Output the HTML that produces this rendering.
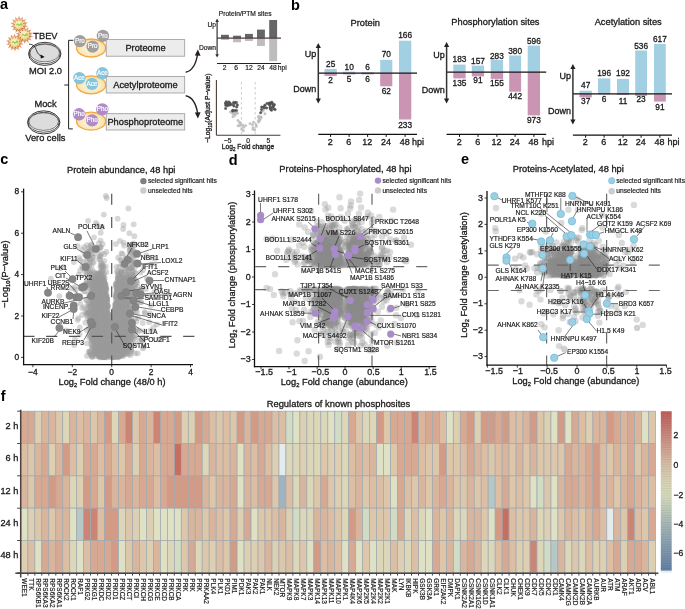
<!DOCTYPE html>
<html><head><meta charset="utf-8"><style>
html,body{margin:0;padding:0;background:#fff;width:685px;height:609px;overflow:hidden}
svg{display:block;font-family:"Liberation Sans",sans-serif;will-change:transform}
</style></head><body>
<svg width="685" height="609" viewBox="0 0 685 609">
<defs>
<radialGradient id="vir" cx="0.45" cy="0.4" r="0.62"><stop offset="0" stop-color="#fbf6dc"/><stop offset="0.55" stop-color="#f3e09a"/><stop offset="1" stop-color="#dcb060"/></radialGradient>
<radialGradient id="cell" cx="0.5" cy="0.55" r="0.6"><stop offset="0" stop-color="#fdf7e6"/><stop offset="0.6" stop-color="#fae9bc"/><stop offset="1" stop-color="#f6d990"/></radialGradient>
</defs>
<rect width="685" height="609" fill="#fff"/>
<text transform="translate(0.00,9.00) scale(1,1.04)" font-size="14.5" font-weight="bold" fill="#000">a</text>
<path d="M24.79,25.19 L27.43,26.47 L24.50,26.61Z M24.06,27.58 L25.89,29.88 L23.19,28.73Z M22.38,29.41 L23.03,32.28 L21.08,30.07Z M20.06,30.33 L19.40,33.20 L18.61,30.37Z M17.58,30.16 L15.74,32.45 L16.25,29.56Z M15.41,28.92 L12.76,30.20 L14.48,27.81Z M14.00,26.87 L11.06,26.87 L13.64,25.46Z M13.61,24.41 L10.97,23.13 L13.90,22.99Z M14.34,22.02 L12.51,19.72 L15.21,20.87Z M16.02,20.19 L15.37,17.32 L17.32,19.53Z M18.34,19.27 L19.00,16.40 L19.79,19.23Z M20.82,19.44 L22.66,17.15 L22.15,20.04Z M22.99,20.68 L25.64,19.40 L23.92,21.79Z M24.40,22.73 L27.34,22.73 L24.76,24.14Z" fill="#dc8a78" stroke="#d07060" stroke-width="0.3"/>
<circle cx="19.2" cy="24.8" r="6.2" fill="url(#vir)" stroke="#c8905a" stroke-width="0.5"/>
<path d="M16.599999999999998,25.2 q1,-2 2,-0.5 t2,-0.4 t1.4,1.2" fill="none" stroke="#9cc850" stroke-width="1.3"/>
<circle cx="23.9" cy="26.2" r="0.5" fill="#c8402e"/>
<circle cx="22.4" cy="28.5" r="0.5" fill="#c8402e"/>
<circle cx="19.8" cy="29.7" r="0.5" fill="#c8402e"/>
<circle cx="17.1" cy="29.2" r="0.5" fill="#c8402e"/>
<circle cx="15.0" cy="27.4" r="0.5" fill="#c8402e"/>
<circle cx="14.3" cy="24.7" r="0.5" fill="#c8402e"/>
<circle cx="15.1" cy="22.1" r="0.5" fill="#c8402e"/>
<circle cx="17.2" cy="20.3" r="0.5" fill="#c8402e"/>
<circle cx="20.0" cy="20.0" r="0.5" fill="#c8402e"/>
<circle cx="22.5" cy="21.1" r="0.5" fill="#c8402e"/>
<circle cx="23.9" cy="23.5" r="0.5" fill="#c8402e"/>
<path d="M30.19,35.49 L32.83,36.77 L29.90,36.91Z M29.46,37.88 L31.29,40.18 L28.59,39.03Z M27.78,39.71 L28.43,42.58 L26.48,40.37Z M25.46,40.63 L24.80,43.50 L24.01,40.67Z M22.98,40.46 L21.14,42.75 L21.65,39.86Z M20.81,39.22 L18.16,40.50 L19.88,38.11Z M19.40,37.17 L16.46,37.17 L19.04,35.76Z M19.01,34.71 L16.37,33.43 L19.30,33.29Z M19.74,32.32 L17.91,30.02 L20.61,31.17Z M21.42,30.49 L20.77,27.62 L22.72,29.83Z M23.74,29.57 L24.40,26.70 L25.19,29.53Z M26.22,29.74 L28.06,27.45 L27.55,30.34Z M28.39,30.98 L31.04,29.70 L29.32,32.09Z M29.80,33.03 L32.74,33.03 L30.16,34.44Z" fill="#dc8a78" stroke="#d07060" stroke-width="0.3"/>
<circle cx="24.6" cy="35.1" r="6.2" fill="url(#vir)" stroke="#c8905a" stroke-width="0.5"/>
<path d="M22.0,35.5 q1,-2 2,-0.5 t2,-0.4 t1.4,1.2" fill="none" stroke="#9cc850" stroke-width="1.3"/>
<circle cx="29.3" cy="36.5" r="0.5" fill="#c8402e"/>
<circle cx="27.8" cy="38.8" r="0.5" fill="#c8402e"/>
<circle cx="25.2" cy="40.0" r="0.5" fill="#c8402e"/>
<circle cx="22.5" cy="39.5" r="0.5" fill="#c8402e"/>
<circle cx="20.4" cy="37.7" r="0.5" fill="#c8402e"/>
<circle cx="19.7" cy="35.0" r="0.5" fill="#c8402e"/>
<circle cx="20.5" cy="32.4" r="0.5" fill="#c8402e"/>
<circle cx="22.6" cy="30.6" r="0.5" fill="#c8402e"/>
<circle cx="25.4" cy="30.3" r="0.5" fill="#c8402e"/>
<circle cx="27.9" cy="31.4" r="0.5" fill="#c8402e"/>
<circle cx="29.3" cy="33.8" r="0.5" fill="#c8402e"/>
<path d="M20.39,42.89 L23.03,44.17 L20.10,44.31Z M19.66,45.28 L21.49,47.58 L18.79,46.43Z M17.98,47.11 L18.63,49.98 L16.68,47.77Z M15.66,48.03 L15.00,50.90 L14.21,48.07Z M13.18,47.86 L11.34,50.15 L11.85,47.26Z M11.01,46.62 L8.36,47.90 L10.08,45.51Z M9.60,44.57 L6.66,44.57 L9.24,43.16Z M9.21,42.11 L6.57,40.83 L9.50,40.69Z M9.94,39.72 L8.11,37.42 L10.81,38.57Z M11.62,37.89 L10.97,35.02 L12.92,37.23Z M13.94,36.97 L14.60,34.10 L15.39,36.93Z M16.42,37.14 L18.26,34.85 L17.75,37.74Z M18.59,38.38 L21.24,37.10 L19.52,39.49Z M20.00,40.43 L22.94,40.43 L20.36,41.84Z" fill="#dc8a78" stroke="#d07060" stroke-width="0.3"/>
<circle cx="14.8" cy="42.5" r="6.2" fill="url(#vir)" stroke="#c8905a" stroke-width="0.5"/>
<path d="M12.200000000000001,42.9 q1,-2 2,-0.5 t2,-0.4 t1.4,1.2" fill="none" stroke="#9cc850" stroke-width="1.3"/>
<circle cx="19.5" cy="43.9" r="0.5" fill="#c8402e"/>
<circle cx="18.0" cy="46.2" r="0.5" fill="#c8402e"/>
<circle cx="15.4" cy="47.4" r="0.5" fill="#c8402e"/>
<circle cx="12.7" cy="46.9" r="0.5" fill="#c8402e"/>
<circle cx="10.6" cy="45.1" r="0.5" fill="#c8402e"/>
<circle cx="9.9" cy="42.4" r="0.5" fill="#c8402e"/>
<circle cx="10.7" cy="39.8" r="0.5" fill="#c8402e"/>
<circle cx="12.8" cy="38.0" r="0.5" fill="#c8402e"/>
<circle cx="15.6" cy="37.7" r="0.5" fill="#c8402e"/>
<circle cx="18.1" cy="38.8" r="0.5" fill="#c8402e"/>
<circle cx="19.5" cy="41.2" r="0.5" fill="#c8402e"/>
<text transform="translate(33.30,39.29) scale(1,1.04)" font-size="9.3" fill="#1a1a1a" stroke="#1a1a1a" stroke-width="0.30">TBEV</text>
<ellipse cx="44.75" cy="53.85" rx="16.2" ry="11.55" fill="#fff" stroke="#222" stroke-width="0.9"/>
<ellipse cx="44.75" cy="53.75" rx="15.5" ry="9.95" fill="none" stroke="#222" stroke-width="0.75"/>
<ellipse cx="44.75" cy="53.050000000000004" rx="14.8" ry="8.8" fill="#dcdcdc" stroke="#333" stroke-width="0.6"/>
<ellipse cx="43.7" cy="122.4" rx="16.2" ry="11.55" fill="#fff" stroke="#222" stroke-width="0.9"/>
<ellipse cx="43.7" cy="122.30000000000001" rx="15.5" ry="9.95" fill="none" stroke="#222" stroke-width="0.75"/>
<ellipse cx="43.7" cy="121.60000000000001" rx="14.8" ry="8.8" fill="#dcdcdc" stroke="#333" stroke-width="0.6"/>
<path d="M29,44.2 C33.5,44 35.5,47.5 36.5,50.5 C37.5,53.5 39.5,55.6 41.6,56.2" fill="none" stroke="#111" stroke-width="0.8"/>
<polygon points="44.7,56.9 40.6,54.5 40.8,58.6" fill="#111"/>
<text transform="translate(29.00,73.59) scale(1,1.04)" font-size="9.3" fill="#1a1a1a" stroke="#1a1a1a" stroke-width="0.30">MOI 2.0</text>
<text transform="translate(34.40,107.49) scale(1,1.04)" font-size="9.3" fill="#1a1a1a" stroke="#1a1a1a" stroke-width="0.30">Mock</text>
<text transform="translate(25.20,140.99) scale(1,1.04)" font-size="9.3" fill="#1a1a1a" stroke="#1a1a1a" stroke-width="0.30">Vero cells</text>
<path d="M73.2,40.3 H68.6 V128.9 H72.8" fill="none" stroke="#222" stroke-width="1"/>
<line x1="64.3" y1="85.0" x2="68.6" y2="85.0" stroke="#222" stroke-width="1"/>
<ellipse cx="91.1" cy="48.0" rx="14.6" ry="9.0" fill="url(#cell)" stroke="#f5a742" stroke-width="1.3"/>
<circle cx="79.9" cy="41.1" r="6.2" fill="#a09e9e"/>
<text transform="translate(79.90,42.99) scale(1,1.04)" font-size="6.3" text-anchor="middle" fill="#fff" stroke="#fff" stroke-width="0.18">Pro</text>
<circle cx="92.6" cy="46.6" r="6.2" fill="#a09e9e"/>
<text transform="translate(92.60,48.49) scale(1,1.04)" font-size="6.3" text-anchor="middle" fill="#fff" stroke="#fff" stroke-width="0.18">Pro</text>
<circle cx="102.9" cy="35.9" r="6.2" fill="#a09e9e"/>
<text transform="translate(102.90,37.79) scale(1,1.04)" font-size="6.3" text-anchor="middle" fill="#fff" stroke="#fff" stroke-width="0.18">Pro</text>
<rect x="106.20" y="39.60" width="78.50" height="16.60" fill="#ececec" stroke="#9a9a9a" stroke-width="0.8"/>
<text transform="translate(145.50,50.89) scale(1,1.04)" font-size="9.3" text-anchor="middle" fill="#1a1a1a" stroke="#1a1a1a" stroke-width="0.30">Proteome</text>
<ellipse cx="91.1" cy="84.8" rx="14.6" ry="9.0" fill="url(#cell)" stroke="#f5a742" stroke-width="1.3"/>
<circle cx="79.4" cy="78.1" r="6.2" fill="#84c4dc"/>
<text transform="translate(79.40,79.99) scale(1,1.04)" font-size="6.3" text-anchor="middle" fill="#fff" stroke="#fff" stroke-width="0.18">Ace</text>
<circle cx="92.0" cy="83.9" r="6.2" fill="#84c4dc"/>
<text transform="translate(92.00,85.79) scale(1,1.04)" font-size="6.3" text-anchor="middle" fill="#fff" stroke="#fff" stroke-width="0.18">Ace</text>
<circle cx="102.4" cy="73.3" r="6.2" fill="#84c4dc"/>
<text transform="translate(102.40,75.19) scale(1,1.04)" font-size="6.3" text-anchor="middle" fill="#fff" stroke="#fff" stroke-width="0.18">Ace</text>
<rect x="106.20" y="76.50" width="78.50" height="16.50" fill="#ececec" stroke="#9a9a9a" stroke-width="0.8"/>
<text transform="translate(145.50,87.74) scale(1,1.04)" font-size="9.3" text-anchor="middle" fill="#1a1a1a" stroke="#1a1a1a" stroke-width="0.30">Acetylproteome</text>
<ellipse cx="91.1" cy="121.2" rx="14.6" ry="9.0" fill="url(#cell)" stroke="#f5a742" stroke-width="1.3"/>
<circle cx="79.1" cy="114.3" r="6.2" fill="#ae8cc8"/>
<text transform="translate(79.10,116.19) scale(1,1.04)" font-size="6.3" text-anchor="middle" fill="#fff" stroke="#fff" stroke-width="0.18">Pho</text>
<circle cx="92.1" cy="120.4" r="6.2" fill="#ae8cc8"/>
<text transform="translate(92.10,122.29) scale(1,1.04)" font-size="6.3" text-anchor="middle" fill="#fff" stroke="#fff" stroke-width="0.18">Pho</text>
<circle cx="102.3" cy="109.4" r="6.2" fill="#ae8cc8"/>
<text transform="translate(102.30,111.29) scale(1,1.04)" font-size="6.3" text-anchor="middle" fill="#fff" stroke="#fff" stroke-width="0.18">Pho</text>
<rect x="106.20" y="113.70" width="78.50" height="16.30" fill="#ececec" stroke="#9a9a9a" stroke-width="0.8"/>
<text transform="translate(145.30,124.84) scale(1,1.04)" font-size="9.3" text-anchor="middle" fill="#1a1a1a" stroke="#1a1a1a" stroke-width="0.30">Phosphoproteome</text>
<path d="M185.7,72.2 C192,71 196,64 197.6,54" fill="none" stroke="#2a1e1e" stroke-width="1.4"/>
<polygon points="197.9,49.5 194.8,55.5 200.6,55.8" fill="#2a1e1e"/>
<path d="M185.7,95.8 C192,97 196,104 197.6,113" fill="none" stroke="#2a1e1e" stroke-width="1.4"/>
<polygon points="197.9,118.5 194.8,112.5 200.6,112.2" fill="#2a1e1e"/>
<text transform="translate(218.70,16.41) scale(1,1.04)" font-size="6.7" fill="#1a1a1a" stroke="#1a1a1a" stroke-width="0.18">Protein/PTM sites</text>
<rect x="221.00" y="34.80" width="7.90" height="3.30" fill="#666666"/>
<rect x="221.00" y="38.10" width="7.90" height="1.90" fill="#bdbdbd"/>
<rect x="233.10" y="35.70" width="7.90" height="2.40" fill="#666666"/>
<rect x="233.10" y="38.10" width="7.90" height="4.20" fill="#bdbdbd"/>
<rect x="245.00" y="33.90" width="7.90" height="4.20" fill="#666666"/>
<rect x="245.00" y="38.10" width="7.90" height="2.90" fill="#bdbdbd"/>
<rect x="257.00" y="29.60" width="7.90" height="8.50" fill="#666666"/>
<rect x="257.00" y="38.10" width="7.90" height="7.90" fill="#bdbdbd"/>
<rect x="269.20" y="20.00" width="7.90" height="18.10" fill="#666666"/>
<rect x="269.20" y="38.10" width="7.90" height="23.00" fill="#bdbdbd"/>
<line x1="217.0" y1="38.1" x2="281.0" y2="38.1" stroke="#4e3e3c" stroke-width="1.3"/>
<line x1="217.1" y1="20.5" x2="217.1" y2="56.0" stroke="#333" stroke-width="1.2"/>
<polygon points="217.1,18.6 215.3,22 218.9,22" fill="#333"/>
<polygon points="217.1,57.6 215.3,54.2 218.9,54.2" fill="#333"/>
<text transform="translate(216.00,27.21) scale(1,1.04)" font-size="6.7" text-anchor="end" fill="#1a1a1a" stroke="#1a1a1a" stroke-width="0.18">Up</text>
<text transform="translate(216.00,50.01) scale(1,1.04)" font-size="6.7" text-anchor="end" fill="#1a1a1a" stroke="#1a1a1a" stroke-width="0.18">Down</text>
<line x1="217.0" y1="63.5" x2="281.0" y2="63.5" stroke="#222" stroke-width="1"/>
<text transform="translate(224.60,70.41) scale(1,1.04)" font-size="6.7" text-anchor="middle" fill="#1a1a1a" stroke="#1a1a1a" stroke-width="0.18">2</text>
<text transform="translate(236.10,70.41) scale(1,1.04)" font-size="6.7" text-anchor="middle" fill="#1a1a1a" stroke="#1a1a1a" stroke-width="0.18">6</text>
<text transform="translate(248.90,70.41) scale(1,1.04)" font-size="6.7" text-anchor="middle" fill="#1a1a1a" stroke="#1a1a1a" stroke-width="0.18">12</text>
<text transform="translate(261.00,70.41) scale(1,1.04)" font-size="6.7" text-anchor="middle" fill="#1a1a1a" stroke="#1a1a1a" stroke-width="0.18">24</text>
<text transform="translate(272.90,70.41) scale(1,1.04)" font-size="6.7" text-anchor="middle" fill="#1a1a1a" stroke="#1a1a1a" stroke-width="0.18">48</text>
<text transform="translate(277.80,70.41) scale(1,1.04)" font-size="6.7" fill="#1a1a1a" stroke="#1a1a1a" stroke-width="0.18">hpi</text>
<line x1="216.4" y1="79.9" x2="216.4" y2="135.3" stroke="#4a3a38" stroke-width="1.1"/>
<line x1="216.4" y1="135.3" x2="280.4" y2="135.3" stroke="#4a3a38" stroke-width="1.1"/>
<line x1="241.4" y1="82.0" x2="241.4" y2="134.5" stroke="#aaa" stroke-width="0.6" stroke-dasharray="2.5,2.5"/>
<line x1="255.2" y1="82.0" x2="255.2" y2="134.5" stroke="#aaa" stroke-width="0.6" stroke-dasharray="2.5,2.5"/>
<circle cx="243.4" cy="130.8" r="1.2" fill="#c4c4c4" stroke="#b0b0b0" stroke-width="0.3"/>
<circle cx="259.8" cy="117.9" r="1.2" fill="#c4c4c4" stroke="#b0b0b0" stroke-width="0.3"/>
<circle cx="238.0" cy="120.5" r="1.2" fill="#c4c4c4" stroke="#b0b0b0" stroke-width="0.3"/>
<circle cx="258.6" cy="122.1" r="1.2" fill="#c4c4c4" stroke="#b0b0b0" stroke-width="0.3"/>
<circle cx="239.6" cy="122.4" r="1.2" fill="#c4c4c4" stroke="#b0b0b0" stroke-width="0.3"/>
<circle cx="261.8" cy="111.4" r="1.2" fill="#c4c4c4" stroke="#b0b0b0" stroke-width="0.3"/>
<circle cx="232.6" cy="113.1" r="1.2" fill="#c4c4c4" stroke="#b0b0b0" stroke-width="0.3"/>
<circle cx="263.3" cy="110.6" r="1.2" fill="#c4c4c4" stroke="#b0b0b0" stroke-width="0.3"/>
<circle cx="232.9" cy="112.1" r="1.2" fill="#c4c4c4" stroke="#b0b0b0" stroke-width="0.3"/>
<circle cx="259.4" cy="120.4" r="1.2" fill="#c4c4c4" stroke="#b0b0b0" stroke-width="0.3"/>
<circle cx="238.0" cy="125.7" r="1.2" fill="#c4c4c4" stroke="#b0b0b0" stroke-width="0.3"/>
<circle cx="258.3" cy="120.6" r="1.2" fill="#c4c4c4" stroke="#b0b0b0" stroke-width="0.3"/>
<circle cx="235.9" cy="113.2" r="1.2" fill="#c4c4c4" stroke="#b0b0b0" stroke-width="0.3"/>
<circle cx="250.0" cy="123.6" r="1.2" fill="#c4c4c4" stroke="#b0b0b0" stroke-width="0.3"/>
<circle cx="234.9" cy="114.4" r="1.2" fill="#c4c4c4" stroke="#b0b0b0" stroke-width="0.3"/>
<circle cx="261.2" cy="116.9" r="1.2" fill="#c4c4c4" stroke="#b0b0b0" stroke-width="0.3"/>
<circle cx="241.7" cy="129.3" r="1.2" fill="#c4c4c4" stroke="#b0b0b0" stroke-width="0.3"/>
<circle cx="256.4" cy="126.3" r="1.2" fill="#c4c4c4" stroke="#b0b0b0" stroke-width="0.3"/>
<circle cx="239.8" cy="125.8" r="1.2" fill="#c4c4c4" stroke="#b0b0b0" stroke-width="0.3"/>
<circle cx="259.6" cy="118.1" r="1.2" fill="#c4c4c4" stroke="#b0b0b0" stroke-width="0.3"/>
<circle cx="245.7" cy="125.6" r="1.2" fill="#c4c4c4" stroke="#b0b0b0" stroke-width="0.3"/>
<circle cx="253.0" cy="127.7" r="1.2" fill="#c4c4c4" stroke="#b0b0b0" stroke-width="0.3"/>
<circle cx="232.9" cy="113.8" r="1.2" fill="#c4c4c4" stroke="#b0b0b0" stroke-width="0.3"/>
<circle cx="256.1" cy="124.7" r="1.2" fill="#c4c4c4" stroke="#b0b0b0" stroke-width="0.3"/>
<circle cx="240.8" cy="125.1" r="1.2" fill="#c4c4c4" stroke="#b0b0b0" stroke-width="0.3"/>
<circle cx="253.5" cy="122.3" r="1.2" fill="#c4c4c4" stroke="#b0b0b0" stroke-width="0.3"/>
<circle cx="240.2" cy="123.0" r="1.2" fill="#c4c4c4" stroke="#b0b0b0" stroke-width="0.3"/>
<circle cx="259.8" cy="120.2" r="1.2" fill="#c4c4c4" stroke="#b0b0b0" stroke-width="0.3"/>
<circle cx="234.9" cy="115.5" r="1.2" fill="#c4c4c4" stroke="#b0b0b0" stroke-width="0.3"/>
<circle cx="262.3" cy="110.3" r="1.2" fill="#c4c4c4" stroke="#b0b0b0" stroke-width="0.3"/>
<circle cx="232.9" cy="116.8" r="1.2" fill="#c4c4c4" stroke="#b0b0b0" stroke-width="0.3"/>
<circle cx="258.5" cy="117.2" r="1.2" fill="#c4c4c4" stroke="#b0b0b0" stroke-width="0.3"/>
<circle cx="237.5" cy="113.2" r="1.2" fill="#c4c4c4" stroke="#b0b0b0" stroke-width="0.3"/>
<circle cx="260.8" cy="118.3" r="1.2" fill="#c4c4c4" stroke="#b0b0b0" stroke-width="0.3"/>
<circle cx="242.9" cy="125.1" r="1.2" fill="#c4c4c4" stroke="#b0b0b0" stroke-width="0.3"/>
<circle cx="254.8" cy="130.1" r="1.2" fill="#c4c4c4" stroke="#b0b0b0" stroke-width="0.3"/>
<circle cx="235.1" cy="113.3" r="1.2" fill="#c4c4c4" stroke="#b0b0b0" stroke-width="0.3"/>
<circle cx="252.5" cy="124.7" r="1.2" fill="#c4c4c4" stroke="#b0b0b0" stroke-width="0.3"/>
<circle cx="243.6" cy="127.3" r="1.2" fill="#c4c4c4" stroke="#b0b0b0" stroke-width="0.3"/>
<circle cx="253.0" cy="129.2" r="1.2" fill="#c4c4c4" stroke="#b0b0b0" stroke-width="0.3"/>
<circle cx="230.4" cy="112.0" r="1.2" fill="#c4c4c4" stroke="#b0b0b0" stroke-width="0.3"/>
<circle cx="264.9" cy="113.8" r="1.2" fill="#c4c4c4" stroke="#b0b0b0" stroke-width="0.3"/>
<circle cx="234.5" cy="113.4" r="1.2" fill="#c4c4c4" stroke="#b0b0b0" stroke-width="0.3"/>
<circle cx="258.7" cy="116.1" r="1.2" fill="#c4c4c4" stroke="#b0b0b0" stroke-width="0.3"/>
<circle cx="225.9" cy="103.0" r="1.25" fill="#5a5a5a" stroke="#444" stroke-width="0.3"/>
<circle cx="235.2" cy="102.5" r="1.25" fill="#5a5a5a" stroke="#444" stroke-width="0.3"/>
<circle cx="225.6" cy="103.7" r="1.25" fill="#5a5a5a" stroke="#444" stroke-width="0.3"/>
<circle cx="226.3" cy="101.7" r="1.25" fill="#5a5a5a" stroke="#444" stroke-width="0.3"/>
<circle cx="225.8" cy="105.4" r="1.25" fill="#5a5a5a" stroke="#444" stroke-width="0.3"/>
<circle cx="233.9" cy="106.0" r="1.25" fill="#5a5a5a" stroke="#444" stroke-width="0.3"/>
<circle cx="227.1" cy="103.7" r="1.25" fill="#5a5a5a" stroke="#444" stroke-width="0.3"/>
<circle cx="232.6" cy="110.9" r="1.25" fill="#5a5a5a" stroke="#444" stroke-width="0.3"/>
<circle cx="237.4" cy="104.9" r="1.25" fill="#5a5a5a" stroke="#444" stroke-width="0.3"/>
<circle cx="225.6" cy="108.4" r="1.25" fill="#5a5a5a" stroke="#444" stroke-width="0.3"/>
<circle cx="236.6" cy="106.9" r="1.25" fill="#5a5a5a" stroke="#444" stroke-width="0.3"/>
<circle cx="234.8" cy="110.6" r="1.25" fill="#5a5a5a" stroke="#444" stroke-width="0.3"/>
<circle cx="232.8" cy="110.3" r="1.25" fill="#5a5a5a" stroke="#444" stroke-width="0.3"/>
<circle cx="225.8" cy="102.9" r="1.25" fill="#5a5a5a" stroke="#444" stroke-width="0.3"/>
<circle cx="228.8" cy="102.0" r="1.25" fill="#5a5a5a" stroke="#444" stroke-width="0.3"/>
<circle cx="236.4" cy="102.6" r="1.25" fill="#5a5a5a" stroke="#444" stroke-width="0.3"/>
<circle cx="233.6" cy="102.4" r="1.25" fill="#5a5a5a" stroke="#444" stroke-width="0.3"/>
<circle cx="229.8" cy="105.1" r="1.25" fill="#5a5a5a" stroke="#444" stroke-width="0.3"/>
<circle cx="227.7" cy="105.7" r="1.25" fill="#5a5a5a" stroke="#444" stroke-width="0.3"/>
<circle cx="231.9" cy="104.6" r="1.25" fill="#5a5a5a" stroke="#444" stroke-width="0.3"/>
<circle cx="234.3" cy="103.5" r="1.25" fill="#5a5a5a" stroke="#444" stroke-width="0.3"/>
<circle cx="227.8" cy="104.1" r="1.25" fill="#5a5a5a" stroke="#444" stroke-width="0.3"/>
<circle cx="230.0" cy="103.1" r="1.25" fill="#5a5a5a" stroke="#444" stroke-width="0.3"/>
<circle cx="236.5" cy="110.6" r="1.25" fill="#5a5a5a" stroke="#444" stroke-width="0.3"/>
<circle cx="261.7" cy="107.0" r="1.25" fill="#5a5a5a" stroke="#444" stroke-width="0.3"/>
<circle cx="263.6" cy="107.3" r="1.25" fill="#5a5a5a" stroke="#444" stroke-width="0.3"/>
<circle cx="264.3" cy="107.7" r="1.25" fill="#5a5a5a" stroke="#444" stroke-width="0.3"/>
<circle cx="274.3" cy="104.6" r="1.25" fill="#5a5a5a" stroke="#444" stroke-width="0.3"/>
<circle cx="270.1" cy="107.3" r="1.25" fill="#5a5a5a" stroke="#444" stroke-width="0.3"/>
<circle cx="271.7" cy="102.2" r="1.25" fill="#5a5a5a" stroke="#444" stroke-width="0.3"/>
<circle cx="271.5" cy="110.2" r="1.25" fill="#5a5a5a" stroke="#444" stroke-width="0.3"/>
<circle cx="269.4" cy="104.7" r="1.25" fill="#5a5a5a" stroke="#444" stroke-width="0.3"/>
<circle cx="270.4" cy="108.3" r="1.25" fill="#5a5a5a" stroke="#444" stroke-width="0.3"/>
<circle cx="270.2" cy="103.3" r="1.25" fill="#5a5a5a" stroke="#444" stroke-width="0.3"/>
<circle cx="275.1" cy="109.6" r="1.25" fill="#5a5a5a" stroke="#444" stroke-width="0.3"/>
<circle cx="266.6" cy="108.0" r="1.25" fill="#5a5a5a" stroke="#444" stroke-width="0.3"/>
<circle cx="260.6" cy="112.8" r="1.25" fill="#5a5a5a" stroke="#444" stroke-width="0.3"/>
<circle cx="272.7" cy="107.2" r="1.25" fill="#5a5a5a" stroke="#444" stroke-width="0.3"/>
<circle cx="271.8" cy="103.3" r="1.25" fill="#5a5a5a" stroke="#444" stroke-width="0.3"/>
<circle cx="264.8" cy="105.3" r="1.25" fill="#5a5a5a" stroke="#444" stroke-width="0.3"/>
<circle cx="269.2" cy="103.0" r="1.25" fill="#5a5a5a" stroke="#444" stroke-width="0.3"/>
<circle cx="273.9" cy="105.4" r="1.25" fill="#5a5a5a" stroke="#444" stroke-width="0.3"/>
<circle cx="266.9" cy="103.6" r="1.25" fill="#5a5a5a" stroke="#444" stroke-width="0.3"/>
<circle cx="270.6" cy="109.2" r="1.25" fill="#5a5a5a" stroke="#444" stroke-width="0.3"/>
<circle cx="269.8" cy="104.2" r="1.25" fill="#5a5a5a" stroke="#444" stroke-width="0.3"/>
<circle cx="272.2" cy="102.9" r="1.25" fill="#5a5a5a" stroke="#444" stroke-width="0.3"/>
<circle cx="272.8" cy="106.7" r="1.25" fill="#5a5a5a" stroke="#444" stroke-width="0.3"/>
<circle cx="264.5" cy="107.7" r="1.25" fill="#5a5a5a" stroke="#444" stroke-width="0.3"/>
<circle cx="269.7" cy="104.4" r="1.25" fill="#5a5a5a" stroke="#444" stroke-width="0.3"/>
<circle cx="273.1" cy="105.2" r="1.25" fill="#5a5a5a" stroke="#444" stroke-width="0.3"/>
<circle cx="273.8" cy="108.8" r="1.25" fill="#5a5a5a" stroke="#444" stroke-width="0.3"/>
<circle cx="261.5" cy="109.5" r="1.25" fill="#5a5a5a" stroke="#444" stroke-width="0.3"/>
<text transform="translate(227.60,142.61) scale(1,1.04)" font-size="6.7" text-anchor="middle" fill="#1a1a1a" stroke="#1a1a1a" stroke-width="0.18">−5</text>
<text transform="translate(248.20,142.61) scale(1,1.04)" font-size="6.7" text-anchor="middle" fill="#1a1a1a" stroke="#1a1a1a" stroke-width="0.18">0</text>
<text transform="translate(268.30,142.61) scale(1,1.04)" font-size="6.7" text-anchor="middle" fill="#1a1a1a" stroke="#1a1a1a" stroke-width="0.18">5</text>
<text transform="translate(248,149.2) scale(1,1.04)" font-size="6.7" text-anchor="middle" fill="#1a1a1a" stroke="#1a1a1a" stroke-width="0.3">Log<tspan font-size="4.5" dy="1.5">2</tspan><tspan dy="-1.5"> Fold change</tspan></text>
<text transform="translate(210.3,108.2) rotate(-90) scale(1,1.04)" font-size="6.7" text-anchor="middle" fill="#1a1a1a" stroke="#1a1a1a" stroke-width="0.3">−Log<tspan font-size="4.5" dy="1.5">10</tspan><tspan dy="-1.5">(Adjust P−value)</tspan></text>
<text transform="translate(291.00,10.10) scale(1,1.04)" font-size="14.5" font-weight="bold" fill="#000">b</text>
<text transform="translate(365.20,26.39) scale(1,1.04)" font-size="9.3" text-anchor="middle" fill="#1a1a1a" stroke="#1a1a1a" stroke-width="0.30">Protein</text>
<rect x="324.50" y="69.00" width="12.30" height="4.20" fill="#a2d0e2"/>
<rect x="324.50" y="73.20" width="12.30" height="2.70" fill="#c995b3"/>
<text transform="translate(330.65,67.09) scale(1,1.04)" font-size="8.3" text-anchor="middle" fill="#1a1a1a" stroke="#1a1a1a" stroke-width="0.30">25</text>
<text transform="translate(330.65,83.29) scale(1,1.04)" font-size="8.3" text-anchor="middle" fill="#1a1a1a" stroke="#1a1a1a" stroke-width="0.30">2</text>
<rect x="343.00" y="71.70" width="12.30" height="1.50" fill="#a2d0e2"/>
<rect x="343.00" y="73.20" width="12.30" height="1.20" fill="#c995b3"/>
<text transform="translate(349.15,69.99) scale(1,1.04)" font-size="8.3" text-anchor="middle" fill="#1a1a1a" stroke="#1a1a1a" stroke-width="0.30">10</text>
<text transform="translate(349.15,82.39) scale(1,1.04)" font-size="8.3" text-anchor="middle" fill="#1a1a1a" stroke="#1a1a1a" stroke-width="0.30">5</text>
<rect x="361.50" y="72.20" width="12.30" height="1.00" fill="#a2d0e2"/>
<rect x="361.50" y="73.20" width="12.30" height="1.20" fill="#c995b3"/>
<text transform="translate(367.65,70.49) scale(1,1.04)" font-size="8.3" text-anchor="middle" fill="#1a1a1a" stroke="#1a1a1a" stroke-width="0.30">6</text>
<text transform="translate(367.65,81.89) scale(1,1.04)" font-size="8.3" text-anchor="middle" fill="#1a1a1a" stroke="#1a1a1a" stroke-width="0.30">6</text>
<rect x="380.20" y="59.90" width="12.10" height="13.30" fill="#a2d0e2"/>
<rect x="380.20" y="73.20" width="12.10" height="13.10" fill="#c995b3"/>
<text transform="translate(386.25,57.19) scale(1,1.04)" font-size="8.3" text-anchor="middle" fill="#1a1a1a" stroke="#1a1a1a" stroke-width="0.30">70</text>
<text transform="translate(386.25,94.19) scale(1,1.04)" font-size="8.3" text-anchor="middle" fill="#1a1a1a" stroke="#1a1a1a" stroke-width="0.30">62</text>
<rect x="399.00" y="40.70" width="12.30" height="32.50" fill="#a2d0e2"/>
<rect x="399.00" y="73.20" width="12.30" height="46.30" fill="#c995b3"/>
<text transform="translate(405.15,38.19) scale(1,1.04)" font-size="8.3" text-anchor="middle" fill="#1a1a1a" stroke="#1a1a1a" stroke-width="0.30">166</text>
<text transform="translate(405.15,127.69) scale(1,1.04)" font-size="8.3" text-anchor="middle" fill="#1a1a1a" stroke="#1a1a1a" stroke-width="0.30">233</text>
<line x1="318.3" y1="73.2" x2="417.0" y2="73.2" stroke="#1a1010" stroke-width="1.2"/>
<line x1="318.3" y1="46.1" x2="318.3" y2="100.5" stroke="#333" stroke-width="1.5"/>
<polygon points="318.3,43.1 315.7,48.1 320.90000000000003,48.1" fill="#222"/>
<polygon points="318.3,103.5 315.7,98.5 320.90000000000003,98.5" fill="#222"/>
<text transform="translate(316.20,56.60) scale(1,1.04)" font-size="9.0" text-anchor="end" fill="#1a1a1a" stroke="#1a1a1a" stroke-width="0.30">Up</text>
<text transform="translate(316.20,91.90) scale(1,1.04)" font-size="9.0" text-anchor="end" fill="#1a1a1a" stroke="#1a1a1a" stroke-width="0.30">Down</text>
<line x1="318.3" y1="134.3" x2="417.0" y2="134.3" stroke="#111" stroke-width="1.2"/>
<line x1="330.6" y1="134.3" x2="330.6" y2="136.9" stroke="#111" stroke-width="1.0"/>
<text transform="translate(330.35,145.20) scale(1,1.04)" font-size="9.0" text-anchor="middle" fill="#1a1a1a" stroke="#1a1a1a" stroke-width="0.30">2</text>
<line x1="349.1" y1="134.3" x2="349.1" y2="136.9" stroke="#111" stroke-width="1.0"/>
<text transform="translate(348.85,145.20) scale(1,1.04)" font-size="9.0" text-anchor="middle" fill="#1a1a1a" stroke="#1a1a1a" stroke-width="0.30">6</text>
<line x1="367.6" y1="134.3" x2="367.6" y2="136.9" stroke="#111" stroke-width="1.0"/>
<text transform="translate(367.35,145.20) scale(1,1.04)" font-size="9.0" text-anchor="middle" fill="#1a1a1a" stroke="#1a1a1a" stroke-width="0.30">12</text>
<line x1="386.2" y1="134.3" x2="386.2" y2="136.9" stroke="#111" stroke-width="1.0"/>
<text transform="translate(385.95,145.20) scale(1,1.04)" font-size="9.0" text-anchor="middle" fill="#1a1a1a" stroke="#1a1a1a" stroke-width="0.30">24</text>
<line x1="405.1" y1="134.3" x2="405.1" y2="136.9" stroke="#111" stroke-width="1.0"/>
<text transform="translate(404.85,145.20) scale(1,1.04)" font-size="9.0" text-anchor="middle" fill="#1a1a1a" stroke="#1a1a1a" stroke-width="0.30">48</text>
<text transform="translate(412.00,145.20) scale(1,1.04)" font-size="9.0" fill="#1a1a1a" stroke="#1a1a1a" stroke-width="0.30">hpi</text>
<text transform="translate(495.40,25.39) scale(1,1.04)" font-size="9.3" text-anchor="middle" fill="#1a1a1a" stroke="#1a1a1a" stroke-width="0.30">Phosphorylation sites</text>
<rect x="453.30" y="64.60" width="12.30" height="7.60" fill="#a2d0e2"/>
<rect x="453.30" y="72.20" width="12.30" height="6.20" fill="#c995b3"/>
<text transform="translate(459.45,62.39) scale(1,1.04)" font-size="8.3" text-anchor="middle" fill="#1a1a1a" stroke="#1a1a1a" stroke-width="0.30">183</text>
<text transform="translate(459.45,86.29) scale(1,1.04)" font-size="8.3" text-anchor="middle" fill="#1a1a1a" stroke="#1a1a1a" stroke-width="0.30">135</text>
<rect x="471.80" y="65.60" width="12.30" height="6.60" fill="#a2d0e2"/>
<rect x="471.80" y="72.20" width="12.30" height="4.20" fill="#c995b3"/>
<text transform="translate(477.95,64.09) scale(1,1.04)" font-size="8.3" text-anchor="middle" fill="#1a1a1a" stroke="#1a1a1a" stroke-width="0.30">157</text>
<text transform="translate(477.95,82.89) scale(1,1.04)" font-size="8.3" text-anchor="middle" fill="#1a1a1a" stroke="#1a1a1a" stroke-width="0.30">91</text>
<rect x="490.70" y="59.90" width="12.40" height="12.30" fill="#a2d0e2"/>
<rect x="490.70" y="72.20" width="12.40" height="6.70" fill="#c995b3"/>
<text transform="translate(496.90,58.69) scale(1,1.04)" font-size="8.3" text-anchor="middle" fill="#1a1a1a" stroke="#1a1a1a" stroke-width="0.30">283</text>
<text transform="translate(496.90,86.29) scale(1,1.04)" font-size="8.3" text-anchor="middle" fill="#1a1a1a" stroke="#1a1a1a" stroke-width="0.30">155</text>
<rect x="509.20" y="55.50" width="11.90" height="16.70" fill="#a2d0e2"/>
<rect x="509.20" y="72.20" width="11.90" height="19.50" fill="#c995b3"/>
<text transform="translate(515.15,53.79) scale(1,1.04)" font-size="8.3" text-anchor="middle" fill="#1a1a1a" stroke="#1a1a1a" stroke-width="0.30">380</text>
<text transform="translate(515.15,99.39) scale(1,1.04)" font-size="8.3" text-anchor="middle" fill="#1a1a1a" stroke="#1a1a1a" stroke-width="0.30">442</text>
<rect x="527.70" y="45.60" width="12.30" height="26.60" fill="#a2d0e2"/>
<rect x="527.70" y="72.20" width="12.30" height="43.20" fill="#c995b3"/>
<text transform="translate(533.85,43.69) scale(1,1.04)" font-size="8.3" text-anchor="middle" fill="#1a1a1a" stroke="#1a1a1a" stroke-width="0.30">596</text>
<text transform="translate(533.85,123.29) scale(1,1.04)" font-size="8.3" text-anchor="middle" fill="#1a1a1a" stroke="#1a1a1a" stroke-width="0.30">973</text>
<line x1="446.6" y1="72.2" x2="546.2" y2="72.2" stroke="#1a1010" stroke-width="1.2"/>
<line x1="446.6" y1="44.9" x2="446.6" y2="100.5" stroke="#333" stroke-width="1.5"/>
<polygon points="446.6,41.9 444.0,46.9 449.20000000000005,46.9" fill="#222"/>
<polygon points="446.6,103.5 444.0,98.5 449.20000000000005,98.5" fill="#222"/>
<text transform="translate(444.80,58.20) scale(1,1.04)" font-size="9.0" text-anchor="end" fill="#1a1a1a" stroke="#1a1a1a" stroke-width="0.30">Up</text>
<text transform="translate(444.80,92.70) scale(1,1.04)" font-size="9.0" text-anchor="end" fill="#1a1a1a" stroke="#1a1a1a" stroke-width="0.30">Down</text>
<line x1="446.6" y1="134.3" x2="546.2" y2="134.3" stroke="#111" stroke-width="1.2"/>
<line x1="459.5" y1="134.3" x2="459.5" y2="136.9" stroke="#111" stroke-width="1.0"/>
<text transform="translate(459.15,144.60) scale(1,1.04)" font-size="9.0" text-anchor="middle" fill="#1a1a1a" stroke="#1a1a1a" stroke-width="0.30">2</text>
<line x1="478.0" y1="134.3" x2="478.0" y2="136.9" stroke="#111" stroke-width="1.0"/>
<text transform="translate(477.65,144.60) scale(1,1.04)" font-size="9.0" text-anchor="middle" fill="#1a1a1a" stroke="#1a1a1a" stroke-width="0.30">6</text>
<line x1="496.9" y1="134.3" x2="496.9" y2="136.9" stroke="#111" stroke-width="1.0"/>
<text transform="translate(496.60,144.60) scale(1,1.04)" font-size="9.0" text-anchor="middle" fill="#1a1a1a" stroke="#1a1a1a" stroke-width="0.30">12</text>
<line x1="515.1" y1="134.3" x2="515.1" y2="136.9" stroke="#111" stroke-width="1.0"/>
<text transform="translate(514.85,144.60) scale(1,1.04)" font-size="9.0" text-anchor="middle" fill="#1a1a1a" stroke="#1a1a1a" stroke-width="0.30">24</text>
<line x1="533.9" y1="134.3" x2="533.9" y2="136.9" stroke="#111" stroke-width="1.0"/>
<text transform="translate(533.55,144.60) scale(1,1.04)" font-size="9.0" text-anchor="middle" fill="#1a1a1a" stroke="#1a1a1a" stroke-width="0.30">48</text>
<text transform="translate(542.00,144.60) scale(1,1.04)" font-size="9.0" fill="#1a1a1a" stroke="#1a1a1a" stroke-width="0.30">hpi</text>
<text transform="translate(628.20,25.39) scale(1,1.04)" font-size="9.3" text-anchor="middle" fill="#1a1a1a" stroke="#1a1a1a" stroke-width="0.30">Acetylation sites</text>
<rect x="579.50" y="90.70" width="12.30" height="3.20" fill="#a2d0e2"/>
<rect x="579.50" y="93.90" width="12.30" height="3.50" fill="#c995b3"/>
<text transform="translate(585.65,88.29) scale(1,1.04)" font-size="8.3" text-anchor="middle" fill="#1a1a1a" stroke="#1a1a1a" stroke-width="0.30">47</text>
<text transform="translate(585.65,104.09) scale(1,1.04)" font-size="8.3" text-anchor="middle" fill="#1a1a1a" stroke="#1a1a1a" stroke-width="0.30">37</text>
<rect x="598.00" y="78.40" width="12.30" height="15.50" fill="#a2d0e2"/>
<rect x="598.00" y="93.90" width="12.30" height="0.50" fill="#c995b3"/>
<text transform="translate(604.15,75.99) scale(1,1.04)" font-size="8.3" text-anchor="middle" fill="#1a1a1a" stroke="#1a1a1a" stroke-width="0.30">196</text>
<text transform="translate(604.15,102.29) scale(1,1.04)" font-size="8.3" text-anchor="middle" fill="#1a1a1a" stroke="#1a1a1a" stroke-width="0.30">6</text>
<rect x="617.00" y="78.90" width="12.00" height="15.00" fill="#a2d0e2"/>
<rect x="617.00" y="93.90" width="12.00" height="1.10" fill="#c995b3"/>
<text transform="translate(623.00,75.99) scale(1,1.04)" font-size="8.3" text-anchor="middle" fill="#1a1a1a" stroke="#1a1a1a" stroke-width="0.30">192</text>
<text transform="translate(623.00,104.09) scale(1,1.04)" font-size="8.3" text-anchor="middle" fill="#1a1a1a" stroke="#1a1a1a" stroke-width="0.30">11</text>
<rect x="635.20" y="50.50" width="11.80" height="43.40" fill="#a2d0e2"/>
<rect x="635.20" y="93.90" width="11.80" height="2.00" fill="#c995b3"/>
<text transform="translate(641.10,48.59) scale(1,1.04)" font-size="8.3" text-anchor="middle" fill="#1a1a1a" stroke="#1a1a1a" stroke-width="0.30">536</text>
<text transform="translate(641.10,102.49) scale(1,1.04)" font-size="8.3" text-anchor="middle" fill="#1a1a1a" stroke="#1a1a1a" stroke-width="0.30">23</text>
<rect x="654.00" y="43.90" width="11.80" height="50.00" fill="#a2d0e2"/>
<rect x="654.00" y="93.90" width="11.80" height="7.70" fill="#c995b3"/>
<text transform="translate(659.90,41.89) scale(1,1.04)" font-size="8.3" text-anchor="middle" fill="#1a1a1a" stroke="#1a1a1a" stroke-width="0.30">617</text>
<text transform="translate(659.90,110.19) scale(1,1.04)" font-size="8.3" text-anchor="middle" fill="#1a1a1a" stroke="#1a1a1a" stroke-width="0.30">91</text>
<line x1="572.9" y1="93.9" x2="672.0" y2="93.9" stroke="#1a1010" stroke-width="1.2"/>
<line x1="572.9" y1="67.1" x2="572.9" y2="121.5" stroke="#333" stroke-width="1.5"/>
<polygon points="572.9,64.1 570.3,69.1 575.5,69.1" fill="#222"/>
<polygon points="572.9,124.5 570.3,119.5 575.5,119.5" fill="#222"/>
<text transform="translate(571.00,78.60) scale(1,1.04)" font-size="9.0" text-anchor="end" fill="#1a1a1a" stroke="#1a1a1a" stroke-width="0.30">Up</text>
<text transform="translate(571.00,114.40) scale(1,1.04)" font-size="9.0" text-anchor="end" fill="#1a1a1a" stroke="#1a1a1a" stroke-width="0.30">Down</text>
<line x1="572.9" y1="135.1" x2="672.0" y2="135.1" stroke="#111" stroke-width="1.2"/>
<line x1="585.6" y1="135.1" x2="585.6" y2="137.7" stroke="#111" stroke-width="1.0"/>
<text transform="translate(585.35,145.00) scale(1,1.04)" font-size="9.0" text-anchor="middle" fill="#1a1a1a" stroke="#1a1a1a" stroke-width="0.30">2</text>
<line x1="604.1" y1="135.1" x2="604.1" y2="137.7" stroke="#111" stroke-width="1.0"/>
<text transform="translate(603.85,145.00) scale(1,1.04)" font-size="9.0" text-anchor="middle" fill="#1a1a1a" stroke="#1a1a1a" stroke-width="0.30">6</text>
<line x1="623.0" y1="135.1" x2="623.0" y2="137.7" stroke="#111" stroke-width="1.0"/>
<text transform="translate(622.70,145.00) scale(1,1.04)" font-size="9.0" text-anchor="middle" fill="#1a1a1a" stroke="#1a1a1a" stroke-width="0.30">12</text>
<line x1="641.1" y1="135.1" x2="641.1" y2="137.7" stroke="#111" stroke-width="1.0"/>
<text transform="translate(640.80,145.00) scale(1,1.04)" font-size="9.0" text-anchor="middle" fill="#1a1a1a" stroke="#1a1a1a" stroke-width="0.30">24</text>
<line x1="659.9" y1="135.1" x2="659.9" y2="137.7" stroke="#111" stroke-width="1.0"/>
<text transform="translate(659.60,145.00) scale(1,1.04)" font-size="9.0" text-anchor="middle" fill="#1a1a1a" stroke="#1a1a1a" stroke-width="0.30">48</text>
<text transform="translate(667.50,145.00) scale(1,1.04)" font-size="9.0" fill="#1a1a1a" stroke="#1a1a1a" stroke-width="0.30">hpi</text>
<text transform="translate(0.20,163.80) scale(1,1.04)" font-size="14.5" font-weight="bold" fill="#000">c</text>
<text transform="translate(121.20,173.09) scale(1,1.04)" font-size="9.3" text-anchor="middle" fill="#1a1a1a" stroke="#1a1a1a" stroke-width="0.30">Protein abundance, 48 hpi</text>
<circle cx="143.4" cy="181.1" r="3.2" fill="#7f7f7f"/>
<text transform="translate(148.00,183.11) scale(1,1.04)" font-size="6.7" fill="#1a1a1a" stroke="#1a1a1a" stroke-width="0.18">selected significant hits</text>
<circle cx="143.4" cy="190.5" r="3.2" fill="#cccccc"/>
<text transform="translate(148.00,192.51) scale(1,1.04)" font-size="6.7" fill="#1a1a1a" stroke="#1a1a1a" stroke-width="0.18">unselected hits</text>
<g fill="#9c9c9c" fill-opacity="0.4">
<circle cx="105.4" cy="300.2" r="2.9"/>
<circle cx="101.3" cy="347.3" r="2.9"/>
<circle cx="98.9" cy="321.8" r="2.9"/>
<circle cx="98.2" cy="312.3" r="2.9"/>
<circle cx="96.9" cy="321.8" r="2.9"/>
<circle cx="102.5" cy="294.4" r="2.9"/>
<circle cx="99.2" cy="328.2" r="2.9"/>
<circle cx="101.5" cy="319.5" r="2.9"/>
<circle cx="98.6" cy="310.1" r="2.9"/>
<circle cx="100.3" cy="320.7" r="2.9"/>
<circle cx="102.2" cy="318.4" r="2.9"/>
<circle cx="116.4" cy="330.0" r="2.9"/>
<circle cx="96.9" cy="321.5" r="2.9"/>
<circle cx="107.1" cy="299.0" r="2.9"/>
<circle cx="97.9" cy="352.0" r="2.9"/>
<circle cx="111.4" cy="347.0" r="2.9"/>
<circle cx="118.9" cy="289.7" r="2.9"/>
<circle cx="120.2" cy="289.4" r="2.9"/>
<circle cx="112.9" cy="327.9" r="2.9"/>
<circle cx="118.6" cy="341.9" r="2.9"/>
<circle cx="128.1" cy="317.9" r="2.9"/>
<circle cx="107.5" cy="318.2" r="2.9"/>
<circle cx="96.3" cy="324.0" r="2.9"/>
<circle cx="100.5" cy="318.7" r="2.9"/>
<circle cx="117.5" cy="336.4" r="2.9"/>
<circle cx="94.3" cy="329.9" r="2.9"/>
<circle cx="118.7" cy="344.6" r="2.9"/>
<circle cx="103.9" cy="298.7" r="2.9"/>
<circle cx="124.6" cy="323.5" r="2.9"/>
<circle cx="120.2" cy="286.3" r="2.9"/>
<circle cx="122.5" cy="338.0" r="2.9"/>
<circle cx="101.1" cy="350.0" r="2.9"/>
<circle cx="103.0" cy="288.9" r="2.9"/>
<circle cx="117.3" cy="349.7" r="2.9"/>
<circle cx="102.1" cy="294.8" r="2.9"/>
<circle cx="94.8" cy="289.5" r="2.9"/>
<circle cx="100.7" cy="297.4" r="2.9"/>
<circle cx="119.9" cy="352.4" r="2.9"/>
<circle cx="95.4" cy="313.9" r="2.9"/>
<circle cx="114.7" cy="322.2" r="2.9"/>
<circle cx="101.4" cy="307.4" r="2.9"/>
<circle cx="96.8" cy="292.9" r="2.9"/>
<circle cx="99.8" cy="357.3" r="2.9"/>
<circle cx="117.4" cy="344.3" r="2.9"/>
<circle cx="97.8" cy="325.8" r="2.9"/>
<circle cx="112.9" cy="327.4" r="2.9"/>
<circle cx="106.1" cy="336.1" r="2.9"/>
<circle cx="100.6" cy="278.9" r="2.9"/>
<circle cx="97.3" cy="323.7" r="2.9"/>
<circle cx="95.1" cy="300.4" r="2.9"/>
<circle cx="120.4" cy="343.5" r="2.9"/>
<circle cx="124.7" cy="320.2" r="2.9"/>
<circle cx="124.3" cy="316.4" r="2.9"/>
<circle cx="116.1" cy="352.8" r="2.9"/>
<circle cx="103.3" cy="298.0" r="2.9"/>
<circle cx="99.6" cy="295.9" r="2.9"/>
<circle cx="96.5" cy="347.2" r="2.9"/>
<circle cx="132.8" cy="293.6" r="2.9"/>
<circle cx="93.9" cy="301.6" r="2.9"/>
<circle cx="104.4" cy="357.2" r="2.9"/>
<circle cx="122.1" cy="325.5" r="2.9"/>
<circle cx="102.7" cy="307.0" r="2.9"/>
<circle cx="101.6" cy="282.3" r="2.9"/>
<circle cx="107.1" cy="312.7" r="2.9"/>
<circle cx="106.5" cy="356.9" r="2.9"/>
<circle cx="115.3" cy="323.2" r="2.9"/>
<circle cx="104.3" cy="330.9" r="2.9"/>
<circle cx="113.8" cy="343.7" r="2.9"/>
<circle cx="105.5" cy="301.1" r="2.9"/>
<circle cx="122.2" cy="345.1" r="2.9"/>
<circle cx="104.2" cy="285.8" r="2.9"/>
<circle cx="107.2" cy="299.6" r="2.9"/>
<circle cx="110.0" cy="334.5" r="2.9"/>
<circle cx="114.2" cy="317.5" r="2.9"/>
<circle cx="114.3" cy="328.1" r="2.9"/>
<circle cx="94.0" cy="320.6" r="2.9"/>
<circle cx="112.6" cy="328.8" r="2.9"/>
<circle cx="116.8" cy="345.9" r="2.9"/>
<circle cx="119.5" cy="326.7" r="2.9"/>
<circle cx="99.0" cy="288.0" r="2.9"/>
<circle cx="99.6" cy="292.5" r="2.9"/>
<circle cx="105.8" cy="287.5" r="2.9"/>
<circle cx="122.9" cy="340.2" r="2.9"/>
<circle cx="116.5" cy="329.3" r="2.9"/>
<circle cx="100.2" cy="316.2" r="2.9"/>
<circle cx="98.6" cy="343.2" r="2.9"/>
<circle cx="104.9" cy="356.2" r="2.9"/>
<circle cx="120.6" cy="351.0" r="2.9"/>
<circle cx="102.6" cy="313.1" r="2.9"/>
<circle cx="101.6" cy="352.0" r="2.9"/>
<circle cx="121.6" cy="333.9" r="2.9"/>
<circle cx="100.1" cy="293.3" r="2.9"/>
<circle cx="110.5" cy="355.7" r="2.9"/>
<circle cx="109.6" cy="335.2" r="2.9"/>
<circle cx="128.2" cy="345.8" r="2.9"/>
<circle cx="100.6" cy="321.5" r="2.9"/>
<circle cx="100.1" cy="306.3" r="2.9"/>
<circle cx="119.7" cy="337.6" r="2.9"/>
<circle cx="118.9" cy="351.1" r="2.9"/>
<circle cx="118.2" cy="286.6" r="2.9"/>
<circle cx="113.8" cy="357.3" r="2.9"/>
<circle cx="105.5" cy="342.9" r="2.9"/>
<circle cx="94.3" cy="316.7" r="2.9"/>
<circle cx="118.9" cy="340.7" r="2.9"/>
<circle cx="94.1" cy="316.7" r="2.9"/>
<circle cx="102.9" cy="338.2" r="2.9"/>
<circle cx="126.3" cy="329.4" r="2.9"/>
<circle cx="120.2" cy="342.4" r="2.9"/>
<circle cx="107.7" cy="334.0" r="2.9"/>
<circle cx="115.5" cy="320.5" r="2.9"/>
<circle cx="93.9" cy="328.7" r="2.9"/>
<circle cx="102.2" cy="347.3" r="2.9"/>
<circle cx="98.3" cy="303.4" r="2.9"/>
<circle cx="102.3" cy="296.9" r="2.9"/>
<circle cx="100.9" cy="330.8" r="2.9"/>
<circle cx="100.6" cy="265.6" r="2.9"/>
<circle cx="106.3" cy="324.5" r="2.9"/>
<circle cx="126.3" cy="305.6" r="2.9"/>
<circle cx="120.9" cy="351.1" r="2.9"/>
<circle cx="116.9" cy="350.9" r="2.9"/>
<circle cx="114.0" cy="321.0" r="2.9"/>
<circle cx="102.6" cy="334.2" r="2.9"/>
<circle cx="127.9" cy="299.5" r="2.9"/>
<circle cx="102.8" cy="326.3" r="2.9"/>
<circle cx="104.8" cy="312.1" r="2.9"/>
<circle cx="98.5" cy="325.7" r="2.9"/>
<circle cx="102.5" cy="304.6" r="2.9"/>
<circle cx="102.7" cy="285.6" r="2.9"/>
<circle cx="120.4" cy="351.1" r="2.9"/>
<circle cx="116.2" cy="294.1" r="2.9"/>
<circle cx="114.7" cy="344.0" r="2.9"/>
<circle cx="100.9" cy="299.6" r="2.9"/>
<circle cx="97.6" cy="324.0" r="2.9"/>
<circle cx="119.6" cy="337.2" r="2.9"/>
<circle cx="117.0" cy="353.8" r="2.9"/>
<circle cx="123.3" cy="307.2" r="2.9"/>
<circle cx="93.5" cy="282.6" r="2.9"/>
<circle cx="125.9" cy="304.1" r="2.9"/>
<circle cx="125.9" cy="344.1" r="2.9"/>
<circle cx="120.3" cy="355.7" r="2.9"/>
<circle cx="107.6" cy="344.8" r="2.9"/>
<circle cx="123.1" cy="333.3" r="2.9"/>
<circle cx="104.5" cy="279.0" r="2.9"/>
<circle cx="95.6" cy="333.5" r="2.9"/>
<circle cx="103.4" cy="316.8" r="2.9"/>
<circle cx="101.5" cy="310.3" r="2.9"/>
<circle cx="118.1" cy="335.9" r="2.9"/>
<circle cx="121.1" cy="288.2" r="2.9"/>
<circle cx="105.0" cy="312.1" r="2.9"/>
<circle cx="106.5" cy="295.5" r="2.9"/>
<circle cx="98.1" cy="321.8" r="2.9"/>
<circle cx="99.0" cy="341.4" r="2.9"/>
<circle cx="99.4" cy="340.4" r="2.9"/>
<circle cx="124.4" cy="321.6" r="2.9"/>
<circle cx="123.2" cy="284.7" r="2.9"/>
<circle cx="127.8" cy="294.5" r="2.9"/>
<circle cx="126.5" cy="337.4" r="2.9"/>
<circle cx="128.1" cy="311.0" r="2.9"/>
<circle cx="100.3" cy="331.0" r="2.9"/>
<circle cx="120.0" cy="331.8" r="2.9"/>
<circle cx="115.6" cy="353.1" r="2.9"/>
<circle cx="108.6" cy="332.3" r="2.9"/>
<circle cx="102.6" cy="340.0" r="2.9"/>
<circle cx="100.2" cy="278.7" r="2.9"/>
<circle cx="107.0" cy="336.3" r="2.9"/>
<circle cx="119.2" cy="288.9" r="2.9"/>
<circle cx="97.8" cy="302.0" r="2.9"/>
<circle cx="98.2" cy="298.1" r="2.9"/>
<circle cx="95.2" cy="326.0" r="2.9"/>
<circle cx="99.6" cy="318.8" r="2.9"/>
<circle cx="98.5" cy="278.8" r="2.9"/>
<circle cx="127.0" cy="302.6" r="2.9"/>
<circle cx="118.7" cy="284.4" r="2.9"/>
<circle cx="100.4" cy="354.6" r="2.9"/>
<circle cx="108.6" cy="330.3" r="2.9"/>
<circle cx="127.6" cy="326.7" r="2.9"/>
<circle cx="109.3" cy="323.2" r="2.9"/>
<circle cx="97.9" cy="329.7" r="2.9"/>
<circle cx="106.9" cy="351.3" r="2.9"/>
<circle cx="107.2" cy="318.0" r="2.9"/>
<circle cx="127.0" cy="327.6" r="2.9"/>
<circle cx="115.2" cy="304.3" r="2.9"/>
<circle cx="102.5" cy="295.9" r="2.9"/>
<circle cx="97.3" cy="341.0" r="2.9"/>
<circle cx="104.6" cy="304.5" r="2.9"/>
<circle cx="94.0" cy="300.3" r="2.9"/>
<circle cx="103.3" cy="314.3" r="2.9"/>
<circle cx="120.0" cy="295.4" r="2.9"/>
<circle cx="101.9" cy="334.6" r="2.9"/>
<circle cx="117.3" cy="307.5" r="2.9"/>
<circle cx="106.5" cy="297.7" r="2.9"/>
<circle cx="114.4" cy="351.2" r="2.9"/>
<circle cx="117.2" cy="283.6" r="2.9"/>
<circle cx="113.8" cy="342.7" r="2.9"/>
<circle cx="105.6" cy="288.7" r="2.9"/>
<circle cx="117.4" cy="299.5" r="2.9"/>
<circle cx="97.2" cy="274.0" r="2.9"/>
<circle cx="103.0" cy="306.5" r="2.9"/>
<circle cx="121.0" cy="327.7" r="2.9"/>
<circle cx="125.6" cy="330.3" r="2.9"/>
<circle cx="116.2" cy="310.0" r="2.9"/>
<circle cx="95.8" cy="282.6" r="2.9"/>
<circle cx="125.4" cy="331.5" r="2.9"/>
<circle cx="128.6" cy="348.9" r="2.9"/>
<circle cx="92.9" cy="301.9" r="2.9"/>
<circle cx="125.8" cy="318.4" r="2.9"/>
<circle cx="105.0" cy="294.1" r="2.9"/>
<circle cx="119.5" cy="328.2" r="2.9"/>
<circle cx="112.1" cy="336.0" r="2.9"/>
<circle cx="107.4" cy="341.5" r="2.9"/>
<circle cx="124.9" cy="337.1" r="2.9"/>
<circle cx="126.2" cy="293.5" r="2.9"/>
<circle cx="119.0" cy="323.4" r="2.9"/>
<circle cx="128.2" cy="348.1" r="2.9"/>
<circle cx="101.3" cy="294.4" r="2.9"/>
<circle cx="97.6" cy="280.0" r="2.9"/>
<circle cx="120.9" cy="354.8" r="2.9"/>
<circle cx="119.3" cy="334.8" r="2.9"/>
<circle cx="105.1" cy="355.4" r="2.9"/>
<circle cx="121.0" cy="354.6" r="2.9"/>
<circle cx="117.3" cy="289.8" r="2.9"/>
<circle cx="114.6" cy="328.3" r="2.9"/>
<circle cx="113.8" cy="355.3" r="2.9"/>
<circle cx="126.3" cy="325.4" r="2.9"/>
<circle cx="97.1" cy="351.8" r="2.9"/>
<circle cx="124.6" cy="284.3" r="2.9"/>
<circle cx="104.5" cy="295.1" r="2.9"/>
<circle cx="115.4" cy="334.1" r="2.9"/>
<circle cx="110.7" cy="342.3" r="2.9"/>
<circle cx="121.5" cy="326.4" r="2.9"/>
<circle cx="101.8" cy="279.7" r="2.9"/>
<circle cx="95.1" cy="278.1" r="2.9"/>
<circle cx="100.5" cy="342.1" r="2.9"/>
<circle cx="101.5" cy="303.2" r="2.9"/>
<circle cx="109.1" cy="345.9" r="2.9"/>
<circle cx="97.2" cy="326.5" r="2.9"/>
<circle cx="98.4" cy="312.8" r="2.9"/>
<circle cx="127.2" cy="332.4" r="2.9"/>
<circle cx="118.7" cy="342.0" r="2.9"/>
<circle cx="107.7" cy="305.8" r="2.9"/>
<circle cx="111.8" cy="352.2" r="2.9"/>
<circle cx="124.7" cy="286.4" r="2.9"/>
<circle cx="119.3" cy="330.6" r="2.9"/>
<circle cx="122.8" cy="345.5" r="2.9"/>
<circle cx="102.5" cy="346.6" r="2.9"/>
<circle cx="103.0" cy="333.1" r="2.9"/>
<circle cx="122.4" cy="346.0" r="2.9"/>
<circle cx="106.4" cy="346.9" r="2.9"/>
<circle cx="110.3" cy="326.5" r="2.9"/>
<circle cx="108.1" cy="333.0" r="2.9"/>
<circle cx="123.7" cy="321.6" r="2.9"/>
<circle cx="101.4" cy="286.2" r="2.9"/>
<circle cx="110.3" cy="328.5" r="2.9"/>
<circle cx="97.7" cy="327.0" r="2.9"/>
<circle cx="126.7" cy="340.0" r="2.9"/>
<circle cx="120.0" cy="351.5" r="2.9"/>
<circle cx="97.3" cy="319.3" r="2.9"/>
<circle cx="96.8" cy="316.7" r="2.9"/>
<circle cx="100.9" cy="342.6" r="2.9"/>
<circle cx="122.1" cy="322.7" r="2.9"/>
<circle cx="100.4" cy="277.1" r="2.9"/>
<circle cx="101.9" cy="328.4" r="2.9"/>
<circle cx="100.0" cy="277.5" r="2.9"/>
<circle cx="119.2" cy="356.1" r="2.9"/>
<circle cx="110.9" cy="343.3" r="2.9"/>
<circle cx="97.3" cy="314.1" r="2.9"/>
<circle cx="109.4" cy="337.4" r="2.9"/>
<circle cx="124.9" cy="315.3" r="2.9"/>
<circle cx="123.9" cy="325.9" r="2.9"/>
<circle cx="94.9" cy="283.6" r="2.9"/>
<circle cx="98.9" cy="343.1" r="2.9"/>
<circle cx="96.0" cy="327.2" r="2.9"/>
<circle cx="92.8" cy="323.6" r="2.9"/>
<circle cx="123.9" cy="320.8" r="2.9"/>
<circle cx="103.8" cy="282.6" r="2.9"/>
<circle cx="103.2" cy="309.3" r="2.9"/>
<circle cx="106.1" cy="321.8" r="2.9"/>
<circle cx="116.4" cy="304.9" r="2.9"/>
<circle cx="100.3" cy="354.8" r="2.9"/>
<circle cx="111.3" cy="348.5" r="2.9"/>
<circle cx="94.7" cy="315.0" r="2.9"/>
<circle cx="107.5" cy="322.1" r="2.9"/>
<circle cx="122.1" cy="303.5" r="2.9"/>
<circle cx="117.9" cy="356.9" r="2.9"/>
<circle cx="94.6" cy="288.5" r="2.9"/>
<circle cx="101.8" cy="304.8" r="2.9"/>
<circle cx="98.1" cy="324.8" r="2.9"/>
<circle cx="111.0" cy="334.9" r="2.9"/>
<circle cx="121.9" cy="277.9" r="2.9"/>
<circle cx="112.4" cy="349.3" r="2.9"/>
<circle cx="115.2" cy="351.5" r="2.9"/>
<circle cx="107.5" cy="330.6" r="2.9"/>
<circle cx="100.9" cy="339.4" r="2.9"/>
<circle cx="94.3" cy="339.8" r="2.9"/>
<circle cx="104.3" cy="307.9" r="2.9"/>
<circle cx="107.4" cy="351.0" r="2.9"/>
<circle cx="116.2" cy="341.1" r="2.9"/>
<circle cx="112.0" cy="332.7" r="2.9"/>
<circle cx="126.3" cy="342.0" r="2.9"/>
<circle cx="125.0" cy="330.7" r="2.9"/>
<circle cx="101.4" cy="293.3" r="2.9"/>
<circle cx="108.2" cy="318.8" r="2.9"/>
<circle cx="110.8" cy="336.6" r="2.9"/>
<circle cx="102.4" cy="286.4" r="2.9"/>
<circle cx="104.9" cy="312.9" r="2.9"/>
<circle cx="99.3" cy="354.0" r="2.9"/>
<circle cx="105.2" cy="285.4" r="2.9"/>
<circle cx="119.5" cy="294.9" r="2.9"/>
<circle cx="96.4" cy="299.5" r="2.9"/>
<circle cx="123.7" cy="335.7" r="2.9"/>
<circle cx="89.2" cy="312.7" r="2.9"/>
<circle cx="103.8" cy="344.8" r="2.9"/>
<circle cx="98.0" cy="308.8" r="2.9"/>
<circle cx="95.0" cy="332.4" r="2.9"/>
<circle cx="103.8" cy="345.7" r="2.9"/>
<circle cx="94.2" cy="314.4" r="2.9"/>
<circle cx="122.4" cy="349.5" r="2.9"/>
<circle cx="114.5" cy="337.0" r="2.9"/>
<circle cx="118.3" cy="307.6" r="2.9"/>
<circle cx="100.2" cy="311.5" r="2.9"/>
<circle cx="99.0" cy="302.4" r="2.9"/>
<circle cx="121.4" cy="353.8" r="2.9"/>
<circle cx="101.8" cy="314.9" r="2.9"/>
<circle cx="129.9" cy="296.7" r="2.9"/>
<circle cx="117.2" cy="302.9" r="2.9"/>
<circle cx="122.9" cy="345.0" r="2.9"/>
<circle cx="120.2" cy="335.5" r="2.9"/>
<circle cx="98.8" cy="328.8" r="2.9"/>
<circle cx="120.6" cy="290.7" r="2.9"/>
<circle cx="95.2" cy="318.3" r="2.9"/>
<circle cx="98.6" cy="328.8" r="2.9"/>
<circle cx="112.6" cy="326.8" r="2.9"/>
<circle cx="124.6" cy="287.1" r="2.9"/>
<circle cx="123.8" cy="294.1" r="2.9"/>
<circle cx="116.9" cy="309.4" r="2.9"/>
<circle cx="121.6" cy="332.6" r="2.9"/>
<circle cx="95.1" cy="303.5" r="2.9"/>
<circle cx="124.9" cy="278.0" r="2.9"/>
<circle cx="125.2" cy="327.6" r="2.9"/>
<circle cx="115.3" cy="351.9" r="2.9"/>
<circle cx="119.3" cy="352.5" r="2.9"/>
<circle cx="121.6" cy="287.6" r="2.9"/>
<circle cx="99.3" cy="336.2" r="2.9"/>
<circle cx="118.8" cy="308.8" r="2.9"/>
<circle cx="102.7" cy="339.8" r="2.9"/>
<circle cx="113.1" cy="322.0" r="2.9"/>
<circle cx="123.3" cy="334.0" r="2.9"/>
<circle cx="110.2" cy="334.0" r="2.9"/>
<circle cx="127.4" cy="301.5" r="2.9"/>
<circle cx="122.2" cy="300.2" r="2.9"/>
<circle cx="107.2" cy="325.9" r="2.9"/>
<circle cx="105.5" cy="341.6" r="2.9"/>
<circle cx="109.1" cy="340.5" r="2.9"/>
<circle cx="121.0" cy="343.1" r="2.9"/>
<circle cx="116.2" cy="304.4" r="2.9"/>
<circle cx="96.5" cy="318.4" r="2.9"/>
<circle cx="123.3" cy="316.2" r="2.9"/>
<circle cx="92.6" cy="340.8" r="2.9"/>
<circle cx="100.2" cy="344.9" r="2.9"/>
<circle cx="91.1" cy="335.3" r="2.9"/>
<circle cx="96.5" cy="332.0" r="2.9"/>
<circle cx="130.1" cy="340.3" r="2.9"/>
<circle cx="103.2" cy="346.4" r="2.9"/>
<circle cx="91.3" cy="314.3" r="2.9"/>
<circle cx="117.2" cy="311.9" r="2.9"/>
<circle cx="104.3" cy="286.9" r="2.9"/>
<circle cx="120.1" cy="326.1" r="2.9"/>
<circle cx="120.0" cy="298.0" r="2.9"/>
<circle cx="108.2" cy="330.6" r="2.9"/>
<circle cx="121.6" cy="280.0" r="2.9"/>
<circle cx="109.3" cy="325.3" r="2.9"/>
<circle cx="102.4" cy="355.7" r="2.9"/>
<circle cx="107.7" cy="313.9" r="2.9"/>
<circle cx="95.4" cy="333.6" r="2.9"/>
<circle cx="99.9" cy="310.6" r="2.9"/>
<circle cx="103.5" cy="345.9" r="2.9"/>
<circle cx="97.7" cy="342.4" r="2.9"/>
<circle cx="126.2" cy="310.8" r="2.9"/>
<circle cx="94.7" cy="337.6" r="2.9"/>
<circle cx="98.0" cy="350.7" r="2.9"/>
<circle cx="103.2" cy="310.3" r="2.9"/>
<circle cx="120.7" cy="338.1" r="2.9"/>
<circle cx="120.5" cy="299.0" r="2.9"/>
<circle cx="100.6" cy="348.6" r="2.9"/>
<circle cx="114.4" cy="331.1" r="2.9"/>
<circle cx="120.7" cy="345.0" r="2.9"/>
<circle cx="122.3" cy="314.8" r="2.9"/>
<circle cx="100.1" cy="353.6" r="2.9"/>
<circle cx="102.9" cy="324.7" r="2.9"/>
<circle cx="112.1" cy="346.8" r="2.9"/>
<circle cx="116.7" cy="295.2" r="2.9"/>
<circle cx="109.0" cy="327.7" r="2.9"/>
<circle cx="105.3" cy="297.9" r="2.9"/>
<circle cx="119.4" cy="305.3" r="2.9"/>
<circle cx="116.3" cy="309.9" r="2.9"/>
<circle cx="99.1" cy="339.3" r="2.9"/>
<circle cx="108.6" cy="320.0" r="2.9"/>
<circle cx="94.8" cy="353.5" r="2.9"/>
<circle cx="107.6" cy="337.9" r="2.9"/>
<circle cx="100.4" cy="313.4" r="2.9"/>
<circle cx="115.0" cy="337.7" r="2.9"/>
<circle cx="123.0" cy="294.1" r="2.9"/>
<circle cx="119.8" cy="356.0" r="2.9"/>
<circle cx="111.7" cy="354.3" r="2.9"/>
<circle cx="95.9" cy="290.5" r="2.9"/>
<circle cx="117.9" cy="351.6" r="2.9"/>
<circle cx="118.6" cy="354.7" r="2.9"/>
<circle cx="127.5" cy="297.7" r="2.9"/>
<circle cx="103.8" cy="337.2" r="2.9"/>
<circle cx="107.6" cy="314.2" r="2.9"/>
<circle cx="106.8" cy="308.3" r="2.9"/>
<circle cx="99.8" cy="288.2" r="2.9"/>
<circle cx="115.9" cy="342.0" r="2.9"/>
<circle cx="116.0" cy="296.2" r="2.9"/>
<circle cx="121.6" cy="334.4" r="2.9"/>
<circle cx="103.1" cy="308.5" r="2.9"/>
<circle cx="128.6" cy="274.4" r="2.9"/>
<circle cx="98.0" cy="326.5" r="2.9"/>
<circle cx="99.8" cy="273.5" r="2.9"/>
<circle cx="123.3" cy="313.6" r="2.9"/>
<circle cx="124.0" cy="331.3" r="2.9"/>
<circle cx="103.9" cy="314.5" r="2.9"/>
<circle cx="107.1" cy="300.0" r="2.9"/>
<circle cx="112.3" cy="344.3" r="2.9"/>
<circle cx="127.9" cy="339.9" r="2.9"/>
<circle cx="126.9" cy="344.7" r="2.9"/>
<circle cx="121.4" cy="286.3" r="2.9"/>
<circle cx="104.7" cy="353.2" r="2.9"/>
<circle cx="106.1" cy="320.0" r="2.9"/>
<circle cx="115.3" cy="323.3" r="2.9"/>
<circle cx="127.8" cy="343.9" r="2.9"/>
<circle cx="101.8" cy="317.3" r="2.9"/>
<circle cx="118.7" cy="287.2" r="2.9"/>
<circle cx="103.0" cy="356.4" r="2.9"/>
<circle cx="96.1" cy="306.3" r="2.9"/>
<circle cx="110.7" cy="334.5" r="2.9"/>
<circle cx="124.0" cy="293.7" r="2.9"/>
<circle cx="101.4" cy="351.7" r="2.9"/>
<circle cx="116.5" cy="314.4" r="2.9"/>
<circle cx="107.0" cy="342.9" r="2.9"/>
<circle cx="102.5" cy="347.0" r="2.9"/>
<circle cx="106.4" cy="296.1" r="2.9"/>
<circle cx="102.3" cy="350.6" r="2.9"/>
<circle cx="105.8" cy="340.1" r="2.9"/>
<circle cx="125.1" cy="292.9" r="2.9"/>
<circle cx="124.3" cy="332.7" r="2.9"/>
<circle cx="100.5" cy="326.0" r="2.9"/>
<circle cx="105.2" cy="314.3" r="2.9"/>
<circle cx="101.4" cy="278.4" r="2.9"/>
<circle cx="100.7" cy="294.3" r="2.9"/>
<circle cx="95.7" cy="331.1" r="2.9"/>
<circle cx="94.9" cy="281.6" r="2.9"/>
<circle cx="126.2" cy="324.0" r="2.9"/>
<circle cx="99.1" cy="310.5" r="2.9"/>
<circle cx="116.7" cy="303.8" r="2.9"/>
<circle cx="100.9" cy="356.3" r="2.9"/>
<circle cx="117.8" cy="335.1" r="2.9"/>
<circle cx="98.5" cy="298.9" r="2.9"/>
<circle cx="104.5" cy="330.1" r="2.9"/>
<circle cx="125.2" cy="331.2" r="2.9"/>
<circle cx="124.6" cy="322.8" r="2.9"/>
<circle cx="101.4" cy="336.4" r="2.9"/>
<circle cx="109.9" cy="350.9" r="2.9"/>
<circle cx="99.1" cy="340.0" r="2.9"/>
<circle cx="95.4" cy="352.7" r="2.9"/>
<circle cx="127.6" cy="321.4" r="2.9"/>
<circle cx="97.7" cy="295.6" r="2.9"/>
<circle cx="104.8" cy="353.0" r="2.9"/>
<circle cx="125.6" cy="323.0" r="2.9"/>
<circle cx="123.0" cy="291.9" r="2.9"/>
<circle cx="116.5" cy="313.0" r="2.9"/>
<circle cx="111.1" cy="340.9" r="2.9"/>
<circle cx="97.9" cy="297.2" r="2.9"/>
<circle cx="116.2" cy="316.2" r="2.9"/>
<circle cx="94.9" cy="318.6" r="2.9"/>
<circle cx="99.5" cy="345.0" r="2.9"/>
<circle cx="95.6" cy="335.4" r="2.9"/>
<circle cx="116.2" cy="307.3" r="2.9"/>
<circle cx="117.3" cy="310.6" r="2.9"/>
<circle cx="110.3" cy="331.2" r="2.9"/>
<circle cx="114.8" cy="310.5" r="2.9"/>
<circle cx="95.0" cy="338.6" r="2.9"/>
<circle cx="122.5" cy="345.4" r="2.9"/>
<circle cx="98.6" cy="303.9" r="2.9"/>
<circle cx="108.8" cy="354.4" r="2.9"/>
<circle cx="128.0" cy="291.2" r="2.9"/>
<circle cx="100.5" cy="281.0" r="2.9"/>
<circle cx="118.1" cy="292.5" r="2.9"/>
<circle cx="112.0" cy="346.4" r="2.9"/>
<circle cx="101.1" cy="312.8" r="2.9"/>
<circle cx="99.0" cy="286.1" r="2.9"/>
<circle cx="117.8" cy="315.1" r="2.9"/>
<circle cx="108.5" cy="344.3" r="2.9"/>
<circle cx="125.6" cy="333.5" r="2.9"/>
<circle cx="95.9" cy="295.8" r="2.9"/>
<circle cx="124.7" cy="291.4" r="2.9"/>
<circle cx="127.3" cy="338.8" r="2.9"/>
<circle cx="105.8" cy="350.0" r="2.9"/>
<circle cx="125.3" cy="292.1" r="2.9"/>
<circle cx="99.2" cy="314.8" r="2.9"/>
<circle cx="119.2" cy="285.4" r="2.9"/>
<circle cx="98.7" cy="321.2" r="2.9"/>
<circle cx="97.1" cy="337.4" r="2.9"/>
<circle cx="110.5" cy="351.0" r="2.9"/>
<circle cx="106.7" cy="322.2" r="2.9"/>
<circle cx="100.5" cy="299.9" r="2.9"/>
<circle cx="130.2" cy="323.2" r="2.9"/>
<circle cx="101.2" cy="298.1" r="2.9"/>
<circle cx="108.7" cy="329.4" r="2.9"/>
<circle cx="122.5" cy="334.9" r="2.9"/>
<circle cx="126.9" cy="287.1" r="2.9"/>
<circle cx="129.2" cy="279.6" r="2.9"/>
<circle cx="119.5" cy="290.5" r="2.9"/>
<circle cx="100.9" cy="349.4" r="2.9"/>
<circle cx="94.7" cy="295.3" r="2.9"/>
<circle cx="117.9" cy="342.9" r="2.9"/>
<circle cx="95.6" cy="348.5" r="2.9"/>
<circle cx="101.6" cy="343.7" r="2.9"/>
<circle cx="122.4" cy="296.3" r="2.9"/>
<circle cx="127.7" cy="298.4" r="2.9"/>
<circle cx="96.9" cy="278.4" r="2.9"/>
<circle cx="121.2" cy="300.3" r="2.9"/>
<circle cx="95.1" cy="302.1" r="2.9"/>
<circle cx="98.0" cy="296.7" r="2.9"/>
<circle cx="116.1" cy="349.3" r="2.9"/>
<circle cx="119.0" cy="351.8" r="2.9"/>
<circle cx="117.8" cy="349.8" r="2.9"/>
<circle cx="98.8" cy="340.4" r="2.9"/>
<circle cx="101.9" cy="290.0" r="2.9"/>
<circle cx="111.2" cy="338.1" r="2.9"/>
<circle cx="114.8" cy="350.3" r="2.9"/>
<circle cx="119.4" cy="354.0" r="2.9"/>
<circle cx="113.1" cy="333.8" r="2.9"/>
<circle cx="111.3" cy="353.6" r="2.9"/>
<circle cx="96.1" cy="314.6" r="2.9"/>
<circle cx="124.8" cy="280.3" r="2.9"/>
<circle cx="120.5" cy="308.7" r="2.9"/>
<circle cx="123.8" cy="348.1" r="2.9"/>
<circle cx="123.3" cy="300.3" r="2.9"/>
<circle cx="116.1" cy="330.4" r="2.9"/>
<circle cx="125.8" cy="287.0" r="2.9"/>
<circle cx="125.7" cy="314.4" r="2.9"/>
<circle cx="121.9" cy="281.8" r="2.9"/>
<circle cx="99.5" cy="303.4" r="2.9"/>
<circle cx="100.4" cy="303.5" r="2.9"/>
<circle cx="117.7" cy="335.1" r="2.9"/>
<circle cx="120.3" cy="304.7" r="2.9"/>
<circle cx="126.5" cy="333.8" r="2.9"/>
<circle cx="106.8" cy="345.0" r="2.9"/>
<circle cx="103.1" cy="330.4" r="2.9"/>
<circle cx="117.6" cy="322.6" r="2.9"/>
<circle cx="108.5" cy="315.8" r="2.9"/>
<circle cx="121.1" cy="290.8" r="2.9"/>
<circle cx="112.2" cy="356.7" r="2.9"/>
<circle cx="124.8" cy="301.8" r="2.9"/>
<circle cx="95.8" cy="284.5" r="2.9"/>
<circle cx="100.7" cy="339.9" r="2.9"/>
<circle cx="98.7" cy="327.1" r="2.9"/>
<circle cx="117.3" cy="285.7" r="2.9"/>
<circle cx="90.2" cy="304.4" r="2.9"/>
<circle cx="97.8" cy="339.0" r="2.9"/>
<circle cx="110.1" cy="332.5" r="2.9"/>
<circle cx="126.3" cy="268.1" r="2.9"/>
<circle cx="115.5" cy="329.7" r="2.9"/>
<circle cx="126.3" cy="326.4" r="2.9"/>
<circle cx="96.7" cy="293.5" r="2.9"/>
<circle cx="122.9" cy="277.1" r="2.9"/>
<circle cx="97.1" cy="348.1" r="2.9"/>
<circle cx="101.7" cy="297.3" r="2.9"/>
<circle cx="100.3" cy="344.5" r="2.9"/>
<circle cx="101.1" cy="340.2" r="2.9"/>
<circle cx="123.5" cy="313.1" r="2.9"/>
<circle cx="128.4" cy="303.8" r="2.9"/>
<circle cx="125.9" cy="300.5" r="2.9"/>
<circle cx="108.5" cy="335.0" r="2.9"/>
<circle cx="96.6" cy="282.3" r="2.9"/>
<circle cx="119.9" cy="309.2" r="2.9"/>
<circle cx="114.2" cy="339.1" r="2.9"/>
<circle cx="97.4" cy="326.5" r="2.9"/>
<circle cx="120.4" cy="352.7" r="2.9"/>
<circle cx="123.1" cy="297.0" r="2.9"/>
<circle cx="101.6" cy="333.1" r="2.9"/>
<circle cx="124.1" cy="332.1" r="2.9"/>
<circle cx="93.0" cy="292.7" r="2.9"/>
<circle cx="124.1" cy="349.8" r="2.9"/>
<circle cx="121.5" cy="270.7" r="2.9"/>
<circle cx="95.5" cy="280.6" r="2.9"/>
<circle cx="120.4" cy="336.9" r="2.9"/>
<circle cx="127.3" cy="285.9" r="2.9"/>
<circle cx="118.8" cy="297.7" r="2.9"/>
<circle cx="102.9" cy="332.3" r="2.9"/>
<circle cx="100.7" cy="354.7" r="2.9"/>
<circle cx="107.9" cy="321.9" r="2.9"/>
<circle cx="116.6" cy="312.1" r="2.9"/>
<circle cx="104.6" cy="322.6" r="2.9"/>
<circle cx="94.9" cy="322.3" r="2.9"/>
<circle cx="124.9" cy="351.9" r="2.9"/>
<circle cx="123.2" cy="296.2" r="2.9"/>
<circle cx="100.4" cy="336.6" r="2.9"/>
<circle cx="121.5" cy="321.2" r="2.9"/>
<circle cx="94.2" cy="334.4" r="2.9"/>
<circle cx="120.9" cy="341.9" r="2.9"/>
<circle cx="114.5" cy="316.8" r="2.9"/>
<circle cx="121.0" cy="347.1" r="2.9"/>
<circle cx="113.3" cy="339.0" r="2.9"/>
<circle cx="93.1" cy="332.7" r="2.9"/>
<circle cx="128.0" cy="334.3" r="2.9"/>
<circle cx="130.7" cy="302.1" r="2.9"/>
<circle cx="120.1" cy="316.3" r="2.9"/>
<circle cx="99.0" cy="340.1" r="2.9"/>
<circle cx="107.4" cy="306.6" r="2.9"/>
<circle cx="104.3" cy="354.4" r="2.9"/>
<circle cx="93.3" cy="330.8" r="2.9"/>
<circle cx="94.1" cy="297.4" r="2.9"/>
<circle cx="116.9" cy="354.4" r="2.9"/>
<circle cx="125.3" cy="315.6" r="2.9"/>
<circle cx="94.5" cy="289.5" r="2.9"/>
<circle cx="122.1" cy="306.3" r="2.9"/>
<circle cx="96.3" cy="313.2" r="2.9"/>
<circle cx="109.1" cy="347.8" r="2.9"/>
<circle cx="113.4" cy="357.1" r="2.9"/>
<circle cx="98.3" cy="308.1" r="2.9"/>
<circle cx="97.2" cy="336.6" r="2.9"/>
<circle cx="115.2" cy="354.3" r="2.9"/>
<circle cx="111.4" cy="335.0" r="2.9"/>
<circle cx="116.5" cy="341.4" r="2.9"/>
<circle cx="121.2" cy="281.3" r="2.9"/>
<circle cx="105.4" cy="356.6" r="2.9"/>
<circle cx="116.8" cy="338.1" r="2.9"/>
<circle cx="90.3" cy="331.7" r="2.9"/>
<circle cx="124.9" cy="296.2" r="2.9"/>
<circle cx="97.1" cy="309.1" r="2.9"/>
<circle cx="124.4" cy="299.7" r="2.9"/>
<circle cx="96.0" cy="338.0" r="2.9"/>
<circle cx="94.6" cy="306.1" r="2.9"/>
<circle cx="114.8" cy="320.1" r="2.9"/>
<circle cx="120.2" cy="318.1" r="2.9"/>
<circle cx="102.5" cy="338.9" r="2.9"/>
<circle cx="101.8" cy="307.7" r="2.9"/>
<circle cx="103.6" cy="335.8" r="2.9"/>
<circle cx="102.9" cy="333.8" r="2.9"/>
<circle cx="120.6" cy="345.8" r="2.9"/>
<circle cx="106.8" cy="354.3" r="2.9"/>
<circle cx="130.1" cy="299.5" r="2.9"/>
<circle cx="114.8" cy="356.1" r="2.9"/>
<circle cx="115.0" cy="353.6" r="2.9"/>
<circle cx="123.5" cy="323.2" r="2.9"/>
<circle cx="119.3" cy="290.5" r="2.9"/>
<circle cx="105.9" cy="340.5" r="2.9"/>
<circle cx="126.1" cy="295.8" r="2.9"/>
<circle cx="123.6" cy="322.2" r="2.9"/>
<circle cx="129.4" cy="282.0" r="2.9"/>
<circle cx="115.9" cy="305.8" r="2.9"/>
<circle cx="104.7" cy="327.5" r="2.9"/>
<circle cx="118.7" cy="319.4" r="2.9"/>
<circle cx="123.2" cy="293.1" r="2.9"/>
<circle cx="96.2" cy="336.8" r="2.9"/>
<circle cx="111.6" cy="333.8" r="2.9"/>
<circle cx="107.1" cy="345.3" r="2.9"/>
<circle cx="116.6" cy="338.1" r="2.9"/>
<circle cx="97.3" cy="304.0" r="2.9"/>
<circle cx="103.8" cy="345.9" r="2.9"/>
<circle cx="108.6" cy="342.4" r="2.9"/>
<circle cx="106.4" cy="297.9" r="2.9"/>
<circle cx="117.9" cy="350.1" r="2.9"/>
<circle cx="117.8" cy="337.7" r="2.9"/>
<circle cx="101.7" cy="342.4" r="2.9"/>
<circle cx="95.4" cy="308.6" r="2.9"/>
<circle cx="92.7" cy="322.0" r="2.9"/>
<circle cx="95.4" cy="318.3" r="2.9"/>
<circle cx="116.7" cy="329.4" r="2.9"/>
<circle cx="117.4" cy="345.4" r="2.9"/>
<circle cx="119.2" cy="310.1" r="2.9"/>
<circle cx="118.5" cy="356.0" r="2.9"/>
<circle cx="124.6" cy="339.1" r="2.9"/>
<circle cx="125.9" cy="328.4" r="2.9"/>
<circle cx="120.3" cy="334.7" r="2.9"/>
<circle cx="119.3" cy="333.4" r="2.9"/>
<circle cx="103.8" cy="299.2" r="2.9"/>
<circle cx="109.1" cy="316.2" r="2.9"/>
<circle cx="116.4" cy="332.7" r="2.9"/>
<circle cx="99.8" cy="323.0" r="2.9"/>
<circle cx="124.5" cy="293.0" r="2.9"/>
<circle cx="124.9" cy="346.3" r="2.9"/>
<circle cx="124.3" cy="334.7" r="2.9"/>
<circle cx="96.0" cy="287.5" r="2.9"/>
<circle cx="123.0" cy="292.6" r="2.9"/>
<circle cx="125.5" cy="343.8" r="2.9"/>
<circle cx="122.2" cy="328.0" r="2.9"/>
<circle cx="114.8" cy="354.0" r="2.9"/>
<circle cx="103.3" cy="309.0" r="2.9"/>
<circle cx="122.9" cy="298.0" r="2.9"/>
<circle cx="109.0" cy="350.5" r="2.9"/>
<circle cx="99.2" cy="332.6" r="2.9"/>
<circle cx="127.3" cy="329.5" r="2.9"/>
<circle cx="102.6" cy="291.9" r="2.9"/>
<circle cx="119.4" cy="348.9" r="2.9"/>
<circle cx="107.5" cy="334.5" r="2.9"/>
<circle cx="92.5" cy="339.4" r="2.9"/>
<circle cx="105.5" cy="329.4" r="2.9"/>
<circle cx="118.2" cy="295.0" r="2.9"/>
<circle cx="109.1" cy="334.6" r="2.9"/>
<circle cx="111.5" cy="354.5" r="2.9"/>
<circle cx="98.1" cy="296.3" r="2.9"/>
<circle cx="98.0" cy="343.1" r="2.9"/>
<circle cx="104.1" cy="357.2" r="2.9"/>
<circle cx="119.7" cy="339.8" r="2.9"/>
<circle cx="94.4" cy="298.6" r="2.9"/>
<circle cx="109.7" cy="351.3" r="2.9"/>
<circle cx="98.8" cy="351.0" r="2.9"/>
<circle cx="106.3" cy="321.7" r="2.9"/>
<circle cx="105.5" cy="348.3" r="2.9"/>
<circle cx="118.0" cy="283.0" r="2.9"/>
<circle cx="130.1" cy="337.5" r="2.9"/>
<circle cx="99.6" cy="347.1" r="2.9"/>
<circle cx="101.5" cy="282.4" r="2.9"/>
<circle cx="118.2" cy="332.3" r="2.9"/>
<circle cx="125.9" cy="327.7" r="2.9"/>
<circle cx="91.4" cy="329.5" r="2.9"/>
<circle cx="101.8" cy="278.3" r="2.9"/>
<circle cx="121.6" cy="303.7" r="2.9"/>
<circle cx="93.0" cy="277.6" r="2.9"/>
<circle cx="119.7" cy="292.1" r="2.9"/>
<circle cx="123.7" cy="289.8" r="2.9"/>
<circle cx="97.2" cy="283.1" r="2.9"/>
<circle cx="104.4" cy="351.6" r="2.9"/>
<circle cx="123.1" cy="305.1" r="2.9"/>
<circle cx="119.8" cy="347.3" r="2.9"/>
<circle cx="90.1" cy="319.6" r="2.9"/>
<circle cx="100.4" cy="329.4" r="2.9"/>
<circle cx="127.2" cy="333.0" r="2.9"/>
<circle cx="96.4" cy="305.7" r="2.9"/>
<circle cx="99.6" cy="273.8" r="2.9"/>
<circle cx="115.8" cy="332.5" r="2.9"/>
<circle cx="102.8" cy="290.5" r="2.9"/>
<circle cx="100.8" cy="320.0" r="2.9"/>
<circle cx="104.4" cy="318.6" r="2.9"/>
<circle cx="111.1" cy="354.5" r="2.9"/>
<circle cx="92.5" cy="324.8" r="2.9"/>
<circle cx="116.3" cy="328.5" r="2.9"/>
<circle cx="119.5" cy="334.6" r="2.9"/>
<circle cx="95.6" cy="280.2" r="2.9"/>
<circle cx="102.8" cy="311.7" r="2.9"/>
<circle cx="124.5" cy="299.5" r="2.9"/>
<circle cx="107.0" cy="329.4" r="2.9"/>
<circle cx="117.7" cy="300.5" r="2.9"/>
<circle cx="94.8" cy="308.0" r="2.9"/>
<circle cx="103.0" cy="339.5" r="2.9"/>
<circle cx="118.6" cy="284.4" r="2.9"/>
<circle cx="106.3" cy="334.6" r="2.9"/>
<circle cx="117.7" cy="355.8" r="2.9"/>
<circle cx="102.6" cy="343.4" r="2.9"/>
<circle cx="106.3" cy="314.0" r="2.9"/>
<circle cx="105.4" cy="301.6" r="2.9"/>
<circle cx="119.7" cy="296.2" r="2.9"/>
<circle cx="119.5" cy="288.7" r="2.9"/>
<circle cx="120.4" cy="354.4" r="2.9"/>
<circle cx="97.9" cy="318.1" r="2.9"/>
<circle cx="95.4" cy="294.8" r="2.9"/>
<circle cx="126.1" cy="309.5" r="2.9"/>
<circle cx="96.3" cy="289.7" r="2.9"/>
<circle cx="119.8" cy="355.4" r="2.9"/>
<circle cx="102.8" cy="357.0" r="2.9"/>
<circle cx="109.9" cy="330.1" r="2.9"/>
<circle cx="125.4" cy="298.0" r="2.9"/>
<circle cx="125.1" cy="343.4" r="2.9"/>
<circle cx="126.5" cy="324.1" r="2.9"/>
<circle cx="97.8" cy="288.2" r="2.9"/>
<circle cx="94.0" cy="329.3" r="2.9"/>
<circle cx="98.2" cy="338.4" r="2.9"/>
<circle cx="110.6" cy="350.7" r="2.9"/>
<circle cx="103.6" cy="340.6" r="2.9"/>
<circle cx="114.7" cy="344.5" r="2.9"/>
<circle cx="115.4" cy="311.3" r="2.9"/>
<circle cx="104.4" cy="308.7" r="2.9"/>
<circle cx="111.5" cy="339.6" r="2.9"/>
<circle cx="115.4" cy="344.9" r="2.9"/>
<circle cx="102.1" cy="335.7" r="2.9"/>
<circle cx="94.5" cy="295.9" r="2.9"/>
<circle cx="98.0" cy="332.8" r="2.9"/>
<circle cx="95.3" cy="325.7" r="2.9"/>
<circle cx="101.3" cy="346.6" r="2.9"/>
<circle cx="100.2" cy="304.5" r="2.9"/>
<circle cx="108.4" cy="328.3" r="2.9"/>
<circle cx="117.6" cy="355.8" r="2.9"/>
<circle cx="118.1" cy="299.6" r="2.9"/>
<circle cx="96.6" cy="346.5" r="2.9"/>
<circle cx="122.4" cy="335.1" r="2.9"/>
<circle cx="105.7" cy="343.9" r="2.9"/>
<circle cx="107.3" cy="305.5" r="2.9"/>
<circle cx="108.2" cy="337.7" r="2.9"/>
<circle cx="124.5" cy="292.3" r="2.9"/>
<circle cx="118.2" cy="351.6" r="2.9"/>
<circle cx="118.1" cy="342.4" r="2.9"/>
<circle cx="120.1" cy="310.2" r="2.9"/>
<circle cx="113.2" cy="349.5" r="2.9"/>
<circle cx="125.8" cy="329.5" r="2.9"/>
<circle cx="118.0" cy="327.0" r="2.9"/>
<circle cx="97.4" cy="301.0" r="2.9"/>
<circle cx="129.9" cy="330.6" r="2.9"/>
<circle cx="121.0" cy="333.7" r="2.9"/>
<circle cx="119.1" cy="352.5" r="2.9"/>
<circle cx="105.0" cy="313.2" r="2.9"/>
<circle cx="95.6" cy="344.5" r="2.9"/>
<circle cx="105.8" cy="316.7" r="2.9"/>
<circle cx="99.3" cy="297.6" r="2.9"/>
<circle cx="127.2" cy="328.8" r="2.9"/>
<circle cx="127.4" cy="310.5" r="2.9"/>
<circle cx="116.1" cy="314.8" r="2.9"/>
<circle cx="107.3" cy="311.7" r="2.9"/>
<circle cx="119.3" cy="336.9" r="2.9"/>
<circle cx="97.6" cy="294.7" r="2.9"/>
<circle cx="98.5" cy="275.5" r="2.9"/>
<circle cx="101.1" cy="316.4" r="2.9"/>
<circle cx="114.9" cy="324.3" r="2.9"/>
<circle cx="119.5" cy="290.1" r="2.9"/>
<circle cx="127.1" cy="290.6" r="2.9"/>
<circle cx="106.5" cy="322.7" r="2.9"/>
<circle cx="119.7" cy="286.8" r="2.9"/>
<circle cx="121.8" cy="346.0" r="2.9"/>
<circle cx="120.0" cy="333.3" r="2.9"/>
<circle cx="122.0" cy="260.3" r="2.9"/>
<circle cx="115.8" cy="344.2" r="2.9"/>
<circle cx="95.9" cy="340.7" r="2.9"/>
<circle cx="99.5" cy="343.4" r="2.9"/>
<circle cx="99.5" cy="324.0" r="2.9"/>
<circle cx="114.9" cy="308.4" r="2.9"/>
<circle cx="123.9" cy="288.9" r="2.9"/>
<circle cx="124.4" cy="311.4" r="2.9"/>
<circle cx="123.8" cy="337.4" r="2.9"/>
<circle cx="115.1" cy="342.4" r="2.9"/>
<circle cx="114.5" cy="353.3" r="2.9"/>
<circle cx="121.1" cy="319.8" r="2.9"/>
<circle cx="92.5" cy="303.4" r="2.9"/>
<circle cx="125.7" cy="295.2" r="2.9"/>
<circle cx="107.6" cy="322.9" r="2.9"/>
<circle cx="110.6" cy="346.9" r="2.9"/>
<circle cx="98.5" cy="349.4" r="2.9"/>
<circle cx="104.1" cy="293.0" r="2.9"/>
<circle cx="117.3" cy="287.9" r="2.9"/>
<circle cx="100.9" cy="247.1" r="2.9"/>
<circle cx="112.7" cy="323.6" r="2.9"/>
<circle cx="97.5" cy="314.1" r="2.9"/>
<circle cx="95.6" cy="295.3" r="2.9"/>
<circle cx="108.0" cy="324.7" r="2.9"/>
<circle cx="108.0" cy="335.4" r="2.9"/>
<circle cx="99.3" cy="338.8" r="2.9"/>
<circle cx="112.4" cy="344.5" r="2.9"/>
<circle cx="123.7" cy="316.1" r="2.9"/>
<circle cx="90.9" cy="311.3" r="2.9"/>
<circle cx="118.0" cy="341.0" r="2.9"/>
<circle cx="121.5" cy="340.7" r="2.9"/>
<circle cx="98.9" cy="297.8" r="2.9"/>
<circle cx="94.7" cy="331.3" r="2.9"/>
<circle cx="123.1" cy="278.8" r="2.9"/>
<circle cx="117.0" cy="296.1" r="2.9"/>
<circle cx="103.6" cy="300.0" r="2.9"/>
<circle cx="95.2" cy="280.3" r="2.9"/>
<circle cx="112.7" cy="332.1" r="2.9"/>
<circle cx="122.9" cy="309.2" r="2.9"/>
<circle cx="113.8" cy="345.2" r="2.9"/>
<circle cx="112.9" cy="337.6" r="2.9"/>
<circle cx="119.2" cy="330.4" r="2.9"/>
<circle cx="122.5" cy="300.3" r="2.9"/>
<circle cx="100.1" cy="317.2" r="2.9"/>
<circle cx="102.8" cy="354.3" r="2.9"/>
<circle cx="126.0" cy="287.0" r="2.9"/>
<circle cx="114.9" cy="317.5" r="2.9"/>
<circle cx="103.9" cy="352.3" r="2.9"/>
<circle cx="103.6" cy="322.7" r="2.9"/>
<circle cx="120.9" cy="322.9" r="2.9"/>
<circle cx="105.7" cy="345.6" r="2.9"/>
<circle cx="94.2" cy="296.5" r="2.9"/>
<circle cx="117.4" cy="354.8" r="2.9"/>
<circle cx="125.5" cy="338.2" r="2.9"/>
<circle cx="115.6" cy="332.3" r="2.9"/>
<circle cx="107.2" cy="345.2" r="2.9"/>
<circle cx="116.5" cy="332.6" r="2.9"/>
<circle cx="94.4" cy="326.8" r="2.9"/>
<circle cx="110.5" cy="334.9" r="2.9"/>
<circle cx="103.0" cy="309.1" r="2.9"/>
<circle cx="111.9" cy="341.0" r="2.9"/>
<circle cx="105.2" cy="316.2" r="2.9"/>
<circle cx="90.5" cy="325.0" r="2.9"/>
<circle cx="113.8" cy="344.5" r="2.9"/>
<circle cx="116.0" cy="328.2" r="2.9"/>
<circle cx="91.1" cy="322.9" r="2.9"/>
<circle cx="115.9" cy="328.9" r="2.9"/>
<circle cx="127.7" cy="315.8" r="2.9"/>
<circle cx="129.3" cy="319.5" r="2.9"/>
<circle cx="95.1" cy="335.1" r="2.9"/>
<circle cx="115.3" cy="356.2" r="2.9"/>
<circle cx="116.0" cy="304.7" r="2.9"/>
<circle cx="119.2" cy="317.2" r="2.9"/>
<circle cx="118.0" cy="336.8" r="2.9"/>
<circle cx="120.1" cy="341.0" r="2.9"/>
<circle cx="97.4" cy="340.0" r="2.9"/>
<circle cx="104.1" cy="351.2" r="2.9"/>
<circle cx="104.7" cy="319.3" r="2.9"/>
<circle cx="124.8" cy="326.1" r="2.9"/>
<circle cx="98.2" cy="301.9" r="2.9"/>
<circle cx="91.7" cy="341.9" r="2.9"/>
<circle cx="93.6" cy="328.1" r="2.9"/>
<circle cx="114.7" cy="322.7" r="2.9"/>
<circle cx="119.1" cy="285.8" r="2.9"/>
<circle cx="113.9" cy="356.6" r="2.9"/>
<circle cx="123.2" cy="295.0" r="2.9"/>
<circle cx="104.7" cy="296.9" r="2.9"/>
<circle cx="102.3" cy="310.2" r="2.9"/>
<circle cx="97.7" cy="320.8" r="2.9"/>
<circle cx="119.2" cy="334.9" r="2.9"/>
<circle cx="119.6" cy="343.2" r="2.9"/>
<circle cx="95.3" cy="288.8" r="2.9"/>
<circle cx="108.2" cy="355.0" r="2.9"/>
<circle cx="93.5" cy="308.8" r="2.9"/>
<circle cx="121.8" cy="303.9" r="2.9"/>
<circle cx="122.3" cy="307.5" r="2.9"/>
<circle cx="96.4" cy="318.3" r="2.9"/>
<circle cx="104.4" cy="282.5" r="2.9"/>
<circle cx="115.7" cy="307.1" r="2.9"/>
<circle cx="105.2" cy="311.7" r="2.9"/>
<circle cx="123.6" cy="298.1" r="2.9"/>
<circle cx="120.6" cy="290.3" r="2.9"/>
<circle cx="108.4" cy="336.4" r="2.9"/>
<circle cx="126.1" cy="300.1" r="2.9"/>
<circle cx="102.0" cy="320.4" r="2.9"/>
<circle cx="121.6" cy="347.6" r="2.9"/>
<circle cx="107.0" cy="308.1" r="2.9"/>
<circle cx="109.4" cy="338.4" r="2.9"/>
<circle cx="93.7" cy="327.1" r="2.9"/>
<circle cx="128.6" cy="336.4" r="2.9"/>
<circle cx="105.5" cy="310.0" r="2.9"/>
<circle cx="98.6" cy="354.1" r="2.9"/>
<circle cx="117.9" cy="332.5" r="2.9"/>
<circle cx="107.5" cy="355.4" r="2.9"/>
<circle cx="116.2" cy="349.6" r="2.9"/>
<circle cx="97.4" cy="312.6" r="2.9"/>
<circle cx="113.4" cy="355.0" r="2.9"/>
<circle cx="103.1" cy="356.0" r="2.9"/>
<circle cx="119.0" cy="316.6" r="2.9"/>
<circle cx="104.5" cy="344.5" r="2.9"/>
<circle cx="120.6" cy="288.6" r="2.9"/>
<circle cx="102.1" cy="297.0" r="2.9"/>
<circle cx="124.5" cy="301.6" r="2.9"/>
<circle cx="127.1" cy="340.2" r="2.9"/>
<circle cx="97.8" cy="346.9" r="2.9"/>
<circle cx="101.4" cy="275.6" r="2.9"/>
<circle cx="104.1" cy="356.9" r="2.9"/>
<circle cx="128.3" cy="310.7" r="2.9"/>
<circle cx="116.6" cy="327.8" r="2.9"/>
<circle cx="103.6" cy="302.3" r="2.9"/>
<circle cx="122.2" cy="331.4" r="2.9"/>
<circle cx="95.9" cy="341.4" r="2.9"/>
<circle cx="95.0" cy="298.7" r="2.9"/>
<circle cx="98.6" cy="309.6" r="2.9"/>
<circle cx="113.1" cy="343.4" r="2.9"/>
<circle cx="105.2" cy="333.3" r="2.9"/>
<circle cx="110.4" cy="342.9" r="2.9"/>
<circle cx="115.2" cy="351.6" r="2.9"/>
<circle cx="113.9" cy="321.9" r="2.9"/>
<circle cx="105.1" cy="313.0" r="2.9"/>
<circle cx="97.1" cy="294.1" r="2.9"/>
<circle cx="100.4" cy="283.4" r="2.9"/>
<circle cx="97.7" cy="353.8" r="2.9"/>
<circle cx="114.8" cy="349.8" r="2.9"/>
<circle cx="114.2" cy="357.2" r="2.9"/>
<circle cx="107.7" cy="305.2" r="2.9"/>
<circle cx="102.6" cy="321.2" r="2.9"/>
<circle cx="115.3" cy="324.1" r="2.9"/>
<circle cx="126.7" cy="307.3" r="2.9"/>
<circle cx="120.5" cy="335.1" r="2.9"/>
<circle cx="112.0" cy="331.4" r="2.9"/>
<circle cx="122.6" cy="354.2" r="2.9"/>
<circle cx="126.6" cy="304.3" r="2.9"/>
<circle cx="115.2" cy="345.5" r="2.9"/>
<circle cx="101.2" cy="305.9" r="2.9"/>
<circle cx="94.4" cy="320.9" r="2.9"/>
<circle cx="122.5" cy="334.1" r="2.9"/>
<circle cx="104.9" cy="299.1" r="2.9"/>
<circle cx="97.1" cy="348.7" r="2.9"/>
<circle cx="119.0" cy="317.3" r="2.9"/>
<circle cx="108.3" cy="314.7" r="2.9"/>
<circle cx="117.1" cy="287.9" r="2.9"/>
<circle cx="95.2" cy="291.5" r="2.9"/>
<circle cx="117.4" cy="341.6" r="2.9"/>
<circle cx="113.8" cy="329.9" r="2.9"/>
<circle cx="115.0" cy="328.1" r="2.9"/>
<circle cx="92.6" cy="331.8" r="2.9"/>
<circle cx="118.3" cy="287.5" r="2.9"/>
<circle cx="97.1" cy="324.5" r="2.9"/>
<circle cx="105.6" cy="338.2" r="2.9"/>
<circle cx="102.5" cy="303.6" r="2.9"/>
<circle cx="99.7" cy="347.6" r="2.9"/>
<circle cx="122.4" cy="318.1" r="2.9"/>
<circle cx="107.4" cy="353.8" r="2.9"/>
<circle cx="122.8" cy="311.8" r="2.9"/>
<circle cx="119.1" cy="293.0" r="2.9"/>
<circle cx="99.9" cy="293.5" r="2.9"/>
<circle cx="101.6" cy="337.0" r="2.9"/>
<circle cx="100.7" cy="304.3" r="2.9"/>
<circle cx="112.8" cy="343.1" r="2.9"/>
<circle cx="122.0" cy="302.3" r="2.9"/>
<circle cx="120.6" cy="327.6" r="2.9"/>
<circle cx="101.7" cy="320.6" r="2.9"/>
<circle cx="101.3" cy="271.4" r="2.9"/>
<circle cx="112.8" cy="355.4" r="2.9"/>
<circle cx="123.5" cy="285.8" r="2.9"/>
<circle cx="100.7" cy="348.9" r="2.9"/>
<circle cx="94.9" cy="313.2" r="2.9"/>
<circle cx="94.3" cy="325.9" r="2.9"/>
<circle cx="93.8" cy="335.4" r="2.9"/>
<circle cx="128.4" cy="303.7" r="2.9"/>
<circle cx="97.7" cy="284.8" r="2.9"/>
<circle cx="99.7" cy="333.7" r="2.9"/>
<circle cx="119.7" cy="297.7" r="2.9"/>
<circle cx="123.6" cy="337.2" r="2.9"/>
<circle cx="102.7" cy="282.0" r="2.9"/>
<circle cx="100.0" cy="318.5" r="2.9"/>
<circle cx="117.6" cy="354.9" r="2.9"/>
<circle cx="103.6" cy="351.5" r="2.9"/>
<circle cx="94.0" cy="289.8" r="2.9"/>
<circle cx="101.5" cy="299.8" r="2.9"/>
<circle cx="106.1" cy="296.5" r="2.9"/>
<circle cx="106.8" cy="337.0" r="2.9"/>
<circle cx="126.1" cy="308.0" r="2.9"/>
<circle cx="119.7" cy="331.5" r="2.9"/>
<circle cx="112.6" cy="337.4" r="2.9"/>
<circle cx="103.7" cy="299.8" r="2.9"/>
<circle cx="132.4" cy="336.4" r="2.9"/>
<circle cx="98.7" cy="355.4" r="2.9"/>
<circle cx="99.9" cy="309.7" r="2.9"/>
<circle cx="121.1" cy="291.9" r="2.9"/>
<circle cx="108.0" cy="355.8" r="2.9"/>
<circle cx="98.1" cy="321.1" r="2.9"/>
<circle cx="108.0" cy="323.5" r="2.9"/>
<circle cx="119.7" cy="321.1" r="2.9"/>
<circle cx="127.5" cy="290.3" r="2.9"/>
<circle cx="123.1" cy="289.8" r="2.9"/>
<circle cx="101.7" cy="294.9" r="2.9"/>
<circle cx="103.7" cy="333.1" r="2.9"/>
<circle cx="116.8" cy="348.5" r="2.9"/>
<circle cx="99.1" cy="337.7" r="2.9"/>
<circle cx="122.3" cy="352.5" r="2.9"/>
<circle cx="100.0" cy="341.1" r="2.9"/>
<circle cx="99.3" cy="322.9" r="2.9"/>
<circle cx="99.2" cy="343.8" r="2.9"/>
<circle cx="99.9" cy="345.1" r="2.9"/>
<circle cx="101.6" cy="353.3" r="2.9"/>
<circle cx="121.4" cy="290.0" r="2.9"/>
<circle cx="99.1" cy="326.6" r="2.9"/>
<circle cx="106.1" cy="320.0" r="2.9"/>
<circle cx="103.0" cy="349.7" r="2.9"/>
<circle cx="93.4" cy="291.1" r="2.9"/>
<circle cx="94.1" cy="295.9" r="2.9"/>
<circle cx="122.2" cy="293.8" r="2.9"/>
<circle cx="99.9" cy="348.5" r="2.9"/>
<circle cx="120.1" cy="323.3" r="2.9"/>
<circle cx="98.4" cy="334.8" r="2.9"/>
<circle cx="119.2" cy="335.7" r="2.9"/>
<circle cx="107.1" cy="298.8" r="2.9"/>
<circle cx="126.7" cy="311.4" r="2.9"/>
<circle cx="114.7" cy="325.8" r="2.9"/>
<circle cx="128.5" cy="280.7" r="2.9"/>
<circle cx="124.2" cy="291.1" r="2.9"/>
<circle cx="111.6" cy="333.0" r="2.9"/>
<circle cx="112.7" cy="348.8" r="2.9"/>
<circle cx="102.2" cy="294.3" r="2.9"/>
<circle cx="108.2" cy="314.1" r="2.9"/>
<circle cx="93.3" cy="305.7" r="2.9"/>
<circle cx="124.4" cy="329.2" r="2.9"/>
<circle cx="122.5" cy="330.7" r="2.9"/>
<circle cx="96.2" cy="332.0" r="2.9"/>
<circle cx="124.1" cy="299.5" r="2.9"/>
<circle cx="108.9" cy="334.4" r="2.9"/>
<circle cx="124.2" cy="347.4" r="2.9"/>
<circle cx="94.7" cy="303.4" r="2.9"/>
<circle cx="121.6" cy="307.2" r="2.9"/>
<circle cx="103.5" cy="286.2" r="2.9"/>
<circle cx="114.2" cy="338.2" r="2.9"/>
<circle cx="117.5" cy="327.4" r="2.9"/>
<circle cx="125.0" cy="316.6" r="2.9"/>
<circle cx="106.1" cy="320.5" r="2.9"/>
<circle cx="96.5" cy="307.7" r="2.9"/>
<circle cx="125.6" cy="332.2" r="2.9"/>
<circle cx="108.2" cy="336.9" r="2.9"/>
<circle cx="105.3" cy="284.7" r="2.9"/>
<circle cx="107.6" cy="330.3" r="2.9"/>
<circle cx="123.8" cy="348.8" r="2.9"/>
<circle cx="96.3" cy="348.5" r="2.9"/>
<circle cx="105.8" cy="346.4" r="2.9"/>
<circle cx="115.9" cy="304.0" r="2.9"/>
<circle cx="110.6" cy="352.6" r="2.9"/>
<circle cx="124.6" cy="334.7" r="2.9"/>
<circle cx="98.0" cy="319.9" r="2.9"/>
<circle cx="119.9" cy="349.5" r="2.9"/>
<circle cx="95.6" cy="296.4" r="2.9"/>
<circle cx="96.3" cy="312.2" r="2.9"/>
<circle cx="97.6" cy="308.9" r="2.9"/>
<circle cx="114.4" cy="324.1" r="2.9"/>
<circle cx="123.1" cy="295.9" r="2.9"/>
<circle cx="97.1" cy="286.5" r="2.9"/>
<circle cx="91.2" cy="297.6" r="2.9"/>
<circle cx="108.3" cy="323.9" r="2.9"/>
<circle cx="104.1" cy="322.8" r="2.9"/>
<circle cx="98.9" cy="296.3" r="2.9"/>
<circle cx="97.1" cy="336.4" r="2.9"/>
<circle cx="98.0" cy="299.1" r="2.9"/>
<circle cx="119.7" cy="277.5" r="2.9"/>
<circle cx="103.6" cy="280.7" r="2.9"/>
<circle cx="127.6" cy="285.0" r="2.9"/>
<circle cx="105.4" cy="312.5" r="2.9"/>
<circle cx="100.0" cy="328.2" r="2.9"/>
<circle cx="97.7" cy="303.8" r="2.9"/>
<circle cx="102.8" cy="336.6" r="2.9"/>
<circle cx="98.2" cy="309.6" r="2.9"/>
<circle cx="125.0" cy="348.5" r="2.9"/>
<circle cx="103.0" cy="347.1" r="2.9"/>
<circle cx="104.0" cy="285.2" r="2.9"/>
<circle cx="114.7" cy="342.3" r="2.9"/>
<circle cx="123.0" cy="308.3" r="2.9"/>
<circle cx="117.3" cy="319.0" r="2.9"/>
<circle cx="100.5" cy="325.1" r="2.9"/>
<circle cx="106.2" cy="338.8" r="2.9"/>
<circle cx="126.8" cy="322.7" r="2.9"/>
<circle cx="116.5" cy="306.5" r="2.9"/>
<circle cx="103.1" cy="310.6" r="2.9"/>
<circle cx="125.6" cy="335.3" r="2.9"/>
<circle cx="119.2" cy="351.6" r="2.9"/>
<circle cx="117.1" cy="353.0" r="2.9"/>
<circle cx="102.3" cy="290.7" r="2.9"/>
<circle cx="118.9" cy="322.6" r="2.9"/>
<circle cx="100.1" cy="325.4" r="2.9"/>
<circle cx="126.2" cy="342.5" r="2.9"/>
<circle cx="125.8" cy="312.3" r="2.9"/>
<circle cx="125.1" cy="337.3" r="2.9"/>
<circle cx="115.5" cy="336.0" r="2.9"/>
<circle cx="123.1" cy="345.7" r="2.9"/>
<circle cx="124.3" cy="317.1" r="2.9"/>
<circle cx="105.4" cy="316.1" r="2.9"/>
<circle cx="93.6" cy="321.3" r="2.9"/>
<circle cx="115.8" cy="302.0" r="2.9"/>
<circle cx="113.6" cy="315.8" r="2.9"/>
<circle cx="109.4" cy="332.7" r="2.9"/>
<circle cx="105.9" cy="288.4" r="2.9"/>
<circle cx="96.3" cy="324.7" r="2.9"/>
<circle cx="122.0" cy="300.0" r="2.9"/>
<circle cx="108.8" cy="342.3" r="2.9"/>
<circle cx="121.8" cy="342.3" r="2.9"/>
<circle cx="122.8" cy="346.6" r="2.9"/>
<circle cx="117.3" cy="321.9" r="2.9"/>
<circle cx="94.7" cy="292.5" r="2.9"/>
<circle cx="97.0" cy="330.8" r="2.9"/>
<circle cx="101.2" cy="280.5" r="2.9"/>
<circle cx="92.6" cy="327.6" r="2.9"/>
<circle cx="122.5" cy="291.0" r="2.9"/>
<circle cx="101.8" cy="352.1" r="2.9"/>
<circle cx="99.6" cy="349.2" r="2.9"/>
<circle cx="95.9" cy="343.1" r="2.9"/>
<circle cx="104.7" cy="332.1" r="2.9"/>
<circle cx="103.0" cy="298.8" r="2.9"/>
<circle cx="116.6" cy="334.1" r="2.9"/>
<circle cx="101.1" cy="327.0" r="2.9"/>
<circle cx="97.8" cy="304.3" r="2.9"/>
<circle cx="128.5" cy="304.9" r="2.9"/>
<circle cx="96.9" cy="300.2" r="2.9"/>
<circle cx="117.0" cy="338.8" r="2.9"/>
<circle cx="100.3" cy="317.3" r="2.9"/>
<circle cx="96.2" cy="303.6" r="2.9"/>
<circle cx="93.9" cy="340.6" r="2.9"/>
<circle cx="117.4" cy="307.9" r="2.9"/>
<circle cx="106.4" cy="300.3" r="2.9"/>
<circle cx="119.0" cy="344.6" r="2.9"/>
<circle cx="105.3" cy="287.1" r="2.9"/>
<circle cx="99.0" cy="278.7" r="2.9"/>
<circle cx="96.9" cy="339.7" r="2.9"/>
<circle cx="102.6" cy="338.5" r="2.9"/>
<circle cx="115.5" cy="352.0" r="2.9"/>
<circle cx="114.1" cy="350.9" r="2.9"/>
<circle cx="101.1" cy="296.2" r="2.9"/>
<circle cx="117.6" cy="296.1" r="2.9"/>
<circle cx="113.5" cy="344.1" r="2.9"/>
<circle cx="108.1" cy="320.0" r="2.9"/>
<circle cx="105.8" cy="306.7" r="2.9"/>
<circle cx="126.2" cy="301.1" r="2.9"/>
<circle cx="98.3" cy="335.1" r="2.9"/>
<circle cx="102.2" cy="349.5" r="2.9"/>
<circle cx="126.4" cy="307.3" r="2.9"/>
<circle cx="122.1" cy="331.1" r="2.9"/>
<circle cx="94.7" cy="338.3" r="2.9"/>
<circle cx="117.6" cy="324.6" r="2.9"/>
<circle cx="96.5" cy="279.7" r="2.9"/>
<circle cx="107.9" cy="342.9" r="2.9"/>
<circle cx="109.3" cy="323.1" r="2.9"/>
<circle cx="104.0" cy="329.8" r="2.9"/>
<circle cx="121.5" cy="314.3" r="2.9"/>
<circle cx="121.1" cy="341.9" r="2.9"/>
<circle cx="102.1" cy="291.4" r="2.9"/>
<circle cx="106.8" cy="313.0" r="2.9"/>
<circle cx="103.4" cy="328.2" r="2.9"/>
<circle cx="112.1" cy="331.1" r="2.9"/>
<circle cx="126.8" cy="298.0" r="2.9"/>
<circle cx="103.2" cy="333.5" r="2.9"/>
<circle cx="121.4" cy="296.6" r="2.9"/>
<circle cx="96.6" cy="294.1" r="2.9"/>
<circle cx="124.6" cy="292.3" r="2.9"/>
<circle cx="111.7" cy="350.8" r="2.9"/>
<circle cx="105.4" cy="348.2" r="2.9"/>
<circle cx="100.4" cy="347.4" r="2.9"/>
<circle cx="100.0" cy="309.8" r="2.9"/>
<circle cx="103.8" cy="333.7" r="2.9"/>
<circle cx="98.2" cy="313.3" r="2.9"/>
<circle cx="95.8" cy="331.7" r="2.9"/>
<circle cx="120.1" cy="308.9" r="2.9"/>
<circle cx="124.6" cy="334.2" r="2.9"/>
<circle cx="125.6" cy="303.5" r="2.9"/>
<circle cx="92.1" cy="316.6" r="2.9"/>
<circle cx="98.7" cy="345.3" r="2.9"/>
<circle cx="114.2" cy="343.8" r="2.9"/>
<circle cx="115.8" cy="354.8" r="2.9"/>
<circle cx="102.0" cy="315.3" r="2.9"/>
<circle cx="99.6" cy="298.8" r="2.9"/>
<circle cx="97.5" cy="337.7" r="2.9"/>
<circle cx="122.4" cy="306.4" r="2.9"/>
<circle cx="110.0" cy="330.2" r="2.9"/>
<circle cx="114.6" cy="308.8" r="2.9"/>
<circle cx="97.6" cy="332.3" r="2.9"/>
<circle cx="125.4" cy="309.0" r="2.9"/>
<circle cx="127.9" cy="322.6" r="2.9"/>
<circle cx="122.3" cy="324.5" r="2.9"/>
<circle cx="117.8" cy="347.1" r="2.9"/>
<circle cx="101.9" cy="318.9" r="2.9"/>
<circle cx="105.9" cy="347.9" r="2.9"/>
<circle cx="110.1" cy="347.5" r="2.9"/>
<circle cx="101.7" cy="310.6" r="2.9"/>
<circle cx="102.2" cy="327.1" r="2.9"/>
<circle cx="116.5" cy="336.1" r="2.9"/>
<circle cx="119.8" cy="281.9" r="2.9"/>
<circle cx="113.2" cy="347.7" r="2.9"/>
<circle cx="98.3" cy="295.8" r="2.9"/>
<circle cx="121.2" cy="297.8" r="2.9"/>
<circle cx="104.8" cy="291.5" r="2.9"/>
<circle cx="98.8" cy="324.1" r="2.9"/>
<circle cx="105.1" cy="345.3" r="2.9"/>
<circle cx="123.2" cy="326.6" r="2.9"/>
<circle cx="119.6" cy="340.6" r="2.9"/>
<circle cx="117.3" cy="303.6" r="2.9"/>
<circle cx="108.5" cy="346.4" r="2.9"/>
<circle cx="105.4" cy="304.2" r="2.9"/>
<circle cx="120.2" cy="337.4" r="2.9"/>
<circle cx="124.0" cy="316.0" r="2.9"/>
<circle cx="123.0" cy="306.8" r="2.9"/>
<circle cx="119.3" cy="292.9" r="2.9"/>
<circle cx="102.6" cy="319.1" r="2.9"/>
<circle cx="96.6" cy="314.1" r="2.9"/>
<circle cx="104.6" cy="335.4" r="2.9"/>
<circle cx="115.7" cy="349.8" r="2.9"/>
<circle cx="109.3" cy="321.8" r="2.9"/>
<circle cx="95.3" cy="341.7" r="2.9"/>
<circle cx="116.1" cy="347.6" r="2.9"/>
<circle cx="120.6" cy="336.3" r="2.9"/>
<circle cx="108.8" cy="325.2" r="2.9"/>
<circle cx="99.8" cy="340.6" r="2.9"/>
<circle cx="98.4" cy="326.4" r="2.9"/>
<circle cx="96.3" cy="280.7" r="2.9"/>
<circle cx="105.6" cy="288.4" r="2.9"/>
<circle cx="105.9" cy="354.1" r="2.9"/>
<circle cx="123.2" cy="301.2" r="2.9"/>
<circle cx="94.1" cy="290.0" r="2.9"/>
<circle cx="89.6" cy="307.3" r="2.9"/>
<circle cx="120.0" cy="332.3" r="2.9"/>
<circle cx="93.9" cy="286.8" r="2.9"/>
<circle cx="115.6" cy="319.6" r="2.9"/>
<circle cx="94.2" cy="296.7" r="2.9"/>
<circle cx="96.1" cy="293.1" r="2.9"/>
<circle cx="123.1" cy="331.8" r="2.9"/>
<circle cx="102.1" cy="288.2" r="2.9"/>
<circle cx="121.3" cy="318.6" r="2.9"/>
<circle cx="105.6" cy="305.3" r="2.9"/>
<circle cx="121.6" cy="323.3" r="2.9"/>
<circle cx="103.0" cy="288.6" r="2.9"/>
<circle cx="97.3" cy="319.3" r="2.9"/>
<circle cx="127.7" cy="276.9" r="2.9"/>
<circle cx="125.2" cy="351.2" r="2.9"/>
<circle cx="126.7" cy="354.0" r="2.9"/>
<circle cx="115.2" cy="344.8" r="2.9"/>
<circle cx="124.6" cy="324.5" r="2.9"/>
<circle cx="105.5" cy="353.7" r="2.9"/>
<circle cx="99.5" cy="327.7" r="2.9"/>
<circle cx="129.5" cy="337.5" r="2.9"/>
<circle cx="88.8" cy="327.7" r="2.9"/>
<circle cx="95.8" cy="304.1" r="2.9"/>
<circle cx="122.1" cy="294.3" r="2.9"/>
<circle cx="113.8" cy="336.7" r="2.9"/>
<circle cx="96.6" cy="309.7" r="2.9"/>
<circle cx="122.4" cy="308.6" r="2.9"/>
<circle cx="95.8" cy="310.6" r="2.9"/>
<circle cx="120.3" cy="350.0" r="2.9"/>
<circle cx="99.1" cy="331.4" r="2.9"/>
<circle cx="98.8" cy="292.5" r="2.9"/>
<circle cx="131.0" cy="340.5" r="2.9"/>
<circle cx="94.2" cy="303.2" r="2.9"/>
<circle cx="96.4" cy="351.6" r="2.9"/>
<circle cx="117.7" cy="319.5" r="2.9"/>
<circle cx="114.2" cy="334.0" r="2.9"/>
<circle cx="118.4" cy="344.0" r="2.9"/>
<circle cx="124.6" cy="326.4" r="2.9"/>
<circle cx="104.1" cy="349.8" r="2.9"/>
<circle cx="98.0" cy="294.8" r="2.9"/>
<circle cx="99.4" cy="290.6" r="2.9"/>
<circle cx="119.0" cy="311.2" r="2.9"/>
<circle cx="95.9" cy="335.4" r="2.9"/>
<circle cx="96.0" cy="331.3" r="2.9"/>
<circle cx="119.0" cy="308.7" r="2.9"/>
<circle cx="115.0" cy="343.0" r="2.9"/>
<circle cx="129.0" cy="318.9" r="2.9"/>
<circle cx="120.5" cy="341.3" r="2.9"/>
<circle cx="102.8" cy="344.2" r="2.9"/>
<circle cx="123.9" cy="344.3" r="2.9"/>
<circle cx="115.3" cy="337.8" r="2.9"/>
<circle cx="108.3" cy="346.0" r="2.9"/>
<circle cx="119.1" cy="340.5" r="2.9"/>
<circle cx="96.3" cy="284.9" r="2.9"/>
<circle cx="101.3" cy="328.4" r="2.9"/>
<circle cx="102.6" cy="341.4" r="2.9"/>
<circle cx="117.1" cy="343.4" r="2.9"/>
<circle cx="117.0" cy="353.0" r="2.9"/>
<circle cx="101.3" cy="312.2" r="2.9"/>
<circle cx="119.7" cy="305.1" r="2.9"/>
<circle cx="121.4" cy="296.9" r="2.9"/>
<circle cx="117.3" cy="331.0" r="2.9"/>
<circle cx="122.6" cy="287.2" r="2.9"/>
<circle cx="116.1" cy="353.5" r="2.9"/>
<circle cx="125.2" cy="343.1" r="2.9"/>
<circle cx="100.3" cy="283.1" r="2.9"/>
<circle cx="114.5" cy="350.6" r="2.9"/>
<circle cx="94.8" cy="351.3" r="2.9"/>
<circle cx="99.4" cy="305.5" r="2.9"/>
<circle cx="124.0" cy="296.4" r="2.9"/>
<circle cx="107.1" cy="301.6" r="2.9"/>
<circle cx="117.7" cy="318.0" r="2.9"/>
<circle cx="118.1" cy="300.0" r="2.9"/>
<circle cx="103.3" cy="289.5" r="2.9"/>
<circle cx="98.5" cy="287.9" r="2.9"/>
<circle cx="103.5" cy="334.8" r="2.9"/>
<circle cx="116.0" cy="316.9" r="2.9"/>
<circle cx="115.0" cy="320.6" r="2.9"/>
<circle cx="114.9" cy="340.8" r="2.9"/>
<circle cx="104.5" cy="320.7" r="2.9"/>
<circle cx="109.8" cy="322.5" r="2.9"/>
<circle cx="106.9" cy="316.4" r="2.9"/>
<circle cx="102.5" cy="356.8" r="2.9"/>
<circle cx="124.5" cy="292.0" r="2.9"/>
<circle cx="113.5" cy="321.2" r="2.9"/>
<circle cx="123.6" cy="310.2" r="2.9"/>
<circle cx="119.4" cy="281.4" r="2.9"/>
<circle cx="103.3" cy="356.6" r="2.9"/>
<circle cx="125.8" cy="300.1" r="2.9"/>
<circle cx="106.6" cy="298.4" r="2.9"/>
<circle cx="111.3" cy="332.7" r="2.9"/>
<circle cx="120.5" cy="287.2" r="2.9"/>
<circle cx="99.6" cy="291.5" r="2.9"/>
<circle cx="101.1" cy="317.1" r="2.9"/>
<circle cx="98.1" cy="326.8" r="2.9"/>
<circle cx="125.0" cy="305.4" r="2.9"/>
<circle cx="116.5" cy="296.1" r="2.9"/>
<circle cx="99.4" cy="320.2" r="2.9"/>
<circle cx="100.5" cy="316.4" r="2.9"/>
<circle cx="98.2" cy="285.4" r="2.9"/>
<circle cx="120.8" cy="351.7" r="2.9"/>
<circle cx="116.7" cy="290.1" r="2.9"/>
<circle cx="113.6" cy="327.8" r="2.9"/>
<circle cx="124.0" cy="337.3" r="2.9"/>
<circle cx="115.3" cy="323.6" r="2.9"/>
<circle cx="92.6" cy="304.1" r="2.9"/>
<circle cx="94.6" cy="333.8" r="2.9"/>
<circle cx="125.7" cy="313.0" r="2.9"/>
<circle cx="101.5" cy="317.3" r="2.9"/>
<circle cx="111.7" cy="356.3" r="2.9"/>
<circle cx="118.6" cy="331.6" r="2.9"/>
<circle cx="122.3" cy="320.9" r="2.9"/>
<circle cx="117.7" cy="280.4" r="2.9"/>
<circle cx="117.1" cy="329.8" r="2.9"/>
<circle cx="128.3" cy="343.1" r="2.9"/>
<circle cx="102.4" cy="354.7" r="2.9"/>
<circle cx="122.7" cy="310.7" r="2.9"/>
<circle cx="117.3" cy="294.5" r="2.9"/>
<circle cx="107.6" cy="335.3" r="2.9"/>
<circle cx="113.8" cy="356.6" r="2.9"/>
<circle cx="122.4" cy="288.1" r="2.9"/>
<circle cx="95.8" cy="351.3" r="2.9"/>
<circle cx="101.3" cy="349.9" r="2.9"/>
<circle cx="123.6" cy="355.6" r="2.9"/>
<circle cx="99.8" cy="324.7" r="2.9"/>
<circle cx="122.1" cy="328.1" r="2.9"/>
<circle cx="118.8" cy="327.6" r="2.9"/>
<circle cx="129.2" cy="284.8" r="2.9"/>
<circle cx="113.6" cy="326.0" r="2.9"/>
<circle cx="96.7" cy="306.3" r="2.9"/>
<circle cx="126.4" cy="312.9" r="2.9"/>
<circle cx="124.1" cy="322.7" r="2.9"/>
<circle cx="106.8" cy="299.1" r="2.9"/>
<circle cx="106.5" cy="326.4" r="2.9"/>
<circle cx="101.2" cy="309.2" r="2.9"/>
<circle cx="122.5" cy="278.1" r="2.9"/>
<circle cx="120.6" cy="308.0" r="2.9"/>
<circle cx="112.6" cy="335.4" r="2.9"/>
<circle cx="117.8" cy="318.6" r="2.9"/>
<circle cx="102.6" cy="340.8" r="2.9"/>
<circle cx="123.9" cy="292.9" r="2.9"/>
<circle cx="123.4" cy="302.7" r="2.9"/>
<circle cx="98.2" cy="332.1" r="2.9"/>
<circle cx="127.3" cy="343.2" r="2.9"/>
<circle cx="117.1" cy="345.1" r="2.9"/>
<circle cx="95.2" cy="329.3" r="2.9"/>
<circle cx="106.8" cy="325.7" r="2.9"/>
<circle cx="100.6" cy="278.7" r="2.9"/>
<circle cx="116.1" cy="352.1" r="2.9"/>
<circle cx="95.9" cy="308.6" r="2.9"/>
<circle cx="92.9" cy="336.6" r="2.9"/>
<circle cx="120.2" cy="329.9" r="2.9"/>
<circle cx="99.6" cy="295.4" r="2.9"/>
<circle cx="124.9" cy="306.2" r="2.9"/>
<circle cx="113.5" cy="327.5" r="2.9"/>
<circle cx="100.1" cy="356.2" r="2.9"/>
<circle cx="117.0" cy="355.8" r="2.9"/>
<circle cx="101.5" cy="351.1" r="2.9"/>
<circle cx="114.7" cy="317.4" r="2.9"/>
<circle cx="108.6" cy="328.5" r="2.9"/>
<circle cx="93.3" cy="288.7" r="2.9"/>
<circle cx="95.7" cy="345.4" r="2.9"/>
<circle cx="109.1" cy="349.5" r="2.9"/>
<circle cx="94.5" cy="349.8" r="2.9"/>
<circle cx="120.3" cy="350.7" r="2.9"/>
<circle cx="93.4" cy="305.3" r="2.9"/>
<circle cx="98.6" cy="280.1" r="2.9"/>
<circle cx="97.0" cy="311.3" r="2.9"/>
<circle cx="98.9" cy="328.1" r="2.9"/>
<circle cx="115.1" cy="327.7" r="2.9"/>
<circle cx="98.9" cy="298.1" r="2.9"/>
<circle cx="115.2" cy="315.9" r="2.9"/>
<circle cx="104.0" cy="338.0" r="2.9"/>
<circle cx="116.1" cy="324.5" r="2.9"/>
<circle cx="121.7" cy="313.0" r="2.9"/>
<circle cx="104.3" cy="352.4" r="2.9"/>
<circle cx="103.7" cy="297.3" r="2.9"/>
<circle cx="106.4" cy="295.5" r="2.9"/>
<circle cx="104.9" cy="352.8" r="2.9"/>
<circle cx="104.8" cy="336.0" r="2.9"/>
<circle cx="97.3" cy="316.5" r="2.9"/>
<circle cx="121.3" cy="353.1" r="2.9"/>
<circle cx="115.6" cy="318.5" r="2.9"/>
<circle cx="95.2" cy="313.6" r="2.9"/>
<circle cx="122.2" cy="299.6" r="2.9"/>
<circle cx="126.7" cy="309.5" r="2.9"/>
<circle cx="101.5" cy="330.2" r="2.9"/>
<circle cx="121.3" cy="307.5" r="2.9"/>
<circle cx="116.6" cy="306.9" r="2.9"/>
<circle cx="117.1" cy="340.0" r="2.9"/>
<circle cx="123.7" cy="314.2" r="2.9"/>
<circle cx="107.0" cy="338.6" r="2.9"/>
<circle cx="100.4" cy="285.3" r="2.9"/>
<circle cx="124.6" cy="292.8" r="2.9"/>
<circle cx="115.2" cy="344.0" r="2.9"/>
<circle cx="97.2" cy="302.6" r="2.9"/>
<circle cx="117.1" cy="351.7" r="2.9"/>
<circle cx="123.7" cy="313.7" r="2.9"/>
<circle cx="104.6" cy="286.2" r="2.9"/>
<circle cx="106.6" cy="302.4" r="2.9"/>
<circle cx="98.4" cy="301.9" r="2.9"/>
<circle cx="95.4" cy="343.6" r="2.9"/>
<circle cx="103.8" cy="352.7" r="2.9"/>
<circle cx="116.4" cy="302.8" r="2.9"/>
<circle cx="113.4" cy="355.4" r="2.9"/>
<circle cx="118.8" cy="306.2" r="2.9"/>
<circle cx="121.0" cy="317.8" r="2.9"/>
<circle cx="120.3" cy="279.8" r="2.9"/>
<circle cx="115.8" cy="329.6" r="2.9"/>
<circle cx="101.9" cy="333.8" r="2.9"/>
<circle cx="116.0" cy="341.1" r="2.9"/>
<circle cx="120.8" cy="323.2" r="2.9"/>
<circle cx="129.7" cy="313.3" r="2.9"/>
<circle cx="102.8" cy="279.6" r="2.9"/>
<circle cx="122.9" cy="315.6" r="2.9"/>
<circle cx="103.7" cy="294.4" r="2.9"/>
<circle cx="130.2" cy="298.4" r="2.9"/>
<circle cx="114.8" cy="317.8" r="2.9"/>
<circle cx="104.9" cy="310.4" r="2.9"/>
<circle cx="98.4" cy="288.7" r="2.9"/>
<circle cx="124.8" cy="303.7" r="2.9"/>
<circle cx="103.5" cy="293.0" r="2.9"/>
<circle cx="95.6" cy="351.2" r="2.9"/>
<circle cx="114.0" cy="355.8" r="2.9"/>
<circle cx="127.4" cy="341.9" r="2.9"/>
<circle cx="107.4" cy="339.7" r="2.9"/>
<circle cx="101.6" cy="309.9" r="2.9"/>
<circle cx="105.6" cy="354.4" r="2.9"/>
<circle cx="124.9" cy="307.3" r="2.9"/>
<circle cx="121.1" cy="288.0" r="2.9"/>
<circle cx="125.6" cy="312.9" r="2.9"/>
<circle cx="101.6" cy="308.6" r="2.9"/>
<circle cx="120.5" cy="293.9" r="2.9"/>
<circle cx="102.9" cy="305.5" r="2.9"/>
<circle cx="97.7" cy="304.6" r="2.9"/>
<circle cx="122.9" cy="288.6" r="2.9"/>
<circle cx="121.7" cy="308.0" r="2.9"/>
<circle cx="126.1" cy="324.6" r="2.9"/>
<circle cx="93.1" cy="306.8" r="2.9"/>
<circle cx="97.7" cy="338.0" r="2.9"/>
<circle cx="91.8" cy="284.9" r="2.9"/>
<circle cx="121.6" cy="291.0" r="2.9"/>
<circle cx="103.8" cy="325.1" r="2.9"/>
<circle cx="117.9" cy="341.0" r="2.9"/>
<circle cx="109.6" cy="342.3" r="2.9"/>
<circle cx="104.1" cy="324.7" r="2.9"/>
<circle cx="111.7" cy="355.4" r="2.9"/>
<circle cx="107.5" cy="313.4" r="2.9"/>
<circle cx="98.3" cy="295.8" r="2.9"/>
<circle cx="97.9" cy="325.8" r="2.9"/>
<circle cx="106.9" cy="353.0" r="2.9"/>
<circle cx="93.6" cy="339.9" r="2.9"/>
<circle cx="102.2" cy="330.1" r="2.9"/>
<circle cx="122.9" cy="323.5" r="2.9"/>
<circle cx="110.1" cy="348.3" r="2.9"/>
<circle cx="123.2" cy="351.5" r="2.9"/>
<circle cx="120.5" cy="345.5" r="2.9"/>
<circle cx="118.1" cy="324.3" r="2.9"/>
<circle cx="106.1" cy="305.6" r="2.9"/>
<circle cx="104.1" cy="351.8" r="2.9"/>
<circle cx="105.6" cy="290.1" r="2.9"/>
<circle cx="95.3" cy="289.4" r="2.9"/>
<circle cx="128.4" cy="288.6" r="2.9"/>
<circle cx="116.6" cy="356.4" r="2.9"/>
<circle cx="97.4" cy="347.8" r="2.9"/>
<circle cx="99.5" cy="341.2" r="2.9"/>
<circle cx="98.9" cy="315.0" r="2.9"/>
<circle cx="102.8" cy="333.9" r="2.9"/>
<circle cx="125.9" cy="318.1" r="2.9"/>
<circle cx="100.8" cy="333.1" r="2.9"/>
<circle cx="122.9" cy="325.3" r="2.9"/>
<circle cx="100.9" cy="294.8" r="2.9"/>
<circle cx="104.9" cy="352.4" r="2.9"/>
<circle cx="101.7" cy="342.6" r="2.9"/>
<circle cx="102.3" cy="303.0" r="2.9"/>
<circle cx="117.7" cy="321.4" r="2.9"/>
<circle cx="105.3" cy="332.9" r="2.9"/>
<circle cx="105.9" cy="288.3" r="2.9"/>
<circle cx="123.9" cy="344.0" r="2.9"/>
<circle cx="126.8" cy="343.2" r="2.9"/>
<circle cx="101.3" cy="288.9" r="2.9"/>
<circle cx="104.6" cy="351.3" r="2.9"/>
<circle cx="99.6" cy="333.3" r="2.9"/>
<circle cx="125.0" cy="295.2" r="2.9"/>
<circle cx="120.4" cy="306.6" r="2.9"/>
<circle cx="121.6" cy="307.8" r="2.9"/>
<circle cx="117.8" cy="354.6" r="2.9"/>
<circle cx="123.3" cy="294.7" r="2.9"/>
<circle cx="111.0" cy="349.9" r="2.9"/>
<circle cx="97.6" cy="290.8" r="2.9"/>
<circle cx="125.1" cy="310.3" r="2.9"/>
<circle cx="120.9" cy="322.3" r="2.9"/>
<circle cx="99.1" cy="310.0" r="2.9"/>
<circle cx="102.8" cy="353.2" r="2.9"/>
<circle cx="94.8" cy="335.1" r="2.9"/>
<circle cx="98.3" cy="315.5" r="2.9"/>
<circle cx="126.1" cy="303.5" r="2.9"/>
<circle cx="95.0" cy="304.3" r="2.9"/>
<circle cx="124.9" cy="352.3" r="2.9"/>
<circle cx="103.3" cy="307.2" r="2.9"/>
<circle cx="115.7" cy="343.2" r="2.9"/>
<circle cx="102.9" cy="285.6" r="2.9"/>
<circle cx="101.2" cy="290.8" r="2.9"/>
<circle cx="119.7" cy="302.2" r="2.9"/>
<circle cx="101.4" cy="281.1" r="2.9"/>
<circle cx="121.3" cy="322.9" r="2.9"/>
<circle cx="100.8" cy="336.6" r="2.9"/>
<circle cx="124.8" cy="320.8" r="2.9"/>
<circle cx="101.2" cy="352.7" r="2.9"/>
<circle cx="122.1" cy="340.5" r="2.9"/>
<circle cx="119.0" cy="308.9" r="2.9"/>
<circle cx="107.1" cy="325.4" r="2.9"/>
<circle cx="120.7" cy="292.1" r="2.9"/>
<circle cx="111.3" cy="335.7" r="2.9"/>
<circle cx="113.2" cy="321.8" r="2.9"/>
<circle cx="125.3" cy="285.2" r="2.9"/>
<circle cx="117.3" cy="336.6" r="2.9"/>
<circle cx="122.4" cy="309.6" r="2.9"/>
<circle cx="102.9" cy="317.8" r="2.9"/>
<circle cx="117.8" cy="354.2" r="2.9"/>
<circle cx="130.2" cy="331.9" r="2.9"/>
<circle cx="118.0" cy="354.6" r="2.9"/>
<circle cx="115.4" cy="344.2" r="2.9"/>
<circle cx="89.3" cy="337.7" r="2.9"/>
<circle cx="114.1" cy="339.2" r="2.9"/>
<circle cx="118.1" cy="328.3" r="2.9"/>
<circle cx="119.2" cy="343.1" r="2.9"/>
<circle cx="97.2" cy="354.1" r="2.9"/>
<circle cx="119.5" cy="321.1" r="2.9"/>
<circle cx="121.3" cy="290.2" r="2.9"/>
<circle cx="111.4" cy="351.2" r="2.9"/>
<circle cx="121.0" cy="276.1" r="2.9"/>
<circle cx="117.2" cy="288.5" r="2.9"/>
<circle cx="123.3" cy="322.7" r="2.9"/>
<circle cx="118.2" cy="330.0" r="2.9"/>
<circle cx="118.6" cy="289.9" r="2.9"/>
<circle cx="101.1" cy="330.7" r="2.9"/>
<circle cx="100.5" cy="343.1" r="2.9"/>
<circle cx="121.2" cy="354.7" r="2.9"/>
<circle cx="98.6" cy="287.0" r="2.9"/>
<circle cx="103.7" cy="354.9" r="2.9"/>
<circle cx="121.3" cy="295.1" r="2.9"/>
<circle cx="125.9" cy="289.3" r="2.9"/>
<circle cx="98.2" cy="305.1" r="2.9"/>
<circle cx="119.4" cy="354.6" r="2.9"/>
<circle cx="123.8" cy="340.6" r="2.9"/>
<circle cx="114.2" cy="350.3" r="2.9"/>
<circle cx="125.3" cy="313.6" r="2.9"/>
<circle cx="115.1" cy="332.4" r="2.9"/>
<circle cx="114.8" cy="327.4" r="2.9"/>
<circle cx="99.0" cy="352.9" r="2.9"/>
<circle cx="102.7" cy="351.2" r="2.9"/>
<circle cx="104.8" cy="303.4" r="2.9"/>
<circle cx="97.4" cy="335.3" r="2.9"/>
<circle cx="116.0" cy="310.7" r="2.9"/>
<circle cx="114.0" cy="336.8" r="2.9"/>
<circle cx="102.4" cy="288.0" r="2.9"/>
<circle cx="101.2" cy="290.9" r="2.9"/>
<circle cx="126.1" cy="294.5" r="2.9"/>
<circle cx="111.8" cy="337.4" r="2.9"/>
<circle cx="91.8" cy="326.8" r="2.9"/>
<circle cx="108.8" cy="344.4" r="2.9"/>
<circle cx="128.9" cy="321.9" r="2.9"/>
<circle cx="100.2" cy="304.0" r="2.9"/>
<circle cx="98.5" cy="329.7" r="2.9"/>
<circle cx="97.0" cy="280.8" r="2.9"/>
<circle cx="107.3" cy="323.4" r="2.9"/>
<circle cx="91.7" cy="346.2" r="2.9"/>
<circle cx="101.1" cy="316.5" r="2.9"/>
<circle cx="109.4" cy="349.8" r="2.9"/>
<circle cx="124.5" cy="321.4" r="2.9"/>
<circle cx="93.8" cy="288.2" r="2.9"/>
<circle cx="97.5" cy="302.6" r="2.9"/>
<circle cx="100.2" cy="299.9" r="2.9"/>
<circle cx="111.1" cy="338.4" r="2.9"/>
<circle cx="101.0" cy="350.4" r="2.9"/>
<circle cx="122.0" cy="314.0" r="2.9"/>
<circle cx="104.6" cy="310.9" r="2.9"/>
<circle cx="113.4" cy="318.3" r="2.9"/>
<circle cx="103.0" cy="340.7" r="2.9"/>
<circle cx="123.1" cy="349.5" r="2.9"/>
<circle cx="92.8" cy="315.2" r="2.9"/>
<circle cx="107.4" cy="353.0" r="2.9"/>
<circle cx="112.0" cy="330.9" r="2.9"/>
<circle cx="130.4" cy="311.4" r="2.9"/>
<circle cx="116.8" cy="338.0" r="2.9"/>
<circle cx="100.9" cy="352.3" r="2.9"/>
<circle cx="96.8" cy="300.7" r="2.9"/>
<circle cx="120.4" cy="347.9" r="2.9"/>
<circle cx="120.3" cy="298.3" r="2.9"/>
<circle cx="106.6" cy="349.8" r="2.9"/>
<circle cx="115.0" cy="318.1" r="2.9"/>
<circle cx="98.1" cy="282.0" r="2.9"/>
<circle cx="124.2" cy="337.6" r="2.9"/>
<circle cx="95.0" cy="325.4" r="2.9"/>
<circle cx="122.9" cy="304.4" r="2.9"/>
<circle cx="122.5" cy="321.3" r="2.9"/>
<circle cx="126.1" cy="312.3" r="2.9"/>
<circle cx="113.7" cy="342.6" r="2.9"/>
<circle cx="104.0" cy="302.6" r="2.9"/>
<circle cx="108.3" cy="326.8" r="2.9"/>
<circle cx="115.0" cy="331.5" r="2.9"/>
<circle cx="113.0" cy="330.9" r="2.9"/>
<circle cx="123.2" cy="289.8" r="2.9"/>
<circle cx="132.0" cy="345.8" r="2.9"/>
<circle cx="124.2" cy="245.7" r="2.9"/>
<circle cx="103.5" cy="313.6" r="2.9"/>
<circle cx="126.2" cy="326.6" r="2.9"/>
<circle cx="118.4" cy="353.3" r="2.9"/>
<circle cx="106.8" cy="337.9" r="2.9"/>
<circle cx="130.2" cy="308.6" r="2.9"/>
<circle cx="97.8" cy="313.7" r="2.9"/>
<circle cx="118.3" cy="282.3" r="2.9"/>
<circle cx="125.6" cy="343.5" r="2.9"/>
<circle cx="96.7" cy="273.2" r="2.9"/>
<circle cx="124.7" cy="295.2" r="2.9"/>
<circle cx="103.3" cy="276.7" r="2.9"/>
<circle cx="124.1" cy="320.8" r="2.9"/>
<circle cx="92.5" cy="347.8" r="2.9"/>
<circle cx="126.1" cy="286.9" r="2.9"/>
<circle cx="124.2" cy="293.7" r="2.9"/>
<circle cx="117.7" cy="307.9" r="2.9"/>
<circle cx="122.4" cy="328.7" r="2.9"/>
<circle cx="119.9" cy="319.9" r="2.9"/>
<circle cx="120.5" cy="291.0" r="2.9"/>
<circle cx="107.6" cy="331.3" r="2.9"/>
<circle cx="118.7" cy="294.0" r="2.9"/>
<circle cx="119.2" cy="314.0" r="2.9"/>
<circle cx="110.9" cy="350.4" r="2.9"/>
<circle cx="97.2" cy="353.3" r="2.9"/>
<circle cx="119.0" cy="292.3" r="2.9"/>
<circle cx="102.5" cy="271.0" r="2.9"/>
<circle cx="113.0" cy="341.3" r="2.9"/>
<circle cx="118.3" cy="303.5" r="2.9"/>
<circle cx="111.5" cy="349.6" r="2.9"/>
<circle cx="104.0" cy="305.8" r="2.9"/>
<circle cx="124.6" cy="300.0" r="2.9"/>
<circle cx="119.0" cy="309.1" r="2.9"/>
<circle cx="92.6" cy="314.1" r="2.9"/>
<circle cx="103.0" cy="286.7" r="2.9"/>
<circle cx="93.9" cy="336.2" r="2.9"/>
<circle cx="120.4" cy="319.9" r="2.9"/>
<circle cx="92.5" cy="300.1" r="2.9"/>
<circle cx="120.6" cy="351.0" r="2.9"/>
<circle cx="104.0" cy="307.9" r="2.9"/>
<circle cx="119.3" cy="286.9" r="2.9"/>
<circle cx="121.3" cy="312.7" r="2.9"/>
<circle cx="106.7" cy="331.7" r="2.9"/>
<circle cx="102.6" cy="356.6" r="2.9"/>
<circle cx="124.1" cy="280.8" r="2.9"/>
<circle cx="103.5" cy="331.6" r="2.9"/>
<circle cx="96.5" cy="287.9" r="2.9"/>
<circle cx="114.9" cy="312.7" r="2.9"/>
<circle cx="97.6" cy="310.7" r="2.9"/>
<circle cx="100.2" cy="276.2" r="2.9"/>
<circle cx="96.6" cy="288.9" r="2.9"/>
<circle cx="118.1" cy="331.9" r="2.9"/>
<circle cx="106.1" cy="298.3" r="2.9"/>
<circle cx="124.3" cy="314.5" r="2.9"/>
<circle cx="103.5" cy="349.7" r="2.9"/>
<circle cx="92.9" cy="314.2" r="2.9"/>
<circle cx="104.8" cy="329.1" r="2.9"/>
<circle cx="122.4" cy="302.2" r="2.9"/>
<circle cx="95.7" cy="318.9" r="2.9"/>
<circle cx="96.5" cy="303.6" r="2.9"/>
<circle cx="114.6" cy="344.5" r="2.9"/>
<circle cx="105.1" cy="293.9" r="2.9"/>
<circle cx="92.7" cy="328.5" r="2.9"/>
<circle cx="100.6" cy="273.0" r="2.9"/>
<circle cx="105.6" cy="285.8" r="2.9"/>
<circle cx="99.5" cy="350.0" r="2.9"/>
<circle cx="126.6" cy="340.7" r="2.9"/>
<circle cx="123.9" cy="279.6" r="2.9"/>
<circle cx="104.3" cy="352.5" r="2.9"/>
<circle cx="118.7" cy="339.5" r="2.9"/>
<circle cx="113.2" cy="323.9" r="2.9"/>
<circle cx="118.4" cy="357.3" r="2.9"/>
<circle cx="104.7" cy="291.4" r="2.9"/>
<circle cx="112.2" cy="330.8" r="2.9"/>
<circle cx="105.2" cy="336.5" r="2.9"/>
<circle cx="97.5" cy="347.6" r="2.9"/>
<circle cx="103.6" cy="301.9" r="2.9"/>
<circle cx="97.8" cy="313.2" r="2.9"/>
<circle cx="103.0" cy="349.3" r="2.9"/>
<circle cx="119.3" cy="308.6" r="2.9"/>
<circle cx="126.7" cy="341.6" r="2.9"/>
<circle cx="102.1" cy="282.5" r="2.9"/>
<circle cx="99.8" cy="313.3" r="2.9"/>
<circle cx="102.3" cy="322.5" r="2.9"/>
<circle cx="104.7" cy="351.2" r="2.9"/>
<circle cx="123.0" cy="328.4" r="2.9"/>
<circle cx="121.2" cy="351.0" r="2.9"/>
<circle cx="113.0" cy="352.5" r="2.9"/>
<circle cx="119.2" cy="274.5" r="2.9"/>
<circle cx="110.5" cy="353.3" r="2.9"/>
<circle cx="119.7" cy="336.0" r="2.9"/>
<circle cx="111.9" cy="349.7" r="2.9"/>
<circle cx="104.5" cy="352.8" r="2.9"/>
<circle cx="112.4" cy="355.3" r="2.9"/>
<circle cx="112.3" cy="342.8" r="2.9"/>
<circle cx="97.8" cy="343.8" r="2.9"/>
<circle cx="124.2" cy="285.0" r="2.9"/>
<circle cx="118.0" cy="299.6" r="2.9"/>
<circle cx="103.6" cy="340.8" r="2.9"/>
<circle cx="113.8" cy="317.8" r="2.9"/>
<circle cx="103.9" cy="347.9" r="2.9"/>
<circle cx="114.5" cy="312.5" r="2.9"/>
<circle cx="121.0" cy="307.4" r="2.9"/>
<circle cx="109.4" cy="323.6" r="2.9"/>
<circle cx="123.5" cy="327.9" r="2.9"/>
<circle cx="99.0" cy="329.5" r="2.9"/>
<circle cx="106.6" cy="337.4" r="2.9"/>
<circle cx="123.1" cy="353.0" r="2.9"/>
<circle cx="127.0" cy="345.1" r="2.9"/>
<circle cx="101.9" cy="289.9" r="2.9"/>
<circle cx="93.1" cy="311.6" r="2.9"/>
<circle cx="125.7" cy="295.4" r="2.9"/>
<circle cx="115.9" cy="310.5" r="2.9"/>
<circle cx="100.3" cy="303.1" r="2.9"/>
<circle cx="105.3" cy="347.1" r="2.9"/>
<circle cx="130.8" cy="293.7" r="2.9"/>
<circle cx="122.6" cy="281.1" r="2.9"/>
<circle cx="109.5" cy="322.5" r="2.9"/>
<circle cx="88.4" cy="313.0" r="2.9"/>
<circle cx="111.0" cy="333.8" r="2.9"/>
<circle cx="117.5" cy="346.9" r="2.9"/>
<circle cx="125.1" cy="300.6" r="2.9"/>
<circle cx="116.3" cy="356.3" r="2.9"/>
<circle cx="124.1" cy="299.4" r="2.9"/>
<circle cx="114.7" cy="338.8" r="2.9"/>
<circle cx="120.0" cy="289.6" r="2.9"/>
<circle cx="103.1" cy="346.9" r="2.9"/>
<circle cx="98.7" cy="288.8" r="2.9"/>
<circle cx="115.5" cy="334.8" r="2.9"/>
<circle cx="119.5" cy="305.9" r="2.9"/>
<circle cx="103.1" cy="298.2" r="2.9"/>
<circle cx="108.7" cy="338.0" r="2.9"/>
<circle cx="112.6" cy="331.4" r="2.9"/>
<circle cx="104.3" cy="320.7" r="2.9"/>
<circle cx="105.2" cy="322.5" r="2.9"/>
<circle cx="121.7" cy="290.4" r="2.9"/>
<circle cx="114.7" cy="319.5" r="2.9"/>
<circle cx="93.6" cy="321.1" r="2.9"/>
<circle cx="117.5" cy="326.7" r="2.9"/>
<circle cx="109.1" cy="344.9" r="2.9"/>
<circle cx="101.5" cy="349.6" r="2.9"/>
<circle cx="98.4" cy="341.3" r="2.9"/>
<circle cx="111.2" cy="344.3" r="2.9"/>
<circle cx="102.9" cy="305.0" r="2.9"/>
<circle cx="123.3" cy="310.6" r="2.9"/>
<circle cx="109.9" cy="336.7" r="2.9"/>
<circle cx="119.8" cy="321.5" r="2.9"/>
<circle cx="102.1" cy="307.8" r="2.9"/>
<circle cx="106.3" cy="335.4" r="2.9"/>
<circle cx="122.2" cy="291.7" r="2.9"/>
<circle cx="122.3" cy="291.3" r="2.9"/>
<circle cx="114.3" cy="321.0" r="2.9"/>
<circle cx="122.3" cy="337.7" r="2.9"/>
<circle cx="124.9" cy="309.3" r="2.9"/>
<circle cx="99.1" cy="324.8" r="2.9"/>
<circle cx="122.3" cy="348.9" r="2.9"/>
<circle cx="119.1" cy="283.4" r="2.9"/>
<circle cx="115.9" cy="342.0" r="2.9"/>
<circle cx="115.9" cy="353.6" r="2.9"/>
<circle cx="121.1" cy="337.0" r="2.9"/>
<circle cx="117.9" cy="311.9" r="2.9"/>
<circle cx="113.0" cy="349.4" r="2.9"/>
<circle cx="120.7" cy="354.9" r="2.9"/>
<circle cx="97.6" cy="303.7" r="2.9"/>
<circle cx="116.6" cy="347.3" r="2.9"/>
<circle cx="105.1" cy="318.9" r="2.9"/>
<circle cx="118.2" cy="335.8" r="2.9"/>
<circle cx="111.6" cy="354.9" r="2.9"/>
<circle cx="102.0" cy="339.4" r="2.9"/>
<circle cx="106.6" cy="337.0" r="2.9"/>
<circle cx="103.8" cy="350.9" r="2.9"/>
<circle cx="118.3" cy="345.1" r="2.9"/>
<circle cx="95.8" cy="322.9" r="2.9"/>
<circle cx="115.7" cy="308.7" r="2.9"/>
<circle cx="106.0" cy="312.6" r="2.9"/>
<circle cx="105.1" cy="322.4" r="2.9"/>
<circle cx="96.7" cy="330.7" r="2.9"/>
<circle cx="99.6" cy="317.1" r="2.9"/>
<circle cx="109.9" cy="349.2" r="2.9"/>
<circle cx="121.5" cy="352.1" r="2.9"/>
<circle cx="103.4" cy="297.8" r="2.9"/>
<circle cx="99.3" cy="337.7" r="2.9"/>
<circle cx="115.4" cy="325.3" r="2.9"/>
<circle cx="120.1" cy="293.3" r="2.9"/>
<circle cx="106.0" cy="338.9" r="2.9"/>
<circle cx="119.3" cy="330.8" r="2.9"/>
<circle cx="101.6" cy="295.5" r="2.9"/>
<circle cx="119.5" cy="349.0" r="2.9"/>
<circle cx="117.2" cy="313.4" r="2.9"/>
<circle cx="119.3" cy="328.7" r="2.9"/>
<circle cx="104.1" cy="324.5" r="2.9"/>
<circle cx="106.5" cy="353.5" r="2.9"/>
<circle cx="107.4" cy="305.9" r="2.9"/>
<circle cx="116.7" cy="291.8" r="2.9"/>
<circle cx="98.7" cy="338.8" r="2.9"/>
<circle cx="121.3" cy="271.6" r="2.9"/>
<circle cx="100.1" cy="287.9" r="2.9"/>
<circle cx="120.8" cy="292.3" r="2.9"/>
<circle cx="121.7" cy="328.9" r="2.9"/>
<circle cx="113.1" cy="355.1" r="2.9"/>
<circle cx="108.7" cy="320.7" r="2.9"/>
<circle cx="112.7" cy="344.7" r="2.9"/>
<circle cx="100.1" cy="347.3" r="2.9"/>
<circle cx="92.0" cy="300.1" r="2.9"/>
<circle cx="125.9" cy="292.4" r="2.9"/>
<circle cx="125.0" cy="340.3" r="2.9"/>
<circle cx="124.5" cy="293.2" r="2.9"/>
<circle cx="120.0" cy="329.4" r="2.9"/>
<circle cx="103.8" cy="291.7" r="2.9"/>
<circle cx="127.9" cy="347.4" r="2.9"/>
<circle cx="112.1" cy="347.2" r="2.9"/>
<circle cx="101.5" cy="282.9" r="2.9"/>
<circle cx="107.1" cy="355.1" r="2.9"/>
<circle cx="123.3" cy="323.7" r="2.9"/>
<circle cx="109.1" cy="317.1" r="2.9"/>
<circle cx="104.4" cy="325.4" r="2.9"/>
<circle cx="96.6" cy="305.6" r="2.9"/>
<circle cx="126.4" cy="334.5" r="2.9"/>
<circle cx="125.2" cy="321.0" r="2.9"/>
<circle cx="104.3" cy="303.0" r="2.9"/>
<circle cx="126.4" cy="334.6" r="2.9"/>
<circle cx="116.3" cy="315.0" r="2.9"/>
<circle cx="123.1" cy="297.8" r="2.9"/>
<circle cx="98.7" cy="342.3" r="2.9"/>
<circle cx="124.3" cy="321.9" r="2.9"/>
<circle cx="117.2" cy="310.5" r="2.9"/>
<circle cx="98.5" cy="353.3" r="2.9"/>
<circle cx="121.6" cy="350.5" r="2.9"/>
<circle cx="128.3" cy="337.8" r="2.9"/>
<circle cx="117.5" cy="331.3" r="2.9"/>
<circle cx="110.1" cy="331.0" r="2.9"/>
<circle cx="109.4" cy="336.9" r="2.9"/>
<circle cx="93.7" cy="287.1" r="2.9"/>
<circle cx="93.1" cy="337.6" r="2.9"/>
<circle cx="105.7" cy="322.8" r="2.9"/>
<circle cx="116.4" cy="338.6" r="2.9"/>
<circle cx="106.8" cy="343.2" r="2.9"/>
<circle cx="125.7" cy="347.9" r="2.9"/>
<circle cx="118.5" cy="334.1" r="2.9"/>
<circle cx="101.7" cy="353.6" r="2.9"/>
<circle cx="94.0" cy="320.8" r="2.9"/>
<circle cx="99.7" cy="279.1" r="2.9"/>
<circle cx="92.9" cy="304.6" r="2.9"/>
<circle cx="120.6" cy="323.4" r="2.9"/>
<circle cx="120.6" cy="282.6" r="2.9"/>
<circle cx="108.1" cy="323.7" r="2.9"/>
<circle cx="130.4" cy="337.2" r="2.9"/>
<circle cx="122.7" cy="313.7" r="2.9"/>
<circle cx="98.7" cy="303.3" r="2.9"/>
<circle cx="102.8" cy="335.6" r="2.9"/>
<circle cx="96.5" cy="307.8" r="2.9"/>
<circle cx="99.6" cy="278.4" r="2.9"/>
<circle cx="106.0" cy="292.6" r="2.9"/>
<circle cx="122.2" cy="280.8" r="2.9"/>
<circle cx="98.1" cy="305.6" r="2.9"/>
<circle cx="124.6" cy="323.2" r="2.9"/>
<circle cx="96.0" cy="304.7" r="2.9"/>
<circle cx="112.6" cy="345.3" r="2.9"/>
<circle cx="104.1" cy="348.5" r="2.9"/>
<circle cx="125.5" cy="314.0" r="2.9"/>
<circle cx="97.2" cy="338.6" r="2.9"/>
<circle cx="115.8" cy="331.4" r="2.9"/>
<circle cx="125.3" cy="301.8" r="2.9"/>
<circle cx="92.2" cy="286.2" r="2.9"/>
<circle cx="114.9" cy="348.8" r="2.9"/>
<circle cx="129.2" cy="287.7" r="2.9"/>
<circle cx="92.4" cy="304.0" r="2.9"/>
<circle cx="122.5" cy="356.0" r="2.9"/>
<circle cx="115.8" cy="296.1" r="2.9"/>
<circle cx="114.8" cy="354.5" r="2.9"/>
<circle cx="123.9" cy="293.7" r="2.9"/>
<circle cx="121.7" cy="347.5" r="2.9"/>
<circle cx="101.1" cy="292.7" r="2.9"/>
<circle cx="125.3" cy="296.8" r="2.9"/>
<circle cx="122.8" cy="303.2" r="2.9"/>
<circle cx="121.2" cy="336.9" r="2.9"/>
<circle cx="94.1" cy="291.4" r="2.9"/>
<circle cx="115.2" cy="319.9" r="2.9"/>
<circle cx="123.2" cy="354.6" r="2.9"/>
<circle cx="96.8" cy="343.5" r="2.9"/>
<circle cx="104.0" cy="310.6" r="2.9"/>
<circle cx="109.8" cy="331.0" r="2.9"/>
<circle cx="115.7" cy="299.1" r="2.9"/>
<circle cx="97.0" cy="352.4" r="2.9"/>
<circle cx="102.6" cy="336.4" r="2.9"/>
<circle cx="122.0" cy="298.8" r="2.9"/>
<circle cx="104.6" cy="328.5" r="2.9"/>
<circle cx="103.6" cy="333.6" r="2.9"/>
<circle cx="101.0" cy="311.2" r="2.9"/>
<circle cx="121.4" cy="301.2" r="2.9"/>
<circle cx="95.7" cy="297.8" r="2.9"/>
<circle cx="101.6" cy="282.3" r="2.9"/>
<circle cx="101.3" cy="350.6" r="2.9"/>
<circle cx="118.8" cy="305.0" r="2.9"/>
<circle cx="99.8" cy="316.3" r="2.9"/>
<circle cx="92.8" cy="322.2" r="2.9"/>
<circle cx="122.7" cy="328.2" r="2.9"/>
<circle cx="101.4" cy="323.3" r="2.9"/>
<circle cx="121.5" cy="282.8" r="2.9"/>
<circle cx="95.2" cy="320.3" r="2.9"/>
<circle cx="112.8" cy="329.7" r="2.9"/>
<circle cx="109.3" cy="337.7" r="2.9"/>
<circle cx="116.0" cy="356.9" r="2.9"/>
<circle cx="94.8" cy="281.3" r="2.9"/>
<circle cx="110.7" cy="333.8" r="2.9"/>
<circle cx="115.5" cy="312.2" r="2.9"/>
<circle cx="113.5" cy="350.7" r="2.9"/>
<circle cx="98.4" cy="294.4" r="2.9"/>
<circle cx="110.5" cy="354.7" r="2.9"/>
<circle cx="122.2" cy="322.9" r="2.9"/>
<circle cx="98.6" cy="318.8" r="2.9"/>
<circle cx="93.2" cy="323.2" r="2.9"/>
<circle cx="99.6" cy="296.3" r="2.9"/>
<circle cx="106.2" cy="297.2" r="2.9"/>
<circle cx="99.0" cy="350.0" r="2.9"/>
<circle cx="107.7" cy="306.7" r="2.9"/>
<circle cx="103.7" cy="298.0" r="2.9"/>
<circle cx="125.6" cy="306.6" r="2.9"/>
<circle cx="121.9" cy="327.4" r="2.9"/>
<circle cx="125.3" cy="327.5" r="2.9"/>
<circle cx="130.1" cy="301.4" r="2.9"/>
<circle cx="98.7" cy="280.8" r="2.9"/>
<circle cx="104.7" cy="304.3" r="2.9"/>
<circle cx="120.4" cy="321.5" r="2.9"/>
<circle cx="108.3" cy="339.5" r="2.9"/>
<circle cx="95.6" cy="301.5" r="2.9"/>
<circle cx="104.4" cy="314.3" r="2.9"/>
<circle cx="94.3" cy="335.0" r="2.9"/>
<circle cx="118.9" cy="340.0" r="2.9"/>
<circle cx="126.5" cy="274.9" r="2.9"/>
<circle cx="95.4" cy="300.3" r="2.9"/>
<circle cx="124.1" cy="325.9" r="2.9"/>
<circle cx="99.1" cy="283.9" r="2.9"/>
<circle cx="101.8" cy="286.5" r="2.9"/>
<circle cx="107.6" cy="309.8" r="2.9"/>
<circle cx="96.4" cy="345.3" r="2.9"/>
<circle cx="93.0" cy="336.1" r="2.9"/>
<circle cx="98.5" cy="289.0" r="2.9"/>
<circle cx="113.9" cy="337.3" r="2.9"/>
<circle cx="98.2" cy="295.4" r="2.9"/>
<circle cx="95.1" cy="285.0" r="2.9"/>
<circle cx="113.7" cy="351.9" r="2.9"/>
<circle cx="114.9" cy="322.6" r="2.9"/>
<circle cx="117.6" cy="305.7" r="2.9"/>
<circle cx="119.5" cy="325.3" r="2.9"/>
<circle cx="113.3" cy="337.7" r="2.9"/>
<circle cx="118.2" cy="347.3" r="2.9"/>
<circle cx="118.2" cy="291.4" r="2.9"/>
<circle cx="98.3" cy="342.9" r="2.9"/>
<circle cx="120.3" cy="343.8" r="2.9"/>
<circle cx="99.0" cy="356.5" r="2.9"/>
<circle cx="104.9" cy="286.6" r="2.9"/>
<circle cx="118.6" cy="356.5" r="2.9"/>
<circle cx="102.9" cy="334.4" r="2.9"/>
<circle cx="119.4" cy="338.9" r="2.9"/>
<circle cx="123.5" cy="288.9" r="2.9"/>
<circle cx="101.4" cy="356.0" r="2.9"/>
<circle cx="101.0" cy="295.8" r="2.9"/>
<circle cx="109.3" cy="345.5" r="2.9"/>
<circle cx="127.1" cy="302.9" r="2.9"/>
<circle cx="104.2" cy="345.4" r="2.9"/>
<circle cx="96.8" cy="292.4" r="2.9"/>
<circle cx="97.6" cy="340.5" r="2.9"/>
<circle cx="120.4" cy="348.4" r="2.9"/>
<circle cx="107.5" cy="329.4" r="2.9"/>
<circle cx="107.5" cy="338.7" r="2.9"/>
<circle cx="98.0" cy="284.8" r="2.9"/>
<circle cx="119.8" cy="275.6" r="2.9"/>
<circle cx="120.6" cy="310.0" r="2.9"/>
<circle cx="118.3" cy="287.6" r="2.9"/>
<circle cx="119.1" cy="349.4" r="2.9"/>
<circle cx="97.3" cy="307.3" r="2.9"/>
<circle cx="105.6" cy="349.1" r="2.9"/>
<circle cx="103.9" cy="284.1" r="2.9"/>
<circle cx="123.4" cy="339.8" r="2.9"/>
<circle cx="107.0" cy="354.6" r="2.9"/>
<circle cx="117.2" cy="297.2" r="2.9"/>
<circle cx="104.4" cy="333.6" r="2.9"/>
<circle cx="126.8" cy="321.8" r="2.9"/>
<circle cx="119.6" cy="316.4" r="2.9"/>
<circle cx="98.1" cy="325.4" r="2.9"/>
<circle cx="126.9" cy="302.3" r="2.9"/>
<circle cx="101.5" cy="332.7" r="2.9"/>
<circle cx="105.7" cy="347.3" r="2.9"/>
<circle cx="100.8" cy="331.9" r="2.9"/>
<circle cx="93.4" cy="341.6" r="2.9"/>
<circle cx="93.1" cy="309.1" r="2.9"/>
<circle cx="99.4" cy="348.9" r="2.9"/>
<circle cx="111.6" cy="352.7" r="2.9"/>
<circle cx="105.4" cy="296.3" r="2.9"/>
<circle cx="119.3" cy="352.6" r="2.9"/>
<circle cx="109.8" cy="351.1" r="2.9"/>
<circle cx="104.0" cy="299.4" r="2.9"/>
<circle cx="120.1" cy="288.1" r="2.9"/>
<circle cx="107.5" cy="340.8" r="2.9"/>
<circle cx="128.0" cy="322.0" r="2.9"/>
<circle cx="99.4" cy="335.4" r="2.9"/>
<circle cx="99.2" cy="332.6" r="2.9"/>
<circle cx="116.5" cy="308.3" r="2.9"/>
<circle cx="123.6" cy="347.5" r="2.9"/>
<circle cx="126.5" cy="320.5" r="2.9"/>
<circle cx="100.0" cy="336.1" r="2.9"/>
<circle cx="95.3" cy="319.5" r="2.9"/>
<circle cx="124.4" cy="290.0" r="2.9"/>
<circle cx="118.5" cy="330.4" r="2.9"/>
<circle cx="122.8" cy="295.0" r="2.9"/>
<circle cx="105.8" cy="353.2" r="2.9"/>
<circle cx="100.1" cy="338.8" r="2.9"/>
<circle cx="119.8" cy="348.2" r="2.9"/>
<circle cx="122.7" cy="307.4" r="2.9"/>
<circle cx="100.3" cy="322.7" r="2.9"/>
<circle cx="127.8" cy="299.7" r="2.9"/>
<circle cx="122.7" cy="336.8" r="2.9"/>
<circle cx="121.5" cy="345.2" r="2.9"/>
<circle cx="124.5" cy="339.9" r="2.9"/>
<circle cx="97.3" cy="310.1" r="2.9"/>
<circle cx="113.2" cy="352.8" r="2.9"/>
<circle cx="125.0" cy="294.4" r="2.9"/>
<circle cx="128.4" cy="278.0" r="2.9"/>
<circle cx="99.5" cy="282.4" r="2.9"/>
<circle cx="90.5" cy="315.4" r="2.9"/>
<circle cx="105.7" cy="319.5" r="2.9"/>
<circle cx="103.8" cy="337.1" r="2.9"/>
<circle cx="125.0" cy="279.8" r="2.9"/>
<circle cx="107.0" cy="302.6" r="2.9"/>
<circle cx="119.7" cy="287.9" r="2.9"/>
<circle cx="100.5" cy="320.6" r="2.9"/>
<circle cx="117.8" cy="335.5" r="2.9"/>
<circle cx="123.4" cy="307.8" r="2.9"/>
<circle cx="121.2" cy="308.9" r="2.9"/>
<circle cx="104.0" cy="356.1" r="2.9"/>
<circle cx="99.8" cy="348.6" r="2.9"/>
<circle cx="119.5" cy="345.2" r="2.9"/>
<circle cx="127.2" cy="287.0" r="2.9"/>
<circle cx="111.5" cy="354.7" r="2.9"/>
<circle cx="106.9" cy="355.2" r="2.9"/>
<circle cx="93.9" cy="337.2" r="2.9"/>
<circle cx="112.5" cy="334.7" r="2.9"/>
<circle cx="101.1" cy="354.3" r="2.9"/>
<circle cx="92.0" cy="293.0" r="2.9"/>
<circle cx="100.3" cy="331.5" r="2.9"/>
<circle cx="115.9" cy="356.1" r="2.9"/>
<circle cx="114.9" cy="350.8" r="2.9"/>
<circle cx="97.1" cy="318.2" r="2.9"/>
<circle cx="98.2" cy="339.7" r="2.9"/>
<circle cx="98.7" cy="342.7" r="2.9"/>
<circle cx="122.4" cy="328.8" r="2.9"/>
<circle cx="120.5" cy="292.7" r="2.9"/>
<circle cx="95.7" cy="325.0" r="2.9"/>
<circle cx="107.7" cy="315.0" r="2.9"/>
<circle cx="102.8" cy="292.9" r="2.9"/>
<circle cx="125.5" cy="321.8" r="2.9"/>
<circle cx="121.9" cy="292.6" r="2.9"/>
<circle cx="105.3" cy="299.5" r="2.9"/>
<circle cx="101.2" cy="311.5" r="2.9"/>
<circle cx="100.7" cy="346.1" r="2.9"/>
<circle cx="100.0" cy="355.4" r="2.9"/>
<circle cx="103.3" cy="319.4" r="2.9"/>
<circle cx="122.3" cy="351.2" r="2.9"/>
<circle cx="102.4" cy="356.7" r="2.9"/>
<circle cx="124.7" cy="293.7" r="2.9"/>
<circle cx="123.7" cy="333.6" r="2.9"/>
<circle cx="113.6" cy="345.7" r="2.9"/>
<circle cx="122.7" cy="320.6" r="2.9"/>
<circle cx="114.7" cy="347.6" r="2.9"/>
<circle cx="93.1" cy="347.5" r="2.9"/>
<circle cx="107.4" cy="323.5" r="2.9"/>
<circle cx="116.5" cy="352.1" r="2.9"/>
<circle cx="122.8" cy="353.0" r="2.9"/>
<circle cx="106.9" cy="327.7" r="2.9"/>
<circle cx="100.6" cy="326.8" r="2.9"/>
<circle cx="94.9" cy="341.4" r="2.9"/>
<circle cx="120.5" cy="300.1" r="2.9"/>
<circle cx="115.4" cy="348.8" r="2.9"/>
<circle cx="94.5" cy="327.3" r="2.9"/>
<circle cx="105.2" cy="301.0" r="2.9"/>
<circle cx="104.8" cy="311.6" r="2.9"/>
<circle cx="117.4" cy="341.0" r="2.9"/>
<circle cx="100.4" cy="334.9" r="2.9"/>
<circle cx="99.9" cy="350.1" r="2.9"/>
<circle cx="127.2" cy="325.9" r="2.9"/>
<circle cx="105.6" cy="334.9" r="2.9"/>
<circle cx="97.8" cy="289.8" r="2.9"/>
<circle cx="117.9" cy="345.4" r="2.9"/>
<circle cx="113.6" cy="356.6" r="2.9"/>
<circle cx="125.7" cy="313.4" r="2.9"/>
<circle cx="104.4" cy="313.4" r="2.9"/>
<circle cx="105.5" cy="329.4" r="2.9"/>
<circle cx="98.4" cy="302.0" r="2.9"/>
<circle cx="119.6" cy="285.6" r="2.9"/>
<circle cx="91.8" cy="292.3" r="2.9"/>
<circle cx="105.0" cy="310.0" r="2.9"/>
<circle cx="100.7" cy="339.4" r="2.9"/>
<circle cx="122.4" cy="349.0" r="2.9"/>
<circle cx="95.5" cy="278.3" r="2.9"/>
<circle cx="104.3" cy="316.0" r="2.9"/>
<circle cx="119.0" cy="352.1" r="2.9"/>
<circle cx="109.6" cy="344.6" r="2.9"/>
<circle cx="117.5" cy="322.0" r="2.9"/>
<circle cx="89.5" cy="316.2" r="2.9"/>
<circle cx="96.5" cy="329.9" r="2.9"/>
<circle cx="96.1" cy="285.1" r="2.9"/>
<circle cx="95.3" cy="289.7" r="2.9"/>
<circle cx="103.1" cy="341.9" r="2.9"/>
<circle cx="101.3" cy="314.4" r="2.9"/>
<circle cx="120.5" cy="333.3" r="2.9"/>
<circle cx="109.3" cy="337.2" r="2.9"/>
<circle cx="117.8" cy="326.0" r="2.9"/>
<circle cx="121.7" cy="348.5" r="2.9"/>
<circle cx="115.7" cy="346.0" r="2.9"/>
<circle cx="124.4" cy="298.0" r="2.9"/>
<circle cx="108.1" cy="352.9" r="2.9"/>
<circle cx="124.0" cy="293.4" r="2.9"/>
<circle cx="113.1" cy="332.8" r="2.9"/>
<circle cx="96.7" cy="300.1" r="2.9"/>
<circle cx="98.9" cy="287.2" r="2.9"/>
<circle cx="125.4" cy="301.9" r="2.9"/>
<circle cx="103.6" cy="302.5" r="2.9"/>
<circle cx="115.9" cy="352.3" r="2.9"/>
<circle cx="106.0" cy="290.0" r="2.9"/>
<circle cx="102.4" cy="289.2" r="2.9"/>
<circle cx="103.8" cy="280.9" r="2.9"/>
<circle cx="104.1" cy="311.7" r="2.9"/>
<circle cx="96.3" cy="345.7" r="2.9"/>
<circle cx="118.9" cy="352.0" r="2.9"/>
<circle cx="109.2" cy="327.8" r="2.9"/>
<circle cx="124.4" cy="331.1" r="2.9"/>
<circle cx="104.7" cy="341.2" r="2.9"/>
<circle cx="94.6" cy="317.7" r="2.9"/>
<circle cx="100.3" cy="328.6" r="2.9"/>
<circle cx="98.7" cy="307.1" r="2.9"/>
<circle cx="94.5" cy="285.0" r="2.9"/>
<circle cx="100.9" cy="338.6" r="2.9"/>
<circle cx="101.9" cy="353.4" r="2.9"/>
<circle cx="126.9" cy="290.3" r="2.9"/>
<circle cx="101.7" cy="342.0" r="2.9"/>
<circle cx="117.3" cy="352.3" r="2.9"/>
<circle cx="90.1" cy="298.4" r="2.9"/>
<circle cx="125.0" cy="286.0" r="2.9"/>
<circle cx="101.3" cy="292.9" r="2.9"/>
<circle cx="107.8" cy="355.3" r="2.9"/>
<circle cx="95.9" cy="336.9" r="2.9"/>
<circle cx="99.2" cy="304.6" r="2.9"/>
<circle cx="100.1" cy="306.7" r="2.9"/>
<circle cx="92.5" cy="303.4" r="2.9"/>
<circle cx="104.7" cy="315.1" r="2.9"/>
<circle cx="97.5" cy="342.0" r="2.9"/>
<circle cx="105.4" cy="317.0" r="2.9"/>
<circle cx="114.8" cy="330.4" r="2.9"/>
<circle cx="105.3" cy="335.1" r="2.9"/>
<circle cx="102.3" cy="338.4" r="2.9"/>
<circle cx="106.7" cy="354.0" r="2.9"/>
<circle cx="117.5" cy="281.6" r="2.9"/>
<circle cx="105.2" cy="307.1" r="2.9"/>
<circle cx="106.0" cy="328.7" r="2.9"/>
<circle cx="97.3" cy="287.4" r="2.9"/>
<circle cx="119.8" cy="344.0" r="2.9"/>
<circle cx="116.7" cy="292.7" r="2.9"/>
<circle cx="106.8" cy="319.8" r="2.9"/>
<circle cx="101.7" cy="285.6" r="2.9"/>
<circle cx="119.5" cy="291.5" r="2.9"/>
<circle cx="123.0" cy="346.2" r="2.9"/>
<circle cx="98.1" cy="343.7" r="2.9"/>
<circle cx="98.1" cy="332.1" r="2.9"/>
<circle cx="119.3" cy="342.0" r="2.9"/>
<circle cx="116.8" cy="352.1" r="2.9"/>
<circle cx="120.2" cy="320.3" r="2.9"/>
<circle cx="114.0" cy="324.9" r="2.9"/>
<circle cx="96.9" cy="309.5" r="2.9"/>
<circle cx="93.3" cy="310.9" r="2.9"/>
<circle cx="99.6" cy="349.7" r="2.9"/>
<circle cx="96.2" cy="304.3" r="2.9"/>
<circle cx="132.1" cy="336.8" r="2.9"/>
<circle cx="117.8" cy="340.6" r="2.9"/>
<circle cx="103.8" cy="355.2" r="2.9"/>
<circle cx="93.0" cy="289.0" r="2.9"/>
<circle cx="102.5" cy="318.5" r="2.9"/>
<circle cx="106.6" cy="344.4" r="2.9"/>
<circle cx="116.2" cy="335.9" r="2.9"/>
<circle cx="101.1" cy="347.3" r="2.9"/>
<circle cx="120.6" cy="272.4" r="2.9"/>
<circle cx="98.3" cy="303.2" r="2.9"/>
<circle cx="104.9" cy="322.8" r="2.9"/>
<circle cx="106.9" cy="306.6" r="2.9"/>
<circle cx="129.1" cy="336.6" r="2.9"/>
<circle cx="110.1" cy="333.6" r="2.9"/>
<circle cx="95.7" cy="297.3" r="2.9"/>
<circle cx="99.7" cy="336.8" r="2.9"/>
<circle cx="102.8" cy="336.9" r="2.9"/>
<circle cx="118.3" cy="319.0" r="2.9"/>
<circle cx="99.4" cy="319.2" r="2.9"/>
<circle cx="108.9" cy="335.3" r="2.9"/>
<circle cx="124.0" cy="353.3" r="2.9"/>
<circle cx="101.7" cy="298.0" r="2.9"/>
<circle cx="115.0" cy="317.2" r="2.9"/>
<circle cx="111.8" cy="349.9" r="2.9"/>
<circle cx="120.5" cy="292.1" r="2.9"/>
<circle cx="118.0" cy="294.9" r="2.9"/>
<circle cx="99.6" cy="313.0" r="2.9"/>
<circle cx="115.5" cy="307.4" r="2.9"/>
<circle cx="92.1" cy="311.8" r="2.9"/>
<circle cx="127.2" cy="294.1" r="2.9"/>
<circle cx="115.8" cy="330.9" r="2.9"/>
<circle cx="115.5" cy="335.5" r="2.9"/>
<circle cx="98.6" cy="336.5" r="2.9"/>
<circle cx="102.9" cy="282.8" r="2.9"/>
<circle cx="112.6" cy="346.9" r="2.9"/>
<circle cx="106.4" cy="344.4" r="2.9"/>
<circle cx="104.9" cy="346.5" r="2.9"/>
<circle cx="96.5" cy="291.5" r="2.9"/>
<circle cx="125.2" cy="331.7" r="2.9"/>
<circle cx="119.7" cy="301.2" r="2.9"/>
<circle cx="104.2" cy="288.1" r="2.9"/>
<circle cx="113.9" cy="312.8" r="2.9"/>
<circle cx="99.3" cy="291.5" r="2.9"/>
<circle cx="99.5" cy="355.8" r="2.9"/>
<circle cx="123.1" cy="278.9" r="2.9"/>
<circle cx="126.9" cy="313.2" r="2.9"/>
<circle cx="90.8" cy="307.2" r="2.9"/>
<circle cx="96.0" cy="297.6" r="2.9"/>
<circle cx="105.2" cy="334.6" r="2.9"/>
<circle cx="96.6" cy="310.6" r="2.9"/>
<circle cx="112.6" cy="349.2" r="2.9"/>
<circle cx="124.1" cy="321.8" r="2.9"/>
<circle cx="101.3" cy="289.9" r="2.9"/>
<circle cx="123.5" cy="306.8" r="2.9"/>
<circle cx="100.3" cy="316.6" r="2.9"/>
<circle cx="95.3" cy="307.2" r="2.9"/>
<circle cx="119.3" cy="311.6" r="2.9"/>
<circle cx="103.7" cy="301.6" r="2.9"/>
<circle cx="115.2" cy="344.7" r="2.9"/>
<circle cx="107.6" cy="333.8" r="2.9"/>
<circle cx="115.3" cy="309.5" r="2.9"/>
<circle cx="107.4" cy="323.9" r="2.9"/>
<circle cx="96.8" cy="308.7" r="2.9"/>
<circle cx="106.6" cy="357.4" r="2.9"/>
<circle cx="120.6" cy="340.0" r="2.9"/>
<circle cx="125.9" cy="323.0" r="2.9"/>
<circle cx="98.6" cy="319.2" r="2.9"/>
<circle cx="117.9" cy="286.4" r="2.9"/>
<circle cx="116.4" cy="311.1" r="2.9"/>
<circle cx="126.8" cy="306.9" r="2.9"/>
<circle cx="120.3" cy="296.8" r="2.9"/>
<circle cx="117.9" cy="309.9" r="2.9"/>
<circle cx="98.4" cy="347.1" r="2.9"/>
<circle cx="112.8" cy="345.0" r="2.9"/>
<circle cx="115.2" cy="339.0" r="2.9"/>
<circle cx="108.2" cy="351.7" r="2.9"/>
<circle cx="100.0" cy="342.6" r="2.9"/>
<circle cx="124.7" cy="327.7" r="2.9"/>
<circle cx="120.2" cy="349.7" r="2.9"/>
<circle cx="120.8" cy="291.2" r="2.9"/>
<circle cx="132.5" cy="327.0" r="2.9"/>
<circle cx="110.6" cy="338.3" r="2.9"/>
<circle cx="105.4" cy="341.9" r="2.9"/>
<circle cx="109.3" cy="349.7" r="2.9"/>
<circle cx="110.4" cy="342.6" r="2.9"/>
<circle cx="104.0" cy="285.0" r="2.9"/>
<circle cx="103.4" cy="335.3" r="2.9"/>
<circle cx="100.5" cy="267.9" r="2.9"/>
<circle cx="108.3" cy="334.6" r="2.9"/>
<circle cx="114.6" cy="311.8" r="2.9"/>
<circle cx="116.8" cy="336.8" r="2.9"/>
<circle cx="101.1" cy="287.5" r="2.9"/>
<circle cx="121.3" cy="350.6" r="2.9"/>
<circle cx="113.0" cy="354.2" r="2.9"/>
<circle cx="119.4" cy="348.3" r="2.9"/>
<circle cx="95.6" cy="306.1" r="2.9"/>
<circle cx="109.9" cy="336.8" r="2.9"/>
<circle cx="115.7" cy="308.0" r="2.9"/>
<circle cx="124.0" cy="338.7" r="2.9"/>
<circle cx="124.6" cy="302.1" r="2.9"/>
<circle cx="106.7" cy="338.4" r="2.9"/>
<circle cx="94.7" cy="285.9" r="2.9"/>
<circle cx="127.0" cy="291.6" r="2.9"/>
<circle cx="127.5" cy="301.7" r="2.9"/>
<circle cx="99.8" cy="344.8" r="2.9"/>
<circle cx="126.7" cy="340.2" r="2.9"/>
<circle cx="107.2" cy="312.5" r="2.9"/>
<circle cx="125.6" cy="314.0" r="2.9"/>
<circle cx="103.4" cy="329.2" r="2.9"/>
<circle cx="96.7" cy="316.5" r="2.9"/>
<circle cx="96.5" cy="309.8" r="2.9"/>
<circle cx="120.5" cy="317.0" r="2.9"/>
<circle cx="95.7" cy="303.1" r="2.9"/>
<circle cx="107.3" cy="315.8" r="2.9"/>
<circle cx="117.0" cy="332.7" r="2.9"/>
<circle cx="98.5" cy="344.9" r="2.9"/>
<circle cx="106.5" cy="334.9" r="2.9"/>
<circle cx="123.7" cy="337.3" r="2.9"/>
<circle cx="124.8" cy="334.8" r="2.9"/>
<circle cx="124.9" cy="319.0" r="2.9"/>
<circle cx="98.8" cy="293.2" r="2.9"/>
<circle cx="118.1" cy="277.5" r="2.9"/>
<circle cx="112.1" cy="348.6" r="2.9"/>
<circle cx="96.9" cy="339.6" r="2.9"/>
<circle cx="120.0" cy="277.8" r="2.9"/>
<circle cx="103.2" cy="303.7" r="2.9"/>
<circle cx="103.2" cy="291.3" r="2.9"/>
<circle cx="93.0" cy="294.6" r="2.9"/>
<circle cx="101.6" cy="352.4" r="2.9"/>
<circle cx="94.8" cy="277.4" r="2.9"/>
<circle cx="129.4" cy="328.3" r="2.9"/>
<circle cx="121.3" cy="277.3" r="2.9"/>
<circle cx="107.5" cy="334.7" r="2.9"/>
<circle cx="100.3" cy="279.4" r="2.9"/>
<circle cx="118.6" cy="355.9" r="2.9"/>
<circle cx="92.5" cy="304.1" r="2.9"/>
<circle cx="106.4" cy="325.2" r="2.9"/>
<circle cx="124.3" cy="309.2" r="2.9"/>
<circle cx="91.1" cy="290.3" r="2.9"/>
<circle cx="123.6" cy="329.9" r="2.9"/>
<circle cx="113.2" cy="327.6" r="2.9"/>
<circle cx="117.9" cy="278.8" r="2.9"/>
<circle cx="124.3" cy="344.1" r="2.9"/>
<circle cx="101.5" cy="327.4" r="2.9"/>
<circle cx="100.4" cy="286.8" r="2.9"/>
<circle cx="99.0" cy="276.9" r="2.9"/>
<circle cx="96.9" cy="317.0" r="2.9"/>
<circle cx="99.8" cy="356.2" r="2.9"/>
<circle cx="126.1" cy="333.0" r="2.9"/>
<circle cx="97.5" cy="293.3" r="2.9"/>
<circle cx="120.8" cy="303.2" r="2.9"/>
<circle cx="117.9" cy="325.8" r="2.9"/>
<circle cx="106.1" cy="325.7" r="2.9"/>
<circle cx="102.0" cy="319.4" r="2.9"/>
<circle cx="129.6" cy="285.6" r="2.9"/>
<circle cx="129.1" cy="269.5" r="2.9"/>
<circle cx="95.9" cy="288.0" r="2.9"/>
<circle cx="123.2" cy="304.7" r="2.9"/>
<circle cx="105.1" cy="347.2" r="2.9"/>
<circle cx="119.3" cy="266.8" r="2.9"/>
<circle cx="99.0" cy="341.9" r="2.9"/>
<circle cx="106.0" cy="301.5" r="2.9"/>
<circle cx="107.8" cy="332.2" r="2.9"/>
<circle cx="98.3" cy="316.4" r="2.9"/>
<circle cx="102.6" cy="306.8" r="2.9"/>
<circle cx="102.7" cy="289.4" r="2.9"/>
<circle cx="122.3" cy="324.6" r="2.9"/>
<circle cx="117.2" cy="335.2" r="2.9"/>
<circle cx="94.9" cy="288.4" r="2.9"/>
<circle cx="120.4" cy="298.1" r="2.9"/>
<circle cx="115.2" cy="344.6" r="2.9"/>
<circle cx="92.7" cy="311.5" r="2.9"/>
<circle cx="97.7" cy="289.8" r="2.9"/>
<circle cx="125.2" cy="288.3" r="2.9"/>
<circle cx="114.9" cy="324.7" r="2.9"/>
<circle cx="90.3" cy="313.5" r="2.9"/>
<circle cx="96.5" cy="354.9" r="2.9"/>
<circle cx="121.6" cy="290.4" r="2.9"/>
<circle cx="103.0" cy="340.8" r="2.9"/>
<circle cx="105.0" cy="340.0" r="2.9"/>
<circle cx="113.2" cy="350.6" r="2.9"/>
<circle cx="99.3" cy="314.1" r="2.9"/>
<circle cx="115.0" cy="309.4" r="2.9"/>
<circle cx="120.9" cy="282.0" r="2.9"/>
<circle cx="98.8" cy="286.8" r="2.9"/>
<circle cx="99.2" cy="309.6" r="2.9"/>
<circle cx="104.5" cy="357.3" r="2.9"/>
<circle cx="96.7" cy="285.7" r="2.9"/>
<circle cx="107.8" cy="323.3" r="2.9"/>
<circle cx="115.9" cy="349.8" r="2.9"/>
<circle cx="94.8" cy="287.3" r="2.9"/>
<circle cx="97.4" cy="289.9" r="2.9"/>
<circle cx="100.0" cy="298.1" r="2.9"/>
<circle cx="98.8" cy="317.3" r="2.9"/>
<circle cx="115.1" cy="304.8" r="2.9"/>
<circle cx="124.3" cy="313.8" r="2.9"/>
<circle cx="98.9" cy="337.0" r="2.9"/>
<circle cx="103.1" cy="294.8" r="2.9"/>
<circle cx="93.0" cy="292.0" r="2.9"/>
<circle cx="127.4" cy="311.0" r="2.9"/>
<circle cx="119.4" cy="336.9" r="2.9"/>
<circle cx="117.2" cy="351.7" r="2.9"/>
<circle cx="103.1" cy="320.8" r="2.9"/>
<circle cx="101.4" cy="357.4" r="2.9"/>
<circle cx="104.8" cy="355.6" r="2.9"/>
<circle cx="121.3" cy="301.9" r="2.9"/>
<circle cx="107.1" cy="349.5" r="2.9"/>
<circle cx="126.7" cy="336.7" r="2.9"/>
<circle cx="116.1" cy="292.9" r="2.9"/>
<circle cx="97.4" cy="331.9" r="2.9"/>
<circle cx="102.4" cy="337.3" r="2.9"/>
<circle cx="97.4" cy="280.6" r="2.9"/>
<circle cx="117.2" cy="353.7" r="2.9"/>
<circle cx="114.7" cy="330.7" r="2.9"/>
<circle cx="115.9" cy="353.4" r="2.9"/>
<circle cx="97.6" cy="343.1" r="2.9"/>
<circle cx="121.3" cy="272.1" r="2.9"/>
<circle cx="116.5" cy="348.3" r="2.9"/>
<circle cx="97.2" cy="306.4" r="2.9"/>
<circle cx="102.5" cy="295.1" r="2.9"/>
<circle cx="112.0" cy="330.8" r="2.9"/>
<circle cx="117.9" cy="323.5" r="2.9"/>
<circle cx="94.5" cy="336.7" r="2.9"/>
<circle cx="125.5" cy="351.2" r="2.9"/>
<circle cx="101.1" cy="342.7" r="2.9"/>
<circle cx="95.8" cy="336.1" r="2.9"/>
<circle cx="119.4" cy="333.6" r="2.9"/>
<circle cx="99.7" cy="297.9" r="2.9"/>
<circle cx="119.9" cy="295.4" r="2.9"/>
<circle cx="119.4" cy="315.7" r="2.9"/>
<circle cx="127.2" cy="276.2" r="2.9"/>
<circle cx="104.5" cy="277.7" r="2.9"/>
<circle cx="105.5" cy="351.4" r="2.9"/>
<circle cx="106.1" cy="308.2" r="2.9"/>
<circle cx="122.3" cy="345.6" r="2.9"/>
<circle cx="106.7" cy="338.9" r="2.9"/>
<circle cx="103.6" cy="300.3" r="2.9"/>
<circle cx="104.9" cy="332.6" r="2.9"/>
<circle cx="94.2" cy="301.7" r="2.9"/>
<circle cx="126.6" cy="351.4" r="2.9"/>
<circle cx="127.7" cy="346.6" r="2.9"/>
<circle cx="114.2" cy="317.7" r="2.9"/>
<circle cx="115.7" cy="297.3" r="2.9"/>
<circle cx="111.1" cy="336.6" r="2.9"/>
<circle cx="109.1" cy="340.3" r="2.9"/>
<circle cx="103.7" cy="353.3" r="2.9"/>
<circle cx="114.8" cy="353.1" r="2.9"/>
<circle cx="122.9" cy="331.9" r="2.9"/>
<circle cx="121.8" cy="302.5" r="2.9"/>
<circle cx="120.1" cy="313.5" r="2.9"/>
<circle cx="117.3" cy="294.3" r="2.9"/>
<circle cx="103.1" cy="279.2" r="2.9"/>
<circle cx="105.9" cy="305.3" r="2.9"/>
<circle cx="102.8" cy="294.2" r="2.9"/>
<circle cx="104.4" cy="356.0" r="2.9"/>
<circle cx="108.1" cy="332.8" r="2.9"/>
<circle cx="104.5" cy="351.7" r="2.9"/>
<circle cx="126.6" cy="286.3" r="2.9"/>
<circle cx="96.7" cy="301.9" r="2.9"/>
<circle cx="110.6" cy="357.0" r="2.9"/>
<circle cx="95.5" cy="290.0" r="2.9"/>
<circle cx="108.7" cy="324.3" r="2.9"/>
<circle cx="121.6" cy="304.1" r="2.9"/>
<circle cx="96.9" cy="304.1" r="2.9"/>
<circle cx="94.0" cy="301.5" r="2.9"/>
<circle cx="118.1" cy="287.3" r="2.9"/>
<circle cx="104.2" cy="356.3" r="2.9"/>
<circle cx="110.5" cy="350.7" r="2.9"/>
<circle cx="125.4" cy="316.7" r="2.9"/>
<circle cx="125.6" cy="291.8" r="2.9"/>
<circle cx="125.8" cy="303.2" r="2.9"/>
<circle cx="126.9" cy="307.5" r="2.9"/>
<circle cx="89.0" cy="294.7" r="2.9"/>
<circle cx="125.6" cy="303.6" r="2.9"/>
<circle cx="104.5" cy="327.7" r="2.9"/>
<circle cx="121.0" cy="338.5" r="2.9"/>
<circle cx="98.9" cy="287.3" r="2.9"/>
<circle cx="93.8" cy="335.0" r="2.9"/>
<circle cx="123.2" cy="306.9" r="2.9"/>
<circle cx="93.4" cy="300.3" r="2.9"/>
<circle cx="122.8" cy="285.3" r="2.9"/>
<circle cx="96.3" cy="326.2" r="2.9"/>
<circle cx="113.3" cy="335.7" r="2.9"/>
<circle cx="124.7" cy="301.4" r="2.9"/>
<circle cx="116.6" cy="295.9" r="2.9"/>
<circle cx="120.9" cy="325.0" r="2.9"/>
<circle cx="96.0" cy="324.2" r="2.9"/>
<circle cx="95.7" cy="356.1" r="2.9"/>
<circle cx="128.9" cy="301.0" r="2.9"/>
<circle cx="100.4" cy="310.9" r="2.9"/>
<circle cx="103.8" cy="304.7" r="2.9"/>
<circle cx="88.9" cy="335.8" r="2.9"/>
<circle cx="119.6" cy="279.6" r="2.9"/>
<circle cx="106.7" cy="327.7" r="2.9"/>
<circle cx="93.4" cy="311.3" r="2.9"/>
<circle cx="119.4" cy="300.8" r="2.9"/>
<circle cx="107.0" cy="329.2" r="2.9"/>
<circle cx="101.2" cy="330.3" r="2.9"/>
<circle cx="108.5" cy="349.2" r="2.9"/>
<circle cx="119.5" cy="355.2" r="2.9"/>
<circle cx="104.7" cy="310.0" r="2.9"/>
<circle cx="95.0" cy="302.4" r="2.9"/>
<circle cx="100.6" cy="354.3" r="2.9"/>
<circle cx="115.2" cy="324.7" r="2.9"/>
<circle cx="102.1" cy="308.9" r="2.9"/>
<circle cx="119.8" cy="319.7" r="2.9"/>
<circle cx="109.5" cy="339.9" r="2.9"/>
<circle cx="97.0" cy="340.8" r="2.9"/>
<circle cx="123.9" cy="288.4" r="2.9"/>
<circle cx="103.9" cy="322.1" r="2.9"/>
<circle cx="122.6" cy="303.4" r="2.9"/>
<circle cx="128.8" cy="286.0" r="2.9"/>
<circle cx="124.6" cy="316.5" r="2.9"/>
<circle cx="118.1" cy="285.6" r="2.9"/>
<circle cx="95.1" cy="282.7" r="2.9"/>
<circle cx="121.1" cy="302.2" r="2.9"/>
<circle cx="94.9" cy="311.6" r="2.9"/>
<circle cx="115.9" cy="326.6" r="2.9"/>
<circle cx="118.9" cy="302.6" r="2.9"/>
<circle cx="98.2" cy="331.4" r="2.9"/>
<circle cx="94.4" cy="290.1" r="2.9"/>
<circle cx="108.0" cy="314.1" r="2.9"/>
<circle cx="91.5" cy="336.2" r="2.9"/>
<circle cx="107.3" cy="315.9" r="2.9"/>
<circle cx="114.4" cy="315.3" r="2.9"/>
<circle cx="121.5" cy="350.0" r="2.9"/>
<circle cx="99.9" cy="351.2" r="2.9"/>
<circle cx="99.4" cy="355.8" r="2.9"/>
<circle cx="106.0" cy="289.8" r="2.9"/>
<circle cx="119.9" cy="302.2" r="2.9"/>
<circle cx="99.8" cy="302.4" r="2.9"/>
<circle cx="92.3" cy="333.7" r="2.9"/>
<circle cx="106.8" cy="339.3" r="2.9"/>
<circle cx="102.3" cy="306.6" r="2.9"/>
<circle cx="97.8" cy="278.8" r="2.9"/>
<circle cx="94.1" cy="281.2" r="2.9"/>
<circle cx="117.9" cy="296.0" r="2.9"/>
<circle cx="120.2" cy="302.3" r="2.9"/>
<circle cx="99.4" cy="287.3" r="2.9"/>
<circle cx="123.0" cy="338.9" r="2.9"/>
<circle cx="127.1" cy="341.2" r="2.9"/>
<circle cx="128.4" cy="326.6" r="2.9"/>
<circle cx="119.6" cy="346.5" r="2.9"/>
<circle cx="94.9" cy="303.5" r="2.9"/>
<circle cx="125.3" cy="346.2" r="2.9"/>
<circle cx="126.3" cy="310.1" r="2.9"/>
<circle cx="102.2" cy="296.7" r="2.9"/>
<circle cx="101.9" cy="343.0" r="2.9"/>
<circle cx="127.7" cy="307.5" r="2.9"/>
<circle cx="111.4" cy="357.3" r="2.9"/>
<circle cx="102.1" cy="340.9" r="2.9"/>
<circle cx="96.3" cy="295.7" r="2.9"/>
<circle cx="124.7" cy="334.6" r="2.9"/>
<circle cx="104.7" cy="313.3" r="2.9"/>
<circle cx="101.4" cy="333.5" r="2.9"/>
<circle cx="131.8" cy="350.9" r="2.9"/>
<circle cx="94.1" cy="348.4" r="2.9"/>
<circle cx="90.5" cy="250.9" r="2.9"/>
<circle cx="132.7" cy="308.3" r="2.9"/>
<circle cx="146.4" cy="255.5" r="2.9"/>
<circle cx="93.8" cy="289.6" r="2.9"/>
<circle cx="130.7" cy="295.6" r="2.9"/>
<circle cx="137.9" cy="296.6" r="2.9"/>
<circle cx="75.7" cy="289.9" r="2.9"/>
<circle cx="135.0" cy="272.6" r="2.9"/>
<circle cx="90.4" cy="285.9" r="2.9"/>
<circle cx="130.2" cy="247.3" r="2.9"/>
<circle cx="137.6" cy="286.8" r="2.9"/>
<circle cx="131.1" cy="327.7" r="2.9"/>
<circle cx="93.3" cy="248.9" r="2.9"/>
<circle cx="130.7" cy="308.3" r="2.9"/>
<circle cx="89.3" cy="251.2" r="2.9"/>
<circle cx="135.0" cy="335.5" r="2.9"/>
<circle cx="87.8" cy="258.0" r="2.9"/>
<circle cx="131.1" cy="349.6" r="2.9"/>
<circle cx="132.2" cy="287.9" r="2.9"/>
<circle cx="92.1" cy="299.2" r="2.9"/>
<circle cx="75.0" cy="287.1" r="2.9"/>
<circle cx="146.0" cy="244.3" r="2.9"/>
<circle cx="90.3" cy="354.0" r="2.9"/>
<circle cx="59.3" cy="296.1" r="2.9"/>
<circle cx="93.1" cy="283.5" r="2.9"/>
<circle cx="129.4" cy="339.6" r="2.9"/>
<circle cx="143.7" cy="346.9" r="2.9"/>
<circle cx="87.3" cy="313.2" r="2.9"/>
<circle cx="86.9" cy="251.1" r="2.9"/>
<circle cx="129.9" cy="287.9" r="2.9"/>
<circle cx="89.9" cy="334.5" r="2.9"/>
<circle cx="92.6" cy="257.6" r="2.9"/>
<circle cx="130.9" cy="260.8" r="2.9"/>
<circle cx="92.1" cy="270.2" r="2.9"/>
<circle cx="135.6" cy="311.3" r="2.9"/>
<circle cx="82.1" cy="308.1" r="2.9"/>
<circle cx="127.9" cy="345.0" r="2.9"/>
<circle cx="59.8" cy="268.3" r="2.9"/>
<circle cx="91.8" cy="247.5" r="2.9"/>
<circle cx="135.5" cy="273.4" r="2.9"/>
<circle cx="134.5" cy="288.1" r="2.9"/>
<circle cx="93.6" cy="262.6" r="2.9"/>
<circle cx="132.5" cy="333.1" r="2.9"/>
<circle cx="92.0" cy="356.6" r="2.9"/>
<circle cx="129.6" cy="346.9" r="2.9"/>
<circle cx="140.8" cy="302.0" r="2.9"/>
<circle cx="127.3" cy="352.8" r="2.9"/>
<circle cx="150.7" cy="330.3" r="2.9"/>
<circle cx="131.3" cy="274.4" r="2.9"/>
<circle cx="132.1" cy="254.3" r="2.9"/>
<circle cx="90.9" cy="275.4" r="2.9"/>
<circle cx="130.3" cy="355.2" r="2.9"/>
<circle cx="131.4" cy="294.1" r="2.9"/>
<circle cx="90.5" cy="315.4" r="2.9"/>
<circle cx="150.0" cy="313.3" r="2.9"/>
<circle cx="131.2" cy="326.5" r="2.9"/>
<circle cx="92.6" cy="332.3" r="2.9"/>
<circle cx="133.1" cy="297.3" r="2.9"/>
<circle cx="90.7" cy="289.9" r="2.9"/>
<circle cx="130.2" cy="339.5" r="2.9"/>
<circle cx="80.4" cy="260.2" r="2.9"/>
<circle cx="86.9" cy="343.3" r="2.9"/>
<circle cx="86.8" cy="330.0" r="2.9"/>
<circle cx="130.2" cy="284.1" r="2.9"/>
<circle cx="91.2" cy="344.4" r="2.9"/>
<circle cx="136.5" cy="304.2" r="2.9"/>
<circle cx="131.7" cy="279.1" r="2.9"/>
<circle cx="136.1" cy="280.6" r="2.9"/>
<circle cx="133.4" cy="251.1" r="2.9"/>
<circle cx="132.6" cy="327.4" r="2.9"/>
<circle cx="90.9" cy="332.6" r="2.9"/>
<circle cx="128.6" cy="354.1" r="2.9"/>
<circle cx="135.1" cy="318.5" r="2.9"/>
<circle cx="89.7" cy="272.1" r="2.9"/>
<circle cx="144.9" cy="313.2" r="2.9"/>
<circle cx="87.8" cy="306.6" r="2.9"/>
<circle cx="85.2" cy="311.9" r="2.9"/>
<circle cx="63.4" cy="266.9" r="2.9"/>
<circle cx="92.3" cy="356.9" r="2.9"/>
<circle cx="129.7" cy="331.3" r="2.9"/>
<circle cx="134.0" cy="302.2" r="2.9"/>
<circle cx="84.0" cy="307.1" r="2.9"/>
<circle cx="136.4" cy="282.9" r="2.9"/>
<circle cx="96.2" cy="349.6" r="2.9"/>
<circle cx="92.7" cy="354.5" r="2.9"/>
<circle cx="92.3" cy="291.7" r="2.9"/>
<circle cx="131.6" cy="318.8" r="2.9"/>
<circle cx="131.1" cy="346.8" r="2.9"/>
<circle cx="89.5" cy="297.0" r="2.9"/>
<circle cx="73.8" cy="262.0" r="2.9"/>
<circle cx="90.6" cy="309.7" r="2.9"/>
<circle cx="87.1" cy="309.1" r="2.9"/>
<circle cx="135.0" cy="343.5" r="2.9"/>
<circle cx="137.7" cy="353.3" r="2.9"/>
<circle cx="133.6" cy="280.7" r="2.9"/>
<circle cx="93.1" cy="295.7" r="2.9"/>
<circle cx="133.4" cy="291.5" r="2.9"/>
<circle cx="130.1" cy="335.2" r="2.9"/>
<circle cx="129.5" cy="335.1" r="2.9"/>
<circle cx="135.2" cy="331.1" r="2.9"/>
<circle cx="86.2" cy="299.9" r="2.9"/>
<circle cx="91.2" cy="304.9" r="2.9"/>
<circle cx="82.1" cy="315.0" r="2.9"/>
<circle cx="86.8" cy="300.5" r="2.9"/>
<circle cx="142.7" cy="323.0" r="2.9"/>
<circle cx="141.0" cy="302.2" r="2.9"/>
<circle cx="137.3" cy="282.3" r="2.9"/>
<circle cx="128.2" cy="344.6" r="2.9"/>
<circle cx="132.7" cy="256.9" r="2.9"/>
<circle cx="89.1" cy="264.5" r="2.9"/>
<circle cx="133.5" cy="259.2" r="2.9"/>
<circle cx="92.8" cy="332.1" r="2.9"/>
<circle cx="130.4" cy="295.0" r="2.9"/>
<circle cx="131.4" cy="294.6" r="2.9"/>
<circle cx="125.9" cy="352.7" r="2.9"/>
<circle cx="87.7" cy="318.3" r="2.9"/>
<circle cx="77.7" cy="246.1" r="2.9"/>
<circle cx="134.8" cy="337.0" r="2.9"/>
<circle cx="129.6" cy="320.4" r="2.9"/>
<circle cx="138.2" cy="264.5" r="2.9"/>
<circle cx="89.9" cy="352.3" r="2.9"/>
<circle cx="159.8" cy="339.4" r="2.9"/>
<circle cx="131.0" cy="305.3" r="2.9"/>
<circle cx="146.9" cy="278.4" r="2.9"/>
<circle cx="90.3" cy="352.1" r="2.9"/>
<circle cx="153.5" cy="327.4" r="2.9"/>
<circle cx="141.1" cy="291.5" r="2.9"/>
<circle cx="136.7" cy="301.7" r="2.9"/>
<circle cx="88.3" cy="303.2" r="2.9"/>
<circle cx="84.6" cy="254.3" r="2.9"/>
<circle cx="130.7" cy="353.0" r="2.9"/>
<circle cx="94.1" cy="352.2" r="2.9"/>
<circle cx="134.1" cy="262.9" r="2.9"/>
<circle cx="136.1" cy="329.8" r="2.9"/>
<circle cx="144.0" cy="331.3" r="2.9"/>
<circle cx="79.8" cy="327.3" r="2.9"/>
<circle cx="138.2" cy="298.2" r="2.9"/>
<circle cx="92.3" cy="337.7" r="2.9"/>
<circle cx="133.3" cy="292.8" r="2.9"/>
<circle cx="139.8" cy="340.5" r="2.9"/>
<circle cx="151.3" cy="264.4" r="2.9"/>
<circle cx="89.4" cy="278.1" r="2.9"/>
<circle cx="132.8" cy="276.7" r="2.9"/>
<circle cx="126.2" cy="351.2" r="2.9"/>
<circle cx="133.0" cy="326.8" r="2.9"/>
<circle cx="87.0" cy="355.8" r="2.9"/>
<circle cx="75.1" cy="338.8" r="2.9"/>
<circle cx="133.4" cy="246.3" r="2.9"/>
<circle cx="91.3" cy="338.0" r="2.9"/>
<circle cx="130.0" cy="338.8" r="2.9"/>
<circle cx="96.6" cy="348.7" r="2.9"/>
<circle cx="134.4" cy="307.6" r="2.9"/>
<circle cx="95.0" cy="346.7" r="2.9"/>
<circle cx="89.9" cy="259.4" r="2.9"/>
<circle cx="88.7" cy="248.2" r="2.9"/>
<circle cx="134.1" cy="245.0" r="2.9"/>
<circle cx="137.0" cy="311.9" r="2.9"/>
<circle cx="131.9" cy="340.6" r="2.9"/>
<circle cx="88.6" cy="313.0" r="2.9"/>
<circle cx="134.6" cy="338.3" r="2.9"/>
<circle cx="88.2" cy="283.5" r="2.9"/>
<circle cx="90.1" cy="306.7" r="2.9"/>
<circle cx="132.1" cy="267.8" r="2.9"/>
<circle cx="130.3" cy="335.1" r="2.9"/>
<circle cx="84.1" cy="247.1" r="2.9"/>
<circle cx="87.8" cy="252.3" r="2.9"/>
<circle cx="142.2" cy="339.7" r="2.9"/>
<circle cx="92.5" cy="274.6" r="2.9"/>
<circle cx="134.0" cy="300.8" r="2.9"/>
<circle cx="93.0" cy="336.4" r="2.9"/>
<circle cx="131.7" cy="289.0" r="2.9"/>
<circle cx="77.6" cy="320.1" r="2.9"/>
<circle cx="133.8" cy="302.7" r="2.9"/>
<circle cx="126.7" cy="346.9" r="2.9"/>
<circle cx="130.8" cy="324.1" r="2.9"/>
<circle cx="86.5" cy="313.7" r="2.9"/>
<circle cx="142.8" cy="348.4" r="2.9"/>
<circle cx="130.3" cy="332.6" r="2.9"/>
<circle cx="141.9" cy="339.7" r="2.9"/>
<circle cx="132.9" cy="311.6" r="2.9"/>
<circle cx="132.6" cy="283.0" r="2.9"/>
<circle cx="127.2" cy="344.8" r="2.9"/>
<circle cx="83.2" cy="261.9" r="2.9"/>
<circle cx="93.1" cy="281.2" r="2.9"/>
<circle cx="133.1" cy="331.4" r="2.9"/>
<circle cx="137.9" cy="331.4" r="2.9"/>
<circle cx="93.0" cy="345.4" r="2.9"/>
<circle cx="85.4" cy="291.0" r="2.9"/>
<circle cx="86.0" cy="287.7" r="2.9"/>
<circle cx="132.6" cy="266.2" r="2.9"/>
<circle cx="95.0" cy="346.5" r="2.9"/>
<circle cx="92.3" cy="292.3" r="2.9"/>
<circle cx="130.4" cy="284.1" r="2.9"/>
<circle cx="154.7" cy="291.7" r="2.9"/>
<circle cx="130.6" cy="349.9" r="2.9"/>
<circle cx="138.2" cy="318.2" r="2.9"/>
<circle cx="78.8" cy="274.6" r="2.9"/>
<circle cx="82.2" cy="266.7" r="2.9"/>
<circle cx="79.6" cy="334.3" r="2.9"/>
<circle cx="129.9" cy="300.9" r="2.9"/>
<circle cx="84.7" cy="268.6" r="2.9"/>
<circle cx="130.1" cy="268.2" r="2.9"/>
<circle cx="145.9" cy="289.0" r="2.9"/>
<circle cx="140.6" cy="289.4" r="2.9"/>
<circle cx="130.8" cy="268.2" r="2.9"/>
<circle cx="132.4" cy="289.0" r="2.9"/>
<circle cx="86.7" cy="315.5" r="2.9"/>
<circle cx="144.7" cy="312.1" r="2.9"/>
<circle cx="91.0" cy="315.1" r="2.9"/>
<circle cx="131.8" cy="293.9" r="2.9"/>
<circle cx="96.2" cy="349.0" r="2.9"/>
<circle cx="89.1" cy="321.0" r="2.9"/>
<circle cx="136.3" cy="321.7" r="2.9"/>
<circle cx="91.5" cy="266.0" r="2.9"/>
<circle cx="143.1" cy="269.9" r="2.9"/>
<circle cx="85.1" cy="272.2" r="2.9"/>
<circle cx="140.6" cy="272.3" r="2.9"/>
<circle cx="127.4" cy="345.7" r="2.9"/>
<circle cx="129.5" cy="316.2" r="2.9"/>
<circle cx="85.4" cy="322.7" r="2.9"/>
<circle cx="91.4" cy="244.3" r="2.9"/>
<circle cx="130.1" cy="245.1" r="2.9"/>
<circle cx="154.5" cy="258.8" r="2.9"/>
<circle cx="88.6" cy="351.7" r="2.9"/>
<circle cx="90.8" cy="259.2" r="2.9"/>
<circle cx="96.3" cy="341.4" r="2.9"/>
<circle cx="89.8" cy="297.1" r="2.9"/>
<circle cx="83.0" cy="268.0" r="2.9"/>
<circle cx="90.7" cy="245.3" r="2.9"/>
<circle cx="89.5" cy="273.3" r="2.9"/>
<circle cx="91.3" cy="249.4" r="2.9"/>
<circle cx="84.7" cy="265.4" r="2.9"/>
<circle cx="50.9" cy="278.6" r="2.9"/>
<circle cx="91.5" cy="340.2" r="2.9"/>
<circle cx="91.7" cy="296.6" r="2.9"/>
<circle cx="91.2" cy="354.7" r="2.9"/>
<circle cx="71.9" cy="288.3" r="2.9"/>
<circle cx="91.8" cy="356.3" r="2.9"/>
<circle cx="91.8" cy="287.3" r="2.9"/>
<circle cx="134.5" cy="267.4" r="2.9"/>
<circle cx="133.1" cy="278.7" r="2.9"/>
<circle cx="84.1" cy="291.4" r="2.9"/>
<circle cx="92.1" cy="281.2" r="2.9"/>
<circle cx="131.2" cy="263.2" r="2.9"/>
<circle cx="90.8" cy="328.5" r="2.9"/>
<circle cx="93.8" cy="324.1" r="2.9"/>
<circle cx="141.4" cy="338.7" r="2.9"/>
<circle cx="79.2" cy="258.0" r="2.9"/>
<circle cx="129.6" cy="253.6" r="2.9"/>
<circle cx="89.4" cy="280.7" r="2.9"/>
<circle cx="131.6" cy="248.3" r="2.9"/>
<circle cx="89.1" cy="303.6" r="2.9"/>
<circle cx="141.8" cy="288.3" r="2.9"/>
<circle cx="134.7" cy="255.1" r="2.9"/>
<circle cx="130.3" cy="298.0" r="2.9"/>
<circle cx="130.4" cy="321.3" r="2.9"/>
<circle cx="87.8" cy="311.8" r="2.9"/>
<circle cx="139.3" cy="330.3" r="2.9"/>
<circle cx="102.3" cy="270.6" r="2.9"/>
<circle cx="119.1" cy="285.3" r="2.9"/>
<circle cx="102.7" cy="265.4" r="2.9"/>
<circle cx="95.0" cy="279.7" r="2.9"/>
<circle cx="133.4" cy="279.0" r="2.9"/>
<circle cx="86.9" cy="274.5" r="2.9"/>
<circle cx="130.9" cy="251.8" r="2.9"/>
<circle cx="101.0" cy="263.2" r="2.9"/>
<circle cx="122.8" cy="265.6" r="2.9"/>
<circle cx="105.6" cy="283.8" r="2.9"/>
<circle cx="103.6" cy="267.6" r="2.9"/>
<circle cx="103.6" cy="281.8" r="2.9"/>
<circle cx="127.7" cy="285.7" r="2.9"/>
<circle cx="132.3" cy="271.3" r="2.9"/>
<circle cx="125.8" cy="266.1" r="2.9"/>
<circle cx="126.4" cy="272.0" r="2.9"/>
<circle cx="100.7" cy="232.7" r="2.9"/>
<circle cx="132.6" cy="271.6" r="2.9"/>
<circle cx="104.3" cy="273.6" r="2.9"/>
<circle cx="132.0" cy="276.7" r="2.9"/>
<circle cx="117.1" cy="271.8" r="2.9"/>
<circle cx="125.1" cy="269.6" r="2.9"/>
<circle cx="98.0" cy="280.8" r="2.9"/>
<circle cx="134.3" cy="278.2" r="2.9"/>
<circle cx="131.3" cy="278.2" r="2.9"/>
<circle cx="91.8" cy="278.4" r="2.9"/>
<circle cx="130.0" cy="277.8" r="2.9"/>
<circle cx="102.2" cy="263.4" r="2.9"/>
<circle cx="117.4" cy="271.1" r="2.9"/>
<circle cx="115.8" cy="286.9" r="2.9"/>
<circle cx="129.9" cy="249.6" r="2.9"/>
<circle cx="132.6" cy="282.3" r="2.9"/>
<circle cx="124.4" cy="281.3" r="2.9"/>
<circle cx="96.0" cy="274.4" r="2.9"/>
<circle cx="97.8" cy="282.7" r="2.9"/>
<circle cx="119.9" cy="240.9" r="2.9"/>
<circle cx="127.6" cy="259.8" r="2.9"/>
<circle cx="106.4" cy="251.8" r="2.9"/>
<circle cx="103.0" cy="283.5" r="2.9"/>
<circle cx="122.4" cy="272.9" r="2.9"/>
<circle cx="98.1" cy="274.3" r="2.9"/>
<circle cx="89.1" cy="265.8" r="2.9"/>
<circle cx="116.5" cy="266.8" r="2.9"/>
<circle cx="94.9" cy="273.6" r="2.9"/>
<circle cx="103.2" cy="266.7" r="2.9"/>
<circle cx="106.3" cy="272.0" r="2.9"/>
<circle cx="99.2" cy="254.9" r="2.9"/>
<circle cx="134.8" cy="252.4" r="2.9"/>
<circle cx="122.2" cy="273.4" r="2.9"/>
<circle cx="131.7" cy="274.4" r="2.9"/>
<circle cx="134.6" cy="284.3" r="2.9"/>
<circle cx="92.6" cy="261.8" r="2.9"/>
<circle cx="134.4" cy="236.2" r="2.9"/>
<circle cx="133.5" cy="278.1" r="2.9"/>
<circle cx="100.0" cy="257.0" r="2.9"/>
<circle cx="105.8" cy="266.6" r="2.9"/>
<circle cx="89.3" cy="261.8" r="2.9"/>
<circle cx="132.7" cy="275.3" r="2.9"/>
<circle cx="123.1" cy="229.0" r="2.9"/>
<circle cx="126.8" cy="274.5" r="2.9"/>
<circle cx="124.2" cy="284.3" r="2.9"/>
<circle cx="99.1" cy="284.8" r="2.9"/>
<circle cx="92.5" cy="283.2" r="2.9"/>
<circle cx="86.9" cy="280.6" r="2.9"/>
<circle cx="89.7" cy="283.0" r="2.9"/>
<circle cx="117.5" cy="278.1" r="2.9"/>
<circle cx="97.2" cy="225.0" r="2.9"/>
<circle cx="117.9" cy="273.8" r="2.9"/>
<circle cx="101.8" cy="267.3" r="2.9"/>
<circle cx="86.9" cy="245.2" r="2.9"/>
<circle cx="87.2" cy="272.0" r="2.9"/>
<circle cx="133.7" cy="224.3" r="2.9"/>
<circle cx="99.0" cy="259.6" r="2.9"/>
<circle cx="94.5" cy="283.3" r="2.9"/>
<circle cx="131.1" cy="267.7" r="2.9"/>
<circle cx="102.7" cy="244.1" r="2.9"/>
<circle cx="121.4" cy="253.5" r="2.9"/>
<circle cx="103.1" cy="276.1" r="2.9"/>
<circle cx="126.1" cy="261.1" r="2.9"/>
<circle cx="101.6" cy="265.6" r="2.9"/>
<circle cx="100.4" cy="256.1" r="2.9"/>
<circle cx="100.6" cy="240.6" r="2.9"/>
<circle cx="91.5" cy="276.3" r="2.9"/>
<circle cx="87.7" cy="269.6" r="2.9"/>
<circle cx="94.0" cy="271.9" r="2.9"/>
<circle cx="134.2" cy="286.2" r="2.9"/>
<circle cx="131.5" cy="263.0" r="2.9"/>
<circle cx="126.1" cy="257.5" r="2.9"/>
<circle cx="98.0" cy="286.6" r="2.9"/>
<circle cx="90.2" cy="271.8" r="2.9"/>
<circle cx="118.0" cy="275.9" r="2.9"/>
<circle cx="118.4" cy="284.7" r="2.9"/>
<circle cx="101.8" cy="278.2" r="2.9"/>
<circle cx="118.2" cy="257.7" r="2.9"/>
<circle cx="127.9" cy="270.5" r="2.9"/>
<circle cx="135.0" cy="252.5" r="2.9"/>
<circle cx="94.0" cy="253.4" r="2.9"/>
<circle cx="121.4" cy="264.1" r="2.9"/>
<circle cx="133.1" cy="276.2" r="2.9"/>
<circle cx="87.0" cy="260.8" r="2.9"/>
<circle cx="100.0" cy="247.6" r="2.9"/>
<circle cx="97.7" cy="279.5" r="2.9"/>
<circle cx="104.3" cy="261.0" r="2.9"/>
<circle cx="97.7" cy="281.8" r="2.9"/>
<circle cx="129.6" cy="250.2" r="2.9"/>
<circle cx="129.6" cy="277.5" r="2.9"/>
<circle cx="99.6" cy="275.3" r="2.9"/>
<circle cx="91.7" cy="284.9" r="2.9"/>
<circle cx="104.5" cy="283.1" r="2.9"/>
<circle cx="115.8" cy="284.0" r="2.9"/>
<circle cx="86.1" cy="285.0" r="2.9"/>
<circle cx="99.8" cy="273.4" r="2.9"/>
<circle cx="101.6" cy="253.3" r="2.9"/>
<circle cx="101.5" cy="281.5" r="2.9"/>
<circle cx="116.7" cy="283.9" r="2.9"/>
<circle cx="98.3" cy="282.2" r="2.9"/>
<circle cx="89.4" cy="285.4" r="2.9"/>
<circle cx="120.4" cy="259.9" r="2.9"/>
<circle cx="130.6" cy="260.2" r="2.9"/>
<circle cx="115.8" cy="244.1" r="2.9"/>
<circle cx="125.7" cy="280.8" r="2.9"/>
<circle cx="102.6" cy="272.9" r="2.9"/>
<circle cx="135.2" cy="286.0" r="2.9"/>
<circle cx="128.5" cy="277.8" r="2.9"/>
<circle cx="115.8" cy="284.5" r="2.9"/>
<circle cx="90.6" cy="284.6" r="2.9"/>
<circle cx="92.1" cy="283.2" r="2.9"/>
<circle cx="86.3" cy="282.7" r="2.9"/>
<circle cx="104.6" cy="254.2" r="2.9"/>
<circle cx="120.2" cy="279.3" r="2.9"/>
<circle cx="100.1" cy="259.2" r="2.9"/>
<circle cx="100.0" cy="247.7" r="2.9"/>
<circle cx="123.6" cy="242.6" r="2.9"/>
<circle cx="116.3" cy="284.8" r="2.9"/>
<circle cx="105.2" cy="286.8" r="2.9"/>
<circle cx="117.3" cy="287.0" r="2.9"/>
<circle cx="119.2" cy="277.5" r="2.9"/>
<circle cx="119.9" cy="285.4" r="2.9"/>
<circle cx="120.5" cy="281.8" r="2.9"/>
<circle cx="100.3" cy="274.7" r="2.9"/>
<circle cx="127.9" cy="286.4" r="2.9"/>
<circle cx="93.8" cy="257.2" r="2.9"/>
<circle cx="91.6" cy="254.4" r="2.9"/>
<circle cx="95.9" cy="276.2" r="2.9"/>
<circle cx="105.8" cy="195.9" r="2.9"/>
<circle cx="106.8" cy="198.0" r="2.9"/>
<circle cx="128.4" cy="208.4" r="2.9"/>
<circle cx="88.1" cy="220.8" r="2.9"/>
<circle cx="123.5" cy="224.9" r="2.9"/>
<circle cx="129.4" cy="233.2" r="2.9"/>
<circle cx="94.0" cy="237.3" r="2.9"/>
<circle cx="133.4" cy="243.5" r="2.9"/>
<circle cx="82.2" cy="249.8" r="2.9"/>
<circle cx="122.5" cy="253.9" r="2.9"/>
<circle cx="98.9" cy="243.5" r="2.9"/>
<circle cx="139.3" cy="264.2" r="2.9"/>
<circle cx="80.2" cy="270.5" r="2.9"/>
<circle cx="151.1" cy="305.6" r="2.9"/>
<circle cx="149.1" cy="322.2" r="2.9"/>
<circle cx="157.0" cy="324.3" r="2.9"/>
<circle cx="66.4" cy="330.5" r="2.9"/>
<circle cx="78.2" cy="318.1" r="2.9"/>
<circle cx="80.2" cy="303.6" r="2.9"/>
<circle cx="143.2" cy="340.8" r="2.9"/>
<circle cx="74.3" cy="345.0" r="2.9"/>
<circle cx="135.3" cy="353.3" r="2.9"/>
<circle cx="90.0" cy="351.2" r="2.9"/>
<circle cx="95.9" cy="222.8" r="2.9"/>
<circle cx="101.9" cy="227.0" r="2.9"/>
<circle cx="103.8" cy="214.6" r="2.9"/>
<circle cx="117.6" cy="218.7" r="2.9"/>
</g>
<line x1="111.7" y1="193.8" x2="111.7" y2="364.0" stroke="#555" stroke-width="1.2" stroke-dasharray="11,12.1" stroke-dashoffset="0"/>
<line x1="23.2" y1="336.4" x2="195.0" y2="336.4" stroke="#555" stroke-width="1.1" stroke-dasharray="11.3,11.55" stroke-dashoffset="0"/>
<line x1="70.4" y1="233.0" x2="75.0" y2="235.0" stroke="#222" stroke-width="0.6"/>
<line x1="87.0" y1="231.0" x2="94.0" y2="245.0" stroke="#222" stroke-width="0.6"/>
<line x1="77.0" y1="249.0" x2="84.0" y2="253.0" stroke="#222" stroke-width="0.6"/>
<line x1="77.5" y1="261.0" x2="83.0" y2="265.0" stroke="#222" stroke-width="0.6"/>
<line x1="65.0" y1="271.0" x2="71.0" y2="277.0" stroke="#222" stroke-width="0.6"/>
<line x1="66.0" y1="278.0" x2="81.0" y2="287.0" stroke="#222" stroke-width="0.6"/>
<line x1="69.0" y1="284.0" x2="80.0" y2="296.0" stroke="#222" stroke-width="0.6"/>
<line x1="47.0" y1="287.0" x2="47.5" y2="289.0" stroke="#222" stroke-width="0.6"/>
<line x1="68.0" y1="291.0" x2="76.0" y2="296.0" stroke="#222" stroke-width="0.6"/>
<line x1="64.5" y1="303.0" x2="88.0" y2="297.0" stroke="#222" stroke-width="0.6"/>
<line x1="68.0" y1="309.0" x2="72.0" y2="308.0" stroke="#222" stroke-width="0.6"/>
<line x1="59.0" y1="317.0" x2="72.0" y2="310.0" stroke="#222" stroke-width="0.6"/>
<line x1="73.0" y1="319.0" x2="73.7" y2="312.0" stroke="#222" stroke-width="0.6"/>
<line x1="54.0" y1="337.0" x2="59.0" y2="331.0" stroke="#222" stroke-width="0.6"/>
<line x1="80.0" y1="332.0" x2="90.0" y2="326.0" stroke="#222" stroke-width="0.6"/>
<line x1="84.0" y1="340.0" x2="91.0" y2="327.0" stroke="#222" stroke-width="0.6"/>
<line x1="132.0" y1="248.0" x2="125.0" y2="260.0" stroke="#222" stroke-width="0.6"/>
<line x1="152.0" y1="249.0" x2="140.0" y2="253.0" stroke="#222" stroke-width="0.6"/>
<line x1="140.5" y1="259.5" x2="139.0" y2="262.0" stroke="#222" stroke-width="0.6"/>
<line x1="161.0" y1="262.5" x2="140.0" y2="264.0" stroke="#222" stroke-width="0.6"/>
<line x1="143.0" y1="269.0" x2="133.0" y2="279.0" stroke="#222" stroke-width="0.6"/>
<line x1="147.0" y1="275.0" x2="134.0" y2="281.0" stroke="#222" stroke-width="0.6"/>
<line x1="164.0" y1="280.5" x2="153.0" y2="280.6" stroke="#222" stroke-width="0.6"/>
<line x1="141.0" y1="289.0" x2="128.0" y2="291.0" stroke="#222" stroke-width="0.6"/>
<line x1="154.0" y1="293.0" x2="142.0" y2="294.0" stroke="#222" stroke-width="0.6"/>
<line x1="172.0" y1="295.0" x2="143.0" y2="295.0" stroke="#222" stroke-width="0.6"/>
<line x1="144.0" y1="298.5" x2="124.0" y2="298.0" stroke="#222" stroke-width="0.6"/>
<line x1="149.0" y1="305.0" x2="137.0" y2="301.0" stroke="#222" stroke-width="0.6"/>
<line x1="161.0" y1="311.0" x2="138.0" y2="307.0" stroke="#222" stroke-width="0.6"/>
<line x1="147.0" y1="316.5" x2="133.0" y2="314.0" stroke="#222" stroke-width="0.6"/>
<line x1="162.0" y1="325.0" x2="133.0" y2="316.0" stroke="#222" stroke-width="0.6"/>
<line x1="144.0" y1="332.0" x2="134.0" y2="325.0" stroke="#222" stroke-width="0.6"/>
<line x1="144.0" y1="341.0" x2="134.0" y2="331.0" stroke="#222" stroke-width="0.6"/>
<line x1="125.0" y1="346.0" x2="116.0" y2="330.0" stroke="#222" stroke-width="0.6"/>
<circle cx="78.1" cy="237.2" r="3.7" fill="#858585" stroke="#7a7a7a" stroke-width="0.5"/>
<circle cx="95.9" cy="248.9" r="3.7" fill="#858585" stroke="#7a7a7a" stroke-width="0.5"/>
<circle cx="87.2" cy="255.0" r="3.7" fill="#858585" stroke="#7a7a7a" stroke-width="0.5"/>
<circle cx="85.7" cy="267.0" r="3.7" fill="#858585" stroke="#7a7a7a" stroke-width="0.5"/>
<circle cx="72.6" cy="279.1" r="3.7" fill="#858585" stroke="#7a7a7a" stroke-width="0.5"/>
<circle cx="84.2" cy="286.4" r="3.7" fill="#858585" stroke="#7a7a7a" stroke-width="0.5"/>
<circle cx="82.0" cy="287.5" r="3.7" fill="#858585" stroke="#7a7a7a" stroke-width="0.5"/>
<circle cx="48.0" cy="292.7" r="3.7" fill="#858585" stroke="#7a7a7a" stroke-width="0.5"/>
<circle cx="69.6" cy="295.8" r="3.7" fill="#858585" stroke="#7a7a7a" stroke-width="0.5"/>
<circle cx="76.2" cy="297.2" r="3.7" fill="#858585" stroke="#7a7a7a" stroke-width="0.5"/>
<circle cx="79.1" cy="297.2" r="3.7" fill="#858585" stroke="#7a7a7a" stroke-width="0.5"/>
<circle cx="91.2" cy="295.8" r="3.7" fill="#858585" stroke="#7a7a7a" stroke-width="0.5"/>
<circle cx="73.7" cy="305.5" r="3.7" fill="#858585" stroke="#7a7a7a" stroke-width="0.5"/>
<circle cx="73.7" cy="309.0" r="3.7" fill="#858585" stroke="#7a7a7a" stroke-width="0.5"/>
<circle cx="59.4" cy="327.9" r="3.7" fill="#858585" stroke="#7a7a7a" stroke-width="0.5"/>
<circle cx="92.3" cy="324.5" r="3.7" fill="#858585" stroke="#7a7a7a" stroke-width="0.5"/>
<circle cx="91.0" cy="322.0" r="3.7" fill="#858585" stroke="#7a7a7a" stroke-width="0.5"/>
<circle cx="137.1" cy="253.9" r="3.7" fill="#858585" stroke="#7a7a7a" stroke-width="0.5"/>
<circle cx="127.6" cy="259.7" r="3.7" fill="#858585" stroke="#7a7a7a" stroke-width="0.5"/>
<circle cx="124.7" cy="263.8" r="3.7" fill="#858585" stroke="#7a7a7a" stroke-width="0.5"/>
<circle cx="137.4" cy="263.5" r="3.7" fill="#858585" stroke="#7a7a7a" stroke-width="0.5"/>
<circle cx="131.0" cy="281.0" r="3.7" fill="#858585" stroke="#7a7a7a" stroke-width="0.5"/>
<circle cx="149.5" cy="280.6" r="3.7" fill="#858585" stroke="#7a7a7a" stroke-width="0.5"/>
<circle cx="126.2" cy="292.3" r="3.7" fill="#858585" stroke="#7a7a7a" stroke-width="0.5"/>
<circle cx="136.4" cy="293.3" r="3.7" fill="#858585" stroke="#7a7a7a" stroke-width="0.5"/>
<circle cx="140.8" cy="294.5" r="3.7" fill="#858585" stroke="#7a7a7a" stroke-width="0.5"/>
<circle cx="121.4" cy="295.9" r="3.7" fill="#858585" stroke="#7a7a7a" stroke-width="0.5"/>
<circle cx="133.5" cy="300.4" r="3.7" fill="#858585" stroke="#7a7a7a" stroke-width="0.5"/>
<circle cx="135.4" cy="307.0" r="3.7" fill="#858585" stroke="#7a7a7a" stroke-width="0.5"/>
<circle cx="130.1" cy="313.6" r="3.7" fill="#858585" stroke="#7a7a7a" stroke-width="0.5"/>
<circle cx="132.0" cy="323.0" r="3.7" fill="#858585" stroke="#7a7a7a" stroke-width="0.5"/>
<circle cx="132.0" cy="329.6" r="3.7" fill="#858585" stroke="#7a7a7a" stroke-width="0.5"/>
<circle cx="114.9" cy="327.0" r="3.7" fill="#858585" stroke="#7a7a7a" stroke-width="0.5"/>
<text transform="translate(70.40,233.41) scale(1,1.04)" font-size="6.7" text-anchor="end" fill="#1a1a1a" stroke="#1a1a1a" stroke-width="0.18">ANLN</text>
<text transform="translate(78.10,228.61) scale(1,1.04)" font-size="6.7" fill="#1a1a1a" stroke="#1a1a1a" stroke-width="0.18">POLR1A</text>
<text transform="translate(76.90,249.01) scale(1,1.04)" font-size="6.7" text-anchor="end" fill="#1a1a1a" stroke="#1a1a1a" stroke-width="0.18">GLS</text>
<text transform="translate(77.70,261.41) scale(1,1.04)" font-size="6.7" text-anchor="end" fill="#1a1a1a" stroke="#1a1a1a" stroke-width="0.18">KIF11</text>
<text transform="translate(67.00,270.21) scale(1,1.04)" font-size="6.7" text-anchor="end" fill="#1a1a1a" stroke="#1a1a1a" stroke-width="0.18">PLK1</text>
<text transform="translate(75.50,279.71) scale(1,1.04)" font-size="6.7" fill="#1a1a1a" stroke="#1a1a1a" stroke-width="0.18">TPX2</text>
<text transform="translate(66.00,277.81) scale(1,1.04)" font-size="6.7" text-anchor="end" fill="#1a1a1a" stroke="#1a1a1a" stroke-width="0.18">CIT</text>
<text transform="translate(69.60,284.51) scale(1,1.04)" font-size="6.7" text-anchor="end" fill="#1a1a1a" stroke="#1a1a1a" stroke-width="0.18">UBE2S</text>
<text transform="translate(46.30,286.21) scale(1,1.04)" font-size="6.7" text-anchor="end" fill="#1a1a1a" stroke="#1a1a1a" stroke-width="0.18">UHRF1</text>
<text transform="translate(69.60,290.41) scale(1,1.04)" font-size="6.7" text-anchor="end" fill="#1a1a1a" stroke="#1a1a1a" stroke-width="0.18">RRM2</text>
<text transform="translate(64.50,303.91) scale(1,1.04)" font-size="6.7" text-anchor="end" fill="#1a1a1a" stroke="#1a1a1a" stroke-width="0.18">AURKB</text>
<text transform="translate(68.20,309.41) scale(1,1.04)" font-size="6.7" text-anchor="end" fill="#1a1a1a" stroke="#1a1a1a" stroke-width="0.18">INCENP</text>
<text transform="translate(59.40,317.51) scale(1,1.04)" font-size="6.7" text-anchor="end" fill="#1a1a1a" stroke="#1a1a1a" stroke-width="0.18">KIF22</text>
<text transform="translate(73.30,323.91) scale(1,1.04)" font-size="6.7" text-anchor="end" fill="#1a1a1a" stroke="#1a1a1a" stroke-width="0.18">CCNB1</text>
<text transform="translate(53.90,342.61) scale(1,1.04)" font-size="6.7" text-anchor="end" fill="#1a1a1a" stroke="#1a1a1a" stroke-width="0.18">KIF20B</text>
<text transform="translate(80.60,333.81) scale(1,1.04)" font-size="6.7" text-anchor="end" fill="#1a1a1a" stroke="#1a1a1a" stroke-width="0.18">NEK9</text>
<text transform="translate(84.00,344.81) scale(1,1.04)" font-size="6.7" text-anchor="end" fill="#1a1a1a" stroke="#1a1a1a" stroke-width="0.18">REEP3</text>
<text transform="translate(126.90,246.51) scale(1,1.04)" font-size="6.7" fill="#1a1a1a" stroke="#1a1a1a" stroke-width="0.18">NFKB2</text>
<text transform="translate(152.00,249.41) scale(1,1.04)" font-size="6.7" fill="#1a1a1a" stroke="#1a1a1a" stroke-width="0.18">LRP1</text>
<text transform="translate(140.80,260.21) scale(1,1.04)" font-size="6.7" fill="#1a1a1a" stroke="#1a1a1a" stroke-width="0.18">NBR1</text>
<text transform="translate(161.60,262.91) scale(1,1.04)" font-size="6.7" fill="#1a1a1a" stroke="#1a1a1a" stroke-width="0.18">LOXL2</text>
<text transform="translate(142.20,269.41) scale(1,1.04)" font-size="6.7" fill="#1a1a1a" stroke="#1a1a1a" stroke-width="0.18">IFIT1</text>
<text transform="translate(147.00,275.31) scale(1,1.04)" font-size="6.7" fill="#1a1a1a" stroke="#1a1a1a" stroke-width="0.18">ACSF2</text>
<text transform="translate(164.60,281.91) scale(1,1.04)" font-size="6.7" fill="#1a1a1a" stroke="#1a1a1a" stroke-width="0.18">CNTNAP1</text>
<text transform="translate(140.80,289.41) scale(1,1.04)" font-size="6.7" fill="#1a1a1a" stroke="#1a1a1a" stroke-width="0.18">SYVN1</text>
<text transform="translate(153.90,294.01) scale(1,1.04)" font-size="6.7" fill="#1a1a1a" stroke="#1a1a1a" stroke-width="0.18">OASL</text>
<text transform="translate(172.90,296.71) scale(1,1.04)" font-size="6.7" fill="#1a1a1a" stroke="#1a1a1a" stroke-width="0.18">AGRN</text>
<text transform="translate(144.40,300.21) scale(1,1.04)" font-size="6.7" fill="#1a1a1a" stroke="#1a1a1a" stroke-width="0.18">SAMHD1</text>
<text transform="translate(148.80,306.01) scale(1,1.04)" font-size="6.7" fill="#1a1a1a" stroke="#1a1a1a" stroke-width="0.18">LLGL1</text>
<text transform="translate(160.80,311.91) scale(1,1.04)" font-size="6.7" fill="#1a1a1a" stroke="#1a1a1a" stroke-width="0.18">CEBPB</text>
<text transform="translate(147.00,317.81) scale(1,1.04)" font-size="6.7" fill="#1a1a1a" stroke="#1a1a1a" stroke-width="0.18">SNCA</text>
<text transform="translate(162.20,326.11) scale(1,1.04)" font-size="6.7" fill="#1a1a1a" stroke="#1a1a1a" stroke-width="0.18">IFIT2</text>
<text transform="translate(143.70,333.81) scale(1,1.04)" font-size="6.7" fill="#1a1a1a" stroke="#1a1a1a" stroke-width="0.18">IL1A</text>
<text transform="translate(143.70,342.31) scale(1,1.04)" font-size="6.7" fill="#1a1a1a" stroke="#1a1a1a" stroke-width="0.18">POU2F1</text>
<text transform="translate(122.80,348.41) scale(1,1.04)" font-size="6.7" fill="#1a1a1a" stroke="#1a1a1a" stroke-width="0.18">SQSTM1</text>
<line x1="23.6" y1="188.6" x2="23.6" y2="365.2" stroke="#111" stroke-width="1.3"/>
<line x1="23.0" y1="364.6" x2="193.0" y2="364.6" stroke="#111" stroke-width="1.3"/>
<line x1="21.0" y1="191.8" x2="23.6" y2="191.8" stroke="#111" stroke-width="0.8"/>
<text transform="translate(19.20,194.32) scale(1,1.04)" font-size="8.4" text-anchor="end" fill="#1a1a1a" stroke="#1a1a1a" stroke-width="0.30">8</text>
<line x1="21.0" y1="233.2" x2="23.6" y2="233.2" stroke="#111" stroke-width="0.8"/>
<text transform="translate(19.20,235.72) scale(1,1.04)" font-size="8.4" text-anchor="end" fill="#1a1a1a" stroke="#1a1a1a" stroke-width="0.30">6</text>
<line x1="21.0" y1="274.6" x2="23.6" y2="274.6" stroke="#111" stroke-width="0.8"/>
<text transform="translate(19.20,277.12) scale(1,1.04)" font-size="8.4" text-anchor="end" fill="#1a1a1a" stroke="#1a1a1a" stroke-width="0.30">4</text>
<line x1="21.0" y1="316.0" x2="23.6" y2="316.0" stroke="#111" stroke-width="0.8"/>
<text transform="translate(19.20,318.52) scale(1,1.04)" font-size="8.4" text-anchor="end" fill="#1a1a1a" stroke="#1a1a1a" stroke-width="0.30">2</text>
<line x1="21.0" y1="357.4" x2="23.6" y2="357.4" stroke="#111" stroke-width="0.8"/>
<text transform="translate(19.20,359.92) scale(1,1.04)" font-size="8.4" text-anchor="end" fill="#1a1a1a" stroke="#1a1a1a" stroke-width="0.30">0</text>
<line x1="32.9" y1="364.6" x2="32.9" y2="367.2" stroke="#111" stroke-width="0.8"/>
<text transform="translate(32.90,374.72) scale(1,1.04)" font-size="8.4" text-anchor="middle" fill="#1a1a1a" stroke="#1a1a1a" stroke-width="0.30">−4</text>
<line x1="72.3" y1="364.6" x2="72.3" y2="367.2" stroke="#111" stroke-width="0.8"/>
<text transform="translate(72.30,374.72) scale(1,1.04)" font-size="8.4" text-anchor="middle" fill="#1a1a1a" stroke="#1a1a1a" stroke-width="0.30">−2</text>
<line x1="111.7" y1="364.6" x2="111.7" y2="367.2" stroke="#111" stroke-width="0.8"/>
<text transform="translate(111.70,374.72) scale(1,1.04)" font-size="8.4" text-anchor="middle" fill="#1a1a1a" stroke="#1a1a1a" stroke-width="0.30">0</text>
<line x1="151.1" y1="364.6" x2="151.1" y2="367.2" stroke="#111" stroke-width="0.8"/>
<text transform="translate(151.10,374.72) scale(1,1.04)" font-size="8.4" text-anchor="middle" fill="#1a1a1a" stroke="#1a1a1a" stroke-width="0.30">2</text>
<line x1="190.5" y1="364.6" x2="190.5" y2="367.2" stroke="#111" stroke-width="0.8"/>
<text transform="translate(190.50,374.72) scale(1,1.04)" font-size="8.4" text-anchor="middle" fill="#1a1a1a" stroke="#1a1a1a" stroke-width="0.30">4</text>
<text transform="translate(112.0,385.0) scale(1,1.04)" font-size="9.3" text-anchor="middle" fill="#1a1a1a" stroke="#1a1a1a" stroke-width="0.3">Log<tspan font-size="5.8" dy="2.0">2</tspan><tspan dy="-2.0"> Fold change (48/0 h)</tspan></text>
<text transform="translate(8.2,274.2) rotate(-90) scale(1,1.04)" font-size="9.3" text-anchor="middle" fill="#1a1a1a" stroke="#1a1a1a" stroke-width="0.3">−Log<tspan font-size="5.8" dy="2.0">10</tspan><tspan dy="-2.0">(P−value)</tspan></text>
<text transform="translate(228.80,164.90) scale(1,1.04)" font-size="14.5" font-weight="bold" fill="#000">d</text>
<text transform="translate(345.40,172.29) scale(1,1.04)" font-size="9.3" text-anchor="middle" fill="#1a1a1a" stroke="#1a1a1a" stroke-width="0.30">Proteins-Phosphorylated, 48 hpi</text>
<circle cx="378.0" cy="180.6" r="3.2" fill="#a98bca"/>
<text transform="translate(382.40,182.61) scale(1,1.04)" font-size="6.7" fill="#1a1a1a" stroke="#1a1a1a" stroke-width="0.18">selected significant hits</text>
<circle cx="378.0" cy="190.4" r="3.2" fill="#cccccc"/>
<text transform="translate(382.40,192.61) scale(1,1.04)" font-size="6.7" fill="#1a1a1a" stroke="#1a1a1a" stroke-width="0.18">unselected hits</text>
<g fill="#8c8c8c" fill-opacity="0.32">
<circle cx="328.7" cy="238.7" r="3.2"/>
<circle cx="335.8" cy="253.9" r="3.2"/>
<circle cx="354.3" cy="264.8" r="3.2"/>
<circle cx="332.4" cy="248.0" r="3.2"/>
<circle cx="330.7" cy="263.2" r="3.2"/>
<circle cx="334.8" cy="229.8" r="3.2"/>
<circle cx="330.8" cy="242.3" r="3.2"/>
<circle cx="325.4" cy="263.9" r="3.2"/>
<circle cx="360.5" cy="263.5" r="3.2"/>
<circle cx="335.9" cy="256.6" r="3.2"/>
<circle cx="361.6" cy="259.1" r="3.2"/>
<circle cx="323.2" cy="251.8" r="3.2"/>
<circle cx="320.2" cy="257.9" r="3.2"/>
<circle cx="365.8" cy="254.2" r="3.2"/>
<circle cx="333.3" cy="235.0" r="3.2"/>
<circle cx="328.5" cy="263.3" r="3.2"/>
<circle cx="339.0" cy="261.0" r="3.2"/>
<circle cx="363.3" cy="264.3" r="3.2"/>
<circle cx="336.9" cy="235.9" r="3.2"/>
<circle cx="365.5" cy="256.9" r="3.2"/>
<circle cx="329.3" cy="262.4" r="3.2"/>
<circle cx="335.7" cy="244.0" r="3.2"/>
<circle cx="335.8" cy="246.9" r="3.2"/>
<circle cx="343.8" cy="264.4" r="3.2"/>
<circle cx="355.0" cy="250.0" r="3.2"/>
<circle cx="328.3" cy="257.0" r="3.2"/>
<circle cx="331.4" cy="254.7" r="3.2"/>
<circle cx="336.8" cy="263.8" r="3.2"/>
<circle cx="336.1" cy="253.7" r="3.2"/>
<circle cx="321.0" cy="259.5" r="3.2"/>
<circle cx="337.3" cy="254.0" r="3.2"/>
<circle cx="330.7" cy="252.3" r="3.2"/>
<circle cx="325.7" cy="232.9" r="3.2"/>
<circle cx="353.2" cy="258.6" r="3.2"/>
<circle cx="359.8" cy="256.4" r="3.2"/>
<circle cx="337.0" cy="261.3" r="3.2"/>
<circle cx="350.7" cy="253.1" r="3.2"/>
<circle cx="318.4" cy="247.5" r="3.2"/>
<circle cx="339.9" cy="257.3" r="3.2"/>
<circle cx="353.1" cy="253.1" r="3.2"/>
<circle cx="368.6" cy="260.9" r="3.2"/>
<circle cx="359.5" cy="238.7" r="3.2"/>
<circle cx="355.0" cy="258.5" r="3.2"/>
<circle cx="358.5" cy="250.4" r="3.2"/>
<circle cx="336.6" cy="246.4" r="3.2"/>
<circle cx="349.1" cy="250.5" r="3.2"/>
<circle cx="355.4" cy="261.6" r="3.2"/>
<circle cx="317.4" cy="260.3" r="3.2"/>
<circle cx="341.4" cy="263.4" r="3.2"/>
<circle cx="322.5" cy="259.1" r="3.2"/>
<circle cx="337.8" cy="236.0" r="3.2"/>
<circle cx="323.8" cy="237.9" r="3.2"/>
<circle cx="325.7" cy="258.1" r="3.2"/>
<circle cx="317.3" cy="246.9" r="3.2"/>
<circle cx="337.8" cy="255.6" r="3.2"/>
<circle cx="328.9" cy="252.7" r="3.2"/>
<circle cx="329.2" cy="259.9" r="3.2"/>
<circle cx="336.7" cy="245.1" r="3.2"/>
<circle cx="361.6" cy="251.5" r="3.2"/>
<circle cx="319.8" cy="247.1" r="3.2"/>
<circle cx="328.3" cy="255.4" r="3.2"/>
<circle cx="357.4" cy="250.4" r="3.2"/>
<circle cx="350.1" cy="208.4" r="3.2"/>
<circle cx="350.3" cy="255.5" r="3.2"/>
<circle cx="331.7" cy="260.9" r="3.2"/>
<circle cx="325.6" cy="230.2" r="3.2"/>
<circle cx="327.3" cy="256.3" r="3.2"/>
<circle cx="338.4" cy="263.4" r="3.2"/>
<circle cx="323.8" cy="242.1" r="3.2"/>
<circle cx="335.0" cy="253.7" r="3.2"/>
<circle cx="316.9" cy="261.1" r="3.2"/>
<circle cx="331.8" cy="264.1" r="3.2"/>
<circle cx="360.1" cy="261.6" r="3.2"/>
<circle cx="326.4" cy="245.9" r="3.2"/>
<circle cx="354.9" cy="263.1" r="3.2"/>
<circle cx="323.0" cy="264.5" r="3.2"/>
<circle cx="362.5" cy="263.4" r="3.2"/>
<circle cx="311.9" cy="249.2" r="3.2"/>
<circle cx="324.9" cy="260.3" r="3.2"/>
<circle cx="360.2" cy="254.0" r="3.2"/>
<circle cx="353.3" cy="256.4" r="3.2"/>
<circle cx="331.3" cy="249.3" r="3.2"/>
<circle cx="323.7" cy="262.5" r="3.2"/>
<circle cx="345.8" cy="246.9" r="3.2"/>
<circle cx="350.9" cy="260.9" r="3.2"/>
<circle cx="366.2" cy="256.1" r="3.2"/>
<circle cx="356.5" cy="255.2" r="3.2"/>
<circle cx="357.3" cy="257.4" r="3.2"/>
<circle cx="353.1" cy="240.9" r="3.2"/>
<circle cx="333.0" cy="254.7" r="3.2"/>
<circle cx="325.7" cy="240.7" r="3.2"/>
<circle cx="353.1" cy="239.3" r="3.2"/>
<circle cx="337.0" cy="254.2" r="3.2"/>
<circle cx="362.4" cy="257.8" r="3.2"/>
<circle cx="360.6" cy="264.7" r="3.2"/>
<circle cx="335.2" cy="258.0" r="3.2"/>
<circle cx="325.3" cy="260.1" r="3.2"/>
<circle cx="319.6" cy="249.3" r="3.2"/>
<circle cx="332.7" cy="247.7" r="3.2"/>
<circle cx="319.4" cy="259.4" r="3.2"/>
<circle cx="359.6" cy="248.9" r="3.2"/>
<circle cx="354.2" cy="259.8" r="3.2"/>
<circle cx="363.7" cy="261.9" r="3.2"/>
<circle cx="362.5" cy="252.7" r="3.2"/>
<circle cx="325.1" cy="265.2" r="3.2"/>
<circle cx="324.6" cy="261.7" r="3.2"/>
<circle cx="348.8" cy="242.4" r="3.2"/>
<circle cx="331.0" cy="232.3" r="3.2"/>
<circle cx="331.2" cy="256.8" r="3.2"/>
<circle cx="320.8" cy="247.2" r="3.2"/>
<circle cx="327.9" cy="252.2" r="3.2"/>
<circle cx="320.8" cy="256.8" r="3.2"/>
<circle cx="326.0" cy="254.4" r="3.2"/>
<circle cx="352.8" cy="240.8" r="3.2"/>
<circle cx="339.5" cy="251.0" r="3.2"/>
<circle cx="338.5" cy="261.4" r="3.2"/>
<circle cx="338.6" cy="260.6" r="3.2"/>
<circle cx="338.7" cy="248.2" r="3.2"/>
<circle cx="325.6" cy="239.2" r="3.2"/>
<circle cx="329.5" cy="254.9" r="3.2"/>
<circle cx="330.4" cy="264.5" r="3.2"/>
<circle cx="329.5" cy="261.7" r="3.2"/>
<circle cx="324.1" cy="244.8" r="3.2"/>
<circle cx="337.0" cy="248.7" r="3.2"/>
<circle cx="357.6" cy="261.6" r="3.2"/>
<circle cx="322.3" cy="247.9" r="3.2"/>
<circle cx="319.4" cy="236.9" r="3.2"/>
<circle cx="339.2" cy="262.0" r="3.2"/>
<circle cx="331.5" cy="254.6" r="3.2"/>
<circle cx="363.4" cy="258.9" r="3.2"/>
<circle cx="355.9" cy="259.2" r="3.2"/>
<circle cx="351.7" cy="260.8" r="3.2"/>
<circle cx="332.4" cy="225.4" r="3.2"/>
<circle cx="330.0" cy="264.0" r="3.2"/>
<circle cx="321.0" cy="238.1" r="3.2"/>
<circle cx="356.9" cy="243.1" r="3.2"/>
<circle cx="330.9" cy="246.5" r="3.2"/>
<circle cx="339.7" cy="265.4" r="3.2"/>
<circle cx="314.1" cy="265.4" r="3.2"/>
<circle cx="320.3" cy="227.0" r="3.2"/>
<circle cx="318.9" cy="249.8" r="3.2"/>
<circle cx="314.4" cy="262.4" r="3.2"/>
<circle cx="334.6" cy="251.8" r="3.2"/>
<circle cx="336.3" cy="239.1" r="3.2"/>
<circle cx="323.4" cy="255.4" r="3.2"/>
<circle cx="358.0" cy="260.2" r="3.2"/>
<circle cx="367.8" cy="259.0" r="3.2"/>
<circle cx="337.9" cy="247.8" r="3.2"/>
<circle cx="360.9" cy="260.0" r="3.2"/>
<circle cx="329.2" cy="246.5" r="3.2"/>
<circle cx="325.9" cy="253.0" r="3.2"/>
<circle cx="361.0" cy="256.4" r="3.2"/>
<circle cx="357.3" cy="253.3" r="3.2"/>
<circle cx="353.2" cy="247.8" r="3.2"/>
<circle cx="334.8" cy="234.6" r="3.2"/>
<circle cx="321.3" cy="251.8" r="3.2"/>
<circle cx="331.8" cy="261.3" r="3.2"/>
<circle cx="352.9" cy="244.1" r="3.2"/>
<circle cx="340.1" cy="250.8" r="3.2"/>
<circle cx="349.7" cy="245.5" r="3.2"/>
<circle cx="326.4" cy="239.6" r="3.2"/>
<circle cx="354.3" cy="250.8" r="3.2"/>
<circle cx="350.9" cy="257.4" r="3.2"/>
<circle cx="315.8" cy="244.4" r="3.2"/>
<circle cx="366.6" cy="254.0" r="3.2"/>
<circle cx="334.8" cy="262.6" r="3.2"/>
<circle cx="342.0" cy="250.2" r="3.2"/>
<circle cx="338.4" cy="254.6" r="3.2"/>
<circle cx="320.7" cy="243.9" r="3.2"/>
<circle cx="323.6" cy="247.4" r="3.2"/>
<circle cx="365.0" cy="250.5" r="3.2"/>
<circle cx="307.8" cy="257.6" r="3.2"/>
<circle cx="358.8" cy="263.9" r="3.2"/>
<circle cx="333.4" cy="263.8" r="3.2"/>
<circle cx="328.2" cy="247.8" r="3.2"/>
<circle cx="354.2" cy="251.0" r="3.2"/>
<circle cx="351.8" cy="257.1" r="3.2"/>
<circle cx="337.7" cy="244.5" r="3.2"/>
<circle cx="343.0" cy="265.0" r="3.2"/>
<circle cx="332.5" cy="238.5" r="3.2"/>
<circle cx="358.3" cy="256.0" r="3.2"/>
<circle cx="325.6" cy="241.4" r="3.2"/>
<circle cx="327.1" cy="260.4" r="3.2"/>
<circle cx="319.2" cy="260.4" r="3.2"/>
<circle cx="351.2" cy="257.3" r="3.2"/>
<circle cx="332.0" cy="262.2" r="3.2"/>
<circle cx="349.4" cy="259.7" r="3.2"/>
<circle cx="354.1" cy="262.1" r="3.2"/>
<circle cx="357.2" cy="249.3" r="3.2"/>
<circle cx="361.8" cy="229.2" r="3.2"/>
<circle cx="335.2" cy="259.9" r="3.2"/>
<circle cx="357.8" cy="233.5" r="3.2"/>
<circle cx="360.9" cy="255.7" r="3.2"/>
<circle cx="327.9" cy="261.3" r="3.2"/>
<circle cx="312.2" cy="254.0" r="3.2"/>
<circle cx="336.9" cy="264.9" r="3.2"/>
<circle cx="360.4" cy="250.0" r="3.2"/>
<circle cx="366.2" cy="259.1" r="3.2"/>
<circle cx="351.6" cy="235.3" r="3.2"/>
<circle cx="328.7" cy="259.2" r="3.2"/>
<circle cx="357.0" cy="261.8" r="3.2"/>
<circle cx="359.2" cy="248.6" r="3.2"/>
<circle cx="333.7" cy="258.6" r="3.2"/>
<circle cx="352.3" cy="262.3" r="3.2"/>
<circle cx="323.9" cy="257.5" r="3.2"/>
<circle cx="339.1" cy="241.6" r="3.2"/>
<circle cx="312.3" cy="255.9" r="3.2"/>
<circle cx="365.7" cy="261.2" r="3.2"/>
<circle cx="333.7" cy="224.9" r="3.2"/>
<circle cx="369.7" cy="251.0" r="3.2"/>
<circle cx="350.1" cy="262.9" r="3.2"/>
<circle cx="317.6" cy="252.9" r="3.2"/>
<circle cx="359.4" cy="238.4" r="3.2"/>
<circle cx="325.2" cy="248.3" r="3.2"/>
<circle cx="361.8" cy="241.4" r="3.2"/>
<circle cx="328.0" cy="244.7" r="3.2"/>
<circle cx="337.5" cy="261.1" r="3.2"/>
<circle cx="337.7" cy="244.5" r="3.2"/>
<circle cx="336.8" cy="248.8" r="3.2"/>
<circle cx="323.5" cy="261.9" r="3.2"/>
<circle cx="328.2" cy="236.9" r="3.2"/>
<circle cx="354.5" cy="235.1" r="3.2"/>
<circle cx="318.7" cy="260.8" r="3.2"/>
<circle cx="352.2" cy="257.8" r="3.2"/>
<circle cx="336.4" cy="249.9" r="3.2"/>
<circle cx="329.7" cy="236.6" r="3.2"/>
<circle cx="361.6" cy="262.3" r="3.2"/>
<circle cx="325.2" cy="258.8" r="3.2"/>
<circle cx="331.8" cy="262.1" r="3.2"/>
<circle cx="357.1" cy="256.0" r="3.2"/>
<circle cx="362.2" cy="256.7" r="3.2"/>
<circle cx="353.0" cy="260.5" r="3.2"/>
<circle cx="350.1" cy="245.9" r="3.2"/>
<circle cx="329.2" cy="259.1" r="3.2"/>
<circle cx="358.3" cy="253.2" r="3.2"/>
<circle cx="360.0" cy="250.1" r="3.2"/>
<circle cx="328.7" cy="242.0" r="3.2"/>
<circle cx="334.9" cy="248.4" r="3.2"/>
<circle cx="318.4" cy="234.2" r="3.2"/>
<circle cx="335.6" cy="244.3" r="3.2"/>
<circle cx="331.6" cy="257.6" r="3.2"/>
<circle cx="336.1" cy="232.9" r="3.2"/>
<circle cx="357.9" cy="259.6" r="3.2"/>
<circle cx="350.4" cy="244.9" r="3.2"/>
<circle cx="340.2" cy="251.7" r="3.2"/>
<circle cx="331.2" cy="262.8" r="3.2"/>
<circle cx="324.0" cy="251.7" r="3.2"/>
<circle cx="332.4" cy="242.0" r="3.2"/>
<circle cx="361.4" cy="261.7" r="3.2"/>
<circle cx="330.7" cy="263.7" r="3.2"/>
<circle cx="333.4" cy="258.2" r="3.2"/>
<circle cx="314.8" cy="255.2" r="3.2"/>
<circle cx="354.4" cy="260.4" r="3.2"/>
<circle cx="331.3" cy="238.8" r="3.2"/>
<circle cx="324.1" cy="255.3" r="3.2"/>
<circle cx="321.4" cy="264.3" r="3.2"/>
<circle cx="363.8" cy="254.6" r="3.2"/>
<circle cx="316.2" cy="244.3" r="3.2"/>
<circle cx="325.3" cy="250.4" r="3.2"/>
<circle cx="357.8" cy="259.3" r="3.2"/>
<circle cx="317.0" cy="243.1" r="3.2"/>
<circle cx="358.8" cy="252.1" r="3.2"/>
<circle cx="335.8" cy="252.2" r="3.2"/>
<circle cx="372.1" cy="229.9" r="3.2"/>
<circle cx="338.7" cy="261.2" r="3.2"/>
<circle cx="355.1" cy="241.8" r="3.2"/>
<circle cx="308.1" cy="232.0" r="3.2"/>
<circle cx="320.7" cy="236.0" r="3.2"/>
<circle cx="326.0" cy="256.0" r="3.2"/>
<circle cx="328.2" cy="262.8" r="3.2"/>
<circle cx="321.5" cy="264.6" r="3.2"/>
<circle cx="356.5" cy="261.9" r="3.2"/>
<circle cx="324.8" cy="252.7" r="3.2"/>
<circle cx="358.1" cy="242.2" r="3.2"/>
<circle cx="356.7" cy="260.2" r="3.2"/>
<circle cx="336.0" cy="265.0" r="3.2"/>
<circle cx="319.8" cy="238.9" r="3.2"/>
<circle cx="359.8" cy="261.7" r="3.2"/>
<circle cx="337.5" cy="252.6" r="3.2"/>
<circle cx="325.2" cy="241.0" r="3.2"/>
<circle cx="331.7" cy="264.5" r="3.2"/>
<circle cx="320.4" cy="244.1" r="3.2"/>
<circle cx="371.9" cy="222.7" r="3.2"/>
<circle cx="324.7" cy="257.2" r="3.2"/>
<circle cx="324.5" cy="232.4" r="3.2"/>
<circle cx="339.2" cy="241.8" r="3.2"/>
<circle cx="369.5" cy="247.4" r="3.2"/>
<circle cx="332.1" cy="261.7" r="3.2"/>
<circle cx="322.6" cy="246.6" r="3.2"/>
<circle cx="302.3" cy="256.4" r="3.2"/>
<circle cx="368.7" cy="249.7" r="3.2"/>
<circle cx="315.5" cy="255.3" r="3.2"/>
<circle cx="354.3" cy="239.6" r="3.2"/>
<circle cx="360.0" cy="254.7" r="3.2"/>
<circle cx="313.0" cy="249.6" r="3.2"/>
<circle cx="324.6" cy="241.8" r="3.2"/>
<circle cx="334.0" cy="249.2" r="3.2"/>
<circle cx="354.3" cy="250.7" r="3.2"/>
<circle cx="321.0" cy="248.1" r="3.2"/>
<circle cx="323.8" cy="244.3" r="3.2"/>
<circle cx="335.7" cy="237.8" r="3.2"/>
<circle cx="363.3" cy="247.1" r="3.2"/>
<circle cx="316.6" cy="261.1" r="3.2"/>
<circle cx="356.6" cy="238.8" r="3.2"/>
<circle cx="326.2" cy="248.1" r="3.2"/>
<circle cx="336.1" cy="245.8" r="3.2"/>
<circle cx="330.3" cy="249.4" r="3.2"/>
<circle cx="325.3" cy="243.6" r="3.2"/>
<circle cx="329.9" cy="265.2" r="3.2"/>
<circle cx="336.1" cy="244.6" r="3.2"/>
<circle cx="348.3" cy="261.6" r="3.2"/>
<circle cx="328.6" cy="262.9" r="3.2"/>
<circle cx="339.3" cy="227.7" r="3.2"/>
<circle cx="330.2" cy="261.1" r="3.2"/>
<circle cx="351.5" cy="248.9" r="3.2"/>
<circle cx="336.0" cy="258.7" r="3.2"/>
<circle cx="335.5" cy="260.6" r="3.2"/>
<circle cx="356.0" cy="255.6" r="3.2"/>
<circle cx="362.0" cy="236.5" r="3.2"/>
<circle cx="351.4" cy="254.3" r="3.2"/>
<circle cx="323.4" cy="264.2" r="3.2"/>
<circle cx="366.9" cy="260.9" r="3.2"/>
<circle cx="334.0" cy="263.2" r="3.2"/>
<circle cx="322.0" cy="254.7" r="3.2"/>
<circle cx="362.0" cy="256.7" r="3.2"/>
<circle cx="334.8" cy="251.1" r="3.2"/>
<circle cx="322.3" cy="245.7" r="3.2"/>
<circle cx="315.5" cy="248.3" r="3.2"/>
<circle cx="316.8" cy="256.0" r="3.2"/>
<circle cx="357.2" cy="260.0" r="3.2"/>
<circle cx="366.1" cy="263.5" r="3.2"/>
<circle cx="348.7" cy="260.1" r="3.2"/>
<circle cx="311.3" cy="250.1" r="3.2"/>
<circle cx="331.4" cy="241.3" r="3.2"/>
<circle cx="311.0" cy="247.3" r="3.2"/>
<circle cx="319.5" cy="233.2" r="3.2"/>
<circle cx="319.9" cy="260.8" r="3.2"/>
<circle cx="368.5" cy="253.7" r="3.2"/>
<circle cx="358.6" cy="238.9" r="3.2"/>
<circle cx="360.1" cy="248.3" r="3.2"/>
<circle cx="340.6" cy="251.8" r="3.2"/>
<circle cx="327.1" cy="252.5" r="3.2"/>
<circle cx="365.8" cy="258.8" r="3.2"/>
<circle cx="331.1" cy="261.6" r="3.2"/>
<circle cx="369.3" cy="249.1" r="3.2"/>
<circle cx="363.1" cy="257.9" r="3.2"/>
<circle cx="367.6" cy="257.0" r="3.2"/>
<circle cx="339.1" cy="265.3" r="3.2"/>
<circle cx="314.1" cy="235.6" r="3.2"/>
<circle cx="358.1" cy="231.9" r="3.2"/>
<circle cx="335.5" cy="253.7" r="3.2"/>
<circle cx="326.8" cy="250.5" r="3.2"/>
<circle cx="335.6" cy="251.8" r="3.2"/>
<circle cx="335.8" cy="261.4" r="3.2"/>
<circle cx="360.0" cy="258.2" r="3.2"/>
<circle cx="319.4" cy="262.8" r="3.2"/>
<circle cx="360.4" cy="242.8" r="3.2"/>
<circle cx="359.4" cy="256.0" r="3.2"/>
<circle cx="328.6" cy="254.9" r="3.2"/>
<circle cx="367.3" cy="254.9" r="3.2"/>
<circle cx="322.7" cy="255.4" r="3.2"/>
<circle cx="304.0" cy="262.6" r="3.2"/>
<circle cx="363.5" cy="240.6" r="3.2"/>
<circle cx="336.2" cy="250.6" r="3.2"/>
<circle cx="350.6" cy="257.8" r="3.2"/>
<circle cx="328.6" cy="248.7" r="3.2"/>
<circle cx="352.9" cy="259.0" r="3.2"/>
<circle cx="362.4" cy="259.2" r="3.2"/>
<circle cx="362.7" cy="246.2" r="3.2"/>
<circle cx="365.4" cy="263.7" r="3.2"/>
<circle cx="322.3" cy="252.3" r="3.2"/>
<circle cx="366.2" cy="242.8" r="3.2"/>
<circle cx="330.3" cy="258.7" r="3.2"/>
<circle cx="327.1" cy="250.8" r="3.2"/>
<circle cx="350.9" cy="260.5" r="3.2"/>
<circle cx="325.0" cy="258.5" r="3.2"/>
<circle cx="352.0" cy="254.8" r="3.2"/>
<circle cx="326.8" cy="251.0" r="3.2"/>
<circle cx="336.9" cy="246.5" r="3.2"/>
<circle cx="335.3" cy="263.2" r="3.2"/>
<circle cx="313.7" cy="246.5" r="3.2"/>
<circle cx="327.0" cy="234.6" r="3.2"/>
<circle cx="351.2" cy="256.9" r="3.2"/>
<circle cx="330.7" cy="256.0" r="3.2"/>
<circle cx="333.8" cy="231.8" r="3.2"/>
<circle cx="351.9" cy="251.9" r="3.2"/>
<circle cx="367.5" cy="254.1" r="3.2"/>
<circle cx="317.8" cy="259.6" r="3.2"/>
<circle cx="322.2" cy="248.7" r="3.2"/>
<circle cx="367.4" cy="234.7" r="3.2"/>
<circle cx="360.9" cy="238.7" r="3.2"/>
<circle cx="330.0" cy="260.3" r="3.2"/>
<circle cx="317.4" cy="249.9" r="3.2"/>
<circle cx="313.2" cy="235.0" r="3.2"/>
<circle cx="349.6" cy="258.0" r="3.2"/>
<circle cx="359.7" cy="239.5" r="3.2"/>
<circle cx="358.7" cy="260.3" r="3.2"/>
<circle cx="353.8" cy="243.7" r="3.2"/>
<circle cx="332.4" cy="226.3" r="3.2"/>
<circle cx="354.9" cy="252.3" r="3.2"/>
<circle cx="333.3" cy="249.8" r="3.2"/>
<circle cx="334.9" cy="261.2" r="3.2"/>
<circle cx="330.1" cy="258.6" r="3.2"/>
<circle cx="332.8" cy="264.0" r="3.2"/>
<circle cx="330.1" cy="252.1" r="3.2"/>
<circle cx="356.7" cy="258.2" r="3.2"/>
<circle cx="352.8" cy="255.1" r="3.2"/>
<circle cx="327.4" cy="263.3" r="3.2"/>
<circle cx="314.2" cy="261.3" r="3.2"/>
<circle cx="325.4" cy="265.4" r="3.2"/>
<circle cx="329.7" cy="226.0" r="3.2"/>
<circle cx="330.3" cy="252.0" r="3.2"/>
<circle cx="319.0" cy="253.2" r="3.2"/>
<circle cx="322.2" cy="246.9" r="3.2"/>
<circle cx="333.6" cy="250.1" r="3.2"/>
<circle cx="336.9" cy="250.1" r="3.2"/>
<circle cx="349.8" cy="257.1" r="3.2"/>
<circle cx="334.5" cy="262.2" r="3.2"/>
<circle cx="324.1" cy="255.7" r="3.2"/>
<circle cx="332.7" cy="245.1" r="3.2"/>
<circle cx="356.8" cy="263.9" r="3.2"/>
<circle cx="321.7" cy="222.1" r="3.2"/>
<circle cx="321.3" cy="248.9" r="3.2"/>
<circle cx="337.4" cy="265.0" r="3.2"/>
<circle cx="332.6" cy="242.0" r="3.2"/>
<circle cx="329.1" cy="262.9" r="3.2"/>
<circle cx="337.1" cy="256.2" r="3.2"/>
<circle cx="362.6" cy="258.8" r="3.2"/>
<circle cx="325.5" cy="253.4" r="3.2"/>
<circle cx="352.7" cy="250.6" r="3.2"/>
<circle cx="325.7" cy="260.1" r="3.2"/>
<circle cx="333.1" cy="261.8" r="3.2"/>
<circle cx="349.3" cy="260.3" r="3.2"/>
<circle cx="350.9" cy="259.6" r="3.2"/>
<circle cx="353.7" cy="250.1" r="3.2"/>
<circle cx="323.0" cy="262.6" r="3.2"/>
<circle cx="360.0" cy="235.9" r="3.2"/>
<circle cx="350.7" cy="259.4" r="3.2"/>
<circle cx="317.6" cy="243.3" r="3.2"/>
<circle cx="358.2" cy="258.4" r="3.2"/>
<circle cx="338.9" cy="243.0" r="3.2"/>
<circle cx="320.6" cy="232.6" r="3.2"/>
<circle cx="352.3" cy="243.6" r="3.2"/>
<circle cx="343.8" cy="258.7" r="3.2"/>
<circle cx="332.8" cy="234.0" r="3.2"/>
<circle cx="326.6" cy="257.5" r="3.2"/>
<circle cx="321.6" cy="254.0" r="3.2"/>
<circle cx="358.6" cy="250.5" r="3.2"/>
<circle cx="349.0" cy="258.8" r="3.2"/>
<circle cx="323.9" cy="262.8" r="3.2"/>
<circle cx="352.7" cy="241.6" r="3.2"/>
<circle cx="360.6" cy="265.1" r="3.2"/>
<circle cx="350.6" cy="253.2" r="3.2"/>
<circle cx="336.1" cy="261.0" r="3.2"/>
<circle cx="330.5" cy="247.8" r="3.2"/>
<circle cx="356.5" cy="261.2" r="3.2"/>
<circle cx="340.0" cy="260.0" r="3.2"/>
<circle cx="324.1" cy="242.6" r="3.2"/>
<circle cx="338.2" cy="258.5" r="3.2"/>
<circle cx="353.0" cy="261.4" r="3.2"/>
<circle cx="360.0" cy="255.0" r="3.2"/>
<circle cx="357.5" cy="250.6" r="3.2"/>
<circle cx="330.3" cy="256.7" r="3.2"/>
<circle cx="351.8" cy="221.2" r="3.2"/>
<circle cx="329.7" cy="255.1" r="3.2"/>
<circle cx="348.7" cy="255.4" r="3.2"/>
<circle cx="331.3" cy="257.6" r="3.2"/>
<circle cx="362.6" cy="259.8" r="3.2"/>
<circle cx="319.4" cy="264.9" r="3.2"/>
<circle cx="334.7" cy="254.2" r="3.2"/>
<circle cx="360.9" cy="260.7" r="3.2"/>
<circle cx="330.9" cy="264.0" r="3.2"/>
<circle cx="364.2" cy="263.6" r="3.2"/>
<circle cx="331.3" cy="234.1" r="3.2"/>
<circle cx="357.4" cy="261.2" r="3.2"/>
<circle cx="358.7" cy="264.1" r="3.2"/>
<circle cx="325.0" cy="237.1" r="3.2"/>
<circle cx="352.7" cy="254.9" r="3.2"/>
<circle cx="333.5" cy="256.1" r="3.2"/>
<circle cx="331.6" cy="250.0" r="3.2"/>
<circle cx="321.3" cy="247.1" r="3.2"/>
<circle cx="355.1" cy="250.5" r="3.2"/>
<circle cx="359.3" cy="258.5" r="3.2"/>
<circle cx="361.0" cy="242.8" r="3.2"/>
<circle cx="353.1" cy="248.1" r="3.2"/>
<circle cx="323.9" cy="239.2" r="3.2"/>
<circle cx="328.3" cy="245.0" r="3.2"/>
<circle cx="353.8" cy="245.1" r="3.2"/>
<circle cx="332.9" cy="260.5" r="3.2"/>
<circle cx="334.2" cy="252.9" r="3.2"/>
<circle cx="336.3" cy="264.2" r="3.2"/>
<circle cx="357.7" cy="249.2" r="3.2"/>
<circle cx="366.1" cy="238.2" r="3.2"/>
<circle cx="355.3" cy="256.1" r="3.2"/>
<circle cx="349.4" cy="235.0" r="3.2"/>
<circle cx="354.1" cy="235.5" r="3.2"/>
<circle cx="362.4" cy="256.9" r="3.2"/>
<circle cx="357.5" cy="261.3" r="3.2"/>
<circle cx="352.6" cy="258.0" r="3.2"/>
<circle cx="332.0" cy="263.2" r="3.2"/>
<circle cx="304.6" cy="257.0" r="3.2"/>
<circle cx="333.9" cy="260.3" r="3.2"/>
<circle cx="350.0" cy="260.6" r="3.2"/>
<circle cx="318.7" cy="253.7" r="3.2"/>
<circle cx="328.7" cy="245.0" r="3.2"/>
<circle cx="325.0" cy="247.3" r="3.2"/>
<circle cx="333.4" cy="255.0" r="3.2"/>
<circle cx="341.7" cy="263.1" r="3.2"/>
<circle cx="354.0" cy="249.2" r="3.2"/>
<circle cx="337.7" cy="254.2" r="3.2"/>
<circle cx="333.0" cy="264.5" r="3.2"/>
<circle cx="355.0" cy="249.8" r="3.2"/>
<circle cx="333.2" cy="234.4" r="3.2"/>
<circle cx="336.3" cy="260.1" r="3.2"/>
<circle cx="354.4" cy="254.0" r="3.2"/>
<circle cx="356.0" cy="240.1" r="3.2"/>
<circle cx="359.2" cy="251.4" r="3.2"/>
<circle cx="324.3" cy="231.8" r="3.2"/>
<circle cx="331.8" cy="243.3" r="3.2"/>
<circle cx="328.0" cy="255.0" r="3.2"/>
<circle cx="336.6" cy="242.4" r="3.2"/>
<circle cx="330.6" cy="256.2" r="3.2"/>
<circle cx="351.2" cy="265.2" r="3.2"/>
<circle cx="333.7" cy="259.7" r="3.2"/>
<circle cx="354.6" cy="240.4" r="3.2"/>
<circle cx="332.3" cy="262.8" r="3.2"/>
<circle cx="324.4" cy="264.9" r="3.2"/>
<circle cx="336.6" cy="261.5" r="3.2"/>
<circle cx="353.7" cy="260.2" r="3.2"/>
<circle cx="355.3" cy="227.1" r="3.2"/>
<circle cx="349.4" cy="241.6" r="3.2"/>
<circle cx="313.3" cy="234.7" r="3.2"/>
<circle cx="321.9" cy="250.1" r="3.2"/>
<circle cx="357.4" cy="244.4" r="3.2"/>
<circle cx="323.5" cy="253.5" r="3.2"/>
<circle cx="361.4" cy="261.4" r="3.2"/>
<circle cx="335.8" cy="247.9" r="3.2"/>
<circle cx="330.2" cy="254.0" r="3.2"/>
<circle cx="326.6" cy="251.7" r="3.2"/>
<circle cx="331.1" cy="236.8" r="3.2"/>
<circle cx="330.3" cy="253.1" r="3.2"/>
<circle cx="340.5" cy="252.9" r="3.2"/>
<circle cx="315.1" cy="243.3" r="3.2"/>
<circle cx="334.6" cy="254.7" r="3.2"/>
<circle cx="364.7" cy="264.3" r="3.2"/>
<circle cx="322.8" cy="246.2" r="3.2"/>
<circle cx="321.8" cy="263.8" r="3.2"/>
<circle cx="321.6" cy="264.6" r="3.2"/>
<circle cx="326.2" cy="256.6" r="3.2"/>
<circle cx="327.9" cy="239.4" r="3.2"/>
<circle cx="357.2" cy="245.4" r="3.2"/>
<circle cx="339.2" cy="232.3" r="3.2"/>
<circle cx="360.1" cy="261.5" r="3.2"/>
<circle cx="339.8" cy="249.3" r="3.2"/>
<circle cx="362.3" cy="261.8" r="3.2"/>
<circle cx="327.1" cy="262.3" r="3.2"/>
<circle cx="335.1" cy="253.1" r="3.2"/>
<circle cx="364.7" cy="244.7" r="3.2"/>
<circle cx="327.4" cy="250.0" r="3.2"/>
<circle cx="329.8" cy="260.2" r="3.2"/>
<circle cx="357.2" cy="255.3" r="3.2"/>
<circle cx="337.3" cy="242.3" r="3.2"/>
<circle cx="337.5" cy="256.0" r="3.2"/>
<circle cx="366.3" cy="259.2" r="3.2"/>
<circle cx="354.5" cy="258.4" r="3.2"/>
<circle cx="351.5" cy="260.0" r="3.2"/>
<circle cx="358.2" cy="251.4" r="3.2"/>
<circle cx="331.4" cy="259.6" r="3.2"/>
<circle cx="331.8" cy="264.8" r="3.2"/>
<circle cx="339.8" cy="236.5" r="3.2"/>
<circle cx="324.6" cy="255.7" r="3.2"/>
<circle cx="350.0" cy="253.6" r="3.2"/>
<circle cx="322.3" cy="260.0" r="3.2"/>
<circle cx="331.3" cy="262.0" r="3.2"/>
<circle cx="349.4" cy="263.0" r="3.2"/>
<circle cx="318.7" cy="263.9" r="3.2"/>
<circle cx="308.0" cy="260.6" r="3.2"/>
<circle cx="359.4" cy="262.0" r="3.2"/>
<circle cx="316.1" cy="262.2" r="3.2"/>
<circle cx="325.6" cy="256.0" r="3.2"/>
<circle cx="326.5" cy="255.8" r="3.2"/>
<circle cx="318.3" cy="257.5" r="3.2"/>
<circle cx="319.0" cy="256.6" r="3.2"/>
<circle cx="325.0" cy="247.1" r="3.2"/>
<circle cx="327.9" cy="253.0" r="3.2"/>
<circle cx="328.5" cy="253.0" r="3.2"/>
<circle cx="357.7" cy="264.8" r="3.2"/>
<circle cx="320.6" cy="264.6" r="3.2"/>
<circle cx="358.1" cy="219.7" r="3.2"/>
<circle cx="374.7" cy="256.0" r="3.2"/>
<circle cx="327.1" cy="247.5" r="3.2"/>
<circle cx="309.1" cy="260.1" r="3.2"/>
<circle cx="336.1" cy="252.5" r="3.2"/>
<circle cx="364.0" cy="241.2" r="3.2"/>
<circle cx="328.7" cy="261.1" r="3.2"/>
<circle cx="350.9" cy="255.3" r="3.2"/>
<circle cx="328.9" cy="263.9" r="3.2"/>
<circle cx="320.3" cy="258.4" r="3.2"/>
<circle cx="323.2" cy="239.1" r="3.2"/>
<circle cx="350.1" cy="246.6" r="3.2"/>
<circle cx="355.3" cy="259.2" r="3.2"/>
<circle cx="360.7" cy="262.5" r="3.2"/>
<circle cx="359.5" cy="258.4" r="3.2"/>
<circle cx="335.7" cy="262.5" r="3.2"/>
<circle cx="336.3" cy="259.3" r="3.2"/>
<circle cx="317.2" cy="264.1" r="3.2"/>
<circle cx="321.4" cy="262.2" r="3.2"/>
<circle cx="322.2" cy="250.6" r="3.2"/>
<circle cx="327.9" cy="215.7" r="3.2"/>
<circle cx="322.2" cy="263.1" r="3.2"/>
<circle cx="354.6" cy="257.9" r="3.2"/>
<circle cx="323.9" cy="246.7" r="3.2"/>
<circle cx="354.3" cy="250.7" r="3.2"/>
<circle cx="335.3" cy="235.8" r="3.2"/>
<circle cx="332.6" cy="251.8" r="3.2"/>
<circle cx="324.8" cy="253.6" r="3.2"/>
<circle cx="330.1" cy="261.7" r="3.2"/>
<circle cx="320.2" cy="228.0" r="3.2"/>
<circle cx="332.5" cy="247.9" r="3.2"/>
<circle cx="323.1" cy="265.4" r="3.2"/>
<circle cx="335.9" cy="248.6" r="3.2"/>
<circle cx="353.2" cy="239.9" r="3.2"/>
<circle cx="321.7" cy="243.3" r="3.2"/>
<circle cx="363.2" cy="264.3" r="3.2"/>
<circle cx="315.6" cy="254.3" r="3.2"/>
<circle cx="330.2" cy="263.8" r="3.2"/>
<circle cx="343.1" cy="258.1" r="3.2"/>
<circle cx="334.2" cy="260.2" r="3.2"/>
<circle cx="349.1" cy="238.4" r="3.2"/>
<circle cx="325.6" cy="260.7" r="3.2"/>
<circle cx="357.6" cy="252.9" r="3.2"/>
<circle cx="337.7" cy="238.0" r="3.2"/>
<circle cx="335.8" cy="250.9" r="3.2"/>
<circle cx="334.2" cy="265.2" r="3.2"/>
<circle cx="308.3" cy="261.0" r="3.2"/>
<circle cx="333.4" cy="264.8" r="3.2"/>
<circle cx="329.0" cy="252.7" r="3.2"/>
<circle cx="314.5" cy="260.1" r="3.2"/>
<circle cx="353.0" cy="224.6" r="3.2"/>
<circle cx="339.3" cy="240.2" r="3.2"/>
<circle cx="327.3" cy="259.9" r="3.2"/>
<circle cx="353.3" cy="259.6" r="3.2"/>
<circle cx="321.5" cy="254.8" r="3.2"/>
<circle cx="329.0" cy="254.3" r="3.2"/>
<circle cx="326.2" cy="263.1" r="3.2"/>
<circle cx="358.4" cy="264.1" r="3.2"/>
<circle cx="360.7" cy="264.1" r="3.2"/>
<circle cx="358.5" cy="265.1" r="3.2"/>
<circle cx="365.1" cy="244.6" r="3.2"/>
<circle cx="321.6" cy="247.6" r="3.2"/>
<circle cx="320.4" cy="264.2" r="3.2"/>
<circle cx="321.5" cy="248.3" r="3.2"/>
<circle cx="329.4" cy="247.2" r="3.2"/>
<circle cx="360.9" cy="243.1" r="3.2"/>
<circle cx="357.3" cy="235.6" r="3.2"/>
<circle cx="315.7" cy="251.5" r="3.2"/>
<circle cx="335.5" cy="255.8" r="3.2"/>
<circle cx="355.2" cy="261.0" r="3.2"/>
<circle cx="338.9" cy="261.1" r="3.2"/>
<circle cx="367.5" cy="216.8" r="3.2"/>
<circle cx="358.3" cy="250.0" r="3.2"/>
<circle cx="333.3" cy="258.8" r="3.2"/>
<circle cx="325.2" cy="242.6" r="3.2"/>
<circle cx="372.4" cy="263.7" r="3.2"/>
<circle cx="333.6" cy="233.8" r="3.2"/>
<circle cx="330.5" cy="251.9" r="3.2"/>
<circle cx="318.3" cy="250.6" r="3.2"/>
<circle cx="356.8" cy="256.0" r="3.2"/>
<circle cx="357.8" cy="252.3" r="3.2"/>
<circle cx="332.3" cy="238.9" r="3.2"/>
<circle cx="351.2" cy="253.9" r="3.2"/>
<circle cx="356.2" cy="257.8" r="3.2"/>
<circle cx="348.3" cy="228.5" r="3.2"/>
<circle cx="324.0" cy="228.0" r="3.2"/>
<circle cx="318.9" cy="257.4" r="3.2"/>
<circle cx="328.1" cy="245.7" r="3.2"/>
<circle cx="355.5" cy="219.7" r="3.2"/>
<circle cx="339.5" cy="260.6" r="3.2"/>
<circle cx="320.0" cy="252.9" r="3.2"/>
<circle cx="368.0" cy="262.3" r="3.2"/>
<circle cx="352.3" cy="251.3" r="3.2"/>
<circle cx="353.1" cy="250.9" r="3.2"/>
<circle cx="322.1" cy="241.3" r="3.2"/>
<circle cx="329.4" cy="264.4" r="3.2"/>
<circle cx="323.6" cy="248.9" r="3.2"/>
<circle cx="328.1" cy="234.5" r="3.2"/>
<circle cx="337.3" cy="258.7" r="3.2"/>
<circle cx="348.4" cy="244.0" r="3.2"/>
<circle cx="327.2" cy="254.7" r="3.2"/>
<circle cx="327.6" cy="257.2" r="3.2"/>
<circle cx="351.5" cy="252.2" r="3.2"/>
<circle cx="329.2" cy="248.4" r="3.2"/>
<circle cx="350.1" cy="244.1" r="3.2"/>
<circle cx="328.8" cy="257.2" r="3.2"/>
<circle cx="368.0" cy="238.9" r="3.2"/>
<circle cx="353.1" cy="226.6" r="3.2"/>
<circle cx="349.7" cy="251.7" r="3.2"/>
<circle cx="334.5" cy="258.8" r="3.2"/>
<circle cx="348.5" cy="252.1" r="3.2"/>
<circle cx="353.5" cy="261.6" r="3.2"/>
<circle cx="328.3" cy="254.4" r="3.2"/>
<circle cx="331.8" cy="252.4" r="3.2"/>
<circle cx="357.6" cy="258.8" r="3.2"/>
<circle cx="327.2" cy="262.5" r="3.2"/>
<circle cx="322.5" cy="252.4" r="3.2"/>
<circle cx="336.7" cy="234.9" r="3.2"/>
<circle cx="355.1" cy="261.2" r="3.2"/>
<circle cx="314.6" cy="264.7" r="3.2"/>
<circle cx="332.7" cy="255.2" r="3.2"/>
<circle cx="362.3" cy="263.4" r="3.2"/>
<circle cx="320.0" cy="250.1" r="3.2"/>
<circle cx="333.8" cy="258.5" r="3.2"/>
<circle cx="331.5" cy="246.0" r="3.2"/>
<circle cx="350.4" cy="261.1" r="3.2"/>
<circle cx="319.0" cy="251.8" r="3.2"/>
<circle cx="356.4" cy="245.3" r="3.2"/>
<circle cx="352.2" cy="262.8" r="3.2"/>
<circle cx="334.2" cy="250.4" r="3.2"/>
<circle cx="353.7" cy="245.6" r="3.2"/>
<circle cx="358.7" cy="247.4" r="3.2"/>
<circle cx="331.9" cy="261.2" r="3.2"/>
<circle cx="362.5" cy="242.2" r="3.2"/>
<circle cx="350.3" cy="260.5" r="3.2"/>
<circle cx="324.6" cy="265.3" r="3.2"/>
<circle cx="339.6" cy="261.1" r="3.2"/>
<circle cx="357.7" cy="242.5" r="3.2"/>
<circle cx="363.4" cy="232.5" r="3.2"/>
<circle cx="362.1" cy="262.3" r="3.2"/>
<circle cx="354.7" cy="255.1" r="3.2"/>
<circle cx="322.3" cy="264.1" r="3.2"/>
<circle cx="361.7" cy="259.4" r="3.2"/>
<circle cx="355.8" cy="241.1" r="3.2"/>
<circle cx="340.5" cy="254.2" r="3.2"/>
<circle cx="331.7" cy="255.2" r="3.2"/>
<circle cx="335.0" cy="258.6" r="3.2"/>
<circle cx="349.4" cy="251.5" r="3.2"/>
<circle cx="326.3" cy="245.2" r="3.2"/>
<circle cx="351.1" cy="253.6" r="3.2"/>
<circle cx="349.7" cy="255.9" r="3.2"/>
<circle cx="333.0" cy="255.3" r="3.2"/>
<circle cx="348.8" cy="264.7" r="3.2"/>
<circle cx="291.3" cy="239.7" r="3.2"/>
<circle cx="340.4" cy="265.2" r="3.2"/>
<circle cx="355.0" cy="256.9" r="3.2"/>
<circle cx="349.9" cy="247.3" r="3.2"/>
<circle cx="361.9" cy="241.2" r="3.2"/>
<circle cx="332.6" cy="258.4" r="3.2"/>
<circle cx="370.7" cy="251.7" r="3.2"/>
<circle cx="328.3" cy="251.4" r="3.2"/>
<circle cx="338.2" cy="264.7" r="3.2"/>
<circle cx="365.0" cy="258.3" r="3.2"/>
<circle cx="340.5" cy="257.3" r="3.2"/>
<circle cx="362.8" cy="238.4" r="3.2"/>
<circle cx="350.6" cy="259.5" r="3.2"/>
<circle cx="368.9" cy="260.3" r="3.2"/>
<circle cx="333.7" cy="265.4" r="3.2"/>
<circle cx="354.5" cy="263.4" r="3.2"/>
<circle cx="355.3" cy="254.0" r="3.2"/>
<circle cx="324.1" cy="259.8" r="3.2"/>
<circle cx="330.0" cy="264.5" r="3.2"/>
<circle cx="337.8" cy="264.3" r="3.2"/>
<circle cx="322.3" cy="240.3" r="3.2"/>
<circle cx="309.5" cy="259.9" r="3.2"/>
<circle cx="348.6" cy="246.4" r="3.2"/>
<circle cx="354.9" cy="239.0" r="3.2"/>
<circle cx="318.0" cy="241.2" r="3.2"/>
<circle cx="339.3" cy="256.7" r="3.2"/>
<circle cx="324.8" cy="252.0" r="3.2"/>
<circle cx="334.1" cy="237.2" r="3.2"/>
<circle cx="319.8" cy="244.2" r="3.2"/>
<circle cx="340.5" cy="261.4" r="3.2"/>
<circle cx="358.5" cy="256.4" r="3.2"/>
<circle cx="358.3" cy="256.5" r="3.2"/>
<circle cx="355.3" cy="263.8" r="3.2"/>
<circle cx="337.5" cy="258.7" r="3.2"/>
<circle cx="354.5" cy="265.2" r="3.2"/>
<circle cx="355.9" cy="252.1" r="3.2"/>
<circle cx="330.8" cy="259.2" r="3.2"/>
<circle cx="319.3" cy="254.7" r="3.2"/>
<circle cx="348.1" cy="256.9" r="3.2"/>
<circle cx="322.9" cy="263.0" r="3.2"/>
<circle cx="331.6" cy="260.0" r="3.2"/>
<circle cx="353.9" cy="265.1" r="3.2"/>
<circle cx="336.7" cy="254.0" r="3.2"/>
<circle cx="353.8" cy="236.1" r="3.2"/>
<circle cx="325.5" cy="260.2" r="3.2"/>
<circle cx="323.2" cy="257.1" r="3.2"/>
<circle cx="356.0" cy="253.6" r="3.2"/>
<circle cx="337.8" cy="257.4" r="3.2"/>
<circle cx="336.5" cy="249.6" r="3.2"/>
<circle cx="312.3" cy="263.8" r="3.2"/>
<circle cx="337.9" cy="262.4" r="3.2"/>
<circle cx="351.2" cy="258.5" r="3.2"/>
<circle cx="329.3" cy="257.7" r="3.2"/>
<circle cx="350.1" cy="256.8" r="3.2"/>
<circle cx="338.0" cy="242.1" r="3.2"/>
<circle cx="349.9" cy="245.3" r="3.2"/>
<circle cx="335.1" cy="261.4" r="3.2"/>
<circle cx="299.1" cy="245.6" r="3.2"/>
<circle cx="354.1" cy="257.9" r="3.2"/>
<circle cx="353.0" cy="290.5" r="3.2"/>
<circle cx="335.0" cy="316.7" r="3.2"/>
<circle cx="335.3" cy="291.5" r="3.2"/>
<circle cx="359.7" cy="313.7" r="3.2"/>
<circle cx="358.0" cy="298.5" r="3.2"/>
<circle cx="349.6" cy="297.5" r="3.2"/>
<circle cx="353.3" cy="292.7" r="3.2"/>
<circle cx="338.6" cy="294.4" r="3.2"/>
<circle cx="361.3" cy="307.2" r="3.2"/>
<circle cx="339.7" cy="309.3" r="3.2"/>
<circle cx="337.0" cy="290.3" r="3.2"/>
<circle cx="363.5" cy="314.2" r="3.2"/>
<circle cx="329.4" cy="296.7" r="3.2"/>
<circle cx="355.5" cy="293.7" r="3.2"/>
<circle cx="363.3" cy="312.0" r="3.2"/>
<circle cx="348.0" cy="309.7" r="3.2"/>
<circle cx="359.7" cy="293.2" r="3.2"/>
<circle cx="338.0" cy="310.6" r="3.2"/>
<circle cx="356.9" cy="296.8" r="3.2"/>
<circle cx="359.5" cy="333.6" r="3.2"/>
<circle cx="353.7" cy="296.7" r="3.2"/>
<circle cx="352.5" cy="316.5" r="3.2"/>
<circle cx="358.6" cy="299.4" r="3.2"/>
<circle cx="351.8" cy="291.9" r="3.2"/>
<circle cx="348.4" cy="290.3" r="3.2"/>
<circle cx="336.0" cy="307.1" r="3.2"/>
<circle cx="353.2" cy="327.8" r="3.2"/>
<circle cx="364.8" cy="313.8" r="3.2"/>
<circle cx="360.9" cy="292.0" r="3.2"/>
<circle cx="333.2" cy="305.7" r="3.2"/>
<circle cx="322.6" cy="330.0" r="3.2"/>
<circle cx="320.2" cy="304.3" r="3.2"/>
<circle cx="315.3" cy="298.6" r="3.2"/>
<circle cx="354.3" cy="310.4" r="3.2"/>
<circle cx="356.0" cy="309.0" r="3.2"/>
<circle cx="353.9" cy="288.8" r="3.2"/>
<circle cx="354.2" cy="291.2" r="3.2"/>
<circle cx="336.2" cy="305.0" r="3.2"/>
<circle cx="363.2" cy="305.8" r="3.2"/>
<circle cx="353.8" cy="318.6" r="3.2"/>
<circle cx="377.7" cy="311.8" r="3.2"/>
<circle cx="331.4" cy="292.2" r="3.2"/>
<circle cx="328.3" cy="304.6" r="3.2"/>
<circle cx="361.5" cy="288.9" r="3.2"/>
<circle cx="350.2" cy="291.6" r="3.2"/>
<circle cx="335.9" cy="300.9" r="3.2"/>
<circle cx="331.5" cy="311.1" r="3.2"/>
<circle cx="333.2" cy="310.8" r="3.2"/>
<circle cx="329.5" cy="292.3" r="3.2"/>
<circle cx="357.9" cy="310.8" r="3.2"/>
<circle cx="328.3" cy="298.9" r="3.2"/>
<circle cx="351.7" cy="301.6" r="3.2"/>
<circle cx="319.0" cy="323.4" r="3.2"/>
<circle cx="328.1" cy="316.8" r="3.2"/>
<circle cx="357.3" cy="304.1" r="3.2"/>
<circle cx="319.4" cy="333.9" r="3.2"/>
<circle cx="352.3" cy="299.1" r="3.2"/>
<circle cx="329.2" cy="295.8" r="3.2"/>
<circle cx="368.5" cy="309.6" r="3.2"/>
<circle cx="352.7" cy="289.3" r="3.2"/>
<circle cx="361.4" cy="315.9" r="3.2"/>
<circle cx="351.8" cy="293.9" r="3.2"/>
<circle cx="340.1" cy="290.2" r="3.2"/>
<circle cx="337.5" cy="314.5" r="3.2"/>
<circle cx="327.9" cy="315.8" r="3.2"/>
<circle cx="335.6" cy="301.7" r="3.2"/>
<circle cx="326.6" cy="308.2" r="3.2"/>
<circle cx="333.7" cy="303.6" r="3.2"/>
<circle cx="364.0" cy="306.5" r="3.2"/>
<circle cx="353.4" cy="321.0" r="3.2"/>
<circle cx="335.3" cy="323.0" r="3.2"/>
<circle cx="333.7" cy="302.5" r="3.2"/>
<circle cx="342.5" cy="316.3" r="3.2"/>
<circle cx="352.2" cy="297.3" r="3.2"/>
<circle cx="366.6" cy="314.2" r="3.2"/>
<circle cx="333.3" cy="302.9" r="3.2"/>
<circle cx="331.4" cy="309.9" r="3.2"/>
<circle cx="357.1" cy="292.9" r="3.2"/>
<circle cx="358.3" cy="307.3" r="3.2"/>
<circle cx="359.5" cy="293.7" r="3.2"/>
<circle cx="348.6" cy="293.5" r="3.2"/>
<circle cx="355.2" cy="294.1" r="3.2"/>
<circle cx="337.3" cy="290.9" r="3.2"/>
<circle cx="354.4" cy="295.3" r="3.2"/>
<circle cx="328.5" cy="291.9" r="3.2"/>
<circle cx="319.1" cy="298.5" r="3.2"/>
<circle cx="354.5" cy="300.2" r="3.2"/>
<circle cx="359.6" cy="312.2" r="3.2"/>
<circle cx="349.0" cy="304.7" r="3.2"/>
<circle cx="350.5" cy="309.9" r="3.2"/>
<circle cx="328.6" cy="295.0" r="3.2"/>
<circle cx="320.3" cy="295.4" r="3.2"/>
<circle cx="369.9" cy="293.3" r="3.2"/>
<circle cx="324.8" cy="323.7" r="3.2"/>
<circle cx="340.4" cy="297.2" r="3.2"/>
<circle cx="365.8" cy="297.5" r="3.2"/>
<circle cx="355.9" cy="300.1" r="3.2"/>
<circle cx="318.8" cy="314.7" r="3.2"/>
<circle cx="340.5" cy="295.1" r="3.2"/>
<circle cx="343.6" cy="314.4" r="3.2"/>
<circle cx="349.2" cy="290.2" r="3.2"/>
<circle cx="337.0" cy="299.3" r="3.2"/>
<circle cx="354.4" cy="307.7" r="3.2"/>
<circle cx="334.1" cy="295.3" r="3.2"/>
<circle cx="356.7" cy="289.4" r="3.2"/>
<circle cx="311.8" cy="300.6" r="3.2"/>
<circle cx="357.6" cy="291.3" r="3.2"/>
<circle cx="359.8" cy="297.8" r="3.2"/>
<circle cx="328.2" cy="298.7" r="3.2"/>
<circle cx="352.0" cy="304.1" r="3.2"/>
<circle cx="319.7" cy="305.5" r="3.2"/>
<circle cx="355.5" cy="293.3" r="3.2"/>
<circle cx="328.8" cy="295.2" r="3.2"/>
<circle cx="366.3" cy="298.1" r="3.2"/>
<circle cx="331.8" cy="329.9" r="3.2"/>
<circle cx="364.7" cy="330.9" r="3.2"/>
<circle cx="322.2" cy="298.4" r="3.2"/>
<circle cx="338.8" cy="298.5" r="3.2"/>
<circle cx="365.5" cy="289.5" r="3.2"/>
<circle cx="364.0" cy="308.7" r="3.2"/>
<circle cx="328.8" cy="304.0" r="3.2"/>
<circle cx="353.7" cy="300.0" r="3.2"/>
<circle cx="331.3" cy="294.3" r="3.2"/>
<circle cx="362.6" cy="316.1" r="3.2"/>
<circle cx="358.7" cy="291.2" r="3.2"/>
<circle cx="372.0" cy="291.9" r="3.2"/>
<circle cx="352.3" cy="303.7" r="3.2"/>
<circle cx="362.5" cy="307.0" r="3.2"/>
<circle cx="357.3" cy="293.6" r="3.2"/>
<circle cx="357.5" cy="311.9" r="3.2"/>
<circle cx="327.9" cy="296.7" r="3.2"/>
<circle cx="353.5" cy="306.0" r="3.2"/>
<circle cx="334.8" cy="312.4" r="3.2"/>
<circle cx="339.1" cy="298.7" r="3.2"/>
<circle cx="334.2" cy="321.5" r="3.2"/>
<circle cx="351.6" cy="299.4" r="3.2"/>
<circle cx="323.2" cy="308.4" r="3.2"/>
<circle cx="324.4" cy="310.8" r="3.2"/>
<circle cx="338.1" cy="325.2" r="3.2"/>
<circle cx="335.3" cy="303.3" r="3.2"/>
<circle cx="333.8" cy="292.4" r="3.2"/>
<circle cx="322.3" cy="301.2" r="3.2"/>
<circle cx="329.4" cy="325.2" r="3.2"/>
<circle cx="352.6" cy="288.9" r="3.2"/>
<circle cx="319.7" cy="298.6" r="3.2"/>
<circle cx="354.1" cy="295.5" r="3.2"/>
<circle cx="337.3" cy="314.0" r="3.2"/>
<circle cx="328.7" cy="300.2" r="3.2"/>
<circle cx="328.3" cy="292.5" r="3.2"/>
<circle cx="335.3" cy="291.6" r="3.2"/>
<circle cx="350.9" cy="296.8" r="3.2"/>
<circle cx="350.5" cy="295.0" r="3.2"/>
<circle cx="353.1" cy="295.4" r="3.2"/>
<circle cx="314.6" cy="329.6" r="3.2"/>
<circle cx="335.9" cy="295.2" r="3.2"/>
<circle cx="353.3" cy="300.3" r="3.2"/>
<circle cx="359.0" cy="289.9" r="3.2"/>
<circle cx="328.1" cy="293.9" r="3.2"/>
<circle cx="350.7" cy="321.4" r="3.2"/>
<circle cx="339.2" cy="289.5" r="3.2"/>
<circle cx="356.6" cy="303.8" r="3.2"/>
<circle cx="357.6" cy="303.1" r="3.2"/>
<circle cx="318.7" cy="311.1" r="3.2"/>
<circle cx="358.9" cy="301.9" r="3.2"/>
<circle cx="336.2" cy="301.8" r="3.2"/>
<circle cx="330.3" cy="289.7" r="3.2"/>
<circle cx="339.2" cy="305.5" r="3.2"/>
<circle cx="373.2" cy="294.5" r="3.2"/>
<circle cx="338.1" cy="341.4" r="3.2"/>
<circle cx="350.5" cy="304.9" r="3.2"/>
<circle cx="327.8" cy="302.3" r="3.2"/>
<circle cx="351.0" cy="305.6" r="3.2"/>
<circle cx="330.9" cy="303.7" r="3.2"/>
<circle cx="354.9" cy="304.3" r="3.2"/>
<circle cx="332.6" cy="302.3" r="3.2"/>
<circle cx="353.5" cy="295.8" r="3.2"/>
<circle cx="354.6" cy="299.3" r="3.2"/>
<circle cx="371.5" cy="320.4" r="3.2"/>
<circle cx="374.4" cy="299.4" r="3.2"/>
<circle cx="327.7" cy="302.4" r="3.2"/>
<circle cx="383.8" cy="301.2" r="3.2"/>
<circle cx="358.5" cy="292.6" r="3.2"/>
<circle cx="336.5" cy="293.6" r="3.2"/>
<circle cx="344.9" cy="307.5" r="3.2"/>
<circle cx="362.3" cy="333.1" r="3.2"/>
<circle cx="332.8" cy="295.2" r="3.2"/>
<circle cx="356.4" cy="300.8" r="3.2"/>
<circle cx="357.4" cy="299.1" r="3.2"/>
<circle cx="352.1" cy="296.1" r="3.2"/>
<circle cx="352.6" cy="319.2" r="3.2"/>
<circle cx="346.4" cy="294.0" r="3.2"/>
<circle cx="331.0" cy="301.2" r="3.2"/>
<circle cx="356.8" cy="297.6" r="3.2"/>
<circle cx="359.3" cy="313.6" r="3.2"/>
<circle cx="349.0" cy="307.1" r="3.2"/>
<circle cx="349.6" cy="307.1" r="3.2"/>
<circle cx="329.3" cy="324.9" r="3.2"/>
<circle cx="356.1" cy="318.0" r="3.2"/>
<circle cx="359.0" cy="307.2" r="3.2"/>
<circle cx="340.3" cy="311.4" r="3.2"/>
<circle cx="361.7" cy="290.0" r="3.2"/>
<circle cx="350.4" cy="292.6" r="3.2"/>
<circle cx="355.3" cy="310.8" r="3.2"/>
<circle cx="331.4" cy="302.6" r="3.2"/>
<circle cx="352.1" cy="315.1" r="3.2"/>
<circle cx="338.4" cy="306.0" r="3.2"/>
<circle cx="333.2" cy="300.1" r="3.2"/>
<circle cx="355.2" cy="306.6" r="3.2"/>
<circle cx="328.4" cy="315.0" r="3.2"/>
<circle cx="351.3" cy="316.2" r="3.2"/>
<circle cx="364.9" cy="315.3" r="3.2"/>
<circle cx="319.0" cy="310.0" r="3.2"/>
<circle cx="355.1" cy="329.8" r="3.2"/>
<circle cx="334.1" cy="319.5" r="3.2"/>
<circle cx="329.8" cy="317.0" r="3.2"/>
<circle cx="359.3" cy="307.6" r="3.2"/>
<circle cx="351.0" cy="318.0" r="3.2"/>
<circle cx="364.6" cy="307.4" r="3.2"/>
<circle cx="325.5" cy="309.8" r="3.2"/>
<circle cx="352.6" cy="289.5" r="3.2"/>
<circle cx="349.6" cy="290.7" r="3.2"/>
<circle cx="325.0" cy="289.7" r="3.2"/>
<circle cx="368.0" cy="301.2" r="3.2"/>
<circle cx="327.9" cy="296.4" r="3.2"/>
<circle cx="314.9" cy="305.8" r="3.2"/>
<circle cx="331.0" cy="296.0" r="3.2"/>
<circle cx="337.9" cy="310.0" r="3.2"/>
<circle cx="346.1" cy="331.6" r="3.2"/>
<circle cx="352.6" cy="305.6" r="3.2"/>
<circle cx="333.7" cy="295.2" r="3.2"/>
<circle cx="332.2" cy="310.4" r="3.2"/>
<circle cx="352.3" cy="322.4" r="3.2"/>
<circle cx="333.3" cy="292.7" r="3.2"/>
<circle cx="360.1" cy="313.1" r="3.2"/>
<circle cx="333.6" cy="290.7" r="3.2"/>
<circle cx="337.8" cy="318.2" r="3.2"/>
<circle cx="352.1" cy="335.1" r="3.2"/>
<circle cx="346.6" cy="304.2" r="3.2"/>
<circle cx="376.2" cy="294.1" r="3.2"/>
<circle cx="364.7" cy="291.3" r="3.2"/>
<circle cx="328.2" cy="297.5" r="3.2"/>
<circle cx="354.1" cy="298.1" r="3.2"/>
<circle cx="352.7" cy="289.6" r="3.2"/>
<circle cx="328.4" cy="293.2" r="3.2"/>
<circle cx="358.0" cy="320.9" r="3.2"/>
<circle cx="325.5" cy="294.3" r="3.2"/>
<circle cx="363.8" cy="307.5" r="3.2"/>
<circle cx="321.4" cy="296.4" r="3.2"/>
<circle cx="359.2" cy="293.4" r="3.2"/>
<circle cx="327.0" cy="314.2" r="3.2"/>
<circle cx="324.8" cy="296.9" r="3.2"/>
<circle cx="350.5" cy="304.7" r="3.2"/>
<circle cx="351.2" cy="314.4" r="3.2"/>
<circle cx="339.9" cy="330.7" r="3.2"/>
<circle cx="325.7" cy="322.3" r="3.2"/>
<circle cx="325.7" cy="302.0" r="3.2"/>
<circle cx="327.3" cy="297.2" r="3.2"/>
<circle cx="351.4" cy="299.9" r="3.2"/>
<circle cx="354.2" cy="293.9" r="3.2"/>
<circle cx="363.6" cy="289.8" r="3.2"/>
<circle cx="354.1" cy="304.2" r="3.2"/>
<circle cx="328.6" cy="293.3" r="3.2"/>
<circle cx="363.2" cy="316.7" r="3.2"/>
<circle cx="354.5" cy="296.9" r="3.2"/>
<circle cx="360.7" cy="298.2" r="3.2"/>
<circle cx="358.1" cy="291.9" r="3.2"/>
<circle cx="332.4" cy="304.4" r="3.2"/>
<circle cx="358.6" cy="303.9" r="3.2"/>
<circle cx="327.6" cy="296.7" r="3.2"/>
<circle cx="352.7" cy="294.6" r="3.2"/>
<circle cx="361.7" cy="316.4" r="3.2"/>
<circle cx="327.5" cy="295.3" r="3.2"/>
<circle cx="359.4" cy="310.2" r="3.2"/>
<circle cx="353.4" cy="303.7" r="3.2"/>
<circle cx="364.5" cy="298.3" r="3.2"/>
<circle cx="329.1" cy="310.1" r="3.2"/>
<circle cx="319.7" cy="291.9" r="3.2"/>
<circle cx="356.4" cy="310.3" r="3.2"/>
<circle cx="331.7" cy="299.4" r="3.2"/>
<circle cx="364.6" cy="300.5" r="3.2"/>
<circle cx="364.8" cy="306.2" r="3.2"/>
<circle cx="324.8" cy="309.7" r="3.2"/>
<circle cx="349.8" cy="302.2" r="3.2"/>
<circle cx="340.9" cy="313.2" r="3.2"/>
<circle cx="326.4" cy="316.6" r="3.2"/>
<circle cx="358.8" cy="326.8" r="3.2"/>
<circle cx="356.6" cy="313.6" r="3.2"/>
<circle cx="356.1" cy="292.8" r="3.2"/>
<circle cx="365.2" cy="294.8" r="3.2"/>
<circle cx="361.5" cy="298.3" r="3.2"/>
<circle cx="339.6" cy="310.1" r="3.2"/>
<circle cx="352.9" cy="311.3" r="3.2"/>
<circle cx="318.8" cy="300.8" r="3.2"/>
<circle cx="321.4" cy="290.7" r="3.2"/>
<circle cx="358.8" cy="288.9" r="3.2"/>
<circle cx="351.2" cy="302.5" r="3.2"/>
<circle cx="339.7" cy="306.2" r="3.2"/>
<circle cx="336.2" cy="300.6" r="3.2"/>
<circle cx="348.6" cy="315.3" r="3.2"/>
<circle cx="361.8" cy="307.2" r="3.2"/>
<circle cx="356.7" cy="294.6" r="3.2"/>
<circle cx="350.3" cy="300.8" r="3.2"/>
<circle cx="375.8" cy="324.6" r="3.2"/>
<circle cx="319.4" cy="294.2" r="3.2"/>
<circle cx="357.9" cy="291.5" r="3.2"/>
<circle cx="357.8" cy="316.5" r="3.2"/>
<circle cx="364.6" cy="298.1" r="3.2"/>
<circle cx="352.7" cy="293.0" r="3.2"/>
<circle cx="361.8" cy="291.5" r="3.2"/>
<circle cx="357.0" cy="307.9" r="3.2"/>
<circle cx="326.0" cy="315.9" r="3.2"/>
<circle cx="366.2" cy="294.8" r="3.2"/>
<circle cx="362.7" cy="295.4" r="3.2"/>
<circle cx="356.1" cy="304.7" r="3.2"/>
<circle cx="326.5" cy="297.0" r="3.2"/>
<circle cx="352.9" cy="302.4" r="3.2"/>
<circle cx="338.9" cy="310.1" r="3.2"/>
<circle cx="332.7" cy="291.8" r="3.2"/>
<circle cx="358.9" cy="292.7" r="3.2"/>
<circle cx="355.3" cy="290.8" r="3.2"/>
<circle cx="334.6" cy="301.3" r="3.2"/>
<circle cx="333.8" cy="311.1" r="3.2"/>
<circle cx="321.3" cy="307.1" r="3.2"/>
<circle cx="343.1" cy="298.3" r="3.2"/>
<circle cx="358.3" cy="291.1" r="3.2"/>
<circle cx="358.9" cy="303.9" r="3.2"/>
<circle cx="358.8" cy="312.2" r="3.2"/>
<circle cx="362.6" cy="325.5" r="3.2"/>
<circle cx="355.4" cy="308.4" r="3.2"/>
<circle cx="327.2" cy="314.5" r="3.2"/>
<circle cx="340.1" cy="290.7" r="3.2"/>
<circle cx="363.3" cy="308.1" r="3.2"/>
<circle cx="354.0" cy="311.2" r="3.2"/>
<circle cx="330.9" cy="290.3" r="3.2"/>
<circle cx="351.6" cy="289.1" r="3.2"/>
<circle cx="358.2" cy="300.8" r="3.2"/>
<circle cx="350.0" cy="301.6" r="3.2"/>
<circle cx="350.5" cy="304.0" r="3.2"/>
<circle cx="332.6" cy="319.5" r="3.2"/>
<circle cx="354.9" cy="291.7" r="3.2"/>
<circle cx="366.1" cy="302.2" r="3.2"/>
<circle cx="353.7" cy="320.9" r="3.2"/>
<circle cx="357.2" cy="301.4" r="3.2"/>
<circle cx="366.9" cy="320.9" r="3.2"/>
<circle cx="313.9" cy="308.2" r="3.2"/>
<circle cx="310.3" cy="316.9" r="3.2"/>
<circle cx="331.6" cy="293.2" r="3.2"/>
<circle cx="355.2" cy="304.6" r="3.2"/>
<circle cx="355.0" cy="306.9" r="3.2"/>
<circle cx="332.9" cy="300.0" r="3.2"/>
<circle cx="349.2" cy="305.0" r="3.2"/>
<circle cx="322.7" cy="309.2" r="3.2"/>
<circle cx="330.3" cy="297.6" r="3.2"/>
<circle cx="374.6" cy="296.3" r="3.2"/>
<circle cx="332.4" cy="294.0" r="3.2"/>
<circle cx="327.4" cy="302.3" r="3.2"/>
<circle cx="325.6" cy="288.9" r="3.2"/>
<circle cx="354.0" cy="294.6" r="3.2"/>
<circle cx="336.3" cy="302.6" r="3.2"/>
<circle cx="357.3" cy="304.4" r="3.2"/>
<circle cx="350.6" cy="294.6" r="3.2"/>
<circle cx="354.4" cy="292.6" r="3.2"/>
<circle cx="328.4" cy="300.7" r="3.2"/>
<circle cx="355.2" cy="293.7" r="3.2"/>
<circle cx="368.3" cy="290.1" r="3.2"/>
<circle cx="360.6" cy="309.5" r="3.2"/>
<circle cx="381.0" cy="298.1" r="3.2"/>
<circle cx="327.0" cy="308.1" r="3.2"/>
<circle cx="363.8" cy="291.7" r="3.2"/>
<circle cx="350.9" cy="305.4" r="3.2"/>
<circle cx="328.9" cy="303.7" r="3.2"/>
<circle cx="368.6" cy="294.6" r="3.2"/>
<circle cx="351.0" cy="301.1" r="3.2"/>
<circle cx="365.0" cy="298.1" r="3.2"/>
<circle cx="354.9" cy="329.1" r="3.2"/>
<circle cx="331.4" cy="294.3" r="3.2"/>
<circle cx="324.0" cy="320.2" r="3.2"/>
<circle cx="359.7" cy="322.6" r="3.2"/>
<circle cx="363.7" cy="305.0" r="3.2"/>
<circle cx="366.0" cy="327.5" r="3.2"/>
<circle cx="336.1" cy="300.0" r="3.2"/>
<circle cx="325.0" cy="301.8" r="3.2"/>
<circle cx="352.9" cy="297.2" r="3.2"/>
<circle cx="341.0" cy="292.5" r="3.2"/>
<circle cx="333.2" cy="320.5" r="3.2"/>
<circle cx="360.1" cy="309.6" r="3.2"/>
<circle cx="350.6" cy="293.0" r="3.2"/>
<circle cx="327.7" cy="311.9" r="3.2"/>
<circle cx="317.7" cy="294.2" r="3.2"/>
<circle cx="323.3" cy="322.3" r="3.2"/>
<circle cx="336.0" cy="299.7" r="3.2"/>
<circle cx="339.5" cy="291.8" r="3.2"/>
<circle cx="327.5" cy="321.1" r="3.2"/>
<circle cx="337.0" cy="293.1" r="3.2"/>
<circle cx="352.6" cy="298.8" r="3.2"/>
<circle cx="355.5" cy="292.1" r="3.2"/>
<circle cx="368.9" cy="316.5" r="3.2"/>
<circle cx="356.1" cy="302.0" r="3.2"/>
<circle cx="325.8" cy="323.0" r="3.2"/>
<circle cx="357.2" cy="297.7" r="3.2"/>
<circle cx="326.9" cy="289.7" r="3.2"/>
<circle cx="362.6" cy="301.5" r="3.2"/>
<circle cx="364.3" cy="297.0" r="3.2"/>
<circle cx="352.7" cy="316.8" r="3.2"/>
<circle cx="336.2" cy="308.2" r="3.2"/>
<circle cx="340.0" cy="293.2" r="3.2"/>
<circle cx="330.1" cy="293.0" r="3.2"/>
<circle cx="353.5" cy="334.7" r="3.2"/>
<circle cx="363.0" cy="317.2" r="3.2"/>
<circle cx="364.4" cy="300.2" r="3.2"/>
<circle cx="354.9" cy="295.5" r="3.2"/>
<circle cx="350.5" cy="304.4" r="3.2"/>
<circle cx="334.3" cy="295.8" r="3.2"/>
<circle cx="358.5" cy="315.5" r="3.2"/>
<circle cx="330.2" cy="298.8" r="3.2"/>
<circle cx="355.4" cy="320.6" r="3.2"/>
<circle cx="357.7" cy="314.7" r="3.2"/>
<circle cx="353.2" cy="316.7" r="3.2"/>
<circle cx="360.9" cy="291.4" r="3.2"/>
<circle cx="354.9" cy="291.9" r="3.2"/>
<circle cx="349.5" cy="335.0" r="3.2"/>
<circle cx="353.6" cy="294.4" r="3.2"/>
<circle cx="372.6" cy="293.6" r="3.2"/>
<circle cx="362.1" cy="318.3" r="3.2"/>
<circle cx="326.1" cy="316.8" r="3.2"/>
<circle cx="354.6" cy="310.8" r="3.2"/>
<circle cx="348.2" cy="314.0" r="3.2"/>
<circle cx="357.6" cy="304.5" r="3.2"/>
<circle cx="335.5" cy="313.0" r="3.2"/>
<circle cx="339.2" cy="305.6" r="3.2"/>
<circle cx="339.6" cy="300.2" r="3.2"/>
<circle cx="332.8" cy="293.4" r="3.2"/>
<circle cx="361.5" cy="314.0" r="3.2"/>
<circle cx="334.1" cy="306.0" r="3.2"/>
<circle cx="357.4" cy="315.1" r="3.2"/>
<circle cx="353.2" cy="296.0" r="3.2"/>
<circle cx="332.1" cy="305.4" r="3.2"/>
<circle cx="339.2" cy="302.6" r="3.2"/>
<circle cx="333.2" cy="302.0" r="3.2"/>
<circle cx="368.3" cy="303.3" r="3.2"/>
<circle cx="336.4" cy="291.5" r="3.2"/>
<circle cx="353.4" cy="299.8" r="3.2"/>
<circle cx="357.5" cy="290.4" r="3.2"/>
<circle cx="362.8" cy="303.0" r="3.2"/>
<circle cx="356.7" cy="295.0" r="3.2"/>
<circle cx="362.0" cy="338.1" r="3.2"/>
<circle cx="354.4" cy="313.8" r="3.2"/>
<circle cx="356.0" cy="303.5" r="3.2"/>
<circle cx="360.8" cy="297.2" r="3.2"/>
<circle cx="324.6" cy="289.1" r="3.2"/>
<circle cx="352.8" cy="292.9" r="3.2"/>
<circle cx="330.8" cy="288.9" r="3.2"/>
<circle cx="360.6" cy="307.9" r="3.2"/>
<circle cx="365.6" cy="323.4" r="3.2"/>
<circle cx="348.0" cy="293.0" r="3.2"/>
<circle cx="351.6" cy="306.1" r="3.2"/>
<circle cx="361.4" cy="317.2" r="3.2"/>
<circle cx="327.9" cy="309.5" r="3.2"/>
<circle cx="322.6" cy="294.8" r="3.2"/>
<circle cx="345.1" cy="325.3" r="3.2"/>
<circle cx="369.1" cy="291.4" r="3.2"/>
<circle cx="348.5" cy="313.8" r="3.2"/>
<circle cx="330.7" cy="299.6" r="3.2"/>
<circle cx="351.8" cy="292.9" r="3.2"/>
<circle cx="357.2" cy="296.9" r="3.2"/>
<circle cx="363.6" cy="317.5" r="3.2"/>
<circle cx="362.0" cy="300.2" r="3.2"/>
<circle cx="358.6" cy="319.8" r="3.2"/>
<circle cx="323.4" cy="293.5" r="3.2"/>
<circle cx="364.0" cy="290.6" r="3.2"/>
<circle cx="353.4" cy="311.1" r="3.2"/>
<circle cx="362.8" cy="296.8" r="3.2"/>
<circle cx="344.8" cy="310.9" r="3.2"/>
<circle cx="330.3" cy="292.9" r="3.2"/>
<circle cx="358.2" cy="308.9" r="3.2"/>
<circle cx="353.7" cy="291.3" r="3.2"/>
<circle cx="326.5" cy="314.3" r="3.2"/>
<circle cx="370.4" cy="306.1" r="3.2"/>
<circle cx="330.7" cy="292.8" r="3.2"/>
<circle cx="322.7" cy="295.0" r="3.2"/>
<circle cx="353.1" cy="337.3" r="3.2"/>
<circle cx="349.5" cy="306.7" r="3.2"/>
<circle cx="360.1" cy="301.7" r="3.2"/>
<circle cx="351.2" cy="306.3" r="3.2"/>
<circle cx="355.7" cy="290.1" r="3.2"/>
<circle cx="360.9" cy="293.7" r="3.2"/>
<circle cx="338.3" cy="309.9" r="3.2"/>
<circle cx="330.6" cy="299.6" r="3.2"/>
<circle cx="324.4" cy="321.5" r="3.2"/>
<circle cx="366.1" cy="315.9" r="3.2"/>
<circle cx="364.0" cy="298.7" r="3.2"/>
<circle cx="355.1" cy="305.3" r="3.2"/>
<circle cx="330.5" cy="295.0" r="3.2"/>
<circle cx="338.7" cy="298.0" r="3.2"/>
<circle cx="361.1" cy="293.6" r="3.2"/>
<circle cx="361.4" cy="307.8" r="3.2"/>
<circle cx="353.2" cy="293.8" r="3.2"/>
<circle cx="358.2" cy="296.0" r="3.2"/>
<circle cx="353.5" cy="299.3" r="3.2"/>
<circle cx="356.1" cy="315.5" r="3.2"/>
<circle cx="357.9" cy="305.0" r="3.2"/>
<circle cx="331.7" cy="298.4" r="3.2"/>
<circle cx="339.1" cy="302.7" r="3.2"/>
<circle cx="350.0" cy="318.3" r="3.2"/>
<circle cx="334.8" cy="295.9" r="3.2"/>
<circle cx="355.3" cy="293.4" r="3.2"/>
<circle cx="358.6" cy="300.0" r="3.2"/>
<circle cx="352.2" cy="342.0" r="3.2"/>
<circle cx="333.3" cy="310.6" r="3.2"/>
<circle cx="360.2" cy="315.4" r="3.2"/>
<circle cx="329.8" cy="300.8" r="3.2"/>
<circle cx="365.4" cy="296.4" r="3.2"/>
<circle cx="335.4" cy="307.9" r="3.2"/>
<circle cx="331.0" cy="292.8" r="3.2"/>
<circle cx="329.7" cy="293.9" r="3.2"/>
<circle cx="367.0" cy="289.8" r="3.2"/>
<circle cx="337.2" cy="293.7" r="3.2"/>
<circle cx="332.7" cy="291.9" r="3.2"/>
<circle cx="362.0" cy="294.3" r="3.2"/>
<circle cx="336.1" cy="291.4" r="3.2"/>
<circle cx="356.7" cy="294.8" r="3.2"/>
<circle cx="333.0" cy="290.2" r="3.2"/>
<circle cx="357.0" cy="301.1" r="3.2"/>
<circle cx="326.4" cy="320.1" r="3.2"/>
<circle cx="319.5" cy="295.1" r="3.2"/>
<circle cx="365.4" cy="300.5" r="3.2"/>
<circle cx="371.9" cy="292.8" r="3.2"/>
<circle cx="364.3" cy="299.4" r="3.2"/>
<circle cx="361.4" cy="300.0" r="3.2"/>
<circle cx="351.2" cy="314.4" r="3.2"/>
<circle cx="351.1" cy="294.8" r="3.2"/>
<circle cx="332.4" cy="310.4" r="3.2"/>
<circle cx="325.3" cy="293.0" r="3.2"/>
<circle cx="351.9" cy="295.4" r="3.2"/>
<circle cx="354.2" cy="316.2" r="3.2"/>
<circle cx="352.5" cy="289.4" r="3.2"/>
<circle cx="353.2" cy="306.3" r="3.2"/>
<circle cx="354.5" cy="309.6" r="3.2"/>
<circle cx="319.9" cy="290.2" r="3.2"/>
<circle cx="340.3" cy="290.0" r="3.2"/>
<circle cx="365.9" cy="314.8" r="3.2"/>
<circle cx="329.0" cy="291.2" r="3.2"/>
<circle cx="320.5" cy="300.4" r="3.2"/>
<circle cx="327.8" cy="293.4" r="3.2"/>
<circle cx="332.6" cy="302.5" r="3.2"/>
<circle cx="372.3" cy="288.6" r="3.2"/>
<circle cx="357.8" cy="318.9" r="3.2"/>
<circle cx="335.3" cy="297.0" r="3.2"/>
<circle cx="328.8" cy="295.0" r="3.2"/>
<circle cx="336.1" cy="311.4" r="3.2"/>
<circle cx="349.0" cy="316.3" r="3.2"/>
<circle cx="352.8" cy="292.9" r="3.2"/>
<circle cx="333.2" cy="289.2" r="3.2"/>
<circle cx="369.3" cy="302.1" r="3.2"/>
<circle cx="349.5" cy="300.6" r="3.2"/>
<circle cx="325.7" cy="296.3" r="3.2"/>
<circle cx="328.0" cy="295.4" r="3.2"/>
<circle cx="325.0" cy="293.1" r="3.2"/>
<circle cx="350.1" cy="302.0" r="3.2"/>
<circle cx="362.5" cy="294.8" r="3.2"/>
<circle cx="342.3" cy="308.7" r="3.2"/>
<circle cx="362.8" cy="290.6" r="3.2"/>
<circle cx="331.1" cy="305.3" r="3.2"/>
<circle cx="334.5" cy="315.0" r="3.2"/>
<circle cx="360.4" cy="294.2" r="3.2"/>
<circle cx="365.2" cy="320.8" r="3.2"/>
<circle cx="352.6" cy="291.5" r="3.2"/>
<circle cx="323.0" cy="289.9" r="3.2"/>
<circle cx="350.8" cy="304.9" r="3.2"/>
<circle cx="363.3" cy="325.9" r="3.2"/>
<circle cx="355.9" cy="309.2" r="3.2"/>
<circle cx="350.3" cy="292.4" r="3.2"/>
<circle cx="356.3" cy="298.8" r="3.2"/>
<circle cx="334.7" cy="333.2" r="3.2"/>
<circle cx="338.6" cy="292.7" r="3.2"/>
<circle cx="356.0" cy="289.0" r="3.2"/>
<circle cx="337.6" cy="289.1" r="3.2"/>
<circle cx="353.7" cy="302.0" r="3.2"/>
<circle cx="356.3" cy="291.1" r="3.2"/>
<circle cx="330.9" cy="293.3" r="3.2"/>
<circle cx="330.6" cy="313.5" r="3.2"/>
<circle cx="365.7" cy="299.8" r="3.2"/>
<circle cx="360.5" cy="304.1" r="3.2"/>
<circle cx="351.3" cy="314.4" r="3.2"/>
<circle cx="359.5" cy="329.9" r="3.2"/>
<circle cx="332.2" cy="289.1" r="3.2"/>
<circle cx="320.8" cy="324.9" r="3.2"/>
<circle cx="356.0" cy="296.7" r="3.2"/>
<circle cx="357.7" cy="303.9" r="3.2"/>
<circle cx="322.3" cy="296.9" r="3.2"/>
<circle cx="363.0" cy="308.0" r="3.2"/>
<circle cx="355.6" cy="299.2" r="3.2"/>
<circle cx="326.5" cy="316.6" r="3.2"/>
<circle cx="340.2" cy="294.5" r="3.2"/>
<circle cx="329.3" cy="307.2" r="3.2"/>
<circle cx="352.0" cy="295.9" r="3.2"/>
<circle cx="361.7" cy="298.0" r="3.2"/>
<circle cx="330.1" cy="325.4" r="3.2"/>
<circle cx="362.7" cy="321.4" r="3.2"/>
<circle cx="352.1" cy="308.9" r="3.2"/>
<circle cx="358.4" cy="321.7" r="3.2"/>
<circle cx="363.3" cy="314.4" r="3.2"/>
<circle cx="355.7" cy="297.8" r="3.2"/>
<circle cx="357.8" cy="292.8" r="3.2"/>
<circle cx="348.2" cy="291.3" r="3.2"/>
<circle cx="323.7" cy="327.3" r="3.2"/>
<circle cx="332.6" cy="295.8" r="3.2"/>
<circle cx="314.2" cy="300.4" r="3.2"/>
<circle cx="352.7" cy="303.4" r="3.2"/>
<circle cx="339.6" cy="296.1" r="3.2"/>
<circle cx="349.5" cy="316.5" r="3.2"/>
<circle cx="363.1" cy="288.6" r="3.2"/>
<circle cx="356.5" cy="319.8" r="3.2"/>
<circle cx="331.2" cy="303.4" r="3.2"/>
<circle cx="371.1" cy="296.3" r="3.2"/>
<circle cx="336.5" cy="303.4" r="3.2"/>
<circle cx="354.3" cy="323.8" r="3.2"/>
<circle cx="366.9" cy="290.4" r="3.2"/>
<circle cx="358.6" cy="311.3" r="3.2"/>
<circle cx="364.2" cy="306.3" r="3.2"/>
<circle cx="326.6" cy="308.2" r="3.2"/>
<circle cx="322.7" cy="315.3" r="3.2"/>
<circle cx="357.4" cy="304.1" r="3.2"/>
<circle cx="356.5" cy="303.7" r="3.2"/>
<circle cx="328.4" cy="308.9" r="3.2"/>
<circle cx="343.2" cy="314.0" r="3.2"/>
<circle cx="356.7" cy="303.7" r="3.2"/>
<circle cx="337.4" cy="318.1" r="3.2"/>
<circle cx="371.0" cy="333.9" r="3.2"/>
<circle cx="362.5" cy="290.1" r="3.2"/>
<circle cx="367.2" cy="307.2" r="3.2"/>
<circle cx="354.2" cy="290.6" r="3.2"/>
<circle cx="319.8" cy="300.9" r="3.2"/>
<circle cx="356.1" cy="291.4" r="3.2"/>
<circle cx="334.4" cy="297.8" r="3.2"/>
<circle cx="363.9" cy="306.8" r="3.2"/>
<circle cx="351.3" cy="306.0" r="3.2"/>
<circle cx="330.8" cy="319.6" r="3.2"/>
<circle cx="337.6" cy="302.2" r="3.2"/>
<circle cx="319.5" cy="311.8" r="3.2"/>
<circle cx="356.7" cy="289.3" r="3.2"/>
<circle cx="331.8" cy="300.5" r="3.2"/>
<circle cx="351.0" cy="294.9" r="3.2"/>
<circle cx="356.0" cy="296.6" r="3.2"/>
<circle cx="350.7" cy="298.6" r="3.2"/>
<circle cx="348.2" cy="298.6" r="3.2"/>
<circle cx="330.2" cy="311.3" r="3.2"/>
<circle cx="353.5" cy="313.9" r="3.2"/>
<circle cx="349.5" cy="300.0" r="3.2"/>
<circle cx="362.8" cy="309.4" r="3.2"/>
<circle cx="349.4" cy="289.5" r="3.2"/>
<circle cx="327.8" cy="288.6" r="3.2"/>
<circle cx="327.5" cy="337.3" r="3.2"/>
<circle cx="357.7" cy="303.1" r="3.2"/>
<circle cx="351.7" cy="323.3" r="3.2"/>
<circle cx="337.6" cy="292.6" r="3.2"/>
<circle cx="326.7" cy="304.2" r="3.2"/>
<circle cx="369.0" cy="307.5" r="3.2"/>
<circle cx="335.2" cy="322.1" r="3.2"/>
<circle cx="314.7" cy="289.0" r="3.2"/>
<circle cx="339.5" cy="306.7" r="3.2"/>
<circle cx="332.6" cy="325.1" r="3.2"/>
<circle cx="331.6" cy="304.3" r="3.2"/>
<circle cx="339.1" cy="298.9" r="3.2"/>
<circle cx="329.0" cy="296.7" r="3.2"/>
<circle cx="337.2" cy="292.3" r="3.2"/>
<circle cx="332.7" cy="296.8" r="3.2"/>
<circle cx="352.3" cy="298.8" r="3.2"/>
<circle cx="344.4" cy="305.3" r="3.2"/>
<circle cx="358.6" cy="307.8" r="3.2"/>
<circle cx="334.7" cy="294.4" r="3.2"/>
<circle cx="333.5" cy="312.9" r="3.2"/>
<circle cx="351.6" cy="314.1" r="3.2"/>
<circle cx="351.1" cy="313.9" r="3.2"/>
<circle cx="327.5" cy="307.1" r="3.2"/>
<circle cx="349.3" cy="292.2" r="3.2"/>
<circle cx="326.5" cy="302.7" r="3.2"/>
<circle cx="328.4" cy="307.4" r="3.2"/>
<circle cx="356.4" cy="300.5" r="3.2"/>
<circle cx="331.3" cy="314.3" r="3.2"/>
<circle cx="359.3" cy="300.9" r="3.2"/>
<circle cx="350.7" cy="303.1" r="3.2"/>
<circle cx="327.7" cy="293.4" r="3.2"/>
<circle cx="355.6" cy="296.7" r="3.2"/>
<circle cx="354.0" cy="303.5" r="3.2"/>
<circle cx="353.8" cy="313.8" r="3.2"/>
<circle cx="367.3" cy="312.6" r="3.2"/>
<circle cx="354.3" cy="302.2" r="3.2"/>
<circle cx="324.9" cy="295.9" r="3.2"/>
<circle cx="348.7" cy="293.9" r="3.2"/>
<circle cx="334.6" cy="328.1" r="3.2"/>
<circle cx="331.6" cy="297.0" r="3.2"/>
<circle cx="334.5" cy="311.2" r="3.2"/>
<circle cx="337.4" cy="293.5" r="3.2"/>
<circle cx="357.4" cy="301.4" r="3.2"/>
<circle cx="315.1" cy="299.9" r="3.2"/>
<circle cx="348.2" cy="344.7" r="3.2"/>
<circle cx="366.4" cy="307.1" r="3.2"/>
<circle cx="362.4" cy="305.8" r="3.2"/>
<circle cx="331.2" cy="289.0" r="3.2"/>
<circle cx="340.2" cy="311.5" r="3.2"/>
<circle cx="339.6" cy="301.1" r="3.2"/>
<circle cx="350.0" cy="312.7" r="3.2"/>
<circle cx="327.8" cy="297.4" r="3.2"/>
<circle cx="330.4" cy="304.2" r="3.2"/>
<circle cx="331.7" cy="308.1" r="3.2"/>
<circle cx="359.5" cy="290.4" r="3.2"/>
<circle cx="362.8" cy="310.3" r="3.2"/>
<circle cx="363.1" cy="297.1" r="3.2"/>
<circle cx="359.2" cy="302.3" r="3.2"/>
<circle cx="349.0" cy="289.2" r="3.2"/>
<circle cx="331.5" cy="294.0" r="3.2"/>
<circle cx="350.7" cy="339.2" r="3.2"/>
<circle cx="322.7" cy="309.0" r="3.2"/>
<circle cx="372.9" cy="307.6" r="3.2"/>
<circle cx="359.4" cy="308.5" r="3.2"/>
<circle cx="332.4" cy="290.3" r="3.2"/>
<circle cx="360.0" cy="318.3" r="3.2"/>
<circle cx="336.0" cy="290.3" r="3.2"/>
<circle cx="338.0" cy="314.3" r="3.2"/>
<circle cx="350.4" cy="335.4" r="3.2"/>
<circle cx="348.9" cy="313.4" r="3.2"/>
<circle cx="339.8" cy="298.5" r="3.2"/>
<circle cx="363.6" cy="309.8" r="3.2"/>
<circle cx="349.8" cy="309.4" r="3.2"/>
<circle cx="376.5" cy="301.3" r="3.2"/>
<circle cx="354.2" cy="297.2" r="3.2"/>
<circle cx="323.8" cy="301.4" r="3.2"/>
<circle cx="355.2" cy="290.2" r="3.2"/>
<circle cx="361.7" cy="313.2" r="3.2"/>
<circle cx="336.7" cy="301.3" r="3.2"/>
<circle cx="349.0" cy="317.8" r="3.2"/>
<circle cx="337.4" cy="301.1" r="3.2"/>
<circle cx="320.7" cy="300.4" r="3.2"/>
<circle cx="359.6" cy="302.8" r="3.2"/>
<circle cx="339.5" cy="294.1" r="3.2"/>
<circle cx="335.6" cy="304.0" r="3.2"/>
<circle cx="366.9" cy="290.1" r="3.2"/>
<circle cx="354.7" cy="305.3" r="3.2"/>
<circle cx="340.9" cy="294.1" r="3.2"/>
<circle cx="324.4" cy="294.8" r="3.2"/>
<circle cx="366.4" cy="295.6" r="3.2"/>
<circle cx="358.0" cy="291.6" r="3.2"/>
<circle cx="331.3" cy="291.3" r="3.2"/>
<circle cx="353.2" cy="308.5" r="3.2"/>
<circle cx="349.9" cy="291.2" r="3.2"/>
<circle cx="356.7" cy="304.0" r="3.2"/>
<circle cx="360.9" cy="321.6" r="3.2"/>
<circle cx="366.6" cy="290.4" r="3.2"/>
<circle cx="339.8" cy="302.5" r="3.2"/>
<circle cx="349.2" cy="305.6" r="3.2"/>
<circle cx="338.6" cy="295.0" r="3.2"/>
<circle cx="349.3" cy="296.3" r="3.2"/>
<circle cx="361.1" cy="317.5" r="3.2"/>
<circle cx="348.2" cy="306.7" r="3.2"/>
<circle cx="362.6" cy="305.9" r="3.2"/>
<circle cx="358.4" cy="308.2" r="3.2"/>
<circle cx="353.9" cy="289.3" r="3.2"/>
<circle cx="332.2" cy="316.3" r="3.2"/>
<circle cx="353.2" cy="303.2" r="3.2"/>
<circle cx="350.6" cy="321.7" r="3.2"/>
<circle cx="355.8" cy="303.4" r="3.2"/>
<circle cx="364.3" cy="297.0" r="3.2"/>
<circle cx="357.2" cy="296.3" r="3.2"/>
<circle cx="367.0" cy="288.7" r="3.2"/>
<circle cx="365.1" cy="307.9" r="3.2"/>
<circle cx="335.0" cy="288.8" r="3.2"/>
<circle cx="328.4" cy="294.4" r="3.2"/>
<circle cx="343.3" cy="332.0" r="3.2"/>
<circle cx="369.0" cy="299.3" r="3.2"/>
<circle cx="355.0" cy="301.2" r="3.2"/>
<circle cx="334.0" cy="297.9" r="3.2"/>
<circle cx="360.0" cy="335.8" r="3.2"/>
<circle cx="357.4" cy="294.7" r="3.2"/>
<circle cx="351.2" cy="310.3" r="3.2"/>
<circle cx="348.4" cy="289.1" r="3.2"/>
<circle cx="364.7" cy="302.5" r="3.2"/>
<circle cx="363.0" cy="322.2" r="3.2"/>
<circle cx="356.4" cy="304.0" r="3.2"/>
<circle cx="357.4" cy="317.4" r="3.2"/>
<circle cx="358.3" cy="306.6" r="3.2"/>
<circle cx="353.1" cy="302.1" r="3.2"/>
<circle cx="362.4" cy="306.7" r="3.2"/>
<circle cx="352.0" cy="296.8" r="3.2"/>
<circle cx="363.1" cy="295.9" r="3.2"/>
<circle cx="324.1" cy="297.2" r="3.2"/>
<circle cx="356.2" cy="303.2" r="3.2"/>
<circle cx="365.5" cy="306.6" r="3.2"/>
<circle cx="352.2" cy="304.4" r="3.2"/>
<circle cx="354.3" cy="300.3" r="3.2"/>
<circle cx="331.8" cy="297.0" r="3.2"/>
<circle cx="362.1" cy="307.6" r="3.2"/>
<circle cx="355.4" cy="304.3" r="3.2"/>
<circle cx="367.3" cy="301.7" r="3.2"/>
<circle cx="354.8" cy="333.0" r="3.2"/>
<circle cx="336.1" cy="289.1" r="3.2"/>
<circle cx="364.0" cy="310.1" r="3.2"/>
<circle cx="327.4" cy="312.2" r="3.2"/>
<circle cx="357.1" cy="304.7" r="3.2"/>
<circle cx="336.4" cy="308.8" r="3.2"/>
<circle cx="352.2" cy="306.2" r="3.2"/>
<circle cx="328.3" cy="323.2" r="3.2"/>
<circle cx="359.5" cy="310.0" r="3.2"/>
<circle cx="322.0" cy="296.7" r="3.2"/>
<circle cx="353.2" cy="300.8" r="3.2"/>
<circle cx="354.8" cy="302.0" r="3.2"/>
<circle cx="319.9" cy="309.4" r="3.2"/>
<circle cx="356.9" cy="296.2" r="3.2"/>
<circle cx="364.6" cy="304.1" r="3.2"/>
<circle cx="358.6" cy="293.5" r="3.2"/>
<circle cx="351.2" cy="326.1" r="3.2"/>
<circle cx="356.6" cy="303.2" r="3.2"/>
<circle cx="350.6" cy="322.7" r="3.2"/>
<circle cx="347.0" cy="309.4" r="3.2"/>
<circle cx="334.4" cy="297.2" r="3.2"/>
<circle cx="352.7" cy="300.8" r="3.2"/>
<circle cx="354.9" cy="289.0" r="3.2"/>
<circle cx="335.5" cy="289.0" r="3.2"/>
<circle cx="356.9" cy="332.6" r="3.2"/>
<circle cx="356.9" cy="322.3" r="3.2"/>
<circle cx="321.6" cy="297.2" r="3.2"/>
<circle cx="324.1" cy="292.9" r="3.2"/>
<circle cx="363.7" cy="304.0" r="3.2"/>
<circle cx="347.4" cy="290.6" r="3.2"/>
<circle cx="325.1" cy="305.2" r="3.2"/>
<circle cx="358.5" cy="295.4" r="3.2"/>
<circle cx="333.8" cy="309.5" r="3.2"/>
<circle cx="322.2" cy="308.0" r="3.2"/>
<circle cx="362.0" cy="290.5" r="3.2"/>
<circle cx="350.0" cy="317.5" r="3.2"/>
<circle cx="332.7" cy="318.2" r="3.2"/>
<circle cx="356.1" cy="315.5" r="3.2"/>
<circle cx="330.6" cy="324.2" r="3.2"/>
<circle cx="324.0" cy="322.5" r="3.2"/>
<circle cx="337.5" cy="315.6" r="3.2"/>
<circle cx="354.1" cy="289.4" r="3.2"/>
<circle cx="324.5" cy="290.2" r="3.2"/>
<circle cx="338.2" cy="297.6" r="3.2"/>
<circle cx="327.0" cy="291.7" r="3.2"/>
<circle cx="339.4" cy="296.1" r="3.2"/>
<circle cx="380.8" cy="320.5" r="3.2"/>
<circle cx="324.3" cy="290.7" r="3.2"/>
<circle cx="358.4" cy="302.2" r="3.2"/>
<circle cx="367.0" cy="329.0" r="3.2"/>
<circle cx="334.9" cy="298.8" r="3.2"/>
<circle cx="348.3" cy="297.0" r="3.2"/>
<circle cx="337.9" cy="288.7" r="3.2"/>
<circle cx="362.4" cy="310.7" r="3.2"/>
<circle cx="361.6" cy="289.2" r="3.2"/>
<circle cx="352.9" cy="296.4" r="3.2"/>
<circle cx="353.1" cy="306.2" r="3.2"/>
<circle cx="354.0" cy="322.1" r="3.2"/>
<circle cx="351.5" cy="297.7" r="3.2"/>
<circle cx="361.4" cy="304.2" r="3.2"/>
<circle cx="353.1" cy="291.9" r="3.2"/>
<circle cx="335.0" cy="309.2" r="3.2"/>
<circle cx="332.6" cy="314.2" r="3.2"/>
<circle cx="331.8" cy="301.7" r="3.2"/>
<circle cx="354.5" cy="303.8" r="3.2"/>
<circle cx="356.9" cy="291.8" r="3.2"/>
<circle cx="359.1" cy="295.7" r="3.2"/>
<circle cx="357.1" cy="311.9" r="3.2"/>
<circle cx="354.5" cy="292.4" r="3.2"/>
<circle cx="331.1" cy="306.8" r="3.2"/>
<circle cx="354.0" cy="342.8" r="3.2"/>
<circle cx="327.3" cy="323.3" r="3.2"/>
<circle cx="328.7" cy="319.4" r="3.2"/>
<circle cx="354.9" cy="303.1" r="3.2"/>
<circle cx="358.7" cy="314.7" r="3.2"/>
<circle cx="364.6" cy="309.2" r="3.2"/>
<circle cx="356.6" cy="300.6" r="3.2"/>
<circle cx="351.5" cy="296.4" r="3.2"/>
<circle cx="365.4" cy="297.4" r="3.2"/>
<circle cx="364.4" cy="327.0" r="3.2"/>
<circle cx="349.8" cy="295.8" r="3.2"/>
<circle cx="350.7" cy="334.0" r="3.2"/>
<circle cx="329.2" cy="289.3" r="3.2"/>
<circle cx="336.9" cy="311.1" r="3.2"/>
<circle cx="351.0" cy="318.8" r="3.2"/>
<circle cx="358.8" cy="299.6" r="3.2"/>
<circle cx="355.2" cy="293.1" r="3.2"/>
<circle cx="324.6" cy="293.6" r="3.2"/>
<circle cx="349.2" cy="304.8" r="3.2"/>
<circle cx="338.4" cy="312.2" r="3.2"/>
<circle cx="325.0" cy="289.6" r="3.2"/>
<circle cx="349.4" cy="289.2" r="3.2"/>
<circle cx="363.8" cy="320.3" r="3.2"/>
<circle cx="335.9" cy="301.7" r="3.2"/>
<circle cx="351.4" cy="293.4" r="3.2"/>
<circle cx="354.0" cy="294.2" r="3.2"/>
<circle cx="356.0" cy="316.1" r="3.2"/>
<circle cx="353.4" cy="296.7" r="3.2"/>
<circle cx="320.8" cy="302.1" r="3.2"/>
<circle cx="318.3" cy="301.4" r="3.2"/>
<circle cx="357.6" cy="292.0" r="3.2"/>
<circle cx="360.0" cy="289.1" r="3.2"/>
<circle cx="332.6" cy="294.5" r="3.2"/>
<circle cx="370.8" cy="301.3" r="3.2"/>
<circle cx="366.6" cy="308.7" r="3.2"/>
<circle cx="356.3" cy="295.6" r="3.2"/>
<circle cx="351.9" cy="302.0" r="3.2"/>
<circle cx="350.4" cy="308.0" r="3.2"/>
<circle cx="340.1" cy="309.9" r="3.2"/>
<circle cx="329.9" cy="299.8" r="3.2"/>
<circle cx="330.1" cy="341.4" r="3.2"/>
<circle cx="329.4" cy="301.4" r="3.2"/>
<circle cx="335.7" cy="297.3" r="3.2"/>
<circle cx="336.5" cy="292.6" r="3.2"/>
<circle cx="337.7" cy="294.7" r="3.2"/>
<circle cx="352.9" cy="306.6" r="3.2"/>
<circle cx="338.9" cy="338.7" r="3.2"/>
<circle cx="326.0" cy="295.8" r="3.2"/>
<circle cx="337.4" cy="312.4" r="3.2"/>
<circle cx="339.1" cy="295.5" r="3.2"/>
<circle cx="311.0" cy="289.7" r="3.2"/>
<circle cx="362.7" cy="292.6" r="3.2"/>
<circle cx="354.4" cy="308.5" r="3.2"/>
<circle cx="364.4" cy="312.3" r="3.2"/>
<circle cx="339.9" cy="289.6" r="3.2"/>
<circle cx="329.5" cy="306.0" r="3.2"/>
<circle cx="355.0" cy="291.1" r="3.2"/>
<circle cx="346.5" cy="319.4" r="3.2"/>
<circle cx="325.2" cy="295.8" r="3.2"/>
<circle cx="339.6" cy="290.9" r="3.2"/>
<circle cx="364.7" cy="321.6" r="3.2"/>
<circle cx="354.5" cy="311.6" r="3.2"/>
<circle cx="323.4" cy="294.6" r="3.2"/>
<circle cx="351.4" cy="291.1" r="3.2"/>
<circle cx="317.7" cy="314.6" r="3.2"/>
<circle cx="343.4" cy="300.4" r="3.2"/>
<circle cx="337.5" cy="307.0" r="3.2"/>
<circle cx="364.2" cy="316.5" r="3.2"/>
<circle cx="360.6" cy="315.4" r="3.2"/>
<circle cx="358.8" cy="297.6" r="3.2"/>
<circle cx="333.7" cy="311.6" r="3.2"/>
<circle cx="352.8" cy="299.4" r="3.2"/>
<circle cx="350.5" cy="299.0" r="3.2"/>
<circle cx="353.8" cy="314.9" r="3.2"/>
<circle cx="357.7" cy="296.5" r="3.2"/>
<circle cx="339.0" cy="295.6" r="3.2"/>
<circle cx="335.8" cy="334.0" r="3.2"/>
<circle cx="360.2" cy="296.6" r="3.2"/>
<circle cx="345.0" cy="317.5" r="3.2"/>
<circle cx="328.2" cy="290.6" r="3.2"/>
<circle cx="325.9" cy="313.4" r="3.2"/>
<circle cx="327.7" cy="341.9" r="3.2"/>
<circle cx="357.9" cy="303.9" r="3.2"/>
<circle cx="357.8" cy="296.6" r="3.2"/>
<circle cx="335.6" cy="300.4" r="3.2"/>
<circle cx="352.2" cy="308.3" r="3.2"/>
<circle cx="356.9" cy="309.4" r="3.2"/>
<circle cx="351.1" cy="293.5" r="3.2"/>
<circle cx="364.8" cy="310.3" r="3.2"/>
<circle cx="340.2" cy="294.3" r="3.2"/>
<circle cx="354.0" cy="318.2" r="3.2"/>
<circle cx="333.3" cy="289.3" r="3.2"/>
<circle cx="351.7" cy="300.3" r="3.2"/>
<circle cx="359.6" cy="301.4" r="3.2"/>
<circle cx="337.7" cy="295.1" r="3.2"/>
<circle cx="345.4" cy="290.2" r="3.2"/>
<circle cx="326.5" cy="296.9" r="3.2"/>
<circle cx="337.0" cy="296.1" r="3.2"/>
<circle cx="359.0" cy="302.1" r="3.2"/>
<circle cx="339.7" cy="342.6" r="3.2"/>
<circle cx="331.6" cy="292.8" r="3.2"/>
<circle cx="354.8" cy="291.0" r="3.2"/>
<circle cx="331.5" cy="306.6" r="3.2"/>
<circle cx="367.5" cy="310.1" r="3.2"/>
<circle cx="329.9" cy="302.7" r="3.2"/>
<circle cx="318.5" cy="297.2" r="3.2"/>
<circle cx="356.3" cy="292.0" r="3.2"/>
<circle cx="361.2" cy="297.8" r="3.2"/>
<circle cx="362.5" cy="293.2" r="3.2"/>
<circle cx="328.3" cy="297.9" r="3.2"/>
<circle cx="355.2" cy="315.6" r="3.2"/>
<circle cx="327.2" cy="307.5" r="3.2"/>
<circle cx="357.8" cy="301.0" r="3.2"/>
<circle cx="344.7" cy="317.6" r="3.2"/>
<circle cx="329.6" cy="310.8" r="3.2"/>
<circle cx="361.0" cy="315.1" r="3.2"/>
<circle cx="335.1" cy="327.0" r="3.2"/>
<circle cx="362.4" cy="307.4" r="3.2"/>
<circle cx="324.9" cy="296.1" r="3.2"/>
<circle cx="370.7" cy="291.7" r="3.2"/>
<circle cx="362.1" cy="301.1" r="3.2"/>
<circle cx="351.6" cy="323.1" r="3.2"/>
<circle cx="359.0" cy="306.3" r="3.2"/>
<circle cx="323.7" cy="306.1" r="3.2"/>
<circle cx="324.9" cy="308.1" r="3.2"/>
<circle cx="363.8" cy="310.5" r="3.2"/>
<circle cx="356.3" cy="289.4" r="3.2"/>
<circle cx="359.8" cy="312.3" r="3.2"/>
<circle cx="355.0" cy="291.6" r="3.2"/>
<circle cx="353.0" cy="295.0" r="3.2"/>
<circle cx="350.4" cy="290.3" r="3.2"/>
<circle cx="362.1" cy="296.9" r="3.2"/>
<circle cx="351.1" cy="311.7" r="3.2"/>
<circle cx="350.1" cy="298.1" r="3.2"/>
<circle cx="333.2" cy="295.2" r="3.2"/>
<circle cx="324.5" cy="311.9" r="3.2"/>
<circle cx="355.6" cy="312.9" r="3.2"/>
<circle cx="355.9" cy="262.0" r="3.2"/>
<circle cx="305.8" cy="291.9" r="3.2"/>
<circle cx="355.1" cy="254.1" r="3.2"/>
<circle cx="379.3" cy="217.0" r="3.2"/>
<circle cx="339.9" cy="263.1" r="3.2"/>
<circle cx="369.7" cy="323.7" r="3.2"/>
<circle cx="290.5" cy="257.8" r="3.2"/>
<circle cx="340.0" cy="294.2" r="3.2"/>
<circle cx="270.1" cy="289.1" r="3.2"/>
<circle cx="341.2" cy="259.1" r="3.2"/>
<circle cx="345.1" cy="291.3" r="3.2"/>
<circle cx="371.7" cy="238.8" r="3.2"/>
<circle cx="328.1" cy="306.2" r="3.2"/>
<circle cx="310.6" cy="312.0" r="3.2"/>
<circle cx="304.7" cy="263.2" r="3.2"/>
<circle cx="343.4" cy="265.1" r="3.2"/>
<circle cx="287.0" cy="254.1" r="3.2"/>
<circle cx="366.1" cy="244.4" r="3.2"/>
<circle cx="327.7" cy="295.5" r="3.2"/>
<circle cx="333.1" cy="242.3" r="3.2"/>
<circle cx="353.0" cy="297.2" r="3.2"/>
<circle cx="339.6" cy="298.9" r="3.2"/>
<circle cx="341.2" cy="304.9" r="3.2"/>
<circle cx="349.0" cy="292.7" r="3.2"/>
<circle cx="368.5" cy="309.4" r="3.2"/>
<circle cx="295.4" cy="302.5" r="3.2"/>
<circle cx="349.0" cy="309.8" r="3.2"/>
<circle cx="333.3" cy="248.5" r="3.2"/>
<circle cx="337.5" cy="290.3" r="3.2"/>
<circle cx="360.4" cy="345.6" r="3.2"/>
<circle cx="357.9" cy="260.0" r="3.2"/>
<circle cx="327.6" cy="300.6" r="3.2"/>
<circle cx="367.0" cy="264.5" r="3.2"/>
<circle cx="347.7" cy="291.1" r="3.2"/>
<circle cx="362.4" cy="327.9" r="3.2"/>
<circle cx="335.8" cy="323.3" r="3.2"/>
<circle cx="313.0" cy="310.8" r="3.2"/>
<circle cx="338.5" cy="248.0" r="3.2"/>
<circle cx="327.6" cy="243.0" r="3.2"/>
<circle cx="305.0" cy="289.5" r="3.2"/>
<circle cx="317.8" cy="226.3" r="3.2"/>
<circle cx="381.1" cy="257.6" r="3.2"/>
<circle cx="337.1" cy="349.3" r="3.2"/>
<circle cx="295.9" cy="309.9" r="3.2"/>
<circle cx="353.1" cy="288.9" r="3.2"/>
<circle cx="355.7" cy="245.7" r="3.2"/>
<circle cx="327.7" cy="255.4" r="3.2"/>
<circle cx="328.3" cy="207.7" r="3.2"/>
<circle cx="295.0" cy="293.2" r="3.2"/>
<circle cx="332.3" cy="290.8" r="3.2"/>
<circle cx="361.2" cy="292.1" r="3.2"/>
<circle cx="322.8" cy="258.3" r="3.2"/>
<circle cx="344.3" cy="303.0" r="3.2"/>
<circle cx="373.4" cy="350.2" r="3.2"/>
<circle cx="333.1" cy="290.4" r="3.2"/>
<circle cx="324.6" cy="316.0" r="3.2"/>
<circle cx="299.2" cy="224.5" r="3.2"/>
<circle cx="387.0" cy="250.6" r="3.2"/>
<circle cx="370.0" cy="350.4" r="3.2"/>
<circle cx="347.1" cy="259.5" r="3.2"/>
<circle cx="314.5" cy="289.7" r="3.2"/>
<circle cx="277.2" cy="250.8" r="3.2"/>
<circle cx="390.1" cy="239.5" r="3.2"/>
<circle cx="332.8" cy="312.0" r="3.2"/>
<circle cx="314.4" cy="308.3" r="3.2"/>
<circle cx="362.6" cy="264.5" r="3.2"/>
<circle cx="358.1" cy="257.0" r="3.2"/>
<circle cx="389.5" cy="310.1" r="3.2"/>
<circle cx="345.7" cy="262.9" r="3.2"/>
<circle cx="350.6" cy="318.9" r="3.2"/>
<circle cx="353.9" cy="250.1" r="3.2"/>
<circle cx="370.3" cy="347.2" r="3.2"/>
<circle cx="394.5" cy="324.0" r="3.2"/>
<circle cx="331.1" cy="337.7" r="3.2"/>
<circle cx="349.2" cy="288.9" r="3.2"/>
<circle cx="359.1" cy="298.0" r="3.2"/>
<circle cx="341.5" cy="261.5" r="3.2"/>
<circle cx="302.6" cy="242.4" r="3.2"/>
<circle cx="339.9" cy="259.5" r="3.2"/>
<circle cx="364.3" cy="300.1" r="3.2"/>
<circle cx="351.5" cy="296.3" r="3.2"/>
<circle cx="373.5" cy="310.1" r="3.2"/>
<circle cx="367.0" cy="259.4" r="3.2"/>
<circle cx="294.6" cy="254.8" r="3.2"/>
<circle cx="305.3" cy="289.6" r="3.2"/>
<circle cx="266.6" cy="239.0" r="3.2"/>
<circle cx="368.1" cy="301.2" r="3.2"/>
<circle cx="337.1" cy="316.8" r="3.2"/>
<circle cx="354.8" cy="293.9" r="3.2"/>
<circle cx="319.3" cy="297.2" r="3.2"/>
<circle cx="347.0" cy="309.8" r="3.2"/>
<circle cx="310.5" cy="259.8" r="3.2"/>
<circle cx="281.9" cy="291.5" r="3.2"/>
<circle cx="331.0" cy="302.9" r="3.2"/>
<circle cx="336.0" cy="264.4" r="3.2"/>
<circle cx="370.8" cy="315.6" r="3.2"/>
<circle cx="314.5" cy="228.4" r="3.2"/>
<circle cx="367.5" cy="304.0" r="3.2"/>
<circle cx="362.1" cy="307.5" r="3.2"/>
<circle cx="321.8" cy="226.4" r="3.2"/>
<circle cx="314.8" cy="289.9" r="3.2"/>
<circle cx="290.1" cy="290.9" r="3.2"/>
<circle cx="348.0" cy="289.9" r="3.2"/>
<circle cx="356.8" cy="328.5" r="3.2"/>
<circle cx="296.9" cy="251.7" r="3.2"/>
<circle cx="361.0" cy="307.0" r="3.2"/>
<circle cx="292.6" cy="322.2" r="3.2"/>
<circle cx="333.7" cy="254.2" r="3.2"/>
<circle cx="384.3" cy="296.4" r="3.2"/>
<circle cx="401.0" cy="318.1" r="3.2"/>
<circle cx="381.8" cy="248.2" r="3.2"/>
<circle cx="328.8" cy="259.2" r="3.2"/>
<circle cx="321.7" cy="240.5" r="3.2"/>
<circle cx="327.9" cy="291.7" r="3.2"/>
<circle cx="404.0" cy="237.6" r="3.2"/>
<circle cx="354.7" cy="306.8" r="3.2"/>
<circle cx="310.1" cy="289.4" r="3.2"/>
<circle cx="359.2" cy="261.4" r="3.2"/>
<circle cx="317.7" cy="242.2" r="3.2"/>
<circle cx="372.0" cy="289.7" r="3.2"/>
<circle cx="359.5" cy="254.5" r="3.2"/>
<circle cx="328.9" cy="262.0" r="3.2"/>
<circle cx="325.7" cy="259.7" r="3.2"/>
<circle cx="380.8" cy="256.0" r="3.2"/>
<circle cx="386.4" cy="300.3" r="3.2"/>
<circle cx="357.7" cy="255.0" r="3.2"/>
<circle cx="329.9" cy="259.6" r="3.2"/>
<circle cx="361.3" cy="312.3" r="3.2"/>
<circle cx="389.3" cy="257.4" r="3.2"/>
<circle cx="282.9" cy="293.5" r="3.2"/>
<circle cx="366.4" cy="259.1" r="3.2"/>
<circle cx="332.5" cy="262.7" r="3.2"/>
<circle cx="329.5" cy="314.6" r="3.2"/>
<circle cx="337.2" cy="298.5" r="3.2"/>
<circle cx="343.0" cy="244.0" r="3.2"/>
<circle cx="371.0" cy="215.5" r="3.2"/>
<circle cx="336.3" cy="245.2" r="3.2"/>
<circle cx="333.5" cy="298.7" r="3.2"/>
<circle cx="416.8" cy="315.3" r="3.2"/>
<circle cx="358.2" cy="245.3" r="3.2"/>
<circle cx="374.8" cy="332.9" r="3.2"/>
<circle cx="396.2" cy="307.8" r="3.2"/>
<circle cx="304.4" cy="246.7" r="3.2"/>
<circle cx="333.7" cy="297.6" r="3.2"/>
<circle cx="335.8" cy="247.0" r="3.2"/>
<circle cx="391.3" cy="295.5" r="3.2"/>
<circle cx="285.0" cy="292.7" r="3.2"/>
<circle cx="296.7" cy="353.6" r="3.2"/>
<circle cx="377.3" cy="258.4" r="3.2"/>
<circle cx="325.9" cy="302.3" r="3.2"/>
<circle cx="358.5" cy="226.2" r="3.2"/>
<circle cx="333.4" cy="309.4" r="3.2"/>
<circle cx="321.2" cy="245.7" r="3.2"/>
<circle cx="331.7" cy="292.9" r="3.2"/>
<circle cx="350.3" cy="303.1" r="3.2"/>
<circle cx="368.9" cy="254.0" r="3.2"/>
<circle cx="340.8" cy="217.2" r="3.2"/>
<circle cx="341.3" cy="313.0" r="3.2"/>
<circle cx="295.6" cy="257.4" r="3.2"/>
<circle cx="351.3" cy="263.1" r="3.2"/>
<circle cx="372.3" cy="341.2" r="3.2"/>
<circle cx="335.3" cy="313.0" r="3.2"/>
<circle cx="346.1" cy="241.5" r="3.2"/>
<circle cx="324.8" cy="252.8" r="3.2"/>
<circle cx="378.2" cy="295.1" r="3.2"/>
<circle cx="273.8" cy="294.9" r="3.2"/>
<circle cx="290.9" cy="294.1" r="3.2"/>
<circle cx="314.1" cy="250.8" r="3.2"/>
<circle cx="324.8" cy="204.1" r="3.2"/>
<circle cx="331.5" cy="299.4" r="3.2"/>
<circle cx="346.9" cy="236.9" r="3.2"/>
<circle cx="348.3" cy="337.9" r="3.2"/>
<circle cx="347.4" cy="289.4" r="3.2"/>
<circle cx="376.2" cy="262.9" r="3.2"/>
<circle cx="391.7" cy="220.6" r="3.2"/>
<circle cx="396.2" cy="240.3" r="3.2"/>
<circle cx="361.1" cy="251.8" r="3.2"/>
<circle cx="336.0" cy="224.3" r="3.2"/>
<circle cx="357.0" cy="223.5" r="3.2"/>
<circle cx="295.2" cy="260.2" r="3.2"/>
<circle cx="363.7" cy="323.8" r="3.2"/>
<circle cx="311.6" cy="303.2" r="3.2"/>
<circle cx="393.1" cy="209.6" r="3.2"/>
<circle cx="383.3" cy="253.6" r="3.2"/>
<circle cx="403.1" cy="289.5" r="3.2"/>
<circle cx="325.5" cy="303.8" r="3.2"/>
<circle cx="344.7" cy="220.8" r="3.2"/>
<circle cx="361.1" cy="261.6" r="3.2"/>
<circle cx="358.9" cy="213.8" r="3.2"/>
<circle cx="328.7" cy="331.2" r="3.2"/>
<circle cx="323.8" cy="256.3" r="3.2"/>
<circle cx="361.1" cy="207.4" r="3.2"/>
<circle cx="356.8" cy="263.1" r="3.2"/>
<circle cx="336.5" cy="262.9" r="3.2"/>
<circle cx="349.6" cy="260.8" r="3.2"/>
<circle cx="324.6" cy="288.9" r="3.2"/>
<circle cx="321.2" cy="318.2" r="3.2"/>
<circle cx="338.6" cy="314.3" r="3.2"/>
<circle cx="379.4" cy="264.7" r="3.2"/>
<circle cx="318.3" cy="292.2" r="3.2"/>
<circle cx="367.9" cy="265.0" r="3.2"/>
<circle cx="336.1" cy="261.5" r="3.2"/>
<circle cx="340.7" cy="239.7" r="3.2"/>
<circle cx="381.9" cy="306.8" r="3.2"/>
<circle cx="351.5" cy="263.8" r="3.2"/>
<circle cx="362.1" cy="321.1" r="3.2"/>
<circle cx="316.9" cy="304.2" r="3.2"/>
<circle cx="291.2" cy="298.5" r="3.2"/>
<circle cx="381.3" cy="253.9" r="3.2"/>
<circle cx="323.9" cy="318.7" r="3.2"/>
<circle cx="361.7" cy="221.9" r="3.2"/>
<circle cx="321.7" cy="294.3" r="3.2"/>
<circle cx="374.6" cy="288.6" r="3.2"/>
<circle cx="330.8" cy="326.2" r="3.2"/>
<circle cx="346.0" cy="295.2" r="3.2"/>
<circle cx="388.0" cy="297.0" r="3.2"/>
<circle cx="372.3" cy="300.8" r="3.2"/>
<circle cx="297.6" cy="264.4" r="3.2"/>
<circle cx="328.5" cy="257.2" r="3.2"/>
<circle cx="317.8" cy="322.0" r="3.2"/>
<circle cx="361.3" cy="308.5" r="3.2"/>
<circle cx="351.1" cy="201.5" r="3.2"/>
<circle cx="406.4" cy="261.3" r="3.2"/>
<circle cx="332.8" cy="295.4" r="3.2"/>
<circle cx="356.2" cy="290.6" r="3.2"/>
<circle cx="311.3" cy="263.3" r="3.2"/>
<circle cx="382.3" cy="247.6" r="3.2"/>
<circle cx="374.1" cy="263.0" r="3.2"/>
<circle cx="339.6" cy="294.3" r="3.2"/>
<circle cx="366.7" cy="231.0" r="3.2"/>
<circle cx="333.5" cy="263.1" r="3.2"/>
<circle cx="324.0" cy="260.8" r="3.2"/>
<circle cx="292.2" cy="251.9" r="3.2"/>
<circle cx="304.7" cy="361.0" r="3.2"/>
<circle cx="379.4" cy="264.6" r="3.2"/>
<circle cx="396.7" cy="342.5" r="3.2"/>
<circle cx="344.6" cy="302.4" r="3.2"/>
<circle cx="364.9" cy="251.1" r="3.2"/>
<circle cx="286.3" cy="259.9" r="3.2"/>
<circle cx="321.9" cy="232.8" r="3.2"/>
<circle cx="367.0" cy="308.4" r="3.2"/>
<circle cx="336.0" cy="341.9" r="3.2"/>
<circle cx="335.2" cy="258.1" r="3.2"/>
<circle cx="344.8" cy="309.6" r="3.2"/>
<circle cx="357.4" cy="230.5" r="3.2"/>
<circle cx="362.5" cy="256.7" r="3.2"/>
<circle cx="309.0" cy="257.7" r="3.2"/>
<circle cx="340.1" cy="299.8" r="3.2"/>
<circle cx="331.2" cy="310.2" r="3.2"/>
<circle cx="352.3" cy="223.8" r="3.2"/>
<circle cx="288.4" cy="250.9" r="3.2"/>
<circle cx="356.4" cy="256.3" r="3.2"/>
<circle cx="317.6" cy="290.3" r="3.2"/>
<circle cx="348.4" cy="325.4" r="3.2"/>
<circle cx="340.6" cy="208.2" r="3.2"/>
<circle cx="367.8" cy="212.4" r="3.2"/>
<circle cx="336.7" cy="251.4" r="3.2"/>
<circle cx="339.5" cy="323.6" r="3.2"/>
<circle cx="362.5" cy="342.8" r="3.2"/>
<circle cx="366.5" cy="295.5" r="3.2"/>
<circle cx="327.8" cy="310.6" r="3.2"/>
<circle cx="361.6" cy="263.3" r="3.2"/>
<circle cx="384.2" cy="250.8" r="3.2"/>
<circle cx="323.5" cy="333.9" r="3.2"/>
<circle cx="316.9" cy="299.1" r="3.2"/>
<circle cx="324.4" cy="302.5" r="3.2"/>
<circle cx="330.0" cy="229.3" r="3.2"/>
<circle cx="364.7" cy="243.8" r="3.2"/>
<circle cx="312.3" cy="240.3" r="3.2"/>
<circle cx="376.1" cy="288.9" r="3.2"/>
<circle cx="334.7" cy="224.4" r="3.2"/>
<circle cx="387.3" cy="292.1" r="3.2"/>
<circle cx="319.2" cy="304.4" r="3.2"/>
<circle cx="308.7" cy="258.8" r="3.2"/>
<circle cx="411.0" cy="244.8" r="3.2"/>
<circle cx="324.8" cy="256.6" r="3.2"/>
<circle cx="338.4" cy="309.1" r="3.2"/>
<circle cx="363.0" cy="245.8" r="3.2"/>
<circle cx="379.6" cy="261.6" r="3.2"/>
<circle cx="387.9" cy="290.7" r="3.2"/>
<circle cx="325.6" cy="225.9" r="3.2"/>
<circle cx="334.0" cy="316.7" r="3.2"/>
<circle cx="346.2" cy="265.2" r="3.2"/>
<circle cx="386.4" cy="233.4" r="3.2"/>
<circle cx="306.6" cy="259.4" r="3.2"/>
<circle cx="368.9" cy="320.7" r="3.2"/>
<circle cx="345.1" cy="246.3" r="3.2"/>
<circle cx="300.5" cy="291.3" r="3.2"/>
<circle cx="347.5" cy="230.4" r="3.2"/>
<circle cx="386.9" cy="262.1" r="3.2"/>
<circle cx="339.6" cy="344.9" r="3.2"/>
<circle cx="315.9" cy="305.0" r="3.2"/>
<circle cx="316.8" cy="230.6" r="3.2"/>
<circle cx="332.7" cy="298.8" r="3.2"/>
<circle cx="348.4" cy="249.9" r="3.2"/>
<circle cx="353.9" cy="290.5" r="3.2"/>
<circle cx="378.8" cy="327.3" r="3.2"/>
<circle cx="368.0" cy="252.2" r="3.2"/>
<circle cx="376.3" cy="231.4" r="3.2"/>
<circle cx="328.8" cy="299.7" r="3.2"/>
<circle cx="384.3" cy="258.5" r="3.2"/>
<circle cx="304.1" cy="309.9" r="3.2"/>
<circle cx="369.7" cy="303.5" r="3.2"/>
<circle cx="356.2" cy="335.7" r="3.2"/>
<circle cx="371.6" cy="290.2" r="3.2"/>
<circle cx="365.2" cy="289.6" r="3.2"/>
<circle cx="346.5" cy="257.4" r="3.2"/>
<circle cx="370.5" cy="299.6" r="3.2"/>
<circle cx="305.8" cy="297.9" r="3.2"/>
<circle cx="361.9" cy="301.0" r="3.2"/>
<circle cx="371.6" cy="253.6" r="3.2"/>
<circle cx="396.1" cy="315.3" r="3.2"/>
<circle cx="354.7" cy="312.9" r="3.2"/>
<circle cx="299.3" cy="321.1" r="3.2"/>
<circle cx="377.3" cy="261.8" r="3.2"/>
<circle cx="347.5" cy="264.8" r="3.2"/>
<circle cx="326.2" cy="241.9" r="3.2"/>
<circle cx="354.5" cy="301.2" r="3.2"/>
<circle cx="386.3" cy="257.8" r="3.2"/>
<circle cx="311.2" cy="297.3" r="3.2"/>
<circle cx="357.7" cy="318.9" r="3.2"/>
<circle cx="382.1" cy="236.6" r="3.2"/>
<circle cx="374.5" cy="234.9" r="3.2"/>
<circle cx="321.0" cy="300.2" r="3.2"/>
<circle cx="390.5" cy="290.7" r="3.2"/>
<circle cx="328.5" cy="344.9" r="3.2"/>
<circle cx="365.3" cy="312.2" r="3.2"/>
<circle cx="279.1" cy="350.9" r="3.2"/>
<circle cx="338.2" cy="259.3" r="3.2"/>
<circle cx="331.6" cy="261.5" r="3.2"/>
<circle cx="353.4" cy="254.6" r="3.2"/>
<circle cx="334.6" cy="255.6" r="3.2"/>
<circle cx="337.4" cy="321.7" r="3.2"/>
<circle cx="324.8" cy="248.9" r="3.2"/>
<circle cx="320.4" cy="292.2" r="3.2"/>
<circle cx="361.9" cy="248.2" r="3.2"/>
<circle cx="373.2" cy="259.8" r="3.2"/>
<circle cx="318.1" cy="249.7" r="3.2"/>
<circle cx="315.4" cy="299.4" r="3.2"/>
<circle cx="370.6" cy="251.4" r="3.2"/>
<circle cx="353.3" cy="260.8" r="3.2"/>
<circle cx="342.2" cy="329.1" r="3.2"/>
<circle cx="348.5" cy="296.5" r="3.2"/>
<circle cx="325.9" cy="247.0" r="3.2"/>
<circle cx="360.1" cy="193.6" r="3.2"/>
<circle cx="368.2" cy="302.6" r="3.2"/>
<circle cx="299.9" cy="290.1" r="3.2"/>
<circle cx="322.0" cy="253.9" r="3.2"/>
<circle cx="372.0" cy="292.7" r="3.2"/>
<circle cx="311.0" cy="210.9" r="3.2"/>
<circle cx="358.5" cy="297.3" r="3.2"/>
<circle cx="354.1" cy="227.5" r="3.2"/>
<circle cx="329.4" cy="227.4" r="3.2"/>
<circle cx="329.9" cy="220.2" r="3.2"/>
<circle cx="307.3" cy="288.6" r="3.2"/>
<circle cx="343.9" cy="242.1" r="3.2"/>
<circle cx="327.5" cy="331.9" r="3.2"/>
<circle cx="320.8" cy="258.0" r="3.2"/>
<circle cx="387.5" cy="292.6" r="3.2"/>
<circle cx="347.0" cy="298.6" r="3.2"/>
<circle cx="337.7" cy="338.8" r="3.2"/>
<circle cx="312.7" cy="292.2" r="3.2"/>
<circle cx="287.6" cy="251.9" r="3.2"/>
<circle cx="372.6" cy="302.6" r="3.2"/>
<circle cx="346.8" cy="229.1" r="3.2"/>
<circle cx="360.8" cy="297.6" r="3.2"/>
<circle cx="272.2" cy="238.5" r="3.2"/>
<circle cx="289.0" cy="249.5" r="3.2"/>
<circle cx="275.0" cy="274.2" r="3.2"/>
<circle cx="294.6" cy="261.9" r="3.2"/>
<circle cx="283.4" cy="296.2" r="3.2"/>
<circle cx="291.8" cy="308.6" r="3.2"/>
<circle cx="303.0" cy="321.0" r="3.2"/>
<circle cx="297.4" cy="340.2" r="3.2"/>
<circle cx="308.6" cy="351.2" r="3.2"/>
<circle cx="319.9" cy="356.8" r="3.2"/>
<circle cx="339.5" cy="197.2" r="3.2"/>
<circle cx="350.7" cy="205.5" r="3.2"/>
<circle cx="359.1" cy="200.0" r="3.2"/>
<circle cx="373.2" cy="219.2" r="3.2"/>
<circle cx="390.0" cy="252.2" r="3.2"/>
<circle cx="395.6" cy="241.2" r="3.2"/>
<circle cx="404.0" cy="260.5" r="3.2"/>
<circle cx="398.4" cy="294.9" r="3.2"/>
<circle cx="406.8" cy="304.5" r="3.2"/>
<circle cx="387.2" cy="345.8" r="3.2"/>
<circle cx="364.7" cy="344.4" r="3.2"/>
<circle cx="325.5" cy="209.6" r="3.2"/>
<circle cx="317.1" cy="222.0" r="3.2"/>
<circle cx="304.7" cy="227.5" r="3.2"/>
<circle cx="347.9" cy="213.8" r="3.2"/>
<circle cx="331.1" cy="216.5" r="3.2"/>
<circle cx="418.0" cy="290.8" r="3.2"/>
<circle cx="266.6" cy="288.0" r="3.2"/>
</g>
<line x1="255.2" y1="266.6" x2="436.0" y2="266.6" stroke="#6a6a6a" stroke-width="1.2" stroke-dasharray="11,12" stroke-dashoffset="0"/>
<line x1="255.2" y1="289.6" x2="436.0" y2="289.6" stroke="#6a6a6a" stroke-width="1.2" stroke-dasharray="11,12" stroke-dashoffset="0"/>
<line x1="318.6" y1="193.8" x2="318.6" y2="366.0" stroke="#6a6a6a" stroke-width="1.2" stroke-dasharray="11,12.1" stroke-dashoffset="0"/>
<line x1="372.0" y1="193.8" x2="372.0" y2="366.0" stroke="#6a6a6a" stroke-width="1.2" stroke-dasharray="11,12.1" stroke-dashoffset="0"/>
<line x1="260.5" y1="203.0" x2="260.5" y2="212.0" stroke="#222" stroke-width="0.6"/>
<line x1="273.0" y1="213.0" x2="263.0" y2="219.7" stroke="#222" stroke-width="0.6"/>
<line x1="308.0" y1="222.0" x2="313.0" y2="226.5" stroke="#222" stroke-width="0.6"/>
<line x1="326.0" y1="223.0" x2="321.0" y2="236.0" stroke="#222" stroke-width="0.6"/>
<line x1="311.0" y1="243.0" x2="317.0" y2="247.0" stroke="#222" stroke-width="0.6"/>
<line x1="308.0" y1="256.0" x2="318.0" y2="250.0" stroke="#222" stroke-width="0.6"/>
<line x1="339.0" y1="236.0" x2="335.0" y2="246.0" stroke="#222" stroke-width="0.6"/>
<line x1="337.0" y1="251.0" x2="344.0" y2="253.0" stroke="#222" stroke-width="0.6"/>
<line x1="344.0" y1="253.0" x2="352.0" y2="273.5" stroke="#222" stroke-width="0.6"/>
<line x1="330.0" y1="268.0" x2="334.0" y2="257.0" stroke="#222" stroke-width="0.6"/>
<line x1="374.0" y1="224.0" x2="362.0" y2="234.0" stroke="#222" stroke-width="0.6"/>
<line x1="368.5" y1="233.0" x2="363.0" y2="235.8" stroke="#222" stroke-width="0.6"/>
<line x1="364.0" y1="245.0" x2="357.0" y2="248.5" stroke="#222" stroke-width="0.6"/>
<line x1="364.0" y1="259.0" x2="350.0" y2="257.0" stroke="#222" stroke-width="0.6"/>
<line x1="356.0" y1="268.0" x2="349.0" y2="259.0" stroke="#222" stroke-width="0.6"/>
<line x1="330.0" y1="289.0" x2="347.0" y2="298.0" stroke="#222" stroke-width="0.6"/>
<line x1="322.0" y1="298.0" x2="333.0" y2="309.0" stroke="#222" stroke-width="0.6"/>
<line x1="318.0" y1="307.0" x2="332.0" y2="314.0" stroke="#222" stroke-width="0.6"/>
<line x1="304.0" y1="313.2" x2="311.5" y2="313.2" stroke="#222" stroke-width="0.6"/>
<line x1="318.0" y1="323.0" x2="331.0" y2="318.0" stroke="#222" stroke-width="0.6"/>
<line x1="341.0" y1="294.5" x2="348.0" y2="297.0" stroke="#222" stroke-width="0.6"/>
<line x1="383.0" y1="288.0" x2="375.0" y2="297.0" stroke="#222" stroke-width="0.6"/>
<line x1="385.0" y1="298.0" x2="375.0" y2="306.0" stroke="#222" stroke-width="0.6"/>
<line x1="400.0" y1="306.0" x2="394.0" y2="308.0" stroke="#222" stroke-width="0.6"/>
<line x1="401.0" y1="315.4" x2="370.0" y2="315.4" stroke="#222" stroke-width="0.6"/>
<line x1="376.0" y1="325.0" x2="370.0" y2="322.0" stroke="#222" stroke-width="0.6"/>
<line x1="401.0" y1="336.0" x2="394.0" y2="334.1" stroke="#222" stroke-width="0.6"/>
<line x1="374.0" y1="341.0" x2="363.0" y2="331.0" stroke="#222" stroke-width="0.6"/>
<line x1="355.0" y1="347.0" x2="355.0" y2="330.0" stroke="#222" stroke-width="0.6"/>
<line x1="341.0" y1="334.0" x2="347.0" y2="319.0" stroke="#222" stroke-width="0.6"/>
<circle cx="260.6" cy="215.3" r="3.6" fill="#a98bca"/>
<circle cx="260.6" cy="219.7" r="3.6" fill="#a98bca"/>
<circle cx="315.0" cy="229.0" r="3.6" fill="#a98bca"/>
<circle cx="320.2" cy="238.9" r="3.6" fill="#a98bca"/>
<circle cx="319.7" cy="248.2" r="3.6" fill="#a98bca"/>
<circle cx="334.2" cy="248.8" r="3.6" fill="#a98bca"/>
<circle cx="335.4" cy="254.4" r="3.6" fill="#a98bca"/>
<circle cx="348.2" cy="255.2" r="3.6" fill="#a98bca"/>
<circle cx="360.2" cy="236.7" r="3.6" fill="#a98bca"/>
<circle cx="354.9" cy="248.4" r="3.6" fill="#a98bca"/>
<circle cx="354.9" cy="250.8" r="3.6" fill="#a98bca"/>
<circle cx="348.5" cy="255.6" r="3.6" fill="#a98bca"/>
<circle cx="315.2" cy="313.2" r="3.6" fill="#a98bca"/>
<circle cx="335.0" cy="311.7" r="3.6" fill="#a98bca"/>
<circle cx="334.2" cy="315.6" r="3.6" fill="#a98bca"/>
<circle cx="333.5" cy="317.9" r="3.6" fill="#a98bca"/>
<circle cx="350.1" cy="300.4" r="3.6" fill="#a98bca"/>
<circle cx="373.0" cy="299.4" r="3.6" fill="#a98bca"/>
<circle cx="367.2" cy="304.7" r="3.6" fill="#a98bca"/>
<circle cx="373.0" cy="308.7" r="3.6" fill="#a98bca"/>
<circle cx="367.2" cy="312.7" r="3.6" fill="#a98bca"/>
<circle cx="390.7" cy="308.4" r="3.6" fill="#a98bca"/>
<circle cx="348.0" cy="316.4" r="3.6" fill="#a98bca"/>
<circle cx="367.2" cy="321.5" r="3.6" fill="#a98bca"/>
<circle cx="354.9" cy="326.0" r="3.6" fill="#a98bca"/>
<circle cx="361.3" cy="328.0" r="3.6" fill="#a98bca"/>
<circle cx="390.7" cy="334.1" r="3.6" fill="#a98bca"/>
<text transform="translate(258.10,201.51) scale(1,1.04)" font-size="6.7" fill="#1a1a1a" stroke="#1a1a1a" stroke-width="0.18">UHRF1 S178</text>
<text transform="translate(272.90,212.81) scale(1,1.04)" font-size="6.7" fill="#1a1a1a" stroke="#1a1a1a" stroke-width="0.18">UHRF1 S302</text>
<text transform="translate(271.40,221.31) scale(1,1.04)" font-size="6.7" fill="#1a1a1a" stroke="#1a1a1a" stroke-width="0.18">AHNAK S2615</text>
<text transform="translate(325.60,221.31) scale(1,1.04)" font-size="6.7" fill="#1a1a1a" stroke="#1a1a1a" stroke-width="0.18">BOD1L1 S847</text>
<text transform="translate(264.80,242.41) scale(1,1.04)" font-size="6.7" fill="#1a1a1a" stroke="#1a1a1a" stroke-width="0.18">BOD1L1 S2444</text>
<text transform="translate(265.50,260.11) scale(1,1.04)" font-size="6.7" fill="#1a1a1a" stroke="#1a1a1a" stroke-width="0.18">BOD1L1 S2141</text>
<text transform="translate(326.00,234.61) scale(1,1.04)" font-size="6.7" fill="#1a1a1a" stroke="#1a1a1a" stroke-width="0.18">VIM S226</text>
<text transform="translate(301.00,272.71) scale(1,1.04)" font-size="6.7" fill="#1a1a1a" stroke="#1a1a1a" stroke-width="0.18">MAP1B 541S</text>
<text transform="translate(374.90,223.91) scale(1,1.04)" font-size="6.7" fill="#1a1a1a" stroke="#1a1a1a" stroke-width="0.18">PRKDC T2648</text>
<text transform="translate(368.50,234.01) scale(1,1.04)" font-size="6.7" fill="#1a1a1a" stroke="#1a1a1a" stroke-width="0.18">PRKDC S2615</text>
<text transform="translate(364.50,244.51) scale(1,1.04)" font-size="6.7" fill="#1a1a1a" stroke="#1a1a1a" stroke-width="0.18">SQSTM1 S361</text>
<text transform="translate(363.70,262.11) scale(1,1.04)" font-size="6.7" fill="#1a1a1a" stroke="#1a1a1a" stroke-width="0.18">SQSTM1 S229</text>
<text transform="translate(354.90,273.41) scale(1,1.04)" font-size="6.7" fill="#1a1a1a" stroke="#1a1a1a" stroke-width="0.18">MACF1 S275</text>
<text transform="translate(350.00,280.21) scale(1,1.04)" font-size="6.7" fill="#1a1a1a" stroke="#1a1a1a" stroke-width="0.18">MAP1B S1486</text>
<text transform="translate(300.20,287.91) scale(1,1.04)" font-size="6.7" fill="#1a1a1a" stroke="#1a1a1a" stroke-width="0.18">TJP1 T354</text>
<text transform="translate(288.20,296.51) scale(1,1.04)" font-size="6.7" fill="#1a1a1a" stroke="#1a1a1a" stroke-width="0.18">MAP1B T1067</text>
<text transform="translate(282.80,305.51) scale(1,1.04)" font-size="6.7" fill="#1a1a1a" stroke="#1a1a1a" stroke-width="0.18">MAP1B T1282</text>
<text transform="translate(260.10,316.01) scale(1,1.04)" font-size="6.7" fill="#1a1a1a" stroke="#1a1a1a" stroke-width="0.18">AHNAK S1859</text>
<text transform="translate(299.90,327.71) scale(1,1.04)" font-size="6.7" fill="#1a1a1a" stroke="#1a1a1a" stroke-width="0.18">VIM S42</text>
<text transform="translate(302.70,337.51) scale(1,1.04)" font-size="6.7" fill="#1a1a1a" stroke="#1a1a1a" stroke-width="0.18">MACF1 S4492</text>
<text transform="translate(381.00,287.91) scale(1,1.04)" font-size="6.7" fill="#1a1a1a" stroke="#1a1a1a" stroke-width="0.18">SAMHD1 S33</text>
<text transform="translate(338.80,294.31) scale(1,1.04)" font-size="6.7" fill="#1a1a1a" stroke="#1a1a1a" stroke-width="0.18">CUX1 S1248</text>
<text transform="translate(383.00,297.51) scale(1,1.04)" font-size="6.7" fill="#1a1a1a" stroke="#1a1a1a" stroke-width="0.18">SAMHD1 S18</text>
<text transform="translate(400.30,305.91) scale(1,1.04)" font-size="6.7" fill="#1a1a1a" stroke="#1a1a1a" stroke-width="0.18">NBR1 S825</text>
<text transform="translate(401.90,317.41) scale(1,1.04)" font-size="6.7" fill="#1a1a1a" stroke="#1a1a1a" stroke-width="0.18">CUX1 S1281</text>
<text transform="translate(376.90,328.01) scale(1,1.04)" font-size="6.7" fill="#1a1a1a" stroke="#1a1a1a" stroke-width="0.18">CUX1 S1070</text>
<text transform="translate(401.90,338.01) scale(1,1.04)" font-size="6.7" fill="#1a1a1a" stroke="#1a1a1a" stroke-width="0.18">NBR1 S834</text>
<text transform="translate(374.10,345.21) scale(1,1.04)" font-size="6.7" fill="#1a1a1a" stroke="#1a1a1a" stroke-width="0.18">MTOR S1261</text>
<text transform="translate(334.00,352.11) scale(1,1.04)" font-size="6.7" fill="#1a1a1a" stroke="#1a1a1a" stroke-width="0.18">SQSTM1 S328</text>
<line x1="254.5" y1="190.5" x2="254.5" y2="367.3" stroke="#111" stroke-width="1.3"/>
<line x1="253.9" y1="366.7" x2="436.2" y2="366.7" stroke="#111" stroke-width="1.3"/>
<line x1="252.0" y1="194.5" x2="254.5" y2="194.5" stroke="#111" stroke-width="0.8"/>
<text transform="translate(250.80,197.20) scale(1,1.04)" font-size="9.0" text-anchor="end" fill="#1a1a1a" stroke="#1a1a1a" stroke-width="0.30">3</text>
<line x1="252.0" y1="222.0" x2="254.5" y2="222.0" stroke="#111" stroke-width="0.8"/>
<text transform="translate(250.80,224.70) scale(1,1.04)" font-size="9.0" text-anchor="end" fill="#1a1a1a" stroke="#1a1a1a" stroke-width="0.30">2</text>
<line x1="252.0" y1="249.5" x2="254.5" y2="249.5" stroke="#111" stroke-width="0.8"/>
<text transform="translate(250.80,252.20) scale(1,1.04)" font-size="9.0" text-anchor="end" fill="#1a1a1a" stroke="#1a1a1a" stroke-width="0.30">1</text>
<line x1="252.0" y1="277.0" x2="254.5" y2="277.0" stroke="#111" stroke-width="0.8"/>
<text transform="translate(250.80,279.70) scale(1,1.04)" font-size="9.0" text-anchor="end" fill="#1a1a1a" stroke="#1a1a1a" stroke-width="0.30">0</text>
<line x1="252.0" y1="304.5" x2="254.5" y2="304.5" stroke="#111" stroke-width="0.8"/>
<text transform="translate(250.80,307.20) scale(1,1.04)" font-size="9.0" text-anchor="end" fill="#1a1a1a" stroke="#1a1a1a" stroke-width="0.30">−1</text>
<line x1="252.0" y1="332.0" x2="254.5" y2="332.0" stroke="#111" stroke-width="0.8"/>
<text transform="translate(250.80,334.70) scale(1,1.04)" font-size="9.0" text-anchor="end" fill="#1a1a1a" stroke="#1a1a1a" stroke-width="0.30">−2</text>
<line x1="252.0" y1="359.5" x2="254.5" y2="359.5" stroke="#111" stroke-width="0.8"/>
<text transform="translate(250.80,362.20) scale(1,1.04)" font-size="9.0" text-anchor="end" fill="#1a1a1a" stroke="#1a1a1a" stroke-width="0.30">−3</text>
<line x1="261.0" y1="366.7" x2="261.0" y2="369.2" stroke="#111" stroke-width="0.8"/>
<text transform="translate(264.00,375.10) scale(1,1.04)" font-size="9.0" text-anchor="middle" fill="#1a1a1a" stroke="#1a1a1a" stroke-width="0.30">−1.5</text>
<line x1="289.0" y1="366.7" x2="289.0" y2="369.2" stroke="#111" stroke-width="0.8"/>
<text transform="translate(291.70,375.10) scale(1,1.04)" font-size="9.0" text-anchor="middle" fill="#1a1a1a" stroke="#1a1a1a" stroke-width="0.30">−1</text>
<line x1="317.1" y1="366.7" x2="317.1" y2="369.2" stroke="#111" stroke-width="0.8"/>
<text transform="translate(320.30,375.10) scale(1,1.04)" font-size="9.0" text-anchor="middle" fill="#1a1a1a" stroke="#1a1a1a" stroke-width="0.30">−0.5</text>
<line x1="345.1" y1="366.7" x2="345.1" y2="369.2" stroke="#111" stroke-width="0.8"/>
<text transform="translate(345.10,375.10) scale(1,1.04)" font-size="9.0" text-anchor="middle" fill="#1a1a1a" stroke="#1a1a1a" stroke-width="0.30">0</text>
<line x1="373.2" y1="366.7" x2="373.2" y2="369.2" stroke="#111" stroke-width="0.8"/>
<text transform="translate(373.50,375.10) scale(1,1.04)" font-size="9.0" text-anchor="middle" fill="#1a1a1a" stroke="#1a1a1a" stroke-width="0.30">0.5</text>
<line x1="401.2" y1="366.7" x2="401.2" y2="369.2" stroke="#111" stroke-width="0.8"/>
<text transform="translate(401.20,375.10) scale(1,1.04)" font-size="9.0" text-anchor="middle" fill="#1a1a1a" stroke="#1a1a1a" stroke-width="0.30">1</text>
<line x1="429.2" y1="366.7" x2="429.2" y2="369.2" stroke="#111" stroke-width="0.8"/>
<text transform="translate(430.40,375.10) scale(1,1.04)" font-size="9.0" text-anchor="middle" fill="#1a1a1a" stroke="#1a1a1a" stroke-width="0.30">1.5</text>
<text transform="translate(344.2,385.4) scale(1,1.04)" font-size="9.3" text-anchor="middle" fill="#1a1a1a" stroke="#1a1a1a" stroke-width="0.3">Log<tspan font-size="5.8" dy="2.0">2</tspan><tspan dy="-2.0"> Fold change (abundance)</tspan></text>
<text transform="translate(235.0,275.0) rotate(-90) scale(1,1.04)" font-size="9.3" text-anchor="middle" fill="#1a1a1a" stroke="#1a1a1a" stroke-width="0.3">Log<tspan font-size="5.8" dy="2.0">2</tspan><tspan dy="-2.0"> Fold change (phosphorylation)</tspan></text>
<text transform="translate(461.00,164.00) scale(1,1.04)" font-size="14.5" font-weight="bold" fill="#000">e</text>
<text transform="translate(568.30,172.29) scale(1,1.04)" font-size="9.3" text-anchor="middle" fill="#1a1a1a" stroke="#1a1a1a" stroke-width="0.30">Proteins-Acetylated, 48 hpi</text>
<circle cx="611.7" cy="180.7" r="3.2" fill="#9ecee2" stroke="#6cc0e0" stroke-width="0.6"/>
<text transform="translate(616.20,182.71) scale(1,1.04)" font-size="6.7" fill="#1a1a1a" stroke="#1a1a1a" stroke-width="0.18">selected significant hits</text>
<circle cx="611.7" cy="191.2" r="3.2" fill="#cccccc"/>
<text transform="translate(616.20,193.21) scale(1,1.04)" font-size="6.7" fill="#1a1a1a" stroke="#1a1a1a" stroke-width="0.18">unselected hits</text>
<g fill="#8c8c8c" fill-opacity="0.32">
<circle cx="580.1" cy="272.4" r="3.2"/>
<circle cx="553.3" cy="254.1" r="3.2"/>
<circle cx="560.2" cy="264.4" r="3.2"/>
<circle cx="602.5" cy="272.2" r="3.2"/>
<circle cx="580.7" cy="269.2" r="3.2"/>
<circle cx="570.2" cy="268.8" r="3.2"/>
<circle cx="557.1" cy="260.5" r="3.2"/>
<circle cx="606.2" cy="272.0" r="3.2"/>
<circle cx="582.0" cy="274.7" r="3.2"/>
<circle cx="591.1" cy="271.2" r="3.2"/>
<circle cx="594.7" cy="257.2" r="3.2"/>
<circle cx="584.7" cy="262.6" r="3.2"/>
<circle cx="565.9" cy="266.3" r="3.2"/>
<circle cx="590.5" cy="274.6" r="3.2"/>
<circle cx="568.8" cy="269.1" r="3.2"/>
<circle cx="577.0" cy="268.6" r="3.2"/>
<circle cx="551.7" cy="262.9" r="3.2"/>
<circle cx="595.8" cy="275.5" r="3.2"/>
<circle cx="592.4" cy="252.7" r="3.2"/>
<circle cx="552.3" cy="271.7" r="3.2"/>
<circle cx="565.4" cy="260.3" r="3.2"/>
<circle cx="601.4" cy="256.4" r="3.2"/>
<circle cx="558.2" cy="257.8" r="3.2"/>
<circle cx="563.4" cy="268.8" r="3.2"/>
<circle cx="581.9" cy="261.8" r="3.2"/>
<circle cx="568.8" cy="271.1" r="3.2"/>
<circle cx="558.6" cy="268.8" r="3.2"/>
<circle cx="590.1" cy="269.1" r="3.2"/>
<circle cx="556.4" cy="275.4" r="3.2"/>
<circle cx="558.5" cy="260.9" r="3.2"/>
<circle cx="589.7" cy="258.3" r="3.2"/>
<circle cx="550.8" cy="270.8" r="3.2"/>
<circle cx="556.3" cy="263.0" r="3.2"/>
<circle cx="571.2" cy="251.8" r="3.2"/>
<circle cx="581.2" cy="271.9" r="3.2"/>
<circle cx="585.5" cy="266.4" r="3.2"/>
<circle cx="589.9" cy="270.1" r="3.2"/>
<circle cx="568.2" cy="275.5" r="3.2"/>
<circle cx="562.0" cy="275.0" r="3.2"/>
<circle cx="551.9" cy="262.3" r="3.2"/>
<circle cx="587.9" cy="273.4" r="3.2"/>
<circle cx="583.5" cy="274.5" r="3.2"/>
<circle cx="563.5" cy="274.0" r="3.2"/>
<circle cx="563.4" cy="271.2" r="3.2"/>
<circle cx="599.9" cy="268.3" r="3.2"/>
<circle cx="582.0" cy="271.6" r="3.2"/>
<circle cx="534.6" cy="268.3" r="3.2"/>
<circle cx="568.3" cy="262.9" r="3.2"/>
<circle cx="587.5" cy="259.9" r="3.2"/>
<circle cx="551.0" cy="252.7" r="3.2"/>
<circle cx="568.7" cy="272.9" r="3.2"/>
<circle cx="569.4" cy="268.5" r="3.2"/>
<circle cx="567.4" cy="240.7" r="3.2"/>
<circle cx="588.3" cy="268.9" r="3.2"/>
<circle cx="592.9" cy="273.8" r="3.2"/>
<circle cx="563.3" cy="274.6" r="3.2"/>
<circle cx="596.6" cy="272.7" r="3.2"/>
<circle cx="567.8" cy="273.0" r="3.2"/>
<circle cx="592.4" cy="274.8" r="3.2"/>
<circle cx="589.3" cy="263.4" r="3.2"/>
<circle cx="580.6" cy="270.9" r="3.2"/>
<circle cx="569.3" cy="270.4" r="3.2"/>
<circle cx="561.5" cy="265.3" r="3.2"/>
<circle cx="586.6" cy="269.8" r="3.2"/>
<circle cx="595.4" cy="253.3" r="3.2"/>
<circle cx="590.5" cy="275.5" r="3.2"/>
<circle cx="594.4" cy="266.8" r="3.2"/>
<circle cx="600.9" cy="273.8" r="3.2"/>
<circle cx="563.1" cy="255.8" r="3.2"/>
<circle cx="587.2" cy="255.5" r="3.2"/>
<circle cx="568.8" cy="272.7" r="3.2"/>
<circle cx="562.4" cy="253.4" r="3.2"/>
<circle cx="589.7" cy="268.1" r="3.2"/>
<circle cx="545.9" cy="272.0" r="3.2"/>
<circle cx="580.8" cy="271.1" r="3.2"/>
<circle cx="566.4" cy="267.7" r="3.2"/>
<circle cx="588.8" cy="275.0" r="3.2"/>
<circle cx="590.5" cy="272.2" r="3.2"/>
<circle cx="574.3" cy="270.5" r="3.2"/>
<circle cx="564.7" cy="266.6" r="3.2"/>
<circle cx="569.3" cy="257.8" r="3.2"/>
<circle cx="567.9" cy="271.1" r="3.2"/>
<circle cx="547.9" cy="257.8" r="3.2"/>
<circle cx="561.0" cy="267.6" r="3.2"/>
<circle cx="572.5" cy="265.0" r="3.2"/>
<circle cx="567.9" cy="260.6" r="3.2"/>
<circle cx="573.9" cy="264.6" r="3.2"/>
<circle cx="590.0" cy="262.0" r="3.2"/>
<circle cx="566.3" cy="248.7" r="3.2"/>
<circle cx="552.2" cy="268.6" r="3.2"/>
<circle cx="562.8" cy="274.7" r="3.2"/>
<circle cx="566.8" cy="270.5" r="3.2"/>
<circle cx="561.4" cy="275.0" r="3.2"/>
<circle cx="587.9" cy="272.8" r="3.2"/>
<circle cx="603.8" cy="255.1" r="3.2"/>
<circle cx="559.7" cy="269.2" r="3.2"/>
<circle cx="592.4" cy="271.0" r="3.2"/>
<circle cx="570.6" cy="262.6" r="3.2"/>
<circle cx="583.5" cy="271.8" r="3.2"/>
<circle cx="598.0" cy="262.9" r="3.2"/>
<circle cx="583.8" cy="265.5" r="3.2"/>
<circle cx="562.9" cy="270.2" r="3.2"/>
<circle cx="566.3" cy="260.3" r="3.2"/>
<circle cx="548.3" cy="271.0" r="3.2"/>
<circle cx="570.9" cy="274.0" r="3.2"/>
<circle cx="564.3" cy="256.9" r="3.2"/>
<circle cx="587.6" cy="264.1" r="3.2"/>
<circle cx="586.9" cy="268.6" r="3.2"/>
<circle cx="588.3" cy="275.1" r="3.2"/>
<circle cx="551.4" cy="263.5" r="3.2"/>
<circle cx="581.7" cy="271.9" r="3.2"/>
<circle cx="601.0" cy="270.8" r="3.2"/>
<circle cx="570.8" cy="273.1" r="3.2"/>
<circle cx="588.4" cy="267.0" r="3.2"/>
<circle cx="569.6" cy="262.1" r="3.2"/>
<circle cx="556.8" cy="266.8" r="3.2"/>
<circle cx="569.6" cy="272.9" r="3.2"/>
<circle cx="556.7" cy="254.4" r="3.2"/>
<circle cx="582.9" cy="257.9" r="3.2"/>
<circle cx="566.1" cy="271.7" r="3.2"/>
<circle cx="570.2" cy="264.3" r="3.2"/>
<circle cx="566.2" cy="266.6" r="3.2"/>
<circle cx="559.3" cy="273.0" r="3.2"/>
<circle cx="586.8" cy="272.3" r="3.2"/>
<circle cx="584.4" cy="253.6" r="3.2"/>
<circle cx="585.9" cy="267.0" r="3.2"/>
<circle cx="605.3" cy="265.9" r="3.2"/>
<circle cx="568.7" cy="259.5" r="3.2"/>
<circle cx="586.7" cy="262.3" r="3.2"/>
<circle cx="549.3" cy="247.3" r="3.2"/>
<circle cx="598.4" cy="274.9" r="3.2"/>
<circle cx="562.8" cy="274.8" r="3.2"/>
<circle cx="594.8" cy="269.4" r="3.2"/>
<circle cx="560.9" cy="254.8" r="3.2"/>
<circle cx="603.2" cy="275.4" r="3.2"/>
<circle cx="589.8" cy="264.5" r="3.2"/>
<circle cx="580.2" cy="271.1" r="3.2"/>
<circle cx="588.4" cy="271.8" r="3.2"/>
<circle cx="555.6" cy="263.7" r="3.2"/>
<circle cx="566.3" cy="273.0" r="3.2"/>
<circle cx="565.6" cy="272.9" r="3.2"/>
<circle cx="564.7" cy="275.7" r="3.2"/>
<circle cx="584.0" cy="267.3" r="3.2"/>
<circle cx="585.8" cy="260.8" r="3.2"/>
<circle cx="581.8" cy="261.8" r="3.2"/>
<circle cx="569.7" cy="265.5" r="3.2"/>
<circle cx="575.4" cy="275.2" r="3.2"/>
<circle cx="589.0" cy="272.0" r="3.2"/>
<circle cx="565.7" cy="264.0" r="3.2"/>
<circle cx="545.1" cy="250.5" r="3.2"/>
<circle cx="581.2" cy="260.4" r="3.2"/>
<circle cx="568.9" cy="273.0" r="3.2"/>
<circle cx="584.3" cy="263.5" r="3.2"/>
<circle cx="560.8" cy="271.4" r="3.2"/>
<circle cx="584.1" cy="257.3" r="3.2"/>
<circle cx="558.7" cy="264.0" r="3.2"/>
<circle cx="581.6" cy="269.7" r="3.2"/>
<circle cx="589.3" cy="268.8" r="3.2"/>
<circle cx="568.3" cy="247.3" r="3.2"/>
<circle cx="592.7" cy="265.0" r="3.2"/>
<circle cx="580.5" cy="273.8" r="3.2"/>
<circle cx="566.1" cy="251.4" r="3.2"/>
<circle cx="581.6" cy="263.3" r="3.2"/>
<circle cx="550.1" cy="275.4" r="3.2"/>
<circle cx="586.6" cy="270.6" r="3.2"/>
<circle cx="567.0" cy="262.9" r="3.2"/>
<circle cx="554.4" cy="259.7" r="3.2"/>
<circle cx="557.4" cy="270.1" r="3.2"/>
<circle cx="583.7" cy="255.1" r="3.2"/>
<circle cx="570.7" cy="251.8" r="3.2"/>
<circle cx="560.4" cy="261.7" r="3.2"/>
<circle cx="559.2" cy="261.5" r="3.2"/>
<circle cx="561.8" cy="256.4" r="3.2"/>
<circle cx="585.6" cy="252.9" r="3.2"/>
<circle cx="571.0" cy="273.1" r="3.2"/>
<circle cx="559.9" cy="266.7" r="3.2"/>
<circle cx="583.5" cy="272.5" r="3.2"/>
<circle cx="606.4" cy="251.9" r="3.2"/>
<circle cx="583.8" cy="252.9" r="3.2"/>
<circle cx="562.2" cy="274.5" r="3.2"/>
<circle cx="587.2" cy="272.8" r="3.2"/>
<circle cx="604.9" cy="256.7" r="3.2"/>
<circle cx="587.3" cy="251.6" r="3.2"/>
<circle cx="587.0" cy="270.3" r="3.2"/>
<circle cx="578.9" cy="237.5" r="3.2"/>
<circle cx="564.4" cy="264.5" r="3.2"/>
<circle cx="585.2" cy="274.3" r="3.2"/>
<circle cx="565.5" cy="265.6" r="3.2"/>
<circle cx="580.5" cy="271.7" r="3.2"/>
<circle cx="551.5" cy="262.0" r="3.2"/>
<circle cx="590.4" cy="258.1" r="3.2"/>
<circle cx="581.2" cy="274.1" r="3.2"/>
<circle cx="582.7" cy="264.8" r="3.2"/>
<circle cx="587.6" cy="258.7" r="3.2"/>
<circle cx="592.7" cy="261.9" r="3.2"/>
<circle cx="584.4" cy="267.7" r="3.2"/>
<circle cx="582.5" cy="265.0" r="3.2"/>
<circle cx="562.8" cy="265.8" r="3.2"/>
<circle cx="586.3" cy="270.2" r="3.2"/>
<circle cx="558.5" cy="271.7" r="3.2"/>
<circle cx="595.7" cy="275.3" r="3.2"/>
<circle cx="580.4" cy="250.8" r="3.2"/>
<circle cx="593.6" cy="253.4" r="3.2"/>
<circle cx="558.7" cy="265.6" r="3.2"/>
<circle cx="587.5" cy="265.4" r="3.2"/>
<circle cx="559.0" cy="270.0" r="3.2"/>
<circle cx="569.3" cy="263.8" r="3.2"/>
<circle cx="550.9" cy="260.8" r="3.2"/>
<circle cx="566.2" cy="275.6" r="3.2"/>
<circle cx="548.8" cy="258.1" r="3.2"/>
<circle cx="564.5" cy="266.8" r="3.2"/>
<circle cx="537.1" cy="272.5" r="3.2"/>
<circle cx="550.5" cy="264.7" r="3.2"/>
<circle cx="577.9" cy="263.3" r="3.2"/>
<circle cx="586.6" cy="267.7" r="3.2"/>
<circle cx="590.5" cy="263.6" r="3.2"/>
<circle cx="587.2" cy="270.1" r="3.2"/>
<circle cx="566.9" cy="260.7" r="3.2"/>
<circle cx="579.3" cy="261.3" r="3.2"/>
<circle cx="568.9" cy="260.7" r="3.2"/>
<circle cx="583.6" cy="266.8" r="3.2"/>
<circle cx="548.3" cy="269.6" r="3.2"/>
<circle cx="575.9" cy="273.6" r="3.2"/>
<circle cx="565.2" cy="260.2" r="3.2"/>
<circle cx="541.4" cy="246.9" r="3.2"/>
<circle cx="567.3" cy="275.0" r="3.2"/>
<circle cx="552.2" cy="271.2" r="3.2"/>
<circle cx="557.4" cy="264.2" r="3.2"/>
<circle cx="566.3" cy="260.1" r="3.2"/>
<circle cx="562.6" cy="268.2" r="3.2"/>
<circle cx="551.9" cy="245.9" r="3.2"/>
<circle cx="569.0" cy="274.3" r="3.2"/>
<circle cx="555.0" cy="273.5" r="3.2"/>
<circle cx="566.8" cy="273.0" r="3.2"/>
<circle cx="593.3" cy="272.9" r="3.2"/>
<circle cx="566.8" cy="263.7" r="3.2"/>
<circle cx="593.4" cy="243.3" r="3.2"/>
<circle cx="582.8" cy="262.2" r="3.2"/>
<circle cx="598.1" cy="274.5" r="3.2"/>
<circle cx="587.3" cy="257.3" r="3.2"/>
<circle cx="566.2" cy="274.8" r="3.2"/>
<circle cx="574.6" cy="262.8" r="3.2"/>
<circle cx="586.0" cy="262.2" r="3.2"/>
<circle cx="585.7" cy="252.7" r="3.2"/>
<circle cx="562.5" cy="245.3" r="3.2"/>
<circle cx="581.1" cy="261.5" r="3.2"/>
<circle cx="591.2" cy="268.6" r="3.2"/>
<circle cx="564.1" cy="260.8" r="3.2"/>
<circle cx="595.0" cy="271.1" r="3.2"/>
<circle cx="569.9" cy="250.8" r="3.2"/>
<circle cx="560.5" cy="267.4" r="3.2"/>
<circle cx="570.0" cy="259.6" r="3.2"/>
<circle cx="580.5" cy="265.2" r="3.2"/>
<circle cx="563.2" cy="258.6" r="3.2"/>
<circle cx="593.2" cy="271.3" r="3.2"/>
<circle cx="540.4" cy="268.3" r="3.2"/>
<circle cx="588.8" cy="254.5" r="3.2"/>
<circle cx="570.7" cy="274.2" r="3.2"/>
<circle cx="584.8" cy="262.7" r="3.2"/>
<circle cx="555.5" cy="261.9" r="3.2"/>
<circle cx="582.0" cy="260.3" r="3.2"/>
<circle cx="562.7" cy="270.1" r="3.2"/>
<circle cx="559.8" cy="254.7" r="3.2"/>
<circle cx="583.5" cy="274.6" r="3.2"/>
<circle cx="563.4" cy="263.1" r="3.2"/>
<circle cx="581.9" cy="262.7" r="3.2"/>
<circle cx="565.7" cy="272.8" r="3.2"/>
<circle cx="562.6" cy="256.0" r="3.2"/>
<circle cx="559.9" cy="272.2" r="3.2"/>
<circle cx="565.5" cy="270.6" r="3.2"/>
<circle cx="567.2" cy="240.6" r="3.2"/>
<circle cx="580.7" cy="259.2" r="3.2"/>
<circle cx="583.1" cy="266.3" r="3.2"/>
<circle cx="592.1" cy="264.6" r="3.2"/>
<circle cx="568.0" cy="272.4" r="3.2"/>
<circle cx="567.5" cy="265.8" r="3.2"/>
<circle cx="564.8" cy="255.2" r="3.2"/>
<circle cx="570.4" cy="268.8" r="3.2"/>
<circle cx="601.2" cy="256.8" r="3.2"/>
<circle cx="584.8" cy="267.8" r="3.2"/>
<circle cx="594.6" cy="274.7" r="3.2"/>
<circle cx="578.8" cy="267.4" r="3.2"/>
<circle cx="565.0" cy="257.2" r="3.2"/>
<circle cx="584.4" cy="251.0" r="3.2"/>
<circle cx="593.4" cy="262.5" r="3.2"/>
<circle cx="590.0" cy="260.6" r="3.2"/>
<circle cx="592.4" cy="270.7" r="3.2"/>
<circle cx="587.1" cy="262.8" r="3.2"/>
<circle cx="575.0" cy="271.2" r="3.2"/>
<circle cx="562.1" cy="269.4" r="3.2"/>
<circle cx="596.4" cy="270.5" r="3.2"/>
<circle cx="560.7" cy="254.6" r="3.2"/>
<circle cx="581.7" cy="257.5" r="3.2"/>
<circle cx="582.1" cy="255.6" r="3.2"/>
<circle cx="568.1" cy="274.1" r="3.2"/>
<circle cx="567.0" cy="255.9" r="3.2"/>
<circle cx="556.9" cy="266.1" r="3.2"/>
<circle cx="563.8" cy="275.7" r="3.2"/>
<circle cx="576.5" cy="266.3" r="3.2"/>
<circle cx="559.8" cy="261.9" r="3.2"/>
<circle cx="570.7" cy="266.4" r="3.2"/>
<circle cx="562.2" cy="263.1" r="3.2"/>
<circle cx="567.5" cy="270.8" r="3.2"/>
<circle cx="597.8" cy="273.8" r="3.2"/>
<circle cx="566.4" cy="271.3" r="3.2"/>
<circle cx="597.6" cy="269.0" r="3.2"/>
<circle cx="552.2" cy="251.0" r="3.2"/>
<circle cx="580.3" cy="270.8" r="3.2"/>
<circle cx="580.2" cy="269.4" r="3.2"/>
<circle cx="590.6" cy="273.9" r="3.2"/>
<circle cx="581.0" cy="268.3" r="3.2"/>
<circle cx="563.1" cy="259.8" r="3.2"/>
<circle cx="584.4" cy="271.4" r="3.2"/>
<circle cx="587.2" cy="259.5" r="3.2"/>
<circle cx="562.1" cy="274.1" r="3.2"/>
<circle cx="586.6" cy="262.4" r="3.2"/>
<circle cx="586.1" cy="255.4" r="3.2"/>
<circle cx="586.6" cy="274.3" r="3.2"/>
<circle cx="567.3" cy="270.3" r="3.2"/>
<circle cx="577.8" cy="274.4" r="3.2"/>
<circle cx="568.0" cy="262.9" r="3.2"/>
<circle cx="561.2" cy="265.7" r="3.2"/>
<circle cx="587.6" cy="274.0" r="3.2"/>
<circle cx="563.1" cy="274.8" r="3.2"/>
<circle cx="583.8" cy="255.1" r="3.2"/>
<circle cx="545.7" cy="267.1" r="3.2"/>
<circle cx="568.6" cy="275.4" r="3.2"/>
<circle cx="568.4" cy="272.5" r="3.2"/>
<circle cx="563.0" cy="266.0" r="3.2"/>
<circle cx="595.7" cy="260.0" r="3.2"/>
<circle cx="564.4" cy="266.0" r="3.2"/>
<circle cx="586.5" cy="272.1" r="3.2"/>
<circle cx="568.9" cy="271.1" r="3.2"/>
<circle cx="562.0" cy="273.8" r="3.2"/>
<circle cx="549.7" cy="269.8" r="3.2"/>
<circle cx="594.8" cy="255.7" r="3.2"/>
<circle cx="569.3" cy="252.2" r="3.2"/>
<circle cx="565.0" cy="246.0" r="3.2"/>
<circle cx="558.7" cy="272.3" r="3.2"/>
<circle cx="565.6" cy="270.6" r="3.2"/>
<circle cx="566.0" cy="262.9" r="3.2"/>
<circle cx="588.0" cy="264.9" r="3.2"/>
<circle cx="563.8" cy="274.4" r="3.2"/>
<circle cx="564.6" cy="266.4" r="3.2"/>
<circle cx="554.3" cy="268.7" r="3.2"/>
<circle cx="569.2" cy="272.1" r="3.2"/>
<circle cx="563.2" cy="262.9" r="3.2"/>
<circle cx="592.3" cy="269.0" r="3.2"/>
<circle cx="587.1" cy="257.9" r="3.2"/>
<circle cx="566.4" cy="257.9" r="3.2"/>
<circle cx="598.8" cy="268.4" r="3.2"/>
<circle cx="555.4" cy="260.3" r="3.2"/>
<circle cx="569.9" cy="255.5" r="3.2"/>
<circle cx="567.0" cy="252.9" r="3.2"/>
<circle cx="562.6" cy="274.2" r="3.2"/>
<circle cx="569.1" cy="272.5" r="3.2"/>
<circle cx="563.4" cy="245.6" r="3.2"/>
<circle cx="585.0" cy="268.0" r="3.2"/>
<circle cx="570.8" cy="252.4" r="3.2"/>
<circle cx="559.4" cy="256.9" r="3.2"/>
<circle cx="571.3" cy="265.3" r="3.2"/>
<circle cx="596.6" cy="274.5" r="3.2"/>
<circle cx="557.0" cy="251.6" r="3.2"/>
<circle cx="568.8" cy="265.6" r="3.2"/>
<circle cx="552.8" cy="267.1" r="3.2"/>
<circle cx="596.6" cy="270.4" r="3.2"/>
<circle cx="581.2" cy="275.6" r="3.2"/>
<circle cx="569.5" cy="264.8" r="3.2"/>
<circle cx="589.1" cy="274.1" r="3.2"/>
<circle cx="569.7" cy="274.4" r="3.2"/>
<circle cx="597.0" cy="273.4" r="3.2"/>
<circle cx="586.3" cy="260.4" r="3.2"/>
<circle cx="564.8" cy="268.9" r="3.2"/>
<circle cx="583.4" cy="267.6" r="3.2"/>
<circle cx="568.5" cy="269.8" r="3.2"/>
<circle cx="598.9" cy="265.6" r="3.2"/>
<circle cx="579.8" cy="271.2" r="3.2"/>
<circle cx="603.3" cy="265.0" r="3.2"/>
<circle cx="563.1" cy="266.9" r="3.2"/>
<circle cx="577.3" cy="255.4" r="3.2"/>
<circle cx="588.6" cy="245.7" r="3.2"/>
<circle cx="570.8" cy="272.5" r="3.2"/>
<circle cx="586.3" cy="263.8" r="3.2"/>
<circle cx="562.1" cy="274.9" r="3.2"/>
<circle cx="580.5" cy="268.0" r="3.2"/>
<circle cx="592.1" cy="272.0" r="3.2"/>
<circle cx="542.7" cy="266.0" r="3.2"/>
<circle cx="580.7" cy="268.7" r="3.2"/>
<circle cx="582.1" cy="251.6" r="3.2"/>
<circle cx="565.1" cy="265.6" r="3.2"/>
<circle cx="584.4" cy="258.1" r="3.2"/>
<circle cx="570.7" cy="260.2" r="3.2"/>
<circle cx="581.3" cy="260.1" r="3.2"/>
<circle cx="584.4" cy="269.1" r="3.2"/>
<circle cx="580.2" cy="273.9" r="3.2"/>
<circle cx="564.9" cy="253.6" r="3.2"/>
<circle cx="562.8" cy="268.1" r="3.2"/>
<circle cx="584.1" cy="274.1" r="3.2"/>
<circle cx="570.0" cy="271.2" r="3.2"/>
<circle cx="556.4" cy="266.7" r="3.2"/>
<circle cx="594.6" cy="267.1" r="3.2"/>
<circle cx="571.8" cy="248.4" r="3.2"/>
<circle cx="605.8" cy="260.8" r="3.2"/>
<circle cx="580.3" cy="257.4" r="3.2"/>
<circle cx="567.9" cy="273.2" r="3.2"/>
<circle cx="570.5" cy="259.0" r="3.2"/>
<circle cx="565.5" cy="265.5" r="3.2"/>
<circle cx="562.4" cy="266.0" r="3.2"/>
<circle cx="596.2" cy="268.8" r="3.2"/>
<circle cx="576.1" cy="258.4" r="3.2"/>
<circle cx="565.4" cy="260.3" r="3.2"/>
<circle cx="585.9" cy="267.6" r="3.2"/>
<circle cx="591.5" cy="257.5" r="3.2"/>
<circle cx="560.8" cy="258.3" r="3.2"/>
<circle cx="560.6" cy="273.8" r="3.2"/>
<circle cx="544.0" cy="273.1" r="3.2"/>
<circle cx="589.1" cy="260.0" r="3.2"/>
<circle cx="581.9" cy="264.4" r="3.2"/>
<circle cx="586.3" cy="262.8" r="3.2"/>
<circle cx="565.4" cy="252.0" r="3.2"/>
<circle cx="564.6" cy="257.9" r="3.2"/>
<circle cx="560.6" cy="269.3" r="3.2"/>
<circle cx="588.9" cy="261.1" r="3.2"/>
<circle cx="568.6" cy="258.1" r="3.2"/>
<circle cx="595.6" cy="271.4" r="3.2"/>
<circle cx="582.3" cy="269.5" r="3.2"/>
<circle cx="584.2" cy="271.5" r="3.2"/>
<circle cx="567.3" cy="275.4" r="3.2"/>
<circle cx="586.7" cy="252.4" r="3.2"/>
<circle cx="565.8" cy="272.5" r="3.2"/>
<circle cx="581.7" cy="267.0" r="3.2"/>
<circle cx="575.5" cy="270.2" r="3.2"/>
<circle cx="588.3" cy="262.9" r="3.2"/>
<circle cx="563.3" cy="273.6" r="3.2"/>
<circle cx="566.5" cy="259.5" r="3.2"/>
<circle cx="585.5" cy="252.6" r="3.2"/>
<circle cx="582.2" cy="257.5" r="3.2"/>
<circle cx="588.9" cy="275.3" r="3.2"/>
<circle cx="558.3" cy="252.5" r="3.2"/>
<circle cx="542.3" cy="272.0" r="3.2"/>
<circle cx="577.7" cy="266.2" r="3.2"/>
<circle cx="595.2" cy="273.7" r="3.2"/>
<circle cx="583.2" cy="273.7" r="3.2"/>
<circle cx="557.7" cy="269.1" r="3.2"/>
<circle cx="565.2" cy="252.5" r="3.2"/>
<circle cx="598.8" cy="254.4" r="3.2"/>
<circle cx="555.3" cy="257.2" r="3.2"/>
<circle cx="591.9" cy="256.8" r="3.2"/>
<circle cx="585.2" cy="258.2" r="3.2"/>
<circle cx="562.6" cy="264.3" r="3.2"/>
<circle cx="558.6" cy="274.8" r="3.2"/>
<circle cx="574.7" cy="263.2" r="3.2"/>
<circle cx="561.5" cy="273.1" r="3.2"/>
<circle cx="563.6" cy="269.5" r="3.2"/>
<circle cx="578.1" cy="271.6" r="3.2"/>
<circle cx="600.5" cy="273.2" r="3.2"/>
<circle cx="563.2" cy="263.8" r="3.2"/>
<circle cx="551.2" cy="257.8" r="3.2"/>
<circle cx="568.9" cy="275.2" r="3.2"/>
<circle cx="550.3" cy="264.3" r="3.2"/>
<circle cx="594.6" cy="269.5" r="3.2"/>
<circle cx="554.1" cy="264.6" r="3.2"/>
<circle cx="562.2" cy="270.5" r="3.2"/>
<circle cx="582.2" cy="274.9" r="3.2"/>
<circle cx="583.1" cy="268.2" r="3.2"/>
<circle cx="586.2" cy="245.5" r="3.2"/>
<circle cx="583.4" cy="274.2" r="3.2"/>
<circle cx="555.7" cy="271.9" r="3.2"/>
<circle cx="546.6" cy="275.5" r="3.2"/>
<circle cx="556.4" cy="261.9" r="3.2"/>
<circle cx="580.9" cy="267.8" r="3.2"/>
<circle cx="568.3" cy="260.3" r="3.2"/>
<circle cx="599.4" cy="255.5" r="3.2"/>
<circle cx="569.4" cy="261.3" r="3.2"/>
<circle cx="568.6" cy="257.3" r="3.2"/>
<circle cx="554.7" cy="261.3" r="3.2"/>
<circle cx="579.9" cy="271.7" r="3.2"/>
<circle cx="575.5" cy="275.0" r="3.2"/>
<circle cx="583.5" cy="257.3" r="3.2"/>
<circle cx="570.1" cy="248.6" r="3.2"/>
<circle cx="591.4" cy="264.7" r="3.2"/>
<circle cx="560.1" cy="261.1" r="3.2"/>
<circle cx="567.9" cy="273.9" r="3.2"/>
<circle cx="556.5" cy="264.6" r="3.2"/>
<circle cx="570.5" cy="274.7" r="3.2"/>
<circle cx="558.6" cy="267.4" r="3.2"/>
<circle cx="584.3" cy="264.9" r="3.2"/>
<circle cx="581.0" cy="269.3" r="3.2"/>
<circle cx="582.8" cy="275.1" r="3.2"/>
<circle cx="583.9" cy="270.6" r="3.2"/>
<circle cx="586.8" cy="270.0" r="3.2"/>
<circle cx="565.3" cy="268.4" r="3.2"/>
<circle cx="598.2" cy="258.4" r="3.2"/>
<circle cx="580.1" cy="267.6" r="3.2"/>
<circle cx="591.1" cy="271.5" r="3.2"/>
<circle cx="555.2" cy="258.4" r="3.2"/>
<circle cx="582.9" cy="259.8" r="3.2"/>
<circle cx="577.7" cy="261.7" r="3.2"/>
<circle cx="600.2" cy="263.4" r="3.2"/>
<circle cx="581.5" cy="266.7" r="3.2"/>
<circle cx="618.8" cy="260.2" r="3.2"/>
<circle cx="591.7" cy="267.6" r="3.2"/>
<circle cx="595.3" cy="245.1" r="3.2"/>
<circle cx="587.9" cy="267.2" r="3.2"/>
<circle cx="556.5" cy="242.4" r="3.2"/>
<circle cx="563.2" cy="273.5" r="3.2"/>
<circle cx="566.1" cy="269.7" r="3.2"/>
<circle cx="582.6" cy="257.7" r="3.2"/>
<circle cx="596.0" cy="275.1" r="3.2"/>
<circle cx="557.0" cy="274.2" r="3.2"/>
<circle cx="594.3" cy="272.8" r="3.2"/>
<circle cx="580.7" cy="263.8" r="3.2"/>
<circle cx="602.4" cy="256.5" r="3.2"/>
<circle cx="578.7" cy="274.0" r="3.2"/>
<circle cx="565.2" cy="265.2" r="3.2"/>
<circle cx="560.0" cy="269.6" r="3.2"/>
<circle cx="589.3" cy="264.5" r="3.2"/>
<circle cx="591.6" cy="256.0" r="3.2"/>
<circle cx="591.2" cy="271.2" r="3.2"/>
<circle cx="565.2" cy="275.2" r="3.2"/>
<circle cx="590.6" cy="262.1" r="3.2"/>
<circle cx="574.5" cy="260.9" r="3.2"/>
<circle cx="568.4" cy="264.4" r="3.2"/>
<circle cx="566.0" cy="274.3" r="3.2"/>
<circle cx="588.5" cy="257.9" r="3.2"/>
<circle cx="598.7" cy="240.7" r="3.2"/>
<circle cx="589.6" cy="268.6" r="3.2"/>
<circle cx="562.4" cy="256.5" r="3.2"/>
<circle cx="594.6" cy="261.3" r="3.2"/>
<circle cx="581.2" cy="266.1" r="3.2"/>
<circle cx="566.8" cy="266.5" r="3.2"/>
<circle cx="584.0" cy="273.4" r="3.2"/>
<circle cx="596.4" cy="257.6" r="3.2"/>
<circle cx="569.5" cy="268.7" r="3.2"/>
<circle cx="568.3" cy="274.8" r="3.2"/>
<circle cx="556.6" cy="265.9" r="3.2"/>
<circle cx="579.6" cy="269.5" r="3.2"/>
<circle cx="598.5" cy="273.0" r="3.2"/>
<circle cx="550.8" cy="265.5" r="3.2"/>
<circle cx="560.2" cy="269.0" r="3.2"/>
<circle cx="566.9" cy="273.5" r="3.2"/>
<circle cx="584.2" cy="271.9" r="3.2"/>
<circle cx="585.8" cy="255.8" r="3.2"/>
<circle cx="559.0" cy="266.9" r="3.2"/>
<circle cx="567.5" cy="260.9" r="3.2"/>
<circle cx="586.3" cy="270.9" r="3.2"/>
<circle cx="557.9" cy="274.1" r="3.2"/>
<circle cx="573.8" cy="271.7" r="3.2"/>
<circle cx="585.0" cy="265.0" r="3.2"/>
<circle cx="569.2" cy="240.6" r="3.2"/>
<circle cx="591.0" cy="263.6" r="3.2"/>
<circle cx="569.3" cy="273.0" r="3.2"/>
<circle cx="587.4" cy="273.5" r="3.2"/>
<circle cx="597.3" cy="256.9" r="3.2"/>
<circle cx="583.0" cy="266.1" r="3.2"/>
<circle cx="570.0" cy="271.5" r="3.2"/>
<circle cx="571.0" cy="267.3" r="3.2"/>
<circle cx="567.3" cy="270.8" r="3.2"/>
<circle cx="580.9" cy="249.5" r="3.2"/>
<circle cx="583.0" cy="265.5" r="3.2"/>
<circle cx="588.3" cy="266.2" r="3.2"/>
<circle cx="603.1" cy="264.1" r="3.2"/>
<circle cx="590.0" cy="274.8" r="3.2"/>
<circle cx="561.3" cy="275.6" r="3.2"/>
<circle cx="567.2" cy="260.9" r="3.2"/>
<circle cx="594.4" cy="255.8" r="3.2"/>
<circle cx="601.3" cy="262.0" r="3.2"/>
<circle cx="585.6" cy="273.4" r="3.2"/>
<circle cx="594.4" cy="269.5" r="3.2"/>
<circle cx="565.3" cy="272.6" r="3.2"/>
<circle cx="587.7" cy="273.7" r="3.2"/>
<circle cx="583.5" cy="247.1" r="3.2"/>
<circle cx="591.2" cy="275.2" r="3.2"/>
<circle cx="583.1" cy="267.7" r="3.2"/>
<circle cx="553.0" cy="274.0" r="3.2"/>
<circle cx="585.2" cy="268.4" r="3.2"/>
<circle cx="567.1" cy="263.6" r="3.2"/>
<circle cx="580.7" cy="275.3" r="3.2"/>
<circle cx="586.1" cy="263.7" r="3.2"/>
<circle cx="590.7" cy="259.5" r="3.2"/>
<circle cx="562.3" cy="264.6" r="3.2"/>
<circle cx="568.6" cy="271.6" r="3.2"/>
<circle cx="595.9" cy="272.5" r="3.2"/>
<circle cx="582.5" cy="272.0" r="3.2"/>
<circle cx="556.9" cy="273.2" r="3.2"/>
<circle cx="585.4" cy="275.1" r="3.2"/>
<circle cx="600.2" cy="258.3" r="3.2"/>
<circle cx="568.9" cy="268.1" r="3.2"/>
<circle cx="569.5" cy="254.6" r="3.2"/>
<circle cx="544.1" cy="267.8" r="3.2"/>
<circle cx="590.6" cy="269.2" r="3.2"/>
<circle cx="583.0" cy="265.4" r="3.2"/>
<circle cx="582.4" cy="228.1" r="3.2"/>
<circle cx="568.0" cy="263.5" r="3.2"/>
<circle cx="563.5" cy="263.7" r="3.2"/>
<circle cx="593.2" cy="273.1" r="3.2"/>
<circle cx="566.9" cy="270.6" r="3.2"/>
<circle cx="596.2" cy="258.1" r="3.2"/>
<circle cx="600.8" cy="260.0" r="3.2"/>
<circle cx="563.9" cy="275.0" r="3.2"/>
<circle cx="584.4" cy="265.4" r="3.2"/>
<circle cx="567.8" cy="264.8" r="3.2"/>
<circle cx="583.2" cy="262.6" r="3.2"/>
<circle cx="605.4" cy="263.3" r="3.2"/>
<circle cx="581.3" cy="273.1" r="3.2"/>
<circle cx="587.1" cy="266.9" r="3.2"/>
<circle cx="545.5" cy="261.4" r="3.2"/>
<circle cx="554.6" cy="269.2" r="3.2"/>
<circle cx="566.7" cy="248.7" r="3.2"/>
<circle cx="559.3" cy="267.0" r="3.2"/>
<circle cx="585.7" cy="260.0" r="3.2"/>
<circle cx="556.5" cy="272.0" r="3.2"/>
<circle cx="559.7" cy="268.6" r="3.2"/>
<circle cx="565.9" cy="272.7" r="3.2"/>
<circle cx="588.8" cy="274.7" r="3.2"/>
<circle cx="583.5" cy="270.7" r="3.2"/>
<circle cx="551.1" cy="266.2" r="3.2"/>
<circle cx="586.4" cy="271.2" r="3.2"/>
<circle cx="561.1" cy="273.5" r="3.2"/>
<circle cx="578.0" cy="274.6" r="3.2"/>
<circle cx="592.7" cy="265.7" r="3.2"/>
<circle cx="561.3" cy="261.8" r="3.2"/>
<circle cx="606.6" cy="258.3" r="3.2"/>
<circle cx="590.8" cy="270.2" r="3.2"/>
<circle cx="553.3" cy="260.0" r="3.2"/>
<circle cx="566.1" cy="271.2" r="3.2"/>
<circle cx="599.1" cy="268.1" r="3.2"/>
<circle cx="560.3" cy="269.2" r="3.2"/>
<circle cx="599.6" cy="255.6" r="3.2"/>
<circle cx="566.9" cy="270.0" r="3.2"/>
<circle cx="584.6" cy="259.3" r="3.2"/>
<circle cx="563.8" cy="268.3" r="3.2"/>
<circle cx="547.1" cy="253.7" r="3.2"/>
<circle cx="554.5" cy="267.3" r="3.2"/>
<circle cx="579.3" cy="272.3" r="3.2"/>
<circle cx="568.4" cy="262.7" r="3.2"/>
<circle cx="552.2" cy="266.9" r="3.2"/>
<circle cx="550.6" cy="261.5" r="3.2"/>
<circle cx="568.7" cy="266.1" r="3.2"/>
<circle cx="580.7" cy="268.1" r="3.2"/>
<circle cx="575.1" cy="265.6" r="3.2"/>
<circle cx="574.8" cy="261.9" r="3.2"/>
<circle cx="587.7" cy="265.2" r="3.2"/>
<circle cx="581.0" cy="257.3" r="3.2"/>
<circle cx="591.4" cy="244.9" r="3.2"/>
<circle cx="585.2" cy="271.6" r="3.2"/>
<circle cx="566.1" cy="267.3" r="3.2"/>
<circle cx="591.4" cy="269.7" r="3.2"/>
<circle cx="587.3" cy="263.6" r="3.2"/>
<circle cx="558.4" cy="262.9" r="3.2"/>
<circle cx="566.4" cy="247.3" r="3.2"/>
<circle cx="578.3" cy="241.8" r="3.2"/>
<circle cx="580.8" cy="274.4" r="3.2"/>
<circle cx="565.7" cy="274.7" r="3.2"/>
<circle cx="585.4" cy="259.8" r="3.2"/>
<circle cx="583.2" cy="274.6" r="3.2"/>
<circle cx="568.3" cy="267.6" r="3.2"/>
<circle cx="562.6" cy="274.2" r="3.2"/>
<circle cx="565.3" cy="266.5" r="3.2"/>
<circle cx="566.6" cy="271.8" r="3.2"/>
<circle cx="567.9" cy="263.9" r="3.2"/>
<circle cx="579.8" cy="248.5" r="3.2"/>
<circle cx="583.2" cy="249.2" r="3.2"/>
<circle cx="540.2" cy="263.3" r="3.2"/>
<circle cx="586.0" cy="263.0" r="3.2"/>
<circle cx="550.0" cy="251.6" r="3.2"/>
<circle cx="565.7" cy="275.4" r="3.2"/>
<circle cx="584.6" cy="267.8" r="3.2"/>
<circle cx="575.3" cy="266.4" r="3.2"/>
<circle cx="560.0" cy="266.5" r="3.2"/>
<circle cx="554.5" cy="274.9" r="3.2"/>
<circle cx="582.0" cy="274.6" r="3.2"/>
<circle cx="556.6" cy="260.4" r="3.2"/>
<circle cx="592.8" cy="266.2" r="3.2"/>
<circle cx="564.8" cy="259.8" r="3.2"/>
<circle cx="591.9" cy="260.2" r="3.2"/>
<circle cx="567.6" cy="267.7" r="3.2"/>
<circle cx="568.5" cy="250.5" r="3.2"/>
<circle cx="567.4" cy="269.6" r="3.2"/>
<circle cx="546.9" cy="269.5" r="3.2"/>
<circle cx="563.3" cy="268.8" r="3.2"/>
<circle cx="554.3" cy="273.9" r="3.2"/>
<circle cx="564.5" cy="258.5" r="3.2"/>
<circle cx="544.5" cy="262.1" r="3.2"/>
<circle cx="585.2" cy="271.7" r="3.2"/>
<circle cx="570.8" cy="256.9" r="3.2"/>
<circle cx="591.6" cy="263.4" r="3.2"/>
<circle cx="581.7" cy="274.7" r="3.2"/>
<circle cx="570.1" cy="275.5" r="3.2"/>
<circle cx="584.7" cy="263.8" r="3.2"/>
<circle cx="554.5" cy="271.7" r="3.2"/>
<circle cx="582.2" cy="272.5" r="3.2"/>
<circle cx="562.7" cy="272.7" r="3.2"/>
<circle cx="564.3" cy="275.3" r="3.2"/>
<circle cx="603.4" cy="250.1" r="3.2"/>
<circle cx="551.6" cy="275.1" r="3.2"/>
<circle cx="580.2" cy="265.9" r="3.2"/>
<circle cx="580.9" cy="271.1" r="3.2"/>
<circle cx="569.3" cy="273.2" r="3.2"/>
<circle cx="554.8" cy="256.0" r="3.2"/>
<circle cx="559.8" cy="268.9" r="3.2"/>
<circle cx="571.0" cy="271.9" r="3.2"/>
<circle cx="591.2" cy="264.4" r="3.2"/>
<circle cx="586.1" cy="269.3" r="3.2"/>
<circle cx="584.3" cy="256.7" r="3.2"/>
<circle cx="527.1" cy="268.5" r="3.2"/>
<circle cx="565.7" cy="273.5" r="3.2"/>
<circle cx="554.6" cy="253.2" r="3.2"/>
<circle cx="591.6" cy="259.8" r="3.2"/>
<circle cx="576.6" cy="237.9" r="3.2"/>
<circle cx="564.8" cy="260.9" r="3.2"/>
<circle cx="578.4" cy="270.8" r="3.2"/>
<circle cx="585.1" cy="260.6" r="3.2"/>
<circle cx="585.7" cy="262.7" r="3.2"/>
<circle cx="567.6" cy="265.6" r="3.2"/>
<circle cx="591.3" cy="270.2" r="3.2"/>
<circle cx="587.1" cy="274.7" r="3.2"/>
<circle cx="583.0" cy="273.1" r="3.2"/>
<circle cx="588.3" cy="260.3" r="3.2"/>
<circle cx="586.9" cy="272.9" r="3.2"/>
<circle cx="594.4" cy="248.4" r="3.2"/>
<circle cx="582.6" cy="260.1" r="3.2"/>
<circle cx="560.7" cy="263.6" r="3.2"/>
<circle cx="564.6" cy="270.3" r="3.2"/>
<circle cx="567.3" cy="273.6" r="3.2"/>
<circle cx="554.0" cy="274.1" r="3.2"/>
<circle cx="580.4" cy="255.6" r="3.2"/>
<circle cx="569.1" cy="238.7" r="3.2"/>
<circle cx="587.7" cy="255.6" r="3.2"/>
<circle cx="553.7" cy="267.0" r="3.2"/>
<circle cx="588.5" cy="273.6" r="3.2"/>
<circle cx="581.2" cy="258.2" r="3.2"/>
<circle cx="582.3" cy="270.3" r="3.2"/>
<circle cx="542.5" cy="262.4" r="3.2"/>
<circle cx="551.0" cy="252.7" r="3.2"/>
<circle cx="570.2" cy="259.8" r="3.2"/>
<circle cx="587.4" cy="260.5" r="3.2"/>
<circle cx="556.1" cy="271.5" r="3.2"/>
<circle cx="569.7" cy="266.7" r="3.2"/>
<circle cx="582.8" cy="258.7" r="3.2"/>
<circle cx="565.3" cy="270.1" r="3.2"/>
<circle cx="567.2" cy="267.0" r="3.2"/>
<circle cx="566.9" cy="256.8" r="3.2"/>
<circle cx="571.9" cy="252.1" r="3.2"/>
<circle cx="557.9" cy="260.1" r="3.2"/>
<circle cx="584.3" cy="263.5" r="3.2"/>
<circle cx="593.0" cy="256.3" r="3.2"/>
<circle cx="586.0" cy="259.7" r="3.2"/>
<circle cx="587.6" cy="255.4" r="3.2"/>
<circle cx="559.1" cy="270.5" r="3.2"/>
<circle cx="585.9" cy="253.0" r="3.2"/>
<circle cx="555.7" cy="265.0" r="3.2"/>
<circle cx="556.9" cy="256.2" r="3.2"/>
<circle cx="562.1" cy="246.6" r="3.2"/>
<circle cx="586.7" cy="275.0" r="3.2"/>
<circle cx="580.6" cy="262.7" r="3.2"/>
<circle cx="560.5" cy="251.1" r="3.2"/>
<circle cx="564.3" cy="256.6" r="3.2"/>
<circle cx="589.4" cy="274.0" r="3.2"/>
<circle cx="582.9" cy="274.3" r="3.2"/>
<circle cx="566.7" cy="266.5" r="3.2"/>
<circle cx="564.4" cy="263.6" r="3.2"/>
<circle cx="570.3" cy="275.2" r="3.2"/>
<circle cx="558.3" cy="266.2" r="3.2"/>
<circle cx="584.7" cy="253.6" r="3.2"/>
<circle cx="584.4" cy="270.8" r="3.2"/>
<circle cx="566.4" cy="271.9" r="3.2"/>
<circle cx="569.5" cy="263.7" r="3.2"/>
<circle cx="580.9" cy="270.7" r="3.2"/>
<circle cx="582.3" cy="268.1" r="3.2"/>
<circle cx="589.5" cy="262.4" r="3.2"/>
<circle cx="564.9" cy="274.6" r="3.2"/>
<circle cx="580.8" cy="264.8" r="3.2"/>
<circle cx="558.4" cy="263.8" r="3.2"/>
<circle cx="596.5" cy="262.1" r="3.2"/>
<circle cx="564.8" cy="270.6" r="3.2"/>
<circle cx="584.2" cy="269.7" r="3.2"/>
<circle cx="580.5" cy="268.7" r="3.2"/>
<circle cx="582.0" cy="272.3" r="3.2"/>
<circle cx="569.8" cy="253.4" r="3.2"/>
<circle cx="581.0" cy="272.4" r="3.2"/>
<circle cx="565.1" cy="273.3" r="3.2"/>
<circle cx="590.7" cy="274.6" r="3.2"/>
<circle cx="585.9" cy="275.1" r="3.2"/>
<circle cx="553.1" cy="246.2" r="3.2"/>
<circle cx="565.5" cy="272.5" r="3.2"/>
<circle cx="553.3" cy="263.7" r="3.2"/>
<circle cx="585.9" cy="267.6" r="3.2"/>
<circle cx="545.7" cy="266.5" r="3.2"/>
<circle cx="559.7" cy="255.1" r="3.2"/>
<circle cx="561.3" cy="253.4" r="3.2"/>
<circle cx="567.3" cy="274.7" r="3.2"/>
<circle cx="568.2" cy="269.1" r="3.2"/>
<circle cx="585.0" cy="270.8" r="3.2"/>
<circle cx="588.3" cy="266.5" r="3.2"/>
<circle cx="566.7" cy="273.9" r="3.2"/>
<circle cx="550.7" cy="266.7" r="3.2"/>
<circle cx="555.8" cy="252.7" r="3.2"/>
<circle cx="544.7" cy="254.7" r="3.2"/>
<circle cx="585.8" cy="274.4" r="3.2"/>
<circle cx="587.7" cy="254.9" r="3.2"/>
<circle cx="566.0" cy="275.2" r="3.2"/>
<circle cx="592.0" cy="246.9" r="3.2"/>
<circle cx="584.6" cy="272.2" r="3.2"/>
<circle cx="551.4" cy="263.8" r="3.2"/>
<circle cx="557.4" cy="274.3" r="3.2"/>
<circle cx="560.0" cy="258.6" r="3.2"/>
<circle cx="599.0" cy="264.9" r="3.2"/>
<circle cx="595.7" cy="266.1" r="3.2"/>
<circle cx="565.8" cy="274.0" r="3.2"/>
<circle cx="585.7" cy="264.0" r="3.2"/>
<circle cx="582.6" cy="267.0" r="3.2"/>
<circle cx="562.4" cy="267.3" r="3.2"/>
<circle cx="588.3" cy="268.9" r="3.2"/>
<circle cx="587.8" cy="275.3" r="3.2"/>
<circle cx="560.8" cy="273.5" r="3.2"/>
<circle cx="563.3" cy="269.6" r="3.2"/>
<circle cx="602.0" cy="261.6" r="3.2"/>
<circle cx="625.3" cy="252.0" r="3.2"/>
<circle cx="591.1" cy="273.4" r="3.2"/>
<circle cx="609.5" cy="273.9" r="3.2"/>
<circle cx="561.9" cy="273.3" r="3.2"/>
<circle cx="590.7" cy="254.3" r="3.2"/>
<circle cx="585.0" cy="259.6" r="3.2"/>
<circle cx="577.8" cy="266.0" r="3.2"/>
<circle cx="582.9" cy="267.6" r="3.2"/>
<circle cx="588.5" cy="275.5" r="3.2"/>
<circle cx="591.3" cy="260.8" r="3.2"/>
<circle cx="606.5" cy="262.2" r="3.2"/>
<circle cx="586.3" cy="270.4" r="3.2"/>
<circle cx="597.3" cy="259.0" r="3.2"/>
<circle cx="583.9" cy="269.2" r="3.2"/>
<circle cx="595.6" cy="251.3" r="3.2"/>
<circle cx="561.7" cy="265.2" r="3.2"/>
<circle cx="569.2" cy="266.6" r="3.2"/>
<circle cx="588.7" cy="265.9" r="3.2"/>
<circle cx="591.1" cy="267.3" r="3.2"/>
<circle cx="590.2" cy="272.9" r="3.2"/>
<circle cx="555.5" cy="262.3" r="3.2"/>
<circle cx="569.4" cy="265.8" r="3.2"/>
<circle cx="585.7" cy="263.5" r="3.2"/>
<circle cx="560.2" cy="266.6" r="3.2"/>
<circle cx="563.3" cy="261.5" r="3.2"/>
<circle cx="590.1" cy="272.1" r="3.2"/>
<circle cx="590.4" cy="274.7" r="3.2"/>
<circle cx="561.8" cy="274.4" r="3.2"/>
<circle cx="584.3" cy="262.7" r="3.2"/>
<circle cx="592.4" cy="263.6" r="3.2"/>
<circle cx="571.7" cy="259.7" r="3.2"/>
<circle cx="583.7" cy="269.1" r="3.2"/>
<circle cx="568.4" cy="252.9" r="3.2"/>
<circle cx="552.0" cy="260.3" r="3.2"/>
<circle cx="562.5" cy="265.7" r="3.2"/>
<circle cx="558.8" cy="273.8" r="3.2"/>
<circle cx="559.5" cy="270.3" r="3.2"/>
<circle cx="566.0" cy="262.4" r="3.2"/>
<circle cx="585.8" cy="272.0" r="3.2"/>
<circle cx="566.8" cy="270.2" r="3.2"/>
<circle cx="597.1" cy="269.5" r="3.2"/>
<circle cx="570.7" cy="262.5" r="3.2"/>
<circle cx="583.4" cy="267.5" r="3.2"/>
<circle cx="587.2" cy="271.4" r="3.2"/>
<circle cx="582.8" cy="256.3" r="3.2"/>
<circle cx="584.6" cy="268.0" r="3.2"/>
<circle cx="568.8" cy="272.8" r="3.2"/>
<circle cx="582.4" cy="264.9" r="3.2"/>
<circle cx="560.1" cy="263.5" r="3.2"/>
<circle cx="583.0" cy="268.2" r="3.2"/>
<circle cx="563.9" cy="270.4" r="3.2"/>
<circle cx="551.0" cy="268.5" r="3.2"/>
<circle cx="585.1" cy="257.5" r="3.2"/>
<circle cx="582.0" cy="269.9" r="3.2"/>
<circle cx="574.6" cy="269.3" r="3.2"/>
<circle cx="570.0" cy="260.1" r="3.2"/>
<circle cx="566.4" cy="247.2" r="3.2"/>
<circle cx="564.3" cy="269.8" r="3.2"/>
<circle cx="565.9" cy="256.2" r="3.2"/>
<circle cx="596.0" cy="266.4" r="3.2"/>
<circle cx="592.1" cy="275.1" r="3.2"/>
<circle cx="562.3" cy="271.4" r="3.2"/>
<circle cx="588.9" cy="255.6" r="3.2"/>
<circle cx="581.5" cy="260.9" r="3.2"/>
<circle cx="564.5" cy="262.8" r="3.2"/>
<circle cx="565.8" cy="267.3" r="3.2"/>
<circle cx="586.2" cy="271.2" r="3.2"/>
<circle cx="558.7" cy="272.2" r="3.2"/>
<circle cx="569.6" cy="267.3" r="3.2"/>
<circle cx="569.5" cy="261.5" r="3.2"/>
<circle cx="566.7" cy="259.4" r="3.2"/>
<circle cx="587.9" cy="257.7" r="3.2"/>
<circle cx="566.4" cy="263.1" r="3.2"/>
<circle cx="562.1" cy="272.0" r="3.2"/>
<circle cx="563.0" cy="269.5" r="3.2"/>
<circle cx="566.5" cy="247.6" r="3.2"/>
<circle cx="552.5" cy="275.1" r="3.2"/>
<circle cx="572.8" cy="269.7" r="3.2"/>
<circle cx="582.4" cy="275.1" r="3.2"/>
<circle cx="588.0" cy="275.5" r="3.2"/>
<circle cx="580.2" cy="264.9" r="3.2"/>
<circle cx="557.0" cy="270.0" r="3.2"/>
<circle cx="580.4" cy="266.7" r="3.2"/>
<circle cx="593.3" cy="271.0" r="3.2"/>
<circle cx="578.3" cy="274.1" r="3.2"/>
<circle cx="583.4" cy="272.2" r="3.2"/>
<circle cx="583.7" cy="246.8" r="3.2"/>
<circle cx="586.8" cy="265.7" r="3.2"/>
<circle cx="557.5" cy="271.1" r="3.2"/>
<circle cx="563.9" cy="273.4" r="3.2"/>
<circle cx="591.7" cy="273.2" r="3.2"/>
<circle cx="567.2" cy="270.8" r="3.2"/>
<circle cx="552.6" cy="267.6" r="3.2"/>
<circle cx="597.1" cy="259.3" r="3.2"/>
<circle cx="560.9" cy="253.4" r="3.2"/>
<circle cx="559.4" cy="272.4" r="3.2"/>
<circle cx="588.1" cy="253.3" r="3.2"/>
<circle cx="567.6" cy="254.0" r="3.2"/>
<circle cx="603.7" cy="275.0" r="3.2"/>
<circle cx="599.8" cy="268.1" r="3.2"/>
<circle cx="584.4" cy="247.8" r="3.2"/>
<circle cx="563.5" cy="274.3" r="3.2"/>
<circle cx="564.4" cy="269.0" r="3.2"/>
<circle cx="589.8" cy="266.1" r="3.2"/>
<circle cx="591.2" cy="274.7" r="3.2"/>
<circle cx="584.0" cy="270.3" r="3.2"/>
<circle cx="584.2" cy="268.4" r="3.2"/>
<circle cx="585.7" cy="244.9" r="3.2"/>
<circle cx="555.8" cy="266.9" r="3.2"/>
<circle cx="565.4" cy="267.9" r="3.2"/>
<circle cx="566.0" cy="271.5" r="3.2"/>
<circle cx="580.8" cy="265.4" r="3.2"/>
<circle cx="561.0" cy="273.4" r="3.2"/>
<circle cx="568.3" cy="245.5" r="3.2"/>
<circle cx="564.6" cy="259.9" r="3.2"/>
<circle cx="582.8" cy="265.9" r="3.2"/>
<circle cx="581.4" cy="259.8" r="3.2"/>
<circle cx="581.2" cy="254.1" r="3.2"/>
<circle cx="559.6" cy="268.9" r="3.2"/>
<circle cx="588.7" cy="258.6" r="3.2"/>
<circle cx="544.2" cy="252.2" r="3.2"/>
<circle cx="548.8" cy="271.6" r="3.2"/>
<circle cx="594.5" cy="275.0" r="3.2"/>
<circle cx="588.1" cy="272.7" r="3.2"/>
<circle cx="557.8" cy="269.6" r="3.2"/>
<circle cx="583.6" cy="258.9" r="3.2"/>
<circle cx="568.2" cy="269.8" r="3.2"/>
<circle cx="568.0" cy="273.8" r="3.2"/>
<circle cx="592.8" cy="250.6" r="3.2"/>
<circle cx="557.5" cy="261.9" r="3.2"/>
<circle cx="569.1" cy="272.3" r="3.2"/>
<circle cx="588.5" cy="268.1" r="3.2"/>
<circle cx="570.3" cy="263.6" r="3.2"/>
<circle cx="567.1" cy="272.4" r="3.2"/>
<circle cx="591.0" cy="275.0" r="3.2"/>
<circle cx="597.2" cy="267.1" r="3.2"/>
<circle cx="582.7" cy="269.8" r="3.2"/>
<circle cx="551.3" cy="265.3" r="3.2"/>
<circle cx="571.7" cy="271.5" r="3.2"/>
<circle cx="568.6" cy="250.5" r="3.2"/>
<circle cx="590.5" cy="266.6" r="3.2"/>
<circle cx="563.5" cy="265.3" r="3.2"/>
<circle cx="556.7" cy="249.6" r="3.2"/>
<circle cx="566.4" cy="252.2" r="3.2"/>
<circle cx="580.0" cy="266.8" r="3.2"/>
<circle cx="567.7" cy="259.0" r="3.2"/>
<circle cx="600.6" cy="267.0" r="3.2"/>
<circle cx="557.3" cy="262.6" r="3.2"/>
<circle cx="574.9" cy="269.4" r="3.2"/>
<circle cx="586.1" cy="268.6" r="3.2"/>
<circle cx="566.9" cy="270.9" r="3.2"/>
<circle cx="595.5" cy="267.9" r="3.2"/>
<circle cx="591.1" cy="274.7" r="3.2"/>
<circle cx="565.9" cy="264.5" r="3.2"/>
<circle cx="580.5" cy="266.9" r="3.2"/>
<circle cx="589.8" cy="274.1" r="3.2"/>
<circle cx="589.6" cy="263.9" r="3.2"/>
<circle cx="563.5" cy="263.7" r="3.2"/>
<circle cx="589.4" cy="247.0" r="3.2"/>
<circle cx="591.6" cy="253.3" r="3.2"/>
<circle cx="568.5" cy="275.0" r="3.2"/>
<circle cx="587.9" cy="250.4" r="3.2"/>
<circle cx="560.9" cy="272.6" r="3.2"/>
<circle cx="566.9" cy="274.2" r="3.2"/>
<circle cx="560.6" cy="249.2" r="3.2"/>
<circle cx="590.4" cy="265.3" r="3.2"/>
<circle cx="597.1" cy="265.0" r="3.2"/>
<circle cx="583.1" cy="274.9" r="3.2"/>
<circle cx="593.2" cy="258.4" r="3.2"/>
<circle cx="567.6" cy="271.3" r="3.2"/>
<circle cx="590.7" cy="263.1" r="3.2"/>
<circle cx="559.9" cy="266.4" r="3.2"/>
<circle cx="552.2" cy="265.0" r="3.2"/>
<circle cx="568.6" cy="273.5" r="3.2"/>
<circle cx="567.1" cy="262.5" r="3.2"/>
<circle cx="585.3" cy="268.7" r="3.2"/>
<circle cx="586.7" cy="275.2" r="3.2"/>
<circle cx="559.1" cy="271.3" r="3.2"/>
<circle cx="586.4" cy="247.9" r="3.2"/>
<circle cx="583.6" cy="252.5" r="3.2"/>
<circle cx="568.0" cy="252.4" r="3.2"/>
<circle cx="571.5" cy="269.2" r="3.2"/>
<circle cx="583.7" cy="311.3" r="3.2"/>
<circle cx="608.8" cy="297.1" r="3.2"/>
<circle cx="581.9" cy="290.5" r="3.2"/>
<circle cx="565.2" cy="305.2" r="3.2"/>
<circle cx="589.7" cy="293.3" r="3.2"/>
<circle cx="582.9" cy="308.4" r="3.2"/>
<circle cx="550.5" cy="289.9" r="3.2"/>
<circle cx="584.5" cy="303.5" r="3.2"/>
<circle cx="583.9" cy="301.6" r="3.2"/>
<circle cx="599.9" cy="310.6" r="3.2"/>
<circle cx="598.2" cy="300.6" r="3.2"/>
<circle cx="590.6" cy="299.0" r="3.2"/>
<circle cx="610.6" cy="305.9" r="3.2"/>
<circle cx="582.4" cy="317.5" r="3.2"/>
<circle cx="584.1" cy="292.5" r="3.2"/>
<circle cx="561.3" cy="291.1" r="3.2"/>
<circle cx="596.4" cy="292.4" r="3.2"/>
<circle cx="583.4" cy="289.3" r="3.2"/>
<circle cx="583.2" cy="298.1" r="3.2"/>
<circle cx="584.4" cy="292.8" r="3.2"/>
<circle cx="592.2" cy="300.1" r="3.2"/>
<circle cx="586.2" cy="292.7" r="3.2"/>
<circle cx="591.0" cy="306.9" r="3.2"/>
<circle cx="597.8" cy="303.5" r="3.2"/>
<circle cx="596.6" cy="291.5" r="3.2"/>
<circle cx="585.4" cy="302.3" r="3.2"/>
<circle cx="585.0" cy="308.4" r="3.2"/>
<circle cx="584.1" cy="304.3" r="3.2"/>
<circle cx="568.4" cy="289.9" r="3.2"/>
<circle cx="592.3" cy="299.6" r="3.2"/>
<circle cx="583.6" cy="296.0" r="3.2"/>
<circle cx="586.6" cy="309.2" r="3.2"/>
<circle cx="580.3" cy="291.1" r="3.2"/>
<circle cx="597.1" cy="294.4" r="3.2"/>
<circle cx="598.2" cy="305.4" r="3.2"/>
<circle cx="584.9" cy="302.1" r="3.2"/>
<circle cx="570.3" cy="295.5" r="3.2"/>
<circle cx="584.5" cy="295.7" r="3.2"/>
<circle cx="595.4" cy="298.1" r="3.2"/>
<circle cx="600.1" cy="294.7" r="3.2"/>
<circle cx="600.7" cy="294.3" r="3.2"/>
<circle cx="587.2" cy="291.3" r="3.2"/>
<circle cx="588.2" cy="295.8" r="3.2"/>
<circle cx="581.0" cy="293.0" r="3.2"/>
<circle cx="585.5" cy="294.5" r="3.2"/>
<circle cx="574.8" cy="310.4" r="3.2"/>
<circle cx="598.8" cy="292.3" r="3.2"/>
<circle cx="600.5" cy="310.7" r="3.2"/>
<circle cx="543.4" cy="313.4" r="3.2"/>
<circle cx="595.8" cy="302.2" r="3.2"/>
<circle cx="590.3" cy="289.3" r="3.2"/>
<circle cx="588.3" cy="293.1" r="3.2"/>
<circle cx="586.3" cy="314.9" r="3.2"/>
<circle cx="582.9" cy="300.3" r="3.2"/>
<circle cx="586.9" cy="295.8" r="3.2"/>
<circle cx="569.5" cy="299.7" r="3.2"/>
<circle cx="594.9" cy="291.3" r="3.2"/>
<circle cx="587.9" cy="305.4" r="3.2"/>
<circle cx="593.4" cy="291.5" r="3.2"/>
<circle cx="583.8" cy="290.1" r="3.2"/>
<circle cx="594.3" cy="292.5" r="3.2"/>
<circle cx="592.9" cy="294.5" r="3.2"/>
<circle cx="585.0" cy="295.4" r="3.2"/>
<circle cx="581.5" cy="291.8" r="3.2"/>
<circle cx="576.9" cy="300.1" r="3.2"/>
<circle cx="568.4" cy="294.0" r="3.2"/>
<circle cx="580.6" cy="295.7" r="3.2"/>
<circle cx="585.2" cy="296.8" r="3.2"/>
<circle cx="582.7" cy="290.3" r="3.2"/>
<circle cx="576.6" cy="312.2" r="3.2"/>
<circle cx="590.8" cy="304.6" r="3.2"/>
<circle cx="590.6" cy="301.9" r="3.2"/>
<circle cx="607.7" cy="300.1" r="3.2"/>
<circle cx="577.5" cy="289.5" r="3.2"/>
<circle cx="586.2" cy="305.8" r="3.2"/>
<circle cx="558.2" cy="303.1" r="3.2"/>
<circle cx="597.9" cy="311.6" r="3.2"/>
<circle cx="562.4" cy="297.9" r="3.2"/>
<circle cx="596.2" cy="297.4" r="3.2"/>
<circle cx="567.9" cy="314.1" r="3.2"/>
<circle cx="595.7" cy="297.4" r="3.2"/>
<circle cx="581.7" cy="303.4" r="3.2"/>
<circle cx="599.1" cy="307.9" r="3.2"/>
<circle cx="584.9" cy="293.6" r="3.2"/>
<circle cx="570.5" cy="296.7" r="3.2"/>
<circle cx="591.7" cy="267.7" r="3.2"/>
<circle cx="633.5" cy="245.4" r="3.2"/>
<circle cx="560.1" cy="261.6" r="3.2"/>
<circle cx="575.5" cy="268.7" r="3.2"/>
<circle cx="573.8" cy="296.2" r="3.2"/>
<circle cx="553.1" cy="301.7" r="3.2"/>
<circle cx="590.2" cy="260.5" r="3.2"/>
<circle cx="575.8" cy="308.6" r="3.2"/>
<circle cx="575.3" cy="262.1" r="3.2"/>
<circle cx="543.4" cy="246.3" r="3.2"/>
<circle cx="515.6" cy="268.9" r="3.2"/>
<circle cx="573.7" cy="292.2" r="3.2"/>
<circle cx="586.4" cy="260.6" r="3.2"/>
<circle cx="574.4" cy="269.2" r="3.2"/>
<circle cx="564.1" cy="241.6" r="3.2"/>
<circle cx="593.9" cy="301.9" r="3.2"/>
<circle cx="603.7" cy="250.6" r="3.2"/>
<circle cx="618.6" cy="295.0" r="3.2"/>
<circle cx="521.5" cy="301.3" r="3.2"/>
<circle cx="573.0" cy="236.8" r="3.2"/>
<circle cx="590.7" cy="288.3" r="3.2"/>
<circle cx="627.8" cy="252.5" r="3.2"/>
<circle cx="574.2" cy="306.2" r="3.2"/>
<circle cx="594.1" cy="296.7" r="3.2"/>
<circle cx="529.8" cy="252.3" r="3.2"/>
<circle cx="578.6" cy="248.3" r="3.2"/>
<circle cx="543.8" cy="256.8" r="3.2"/>
<circle cx="555.9" cy="268.4" r="3.2"/>
<circle cx="541.3" cy="324.3" r="3.2"/>
<circle cx="625.9" cy="292.1" r="3.2"/>
<circle cx="606.2" cy="261.4" r="3.2"/>
<circle cx="603.4" cy="263.9" r="3.2"/>
<circle cx="594.0" cy="250.4" r="3.2"/>
<circle cx="496.0" cy="208.0" r="3.2"/>
<circle cx="566.7" cy="268.2" r="3.2"/>
<circle cx="553.5" cy="314.2" r="3.2"/>
<circle cx="605.3" cy="263.4" r="3.2"/>
<circle cx="619.6" cy="268.0" r="3.2"/>
<circle cx="590.5" cy="252.2" r="3.2"/>
<circle cx="562.1" cy="262.7" r="3.2"/>
<circle cx="617.6" cy="288.8" r="3.2"/>
<circle cx="616.3" cy="264.9" r="3.2"/>
<circle cx="569.1" cy="288.3" r="3.2"/>
<circle cx="570.8" cy="242.2" r="3.2"/>
<circle cx="545.7" cy="231.5" r="3.2"/>
<circle cx="540.5" cy="299.6" r="3.2"/>
<circle cx="547.0" cy="261.4" r="3.2"/>
<circle cx="632.7" cy="261.8" r="3.2"/>
<circle cx="547.9" cy="258.4" r="3.2"/>
<circle cx="569.7" cy="322.1" r="3.2"/>
<circle cx="602.9" cy="290.5" r="3.2"/>
<circle cx="623.0" cy="265.7" r="3.2"/>
<circle cx="591.5" cy="266.4" r="3.2"/>
<circle cx="536.4" cy="294.4" r="3.2"/>
<circle cx="618.5" cy="286.7" r="3.2"/>
<circle cx="568.4" cy="209.8" r="3.2"/>
<circle cx="546.4" cy="268.8" r="3.2"/>
<circle cx="595.1" cy="264.0" r="3.2"/>
<circle cx="567.4" cy="287.9" r="3.2"/>
<circle cx="599.4" cy="322.6" r="3.2"/>
<circle cx="541.2" cy="251.2" r="3.2"/>
<circle cx="520.1" cy="255.8" r="3.2"/>
<circle cx="544.6" cy="327.4" r="3.2"/>
<circle cx="560.4" cy="291.0" r="3.2"/>
<circle cx="593.9" cy="254.9" r="3.2"/>
<circle cx="537.8" cy="268.0" r="3.2"/>
<circle cx="582.1" cy="288.0" r="3.2"/>
<circle cx="556.9" cy="268.6" r="3.2"/>
<circle cx="572.2" cy="265.9" r="3.2"/>
<circle cx="540.2" cy="264.6" r="3.2"/>
<circle cx="569.7" cy="262.4" r="3.2"/>
<circle cx="564.8" cy="263.1" r="3.2"/>
<circle cx="581.7" cy="230.1" r="3.2"/>
<circle cx="580.9" cy="266.1" r="3.2"/>
<circle cx="575.8" cy="292.0" r="3.2"/>
<circle cx="549.3" cy="262.2" r="3.2"/>
<circle cx="599.7" cy="265.8" r="3.2"/>
<circle cx="608.3" cy="268.0" r="3.2"/>
<circle cx="577.8" cy="209.8" r="3.2"/>
<circle cx="600.3" cy="266.6" r="3.2"/>
<circle cx="592.0" cy="263.3" r="3.2"/>
<circle cx="624.7" cy="306.1" r="3.2"/>
<circle cx="584.2" cy="268.6" r="3.2"/>
<circle cx="583.8" cy="288.6" r="3.2"/>
<circle cx="606.1" cy="258.1" r="3.2"/>
<circle cx="580.6" cy="289.1" r="3.2"/>
<circle cx="540.9" cy="289.2" r="3.2"/>
<circle cx="592.3" cy="233.3" r="3.2"/>
<circle cx="538.5" cy="291.1" r="3.2"/>
<circle cx="563.0" cy="315.7" r="3.2"/>
<circle cx="558.6" cy="330.3" r="3.2"/>
<circle cx="595.0" cy="266.8" r="3.2"/>
<circle cx="562.8" cy="318.3" r="3.2"/>
<circle cx="577.3" cy="199.7" r="3.2"/>
<circle cx="560.2" cy="302.5" r="3.2"/>
<circle cx="603.0" cy="264.1" r="3.2"/>
<circle cx="594.8" cy="302.8" r="3.2"/>
<circle cx="584.3" cy="292.6" r="3.2"/>
<circle cx="633.9" cy="204.9" r="3.2"/>
<circle cx="525.1" cy="265.5" r="3.2"/>
<circle cx="563.6" cy="266.8" r="3.2"/>
<circle cx="587.3" cy="297.5" r="3.2"/>
<circle cx="515.0" cy="258.8" r="3.2"/>
<circle cx="537.1" cy="254.2" r="3.2"/>
<circle cx="575.6" cy="321.2" r="3.2"/>
<circle cx="582.4" cy="266.9" r="3.2"/>
<circle cx="576.3" cy="240.3" r="3.2"/>
<circle cx="582.3" cy="300.5" r="3.2"/>
<circle cx="589.5" cy="240.3" r="3.2"/>
<circle cx="601.9" cy="215.0" r="3.2"/>
<circle cx="589.0" cy="294.1" r="3.2"/>
<circle cx="519.5" cy="290.2" r="3.2"/>
<circle cx="570.1" cy="261.3" r="3.2"/>
<circle cx="579.8" cy="266.0" r="3.2"/>
<circle cx="561.3" cy="222.9" r="3.2"/>
<circle cx="602.5" cy="227.6" r="3.2"/>
<circle cx="529.6" cy="304.7" r="3.2"/>
<circle cx="530.8" cy="252.4" r="3.2"/>
<circle cx="547.0" cy="254.5" r="3.2"/>
<circle cx="602.7" cy="246.6" r="3.2"/>
<circle cx="495.2" cy="228.1" r="3.2"/>
<circle cx="495.8" cy="231.3" r="3.2"/>
<circle cx="532.2" cy="252.2" r="3.2"/>
<circle cx="523.3" cy="257.5" r="3.2"/>
<circle cx="541.2" cy="213.8" r="3.2"/>
<circle cx="591.9" cy="289.2" r="3.2"/>
<circle cx="574.0" cy="293.2" r="3.2"/>
<circle cx="609.8" cy="295.8" r="3.2"/>
<circle cx="615.8" cy="306.4" r="3.2"/>
<circle cx="617.6" cy="311.7" r="3.2"/>
<circle cx="636.7" cy="319.6" r="3.2"/>
<circle cx="642.7" cy="324.9" r="3.2"/>
<circle cx="597.9" cy="315.7" r="3.2"/>
<circle cx="574.0" cy="317.0" r="3.2"/>
<circle cx="559.1" cy="346.1" r="3.2"/>
<circle cx="563.9" cy="348.7" r="3.2"/>
<circle cx="630.7" cy="249.5" r="3.2"/>
<circle cx="621.8" cy="242.9" r="3.2"/>
<circle cx="618.8" cy="235.0" r="3.2"/>
</g>
<line x1="487.8" y1="265.2" x2="667.0" y2="265.2" stroke="#6a6a6a" stroke-width="1.2" stroke-dasharray="11,12" stroke-dashoffset="0"/>
<line x1="487.8" y1="290.5" x2="667.0" y2="290.5" stroke="#6a6a6a" stroke-width="1.2" stroke-dasharray="11,12" stroke-dashoffset="0"/>
<line x1="546.6" y1="193.8" x2="546.6" y2="365.0" stroke="#6a6a6a" stroke-width="1.2" stroke-dasharray="11,12.1" stroke-dashoffset="0"/>
<line x1="606.6" y1="193.8" x2="606.6" y2="365.0" stroke="#6a6a6a" stroke-width="1.2" stroke-dasharray="11,12.1" stroke-dashoffset="0"/>
<line x1="498.0" y1="198.0" x2="502.0" y2="200.0" stroke="#222" stroke-width="0.6"/>
<line x1="547.0" y1="198.0" x2="547.0" y2="212.0" stroke="#222" stroke-width="0.6"/>
<line x1="560.8" y1="198.0" x2="560.8" y2="210.0" stroke="#222" stroke-width="0.6"/>
<line x1="576.0" y1="197.0" x2="592.0" y2="205.0" stroke="#222" stroke-width="0.6"/>
<line x1="577.0" y1="211.0" x2="573.0" y2="218.0" stroke="#222" stroke-width="0.6"/>
<line x1="530.0" y1="224.0" x2="527.0" y2="222.0" stroke="#222" stroke-width="0.6"/>
<line x1="545.0" y1="215.5" x2="565.0" y2="233.0" stroke="#222" stroke-width="0.6"/>
<line x1="540.0" y1="208.0" x2="570.0" y2="232.0" stroke="#222" stroke-width="0.6"/>
<line x1="532.0" y1="238.8" x2="538.0" y2="240.0" stroke="#222" stroke-width="0.6"/>
<line x1="553.0" y1="233.0" x2="551.0" y2="237.0" stroke="#222" stroke-width="0.6"/>
<line x1="514.0" y1="246.5" x2="506.5" y2="254.0" stroke="#222" stroke-width="0.6"/>
<line x1="509.0" y1="263.0" x2="512.0" y2="269.0" stroke="#222" stroke-width="0.6"/>
<line x1="559.0" y1="248.0" x2="545.0" y2="252.0" stroke="#222" stroke-width="0.6"/>
<line x1="543.0" y1="272.0" x2="541.0" y2="281.0" stroke="#222" stroke-width="0.6"/>
<line x1="545.0" y1="271.0" x2="542.5" y2="287.0" stroke="#222" stroke-width="0.6"/>
<line x1="570.2" y1="264.0" x2="570.2" y2="271.0" stroke="#222" stroke-width="0.6"/>
<line x1="587.0" y1="218.5" x2="587.0" y2="232.0" stroke="#222" stroke-width="0.6"/>
<line x1="600.0" y1="225.0" x2="592.0" y2="231.0" stroke="#222" stroke-width="0.6"/>
<line x1="604.0" y1="232.0" x2="598.0" y2="234.0" stroke="#222" stroke-width="0.6"/>
<line x1="645.0" y1="226.0" x2="637.0" y2="236.0" stroke="#222" stroke-width="0.6"/>
<line x1="602.0" y1="249.7" x2="592.0" y2="246.0" stroke="#222" stroke-width="0.6"/>
<line x1="609.0" y1="258.6" x2="593.0" y2="247.0" stroke="#222" stroke-width="0.6"/>
<line x1="597.0" y1="269.5" x2="587.0" y2="256.0" stroke="#222" stroke-width="0.6"/>
<line x1="583.0" y1="285.0" x2="585.0" y2="291.0" stroke="#222" stroke-width="0.6"/>
<line x1="598.0" y1="297.0" x2="590.0" y2="309.0" stroke="#222" stroke-width="0.6"/>
<line x1="584.0" y1="304.0" x2="587.0" y2="309.0" stroke="#222" stroke-width="0.6"/>
<line x1="573.0" y1="312.0" x2="585.0" y2="312.0" stroke="#222" stroke-width="0.6"/>
<line x1="600.5" y1="314.2" x2="592.0" y2="314.2" stroke="#222" stroke-width="0.6"/>
<line x1="596.5" y1="331.0" x2="589.0" y2="322.0" stroke="#222" stroke-width="0.6"/>
<line x1="572.5" y1="326.0" x2="565.0" y2="336.0" stroke="#222" stroke-width="0.6"/>
<line x1="538.0" y1="330.0" x2="541.0" y2="334.0" stroke="#222" stroke-width="0.6"/>
<line x1="566.0" y1="352.4" x2="557.0" y2="356.5" stroke="#222" stroke-width="0.6"/>
<line x1="611.0" y1="303.6" x2="618.0" y2="303.6" stroke="#222" stroke-width="0.6"/>
<circle cx="494.4" cy="196.2" r="3.7" fill="#9ecee2" stroke="#6cbfe0" stroke-width="0.8"/>
<circle cx="560.8" cy="213.9" r="3.7" fill="#9ecee2" stroke="#6cbfe0" stroke-width="0.8"/>
<circle cx="572.4" cy="195.9" r="3.7" fill="#9ecee2" stroke="#6cbfe0" stroke-width="0.8"/>
<circle cx="572.0" cy="221.2" r="3.7" fill="#9ecee2" stroke="#6cbfe0" stroke-width="0.8"/>
<circle cx="566.6" cy="236.5" r="3.7" fill="#9ecee2" stroke="#6cbfe0" stroke-width="0.8"/>
<circle cx="571.3" cy="235.2" r="3.7" fill="#9ecee2" stroke="#6cbfe0" stroke-width="0.8"/>
<circle cx="532.3" cy="223.7" r="3.7" fill="#9ecee2" stroke="#6cbfe0" stroke-width="0.8"/>
<circle cx="541.2" cy="241.5" r="3.7" fill="#9ecee2" stroke="#6cbfe0" stroke-width="0.8"/>
<circle cx="549.9" cy="240.4" r="3.7" fill="#9ecee2" stroke="#6cbfe0" stroke-width="0.8"/>
<circle cx="542.4" cy="254.9" r="3.7" fill="#9ecee2" stroke="#6cbfe0" stroke-width="0.8"/>
<circle cx="506.5" cy="257.5" r="3.7" fill="#9ecee2" stroke="#6cbfe0" stroke-width="0.8"/>
<circle cx="506.5" cy="260.7" r="3.7" fill="#9ecee2" stroke="#6cbfe0" stroke-width="0.8"/>
<circle cx="542.7" cy="268.5" r="3.7" fill="#9ecee2" stroke="#6cbfe0" stroke-width="0.8"/>
<circle cx="570.2" cy="259.9" r="3.7" fill="#9ecee2" stroke="#6cbfe0" stroke-width="0.8"/>
<circle cx="590.0" cy="234.6" r="3.7" fill="#9ecee2" stroke="#6cbfe0" stroke-width="0.8"/>
<circle cx="592.5" cy="235.0" r="3.7" fill="#9ecee2" stroke="#6cbfe0" stroke-width="0.8"/>
<circle cx="595.9" cy="235.0" r="3.7" fill="#9ecee2" stroke="#6cbfe0" stroke-width="0.8"/>
<circle cx="634.0" cy="239.3" r="3.7" fill="#9ecee2" stroke="#6cbfe0" stroke-width="0.8"/>
<circle cx="583.7" cy="244.4" r="3.7" fill="#9ecee2" stroke="#6cbfe0" stroke-width="0.8"/>
<circle cx="590.0" cy="246.4" r="3.7" fill="#9ecee2" stroke="#6cbfe0" stroke-width="0.8"/>
<circle cx="584.1" cy="253.7" r="3.7" fill="#9ecee2" stroke="#6cbfe0" stroke-width="0.8"/>
<circle cx="585.1" cy="295.2" r="3.7" fill="#9ecee2" stroke="#6cbfe0" stroke-width="0.8"/>
<circle cx="588.8" cy="311.1" r="3.7" fill="#9ecee2" stroke="#6cbfe0" stroke-width="0.8"/>
<circle cx="589.3" cy="313.7" r="3.7" fill="#9ecee2" stroke="#6cbfe0" stroke-width="0.8"/>
<circle cx="586.8" cy="319.0" r="3.7" fill="#9ecee2" stroke="#6cbfe0" stroke-width="0.8"/>
<circle cx="572.3" cy="322.1" r="3.7" fill="#9ecee2" stroke="#6cbfe0" stroke-width="0.8"/>
<circle cx="543.2" cy="337.2" r="3.7" fill="#9ecee2" stroke="#6cbfe0" stroke-width="0.8"/>
<circle cx="554.2" cy="357.8" r="3.7" fill="#9ecee2" stroke="#6cbfe0" stroke-width="0.8"/>
<circle cx="606.9" cy="303.6" r="3.7" fill="#9ecee2" stroke="#6cbfe0" stroke-width="0.8"/>
<text transform="translate(501.80,202.61) scale(1,1.04)" font-size="6.7" fill="#1a1a1a" stroke="#1a1a1a" stroke-width="0.18">UHRF1 K577</text>
<text transform="translate(524.90,196.71) scale(1,1.04)" font-size="6.7" fill="#1a1a1a" stroke="#1a1a1a" stroke-width="0.18">MTHFD2 K88</text>
<text transform="translate(510.40,208.11) scale(1,1.04)" font-size="6.7" fill="#1a1a1a" stroke="#1a1a1a" stroke-width="0.18">TRMT10C K251</text>
<text transform="translate(515.60,215.11) scale(1,1.04)" font-size="6.7" fill="#1a1a1a" stroke="#1a1a1a" stroke-width="0.18">NCL K220</text>
<text transform="translate(489.70,222.11) scale(1,1.04)" font-size="6.7" fill="#1a1a1a" stroke="#1a1a1a" stroke-width="0.18">POLR1A K5</text>
<text transform="translate(516.70,232.21) scale(1,1.04)" font-size="6.7" fill="#1a1a1a" stroke="#1a1a1a" stroke-width="0.18">EP300 K1560</text>
<text transform="translate(489.40,240.81) scale(1,1.04)" font-size="6.7" fill="#1a1a1a" stroke="#1a1a1a" stroke-width="0.18">YTHDF3 K554</text>
<text transform="translate(489.40,248.21) scale(1,1.04)" font-size="6.7" fill="#1a1a1a" stroke="#1a1a1a" stroke-width="0.18">GLS K279</text>
<text transform="translate(540.10,250.71) scale(1,1.04)" font-size="6.7" fill="#1a1a1a" stroke="#1a1a1a" stroke-width="0.18">EP300 K1555</text>
<text transform="translate(495.60,273.21) scale(1,1.04)" font-size="6.7" fill="#1a1a1a" stroke="#1a1a1a" stroke-width="0.18">GLS K164</text>
<text transform="translate(495.60,281.41) scale(1,1.04)" font-size="6.7" fill="#1a1a1a" stroke="#1a1a1a" stroke-width="0.18">AHNAK K788</text>
<text transform="translate(515.30,288.71) scale(1,1.04)" font-size="6.7" fill="#1a1a1a" stroke="#1a1a1a" stroke-width="0.18">AHNAK K2335</text>
<text transform="translate(561.00,277.51) scale(1,1.04)" font-size="6.7" fill="#1a1a1a" stroke="#1a1a1a" stroke-width="0.18">HAT1 K15</text>
<text transform="translate(564.90,206.41) scale(1,1.04)" font-size="6.7" fill="#1a1a1a" stroke="#1a1a1a" stroke-width="0.18">HNRNPU K491</text>
<text transform="translate(576.80,212.31) scale(1,1.04)" font-size="6.7" fill="#1a1a1a" stroke="#1a1a1a" stroke-width="0.18">HNRNPU K186</text>
<text transform="translate(586.60,218.81) scale(1,1.04)" font-size="6.7" fill="#1a1a1a" stroke="#1a1a1a" stroke-width="0.18">ACLY K554</text>
<text transform="translate(597.10,225.51) scale(1,1.04)" font-size="6.7" fill="#1a1a1a" stroke="#1a1a1a" stroke-width="0.18">GOT2 K159</text>
<text transform="translate(635.90,226.11) scale(1,1.04)" font-size="6.7" fill="#1a1a1a" stroke="#1a1a1a" stroke-width="0.18">ACSF2 K69</text>
<text transform="translate(604.40,232.61) scale(1,1.04)" font-size="6.7" fill="#1a1a1a" stroke="#1a1a1a" stroke-width="0.18">HMGCL K48</text>
<text transform="translate(602.40,251.71) scale(1,1.04)" font-size="6.7" fill="#1a1a1a" stroke="#1a1a1a" stroke-width="0.18">HNRNPL K62</text>
<text transform="translate(608.90,260.61) scale(1,1.04)" font-size="6.7" fill="#1a1a1a" stroke="#1a1a1a" stroke-width="0.18">ACLY K562</text>
<text transform="translate(597.10,271.51) scale(1,1.04)" font-size="6.7" fill="#1a1a1a" stroke="#1a1a1a" stroke-width="0.18">DDX17 K341</text>
<text transform="translate(575.90,284.61) scale(1,1.04)" font-size="6.7" fill="#1a1a1a" stroke="#1a1a1a" stroke-width="0.18">H4−16 K6</text>
<text transform="translate(596.00,296.91) scale(1,1.04)" font-size="6.7" fill="#1a1a1a" stroke="#1a1a1a" stroke-width="0.18">H1.4 K46</text>
<text transform="translate(618.70,305.61) scale(1,1.04)" font-size="6.7" fill="#1a1a1a" stroke="#1a1a1a" stroke-width="0.18">BRD3 K657</text>
<text transform="translate(548.10,303.91) scale(1,1.04)" font-size="6.7" fill="#1a1a1a" stroke="#1a1a1a" stroke-width="0.18">H2BC3 K16</text>
<text transform="translate(536.70,313.81) scale(1,1.04)" font-size="6.7" fill="#1a1a1a" stroke="#1a1a1a" stroke-width="0.18">H2BC3 K17</text>
<text transform="translate(600.50,316.21) scale(1,1.04)" font-size="6.7" fill="#1a1a1a" stroke="#1a1a1a" stroke-width="0.18">H2BC3 K21</text>
<text transform="translate(596.50,333.01) scale(1,1.04)" font-size="6.7" fill="#1a1a1a" stroke="#1a1a1a" stroke-width="0.18">H1.5 K49</text>
<text transform="translate(497.20,327.41) scale(1,1.04)" font-size="6.7" fill="#1a1a1a" stroke="#1a1a1a" stroke-width="0.18">AHNAK K862</text>
<text transform="translate(550.60,340.71) scale(1,1.04)" font-size="6.7" fill="#1a1a1a" stroke="#1a1a1a" stroke-width="0.18">HNRNPU K497</text>
<text transform="translate(567.00,354.31) scale(1,1.04)" font-size="6.7" fill="#1a1a1a" stroke="#1a1a1a" stroke-width="0.18">EP300 K1554</text>
<circle cx="564.6" cy="349.6" r="3.1" fill="#cfcfcf"/>
<circle cx="637.1" cy="327.9" r="3.1" fill="#cfcfcf"/>
<line x1="487.0" y1="191.0" x2="487.0" y2="365.8" stroke="#111" stroke-width="1.3"/>
<line x1="486.4" y1="365.2" x2="666.8" y2="365.2" stroke="#111" stroke-width="1.3"/>
<line x1="484.5" y1="198.0" x2="487.0" y2="198.0" stroke="#111" stroke-width="0.8"/>
<text transform="translate(483.00,200.65) scale(1,1.04)" font-size="9.0" text-anchor="end" fill="#1a1a1a" stroke="#1a1a1a" stroke-width="0.30">3</text>
<line x1="484.5" y1="224.4" x2="487.0" y2="224.4" stroke="#111" stroke-width="0.8"/>
<text transform="translate(483.00,227.10) scale(1,1.04)" font-size="9.0" text-anchor="end" fill="#1a1a1a" stroke="#1a1a1a" stroke-width="0.30">2</text>
<line x1="484.5" y1="250.9" x2="487.0" y2="250.9" stroke="#111" stroke-width="0.8"/>
<text transform="translate(483.00,253.55) scale(1,1.04)" font-size="9.0" text-anchor="end" fill="#1a1a1a" stroke="#1a1a1a" stroke-width="0.30">1</text>
<line x1="484.5" y1="277.3" x2="487.0" y2="277.3" stroke="#111" stroke-width="0.8"/>
<text transform="translate(483.00,280.00) scale(1,1.04)" font-size="9.0" text-anchor="end" fill="#1a1a1a" stroke="#1a1a1a" stroke-width="0.30">0</text>
<line x1="484.5" y1="303.8" x2="487.0" y2="303.8" stroke="#111" stroke-width="0.8"/>
<text transform="translate(483.00,306.45) scale(1,1.04)" font-size="9.0" text-anchor="end" fill="#1a1a1a" stroke="#1a1a1a" stroke-width="0.30">−1</text>
<line x1="484.5" y1="330.2" x2="487.0" y2="330.2" stroke="#111" stroke-width="0.8"/>
<text transform="translate(483.00,332.90) scale(1,1.04)" font-size="9.0" text-anchor="end" fill="#1a1a1a" stroke="#1a1a1a" stroke-width="0.30">−2</text>
<line x1="484.5" y1="356.6" x2="487.0" y2="356.6" stroke="#111" stroke-width="0.8"/>
<text transform="translate(483.00,359.35) scale(1,1.04)" font-size="9.0" text-anchor="end" fill="#1a1a1a" stroke="#1a1a1a" stroke-width="0.30">−3</text>
<line x1="487.4" y1="365.2" x2="487.4" y2="367.7" stroke="#111" stroke-width="0.8"/>
<text transform="translate(494.20,374.30) scale(1,1.04)" font-size="9.0" text-anchor="middle" fill="#1a1a1a" stroke="#1a1a1a" stroke-width="0.30">−1.5</text>
<line x1="517.3" y1="365.2" x2="517.3" y2="367.7" stroke="#111" stroke-width="0.8"/>
<text transform="translate(518.00,374.30) scale(1,1.04)" font-size="9.0" text-anchor="middle" fill="#1a1a1a" stroke="#1a1a1a" stroke-width="0.30">−1</text>
<line x1="547.1" y1="365.2" x2="547.1" y2="367.7" stroke="#111" stroke-width="0.8"/>
<text transform="translate(549.00,374.30) scale(1,1.04)" font-size="9.0" text-anchor="middle" fill="#1a1a1a" stroke="#1a1a1a" stroke-width="0.30">−0.5</text>
<line x1="577.0" y1="365.2" x2="577.0" y2="367.7" stroke="#111" stroke-width="0.8"/>
<text transform="translate(577.00,374.30) scale(1,1.04)" font-size="9.0" text-anchor="middle" fill="#1a1a1a" stroke="#1a1a1a" stroke-width="0.30">0</text>
<line x1="606.9" y1="365.2" x2="606.9" y2="367.7" stroke="#111" stroke-width="0.8"/>
<text transform="translate(608.40,374.30) scale(1,1.04)" font-size="9.0" text-anchor="middle" fill="#1a1a1a" stroke="#1a1a1a" stroke-width="0.30">0.5</text>
<line x1="636.7" y1="365.2" x2="636.7" y2="367.7" stroke="#111" stroke-width="0.8"/>
<text transform="translate(637.00,374.30) scale(1,1.04)" font-size="9.0" text-anchor="middle" fill="#1a1a1a" stroke="#1a1a1a" stroke-width="0.30">1</text>
<line x1="666.5" y1="365.2" x2="666.5" y2="367.7" stroke="#111" stroke-width="0.8"/>
<text transform="translate(665.50,374.30) scale(1,1.04)" font-size="9.0" text-anchor="middle" fill="#1a1a1a" stroke="#1a1a1a" stroke-width="0.30">1.5</text>
<text transform="translate(575.8,384.3) scale(1,1.04)" font-size="9.3" text-anchor="middle" fill="#1a1a1a" stroke="#1a1a1a" stroke-width="0.3">Log<tspan font-size="5.8" dy="2.0">2</tspan><tspan dy="-2.0"> Fold change (abundance)</tspan></text>
<text transform="translate(466.8,275.0) rotate(-90) scale(1,1.04)" font-size="9.3" text-anchor="middle" fill="#1a1a1a" stroke="#1a1a1a" stroke-width="0.3">Log<tspan font-size="5.8" dy="2.0">2</tspan><tspan dy="-2.0"> Fold change (acetylation)</tspan></text>
<text transform="translate(0.80,400.80) scale(1,1.04)" font-size="14.5" font-weight="bold" fill="#000">f</text>
<text transform="translate(338.40,407.32) scale(1,1.04)" font-size="9.4" text-anchor="middle" fill="#1a1a1a" stroke="#1a1a1a" stroke-width="0.30">Regulaters of known phosphosites</text>
<rect x="20.90" y="411.20" width="6.97" height="32.32" fill="#d7a892" stroke="#a2a9ad" stroke-width="0.75"/>
<rect x="27.87" y="411.20" width="6.97" height="32.32" fill="#d7a892" stroke="#a2a9ad" stroke-width="0.75"/>
<rect x="34.85" y="411.20" width="6.97" height="32.32" fill="#ddcfb2" stroke="#a2a9ad" stroke-width="0.75"/>
<rect x="41.82" y="411.20" width="6.97" height="32.32" fill="#dab59d" stroke="#a2a9ad" stroke-width="0.75"/>
<rect x="48.80" y="411.20" width="6.97" height="32.32" fill="#dab59d" stroke="#a2a9ad" stroke-width="0.75"/>
<rect x="55.77" y="411.20" width="6.97" height="32.32" fill="#ddc7ab" stroke="#a2a9ad" stroke-width="0.75"/>
<rect x="62.75" y="411.20" width="6.97" height="32.32" fill="#ddd7b9" stroke="#a2a9ad" stroke-width="0.75"/>
<rect x="69.72" y="411.20" width="6.97" height="32.32" fill="#dab59d" stroke="#a2a9ad" stroke-width="0.75"/>
<rect x="76.70" y="411.20" width="6.97" height="32.32" fill="#dcbea4" stroke="#a2a9ad" stroke-width="0.75"/>
<rect x="83.67" y="411.20" width="6.97" height="32.32" fill="#dab59d" stroke="#a2a9ad" stroke-width="0.75"/>
<rect x="90.65" y="411.20" width="6.97" height="32.32" fill="#ddc7ab" stroke="#a2a9ad" stroke-width="0.75"/>
<rect x="97.62" y="411.20" width="6.97" height="32.32" fill="#dab59d" stroke="#a2a9ad" stroke-width="0.75"/>
<rect x="104.60" y="411.20" width="6.97" height="32.32" fill="#d39a86" stroke="#a2a9ad" stroke-width="0.75"/>
<rect x="111.57" y="411.20" width="6.97" height="32.32" fill="#ddd7b9" stroke="#a2a9ad" stroke-width="0.75"/>
<rect x="118.55" y="411.20" width="6.97" height="32.32" fill="#d7a892" stroke="#a2a9ad" stroke-width="0.75"/>
<rect x="125.52" y="411.20" width="6.97" height="32.32" fill="#cc8474" stroke="#a2a9ad" stroke-width="0.75"/>
<rect x="132.50" y="411.20" width="6.97" height="32.32" fill="#ddc7ab" stroke="#a2a9ad" stroke-width="0.75"/>
<rect x="139.47" y="411.20" width="6.97" height="32.32" fill="#d7a892" stroke="#a2a9ad" stroke-width="0.75"/>
<rect x="146.45" y="411.20" width="6.97" height="32.32" fill="#dab59d" stroke="#a2a9ad" stroke-width="0.75"/>
<rect x="153.42" y="411.20" width="6.97" height="32.32" fill="#cc8474" stroke="#a2a9ad" stroke-width="0.75"/>
<rect x="160.39" y="411.20" width="6.97" height="32.32" fill="#d7a892" stroke="#a2a9ad" stroke-width="0.75"/>
<rect x="167.37" y="411.20" width="6.97" height="32.32" fill="#d7a892" stroke="#a2a9ad" stroke-width="0.75"/>
<rect x="174.34" y="411.20" width="6.97" height="32.32" fill="#d39a86" stroke="#a2a9ad" stroke-width="0.75"/>
<rect x="181.32" y="411.20" width="6.97" height="32.32" fill="#ddcfb2" stroke="#a2a9ad" stroke-width="0.75"/>
<rect x="188.29" y="411.20" width="6.97" height="32.32" fill="#ddcfb2" stroke="#a2a9ad" stroke-width="0.75"/>
<rect x="195.27" y="411.20" width="6.97" height="32.32" fill="#d39a86" stroke="#a2a9ad" stroke-width="0.75"/>
<rect x="202.24" y="411.20" width="6.97" height="32.32" fill="#d7a892" stroke="#a2a9ad" stroke-width="0.75"/>
<rect x="209.22" y="411.20" width="6.97" height="32.32" fill="#dcbea4" stroke="#a2a9ad" stroke-width="0.75"/>
<rect x="216.19" y="411.20" width="6.97" height="32.32" fill="#ddc7ab" stroke="#a2a9ad" stroke-width="0.75"/>
<rect x="223.17" y="411.20" width="6.97" height="32.32" fill="#dcbea4" stroke="#a2a9ad" stroke-width="0.75"/>
<rect x="230.14" y="411.20" width="6.97" height="32.32" fill="#ddc7ab" stroke="#a2a9ad" stroke-width="0.75"/>
<rect x="237.12" y="411.20" width="6.97" height="32.32" fill="#d39a86" stroke="#a2a9ad" stroke-width="0.75"/>
<rect x="244.09" y="411.20" width="6.97" height="32.32" fill="#dab59d" stroke="#a2a9ad" stroke-width="0.75"/>
<rect x="251.07" y="411.20" width="6.97" height="32.32" fill="#d39a86" stroke="#a2a9ad" stroke-width="0.75"/>
<rect x="258.04" y="411.20" width="6.97" height="32.32" fill="#d7a892" stroke="#a2a9ad" stroke-width="0.75"/>
<rect x="265.02" y="411.20" width="6.97" height="32.32" fill="#d7a892" stroke="#a2a9ad" stroke-width="0.75"/>
<rect x="271.99" y="411.20" width="6.97" height="32.32" fill="#dcbea4" stroke="#a2a9ad" stroke-width="0.75"/>
<rect x="278.96" y="411.20" width="6.97" height="32.32" fill="#dcbea4" stroke="#a2a9ad" stroke-width="0.75"/>
<rect x="285.94" y="411.20" width="6.97" height="32.32" fill="#d1dcc5" stroke="#a2a9ad" stroke-width="0.75"/>
<rect x="292.91" y="411.20" width="6.97" height="32.32" fill="#dee1c4" stroke="#a2a9ad" stroke-width="0.75"/>
<rect x="299.89" y="411.20" width="6.97" height="32.32" fill="#ddcfb2" stroke="#a2a9ad" stroke-width="0.75"/>
<rect x="306.86" y="411.20" width="6.97" height="32.32" fill="#ddd7b9" stroke="#a2a9ad" stroke-width="0.75"/>
<rect x="313.84" y="411.20" width="6.97" height="32.32" fill="#ddd7b9" stroke="#a2a9ad" stroke-width="0.75"/>
<rect x="320.81" y="411.20" width="6.97" height="32.32" fill="#ddd7b9" stroke="#a2a9ad" stroke-width="0.75"/>
<rect x="327.79" y="411.20" width="6.97" height="32.32" fill="#dee1c4" stroke="#a2a9ad" stroke-width="0.75"/>
<rect x="334.76" y="411.20" width="6.97" height="32.32" fill="#d1dcc5" stroke="#a2a9ad" stroke-width="0.75"/>
<rect x="341.74" y="411.20" width="6.97" height="32.32" fill="#ddd7b9" stroke="#a2a9ad" stroke-width="0.75"/>
<rect x="348.71" y="411.20" width="6.97" height="32.32" fill="#d7a892" stroke="#a2a9ad" stroke-width="0.75"/>
<rect x="355.69" y="411.20" width="6.97" height="32.32" fill="#ddc7ab" stroke="#a2a9ad" stroke-width="0.75"/>
<rect x="362.66" y="411.20" width="6.97" height="32.32" fill="#ddd7b9" stroke="#a2a9ad" stroke-width="0.75"/>
<rect x="369.64" y="411.20" width="6.97" height="32.32" fill="#ddd7b9" stroke="#a2a9ad" stroke-width="0.75"/>
<rect x="376.61" y="411.20" width="6.97" height="32.32" fill="#d39a86" stroke="#a2a9ad" stroke-width="0.75"/>
<rect x="383.59" y="411.20" width="6.97" height="32.32" fill="#ddc7ab" stroke="#a2a9ad" stroke-width="0.75"/>
<rect x="390.56" y="411.20" width="6.97" height="32.32" fill="#d7a892" stroke="#a2a9ad" stroke-width="0.75"/>
<rect x="397.54" y="411.20" width="6.97" height="32.32" fill="#d7a892" stroke="#a2a9ad" stroke-width="0.75"/>
<rect x="404.51" y="411.20" width="6.97" height="32.32" fill="#d7a892" stroke="#a2a9ad" stroke-width="0.75"/>
<rect x="411.48" y="411.20" width="6.97" height="32.32" fill="#cc8474" stroke="#a2a9ad" stroke-width="0.75"/>
<rect x="418.46" y="411.20" width="6.97" height="32.32" fill="#dab59d" stroke="#a2a9ad" stroke-width="0.75"/>
<rect x="425.43" y="411.20" width="6.97" height="32.32" fill="#d7a892" stroke="#a2a9ad" stroke-width="0.75"/>
<rect x="432.41" y="411.20" width="6.97" height="32.32" fill="#d7a892" stroke="#a2a9ad" stroke-width="0.75"/>
<rect x="439.38" y="411.20" width="6.97" height="32.32" fill="#dcbea4" stroke="#a2a9ad" stroke-width="0.75"/>
<rect x="446.36" y="411.20" width="6.97" height="32.32" fill="#dee1c4" stroke="#a2a9ad" stroke-width="0.75"/>
<rect x="453.33" y="411.20" width="6.97" height="32.32" fill="#ddcfb2" stroke="#a2a9ad" stroke-width="0.75"/>
<rect x="460.31" y="411.20" width="6.97" height="32.32" fill="#d7a892" stroke="#a2a9ad" stroke-width="0.75"/>
<rect x="467.28" y="411.20" width="6.97" height="32.32" fill="#d39a86" stroke="#a2a9ad" stroke-width="0.75"/>
<rect x="474.26" y="411.20" width="6.97" height="32.32" fill="#ddcfb2" stroke="#a2a9ad" stroke-width="0.75"/>
<rect x="481.23" y="411.20" width="6.97" height="32.32" fill="#d39a86" stroke="#a2a9ad" stroke-width="0.75"/>
<rect x="488.21" y="411.20" width="6.97" height="32.32" fill="#d39a86" stroke="#a2a9ad" stroke-width="0.75"/>
<rect x="495.18" y="411.20" width="6.97" height="32.32" fill="#d7a892" stroke="#a2a9ad" stroke-width="0.75"/>
<rect x="502.16" y="411.20" width="6.97" height="32.32" fill="#d39a86" stroke="#a2a9ad" stroke-width="0.75"/>
<rect x="509.13" y="411.20" width="6.97" height="32.32" fill="#dcbea4" stroke="#a2a9ad" stroke-width="0.75"/>
<rect x="516.11" y="411.20" width="6.97" height="32.32" fill="#dcbea4" stroke="#a2a9ad" stroke-width="0.75"/>
<rect x="523.08" y="411.20" width="6.97" height="32.32" fill="#dab59d" stroke="#a2a9ad" stroke-width="0.75"/>
<rect x="530.05" y="411.20" width="6.97" height="32.32" fill="#d39a86" stroke="#a2a9ad" stroke-width="0.75"/>
<rect x="537.03" y="411.20" width="6.97" height="32.32" fill="#ddc7ab" stroke="#a2a9ad" stroke-width="0.75"/>
<rect x="544.00" y="411.20" width="6.97" height="32.32" fill="#ddcfb2" stroke="#a2a9ad" stroke-width="0.75"/>
<rect x="550.98" y="411.20" width="6.97" height="32.32" fill="#dee1c4" stroke="#a2a9ad" stroke-width="0.75"/>
<rect x="557.95" y="411.20" width="6.97" height="32.32" fill="#d39a86" stroke="#a2a9ad" stroke-width="0.75"/>
<rect x="564.93" y="411.20" width="6.97" height="32.32" fill="#dee1c4" stroke="#a2a9ad" stroke-width="0.75"/>
<rect x="571.90" y="411.20" width="6.97" height="32.32" fill="#d7a892" stroke="#a2a9ad" stroke-width="0.75"/>
<rect x="578.88" y="411.20" width="6.97" height="32.32" fill="#dcbea4" stroke="#a2a9ad" stroke-width="0.75"/>
<rect x="585.85" y="411.20" width="6.97" height="32.32" fill="#ddcfb2" stroke="#a2a9ad" stroke-width="0.75"/>
<rect x="592.83" y="411.20" width="6.97" height="32.32" fill="#dab59d" stroke="#a2a9ad" stroke-width="0.75"/>
<rect x="599.80" y="411.20" width="6.97" height="32.32" fill="#dab59d" stroke="#a2a9ad" stroke-width="0.75"/>
<rect x="606.78" y="411.20" width="6.97" height="32.32" fill="#d39a86" stroke="#a2a9ad" stroke-width="0.75"/>
<rect x="613.75" y="411.20" width="6.97" height="32.32" fill="#d7a892" stroke="#a2a9ad" stroke-width="0.75"/>
<rect x="620.73" y="411.20" width="6.97" height="32.32" fill="#dab59d" stroke="#a2a9ad" stroke-width="0.75"/>
<rect x="627.70" y="411.20" width="6.97" height="32.32" fill="#d7a892" stroke="#a2a9ad" stroke-width="0.75"/>
<rect x="634.68" y="411.20" width="6.97" height="32.32" fill="#dab59d" stroke="#a2a9ad" stroke-width="0.75"/>
<rect x="641.65" y="411.20" width="6.97" height="32.32" fill="#dee1c4" stroke="#a2a9ad" stroke-width="0.75"/>
<rect x="648.63" y="411.20" width="6.97" height="32.32" fill="#ddc7ab" stroke="#a2a9ad" stroke-width="0.75"/>
<rect x="20.90" y="443.52" width="6.97" height="32.32" fill="#dcbea4" stroke="#a2a9ad" stroke-width="0.75"/>
<rect x="27.87" y="443.52" width="6.97" height="32.32" fill="#ddc7ab" stroke="#a2a9ad" stroke-width="0.75"/>
<rect x="34.85" y="443.52" width="6.97" height="32.32" fill="#dab59d" stroke="#a2a9ad" stroke-width="0.75"/>
<rect x="41.82" y="443.52" width="6.97" height="32.32" fill="#d7a892" stroke="#a2a9ad" stroke-width="0.75"/>
<rect x="48.80" y="443.52" width="6.97" height="32.32" fill="#ddcfb2" stroke="#a2a9ad" stroke-width="0.75"/>
<rect x="55.77" y="443.52" width="6.97" height="32.32" fill="#dab59d" stroke="#a2a9ad" stroke-width="0.75"/>
<rect x="62.75" y="443.52" width="6.97" height="32.32" fill="#d39a86" stroke="#a2a9ad" stroke-width="0.75"/>
<rect x="69.72" y="443.52" width="6.97" height="32.32" fill="#dcbea4" stroke="#a2a9ad" stroke-width="0.75"/>
<rect x="76.70" y="443.52" width="6.97" height="32.32" fill="#ddcfb2" stroke="#a2a9ad" stroke-width="0.75"/>
<rect x="83.67" y="443.52" width="6.97" height="32.32" fill="#d7a892" stroke="#a2a9ad" stroke-width="0.75"/>
<rect x="90.65" y="443.52" width="6.97" height="32.32" fill="#d7a892" stroke="#a2a9ad" stroke-width="0.75"/>
<rect x="97.62" y="443.52" width="6.97" height="32.32" fill="#dcbea4" stroke="#a2a9ad" stroke-width="0.75"/>
<rect x="104.60" y="443.52" width="6.97" height="32.32" fill="#d7a892" stroke="#a2a9ad" stroke-width="0.75"/>
<rect x="111.57" y="443.52" width="6.97" height="32.32" fill="#dcbea4" stroke="#a2a9ad" stroke-width="0.75"/>
<rect x="118.55" y="443.52" width="6.97" height="32.32" fill="#ddc7ab" stroke="#a2a9ad" stroke-width="0.75"/>
<rect x="125.52" y="443.52" width="6.97" height="32.32" fill="#d7a892" stroke="#a2a9ad" stroke-width="0.75"/>
<rect x="132.50" y="443.52" width="6.97" height="32.32" fill="#ddcfb2" stroke="#a2a9ad" stroke-width="0.75"/>
<rect x="139.47" y="443.52" width="6.97" height="32.32" fill="#d7a892" stroke="#a2a9ad" stroke-width="0.75"/>
<rect x="146.45" y="443.52" width="6.97" height="32.32" fill="#dab59d" stroke="#a2a9ad" stroke-width="0.75"/>
<rect x="153.42" y="443.52" width="6.97" height="32.32" fill="#dcbea4" stroke="#a2a9ad" stroke-width="0.75"/>
<rect x="160.39" y="443.52" width="6.97" height="32.32" fill="#d7a892" stroke="#a2a9ad" stroke-width="0.75"/>
<rect x="167.37" y="443.52" width="6.97" height="32.32" fill="#d7a892" stroke="#a2a9ad" stroke-width="0.75"/>
<rect x="174.34" y="443.52" width="6.97" height="32.32" fill="#c66e60" stroke="#a2a9ad" stroke-width="0.75"/>
<rect x="181.32" y="443.52" width="6.97" height="32.32" fill="#d7a892" stroke="#a2a9ad" stroke-width="0.75"/>
<rect x="188.29" y="443.52" width="6.97" height="32.32" fill="#d7a892" stroke="#a2a9ad" stroke-width="0.75"/>
<rect x="195.27" y="443.52" width="6.97" height="32.32" fill="#d7a892" stroke="#a2a9ad" stroke-width="0.75"/>
<rect x="202.24" y="443.52" width="6.97" height="32.32" fill="#ddd7b9" stroke="#a2a9ad" stroke-width="0.75"/>
<rect x="209.22" y="443.52" width="6.97" height="32.32" fill="#dab59d" stroke="#a2a9ad" stroke-width="0.75"/>
<rect x="216.19" y="443.52" width="6.97" height="32.32" fill="#dcbea4" stroke="#a2a9ad" stroke-width="0.75"/>
<rect x="223.17" y="443.52" width="6.97" height="32.32" fill="#dcbea4" stroke="#a2a9ad" stroke-width="0.75"/>
<rect x="230.14" y="443.52" width="6.97" height="32.32" fill="#dab59d" stroke="#a2a9ad" stroke-width="0.75"/>
<rect x="237.12" y="443.52" width="6.97" height="32.32" fill="#dee1c4" stroke="#a2a9ad" stroke-width="0.75"/>
<rect x="244.09" y="443.52" width="6.97" height="32.32" fill="#dab59d" stroke="#a2a9ad" stroke-width="0.75"/>
<rect x="251.07" y="443.52" width="6.97" height="32.32" fill="#dcbea4" stroke="#a2a9ad" stroke-width="0.75"/>
<rect x="258.04" y="443.52" width="6.97" height="32.32" fill="#d7a892" stroke="#a2a9ad" stroke-width="0.75"/>
<rect x="265.02" y="443.52" width="6.97" height="32.32" fill="#dcbea4" stroke="#a2a9ad" stroke-width="0.75"/>
<rect x="271.99" y="443.52" width="6.97" height="32.32" fill="#ddcfb2" stroke="#a2a9ad" stroke-width="0.75"/>
<rect x="278.96" y="443.52" width="6.97" height="32.32" fill="#e4ebee" stroke="#a2a9ad" stroke-width="0.75"/>
<rect x="285.94" y="443.52" width="6.97" height="32.32" fill="#ddd7b9" stroke="#a2a9ad" stroke-width="0.75"/>
<rect x="292.91" y="443.52" width="6.97" height="32.32" fill="#ddd7b9" stroke="#a2a9ad" stroke-width="0.75"/>
<rect x="299.89" y="443.52" width="6.97" height="32.32" fill="#ddcfb2" stroke="#a2a9ad" stroke-width="0.75"/>
<rect x="306.86" y="443.52" width="6.97" height="32.32" fill="#ddd7b9" stroke="#a2a9ad" stroke-width="0.75"/>
<rect x="313.84" y="443.52" width="6.97" height="32.32" fill="#ddd7b9" stroke="#a2a9ad" stroke-width="0.75"/>
<rect x="320.81" y="443.52" width="6.97" height="32.32" fill="#ddc7ab" stroke="#a2a9ad" stroke-width="0.75"/>
<rect x="327.79" y="443.52" width="6.97" height="32.32" fill="#ddcfb2" stroke="#a2a9ad" stroke-width="0.75"/>
<rect x="334.76" y="443.52" width="6.97" height="32.32" fill="#ddcfb2" stroke="#a2a9ad" stroke-width="0.75"/>
<rect x="341.74" y="443.52" width="6.97" height="32.32" fill="#ddd7b9" stroke="#a2a9ad" stroke-width="0.75"/>
<rect x="348.71" y="443.52" width="6.97" height="32.32" fill="#dcbea4" stroke="#a2a9ad" stroke-width="0.75"/>
<rect x="355.69" y="443.52" width="6.97" height="32.32" fill="#dab59d" stroke="#a2a9ad" stroke-width="0.75"/>
<rect x="362.66" y="443.52" width="6.97" height="32.32" fill="#dcbea4" stroke="#a2a9ad" stroke-width="0.75"/>
<rect x="369.64" y="443.52" width="6.97" height="32.32" fill="#dab59d" stroke="#a2a9ad" stroke-width="0.75"/>
<rect x="376.61" y="443.52" width="6.97" height="32.32" fill="#dee1c4" stroke="#a2a9ad" stroke-width="0.75"/>
<rect x="383.59" y="443.52" width="6.97" height="32.32" fill="#dee1c4" stroke="#a2a9ad" stroke-width="0.75"/>
<rect x="390.56" y="443.52" width="6.97" height="32.32" fill="#ddc7ab" stroke="#a2a9ad" stroke-width="0.75"/>
<rect x="397.54" y="443.52" width="6.97" height="32.32" fill="#d7a892" stroke="#a2a9ad" stroke-width="0.75"/>
<rect x="404.51" y="443.52" width="6.97" height="32.32" fill="#d7a892" stroke="#a2a9ad" stroke-width="0.75"/>
<rect x="411.48" y="443.52" width="6.97" height="32.32" fill="#d7a892" stroke="#a2a9ad" stroke-width="0.75"/>
<rect x="418.46" y="443.52" width="6.97" height="32.32" fill="#dcbea4" stroke="#a2a9ad" stroke-width="0.75"/>
<rect x="425.43" y="443.52" width="6.97" height="32.32" fill="#ddc7ab" stroke="#a2a9ad" stroke-width="0.75"/>
<rect x="432.41" y="443.52" width="6.97" height="32.32" fill="#ddc7ab" stroke="#a2a9ad" stroke-width="0.75"/>
<rect x="439.38" y="443.52" width="6.97" height="32.32" fill="#d39a86" stroke="#a2a9ad" stroke-width="0.75"/>
<rect x="446.36" y="443.52" width="6.97" height="32.32" fill="#ddc7ab" stroke="#a2a9ad" stroke-width="0.75"/>
<rect x="453.33" y="443.52" width="6.97" height="32.32" fill="#ddc7ab" stroke="#a2a9ad" stroke-width="0.75"/>
<rect x="460.31" y="443.52" width="6.97" height="32.32" fill="#dcbea4" stroke="#a2a9ad" stroke-width="0.75"/>
<rect x="467.28" y="443.52" width="6.97" height="32.32" fill="#d7a892" stroke="#a2a9ad" stroke-width="0.75"/>
<rect x="474.26" y="443.52" width="6.97" height="32.32" fill="#dab59d" stroke="#a2a9ad" stroke-width="0.75"/>
<rect x="481.23" y="443.52" width="6.97" height="32.32" fill="#dcbea4" stroke="#a2a9ad" stroke-width="0.75"/>
<rect x="488.21" y="443.52" width="6.97" height="32.32" fill="#ddc7ab" stroke="#a2a9ad" stroke-width="0.75"/>
<rect x="495.18" y="443.52" width="6.97" height="32.32" fill="#dcbea4" stroke="#a2a9ad" stroke-width="0.75"/>
<rect x="502.16" y="443.52" width="6.97" height="32.32" fill="#dab59d" stroke="#a2a9ad" stroke-width="0.75"/>
<rect x="509.13" y="443.52" width="6.97" height="32.32" fill="#ddc7ab" stroke="#a2a9ad" stroke-width="0.75"/>
<rect x="516.11" y="443.52" width="6.97" height="32.32" fill="#dab59d" stroke="#a2a9ad" stroke-width="0.75"/>
<rect x="523.08" y="443.52" width="6.97" height="32.32" fill="#ddc7ab" stroke="#a2a9ad" stroke-width="0.75"/>
<rect x="530.05" y="443.52" width="6.97" height="32.32" fill="#dab59d" stroke="#a2a9ad" stroke-width="0.75"/>
<rect x="537.03" y="443.52" width="6.97" height="32.32" fill="#ddc7ab" stroke="#a2a9ad" stroke-width="0.75"/>
<rect x="544.00" y="443.52" width="6.97" height="32.32" fill="#ddc7ab" stroke="#a2a9ad" stroke-width="0.75"/>
<rect x="550.98" y="443.52" width="6.97" height="32.32" fill="#ddc7ab" stroke="#a2a9ad" stroke-width="0.75"/>
<rect x="557.95" y="443.52" width="6.97" height="32.32" fill="#ddc7ab" stroke="#a2a9ad" stroke-width="0.75"/>
<rect x="564.93" y="443.52" width="6.97" height="32.32" fill="#d7a892" stroke="#a2a9ad" stroke-width="0.75"/>
<rect x="571.90" y="443.52" width="6.97" height="32.32" fill="#dab59d" stroke="#a2a9ad" stroke-width="0.75"/>
<rect x="578.88" y="443.52" width="6.97" height="32.32" fill="#dab59d" stroke="#a2a9ad" stroke-width="0.75"/>
<rect x="585.85" y="443.52" width="6.97" height="32.32" fill="#d7a892" stroke="#a2a9ad" stroke-width="0.75"/>
<rect x="592.83" y="443.52" width="6.97" height="32.32" fill="#d39a86" stroke="#a2a9ad" stroke-width="0.75"/>
<rect x="599.80" y="443.52" width="6.97" height="32.32" fill="#dcbea4" stroke="#a2a9ad" stroke-width="0.75"/>
<rect x="606.78" y="443.52" width="6.97" height="32.32" fill="#ddc7ab" stroke="#a2a9ad" stroke-width="0.75"/>
<rect x="613.75" y="443.52" width="6.97" height="32.32" fill="#dab59d" stroke="#a2a9ad" stroke-width="0.75"/>
<rect x="620.73" y="443.52" width="6.97" height="32.32" fill="#dcbea4" stroke="#a2a9ad" stroke-width="0.75"/>
<rect x="627.70" y="443.52" width="6.97" height="32.32" fill="#d7a892" stroke="#a2a9ad" stroke-width="0.75"/>
<rect x="634.68" y="443.52" width="6.97" height="32.32" fill="#ddc7ab" stroke="#a2a9ad" stroke-width="0.75"/>
<rect x="641.65" y="443.52" width="6.97" height="32.32" fill="#dab59d" stroke="#a2a9ad" stroke-width="0.75"/>
<rect x="648.63" y="443.52" width="6.97" height="32.32" fill="#d7a892" stroke="#a2a9ad" stroke-width="0.75"/>
<rect x="20.90" y="475.84" width="6.97" height="32.32" fill="#dab59d" stroke="#a2a9ad" stroke-width="0.75"/>
<rect x="27.87" y="475.84" width="6.97" height="32.32" fill="#ddc7ab" stroke="#a2a9ad" stroke-width="0.75"/>
<rect x="34.85" y="475.84" width="6.97" height="32.32" fill="#d7a892" stroke="#a2a9ad" stroke-width="0.75"/>
<rect x="41.82" y="475.84" width="6.97" height="32.32" fill="#d7a892" stroke="#a2a9ad" stroke-width="0.75"/>
<rect x="48.80" y="475.84" width="6.97" height="32.32" fill="#d39a86" stroke="#a2a9ad" stroke-width="0.75"/>
<rect x="55.77" y="475.84" width="6.97" height="32.32" fill="#d7a892" stroke="#a2a9ad" stroke-width="0.75"/>
<rect x="62.75" y="475.84" width="6.97" height="32.32" fill="#dab59d" stroke="#a2a9ad" stroke-width="0.75"/>
<rect x="69.72" y="475.84" width="6.97" height="32.32" fill="#ddd7b9" stroke="#a2a9ad" stroke-width="0.75"/>
<rect x="76.70" y="475.84" width="6.97" height="32.32" fill="#ddcfb2" stroke="#a2a9ad" stroke-width="0.75"/>
<rect x="83.67" y="475.84" width="6.97" height="32.32" fill="#d39a86" stroke="#a2a9ad" stroke-width="0.75"/>
<rect x="90.65" y="475.84" width="6.97" height="32.32" fill="#d7a892" stroke="#a2a9ad" stroke-width="0.75"/>
<rect x="97.62" y="475.84" width="6.97" height="32.32" fill="#ddc7ab" stroke="#a2a9ad" stroke-width="0.75"/>
<rect x="104.60" y="475.84" width="6.97" height="32.32" fill="#d39a86" stroke="#a2a9ad" stroke-width="0.75"/>
<rect x="111.57" y="475.84" width="6.97" height="32.32" fill="#dab59d" stroke="#a2a9ad" stroke-width="0.75"/>
<rect x="118.55" y="475.84" width="6.97" height="32.32" fill="#dab59d" stroke="#a2a9ad" stroke-width="0.75"/>
<rect x="125.52" y="475.84" width="6.97" height="32.32" fill="#d7a892" stroke="#a2a9ad" stroke-width="0.75"/>
<rect x="132.50" y="475.84" width="6.97" height="32.32" fill="#dab59d" stroke="#a2a9ad" stroke-width="0.75"/>
<rect x="139.47" y="475.84" width="6.97" height="32.32" fill="#d7a892" stroke="#a2a9ad" stroke-width="0.75"/>
<rect x="146.45" y="475.84" width="6.97" height="32.32" fill="#d7a892" stroke="#a2a9ad" stroke-width="0.75"/>
<rect x="153.42" y="475.84" width="6.97" height="32.32" fill="#dcbea4" stroke="#a2a9ad" stroke-width="0.75"/>
<rect x="160.39" y="475.84" width="6.97" height="32.32" fill="#d7a892" stroke="#a2a9ad" stroke-width="0.75"/>
<rect x="167.37" y="475.84" width="6.97" height="32.32" fill="#d39a86" stroke="#a2a9ad" stroke-width="0.75"/>
<rect x="174.34" y="475.84" width="6.97" height="32.32" fill="#d39a86" stroke="#a2a9ad" stroke-width="0.75"/>
<rect x="181.32" y="475.84" width="6.97" height="32.32" fill="#d39a86" stroke="#a2a9ad" stroke-width="0.75"/>
<rect x="188.29" y="475.84" width="6.97" height="32.32" fill="#d39a86" stroke="#a2a9ad" stroke-width="0.75"/>
<rect x="195.27" y="475.84" width="6.97" height="32.32" fill="#d39a86" stroke="#a2a9ad" stroke-width="0.75"/>
<rect x="202.24" y="475.84" width="6.97" height="32.32" fill="#dab59d" stroke="#a2a9ad" stroke-width="0.75"/>
<rect x="209.22" y="475.84" width="6.97" height="32.32" fill="#ddc7ab" stroke="#a2a9ad" stroke-width="0.75"/>
<rect x="216.19" y="475.84" width="6.97" height="32.32" fill="#dab59d" stroke="#a2a9ad" stroke-width="0.75"/>
<rect x="223.17" y="475.84" width="6.97" height="32.32" fill="#dab59d" stroke="#a2a9ad" stroke-width="0.75"/>
<rect x="230.14" y="475.84" width="6.97" height="32.32" fill="#d7a892" stroke="#a2a9ad" stroke-width="0.75"/>
<rect x="237.12" y="475.84" width="6.97" height="32.32" fill="#dee1c4" stroke="#a2a9ad" stroke-width="0.75"/>
<rect x="244.09" y="475.84" width="6.97" height="32.32" fill="#dab59d" stroke="#a2a9ad" stroke-width="0.75"/>
<rect x="251.07" y="475.84" width="6.97" height="32.32" fill="#dcbea4" stroke="#a2a9ad" stroke-width="0.75"/>
<rect x="258.04" y="475.84" width="6.97" height="32.32" fill="#d7a892" stroke="#a2a9ad" stroke-width="0.75"/>
<rect x="265.02" y="475.84" width="6.97" height="32.32" fill="#d7a892" stroke="#a2a9ad" stroke-width="0.75"/>
<rect x="271.99" y="475.84" width="6.97" height="32.32" fill="#ddc7ab" stroke="#a2a9ad" stroke-width="0.75"/>
<rect x="278.96" y="475.84" width="6.97" height="32.32" fill="#9fb4c0" stroke="#a2a9ad" stroke-width="0.75"/>
<rect x="285.94" y="475.84" width="6.97" height="32.32" fill="#dcbea4" stroke="#a2a9ad" stroke-width="0.75"/>
<rect x="292.91" y="475.84" width="6.97" height="32.32" fill="#ddd7b9" stroke="#a2a9ad" stroke-width="0.75"/>
<rect x="299.89" y="475.84" width="6.97" height="32.32" fill="#dab59d" stroke="#a2a9ad" stroke-width="0.75"/>
<rect x="306.86" y="475.84" width="6.97" height="32.32" fill="#ddd7b9" stroke="#a2a9ad" stroke-width="0.75"/>
<rect x="313.84" y="475.84" width="6.97" height="32.32" fill="#ddc7ab" stroke="#a2a9ad" stroke-width="0.75"/>
<rect x="320.81" y="475.84" width="6.97" height="32.32" fill="#d7a892" stroke="#a2a9ad" stroke-width="0.75"/>
<rect x="327.79" y="475.84" width="6.97" height="32.32" fill="#ddc7ab" stroke="#a2a9ad" stroke-width="0.75"/>
<rect x="334.76" y="475.84" width="6.97" height="32.32" fill="#ddcfb2" stroke="#a2a9ad" stroke-width="0.75"/>
<rect x="341.74" y="475.84" width="6.97" height="32.32" fill="#ddd7b9" stroke="#a2a9ad" stroke-width="0.75"/>
<rect x="348.71" y="475.84" width="6.97" height="32.32" fill="#dcbea4" stroke="#a2a9ad" stroke-width="0.75"/>
<rect x="355.69" y="475.84" width="6.97" height="32.32" fill="#dab59d" stroke="#a2a9ad" stroke-width="0.75"/>
<rect x="362.66" y="475.84" width="6.97" height="32.32" fill="#ddc7ab" stroke="#a2a9ad" stroke-width="0.75"/>
<rect x="369.64" y="475.84" width="6.97" height="32.32" fill="#dcbea4" stroke="#a2a9ad" stroke-width="0.75"/>
<rect x="376.61" y="475.84" width="6.97" height="32.32" fill="#dcbea4" stroke="#a2a9ad" stroke-width="0.75"/>
<rect x="383.59" y="475.84" width="6.97" height="32.32" fill="#ddc7ab" stroke="#a2a9ad" stroke-width="0.75"/>
<rect x="390.56" y="475.84" width="6.97" height="32.32" fill="#dee1c4" stroke="#a2a9ad" stroke-width="0.75"/>
<rect x="397.54" y="475.84" width="6.97" height="32.32" fill="#d7a892" stroke="#a2a9ad" stroke-width="0.75"/>
<rect x="404.51" y="475.84" width="6.97" height="32.32" fill="#dcbea4" stroke="#a2a9ad" stroke-width="0.75"/>
<rect x="411.48" y="475.84" width="6.97" height="32.32" fill="#ddc7ab" stroke="#a2a9ad" stroke-width="0.75"/>
<rect x="418.46" y="475.84" width="6.97" height="32.32" fill="#dab59d" stroke="#a2a9ad" stroke-width="0.75"/>
<rect x="425.43" y="475.84" width="6.97" height="32.32" fill="#ddc7ab" stroke="#a2a9ad" stroke-width="0.75"/>
<rect x="432.41" y="475.84" width="6.97" height="32.32" fill="#dab59d" stroke="#a2a9ad" stroke-width="0.75"/>
<rect x="439.38" y="475.84" width="6.97" height="32.32" fill="#d7a892" stroke="#a2a9ad" stroke-width="0.75"/>
<rect x="446.36" y="475.84" width="6.97" height="32.32" fill="#dab59d" stroke="#a2a9ad" stroke-width="0.75"/>
<rect x="453.33" y="475.84" width="6.97" height="32.32" fill="#ddc7ab" stroke="#a2a9ad" stroke-width="0.75"/>
<rect x="460.31" y="475.84" width="6.97" height="32.32" fill="#ddc7ab" stroke="#a2a9ad" stroke-width="0.75"/>
<rect x="467.28" y="475.84" width="6.97" height="32.32" fill="#dab59d" stroke="#a2a9ad" stroke-width="0.75"/>
<rect x="474.26" y="475.84" width="6.97" height="32.32" fill="#ddc7ab" stroke="#a2a9ad" stroke-width="0.75"/>
<rect x="481.23" y="475.84" width="6.97" height="32.32" fill="#dcbea4" stroke="#a2a9ad" stroke-width="0.75"/>
<rect x="488.21" y="475.84" width="6.97" height="32.32" fill="#b5c8c6" stroke="#a2a9ad" stroke-width="0.75"/>
<rect x="495.18" y="475.84" width="6.97" height="32.32" fill="#dcbea4" stroke="#a2a9ad" stroke-width="0.75"/>
<rect x="502.16" y="475.84" width="6.97" height="32.32" fill="#d7a892" stroke="#a2a9ad" stroke-width="0.75"/>
<rect x="509.13" y="475.84" width="6.97" height="32.32" fill="#ddc7ab" stroke="#a2a9ad" stroke-width="0.75"/>
<rect x="516.11" y="475.84" width="6.97" height="32.32" fill="#dcbea4" stroke="#a2a9ad" stroke-width="0.75"/>
<rect x="523.08" y="475.84" width="6.97" height="32.32" fill="#ddc7ab" stroke="#a2a9ad" stroke-width="0.75"/>
<rect x="530.05" y="475.84" width="6.97" height="32.32" fill="#dee1c4" stroke="#a2a9ad" stroke-width="0.75"/>
<rect x="537.03" y="475.84" width="6.97" height="32.32" fill="#d1dcc5" stroke="#a2a9ad" stroke-width="0.75"/>
<rect x="544.00" y="475.84" width="6.97" height="32.32" fill="#ddc7ab" stroke="#a2a9ad" stroke-width="0.75"/>
<rect x="550.98" y="475.84" width="6.97" height="32.32" fill="#dee1c4" stroke="#a2a9ad" stroke-width="0.75"/>
<rect x="557.95" y="475.84" width="6.97" height="32.32" fill="#dab59d" stroke="#a2a9ad" stroke-width="0.75"/>
<rect x="564.93" y="475.84" width="6.97" height="32.32" fill="#d7a892" stroke="#a2a9ad" stroke-width="0.75"/>
<rect x="571.90" y="475.84" width="6.97" height="32.32" fill="#d7a892" stroke="#a2a9ad" stroke-width="0.75"/>
<rect x="578.88" y="475.84" width="6.97" height="32.32" fill="#dab59d" stroke="#a2a9ad" stroke-width="0.75"/>
<rect x="585.85" y="475.84" width="6.97" height="32.32" fill="#d7a892" stroke="#a2a9ad" stroke-width="0.75"/>
<rect x="592.83" y="475.84" width="6.97" height="32.32" fill="#d39a86" stroke="#a2a9ad" stroke-width="0.75"/>
<rect x="599.80" y="475.84" width="6.97" height="32.32" fill="#dcbea4" stroke="#a2a9ad" stroke-width="0.75"/>
<rect x="606.78" y="475.84" width="6.97" height="32.32" fill="#dab59d" stroke="#a2a9ad" stroke-width="0.75"/>
<rect x="613.75" y="475.84" width="6.97" height="32.32" fill="#ddc7ab" stroke="#a2a9ad" stroke-width="0.75"/>
<rect x="620.73" y="475.84" width="6.97" height="32.32" fill="#dab59d" stroke="#a2a9ad" stroke-width="0.75"/>
<rect x="627.70" y="475.84" width="6.97" height="32.32" fill="#d7a892" stroke="#a2a9ad" stroke-width="0.75"/>
<rect x="634.68" y="475.84" width="6.97" height="32.32" fill="#dab59d" stroke="#a2a9ad" stroke-width="0.75"/>
<rect x="641.65" y="475.84" width="6.97" height="32.32" fill="#dcbea4" stroke="#a2a9ad" stroke-width="0.75"/>
<rect x="648.63" y="475.84" width="6.97" height="32.32" fill="#dcbea4" stroke="#a2a9ad" stroke-width="0.75"/>
<rect x="20.90" y="508.16" width="6.97" height="32.32" fill="#dee1c4" stroke="#a2a9ad" stroke-width="0.75"/>
<rect x="27.87" y="508.16" width="6.97" height="32.32" fill="#ddcfb2" stroke="#a2a9ad" stroke-width="0.75"/>
<rect x="34.85" y="508.16" width="6.97" height="32.32" fill="#ddc7ab" stroke="#a2a9ad" stroke-width="0.75"/>
<rect x="41.82" y="508.16" width="6.97" height="32.32" fill="#dab59d" stroke="#a2a9ad" stroke-width="0.75"/>
<rect x="48.80" y="508.16" width="6.97" height="32.32" fill="#ddc7ab" stroke="#a2a9ad" stroke-width="0.75"/>
<rect x="55.77" y="508.16" width="6.97" height="32.32" fill="#dab59d" stroke="#a2a9ad" stroke-width="0.75"/>
<rect x="62.75" y="508.16" width="6.97" height="32.32" fill="#dab59d" stroke="#a2a9ad" stroke-width="0.75"/>
<rect x="69.72" y="508.16" width="6.97" height="32.32" fill="#dee1c4" stroke="#a2a9ad" stroke-width="0.75"/>
<rect x="76.70" y="508.16" width="6.97" height="32.32" fill="#b5c8c6" stroke="#a2a9ad" stroke-width="0.75"/>
<rect x="83.67" y="508.16" width="6.97" height="32.32" fill="#cc8474" stroke="#a2a9ad" stroke-width="0.75"/>
<rect x="90.65" y="508.16" width="6.97" height="32.32" fill="#cc8474" stroke="#a2a9ad" stroke-width="0.75"/>
<rect x="97.62" y="508.16" width="6.97" height="32.32" fill="#dcbea4" stroke="#a2a9ad" stroke-width="0.75"/>
<rect x="104.60" y="508.16" width="6.97" height="32.32" fill="#d39a86" stroke="#a2a9ad" stroke-width="0.75"/>
<rect x="111.57" y="508.16" width="6.97" height="32.32" fill="#d39a86" stroke="#a2a9ad" stroke-width="0.75"/>
<rect x="118.55" y="508.16" width="6.97" height="32.32" fill="#ddd7b9" stroke="#a2a9ad" stroke-width="0.75"/>
<rect x="125.52" y="508.16" width="6.97" height="32.32" fill="#ddc7ab" stroke="#a2a9ad" stroke-width="0.75"/>
<rect x="132.50" y="508.16" width="6.97" height="32.32" fill="#ddcfb2" stroke="#a2a9ad" stroke-width="0.75"/>
<rect x="139.47" y="508.16" width="6.97" height="32.32" fill="#dee1c4" stroke="#a2a9ad" stroke-width="0.75"/>
<rect x="146.45" y="508.16" width="6.97" height="32.32" fill="#ddcfb2" stroke="#a2a9ad" stroke-width="0.75"/>
<rect x="153.42" y="508.16" width="6.97" height="32.32" fill="#dee1c4" stroke="#a2a9ad" stroke-width="0.75"/>
<rect x="160.39" y="508.16" width="6.97" height="32.32" fill="#dee1c4" stroke="#a2a9ad" stroke-width="0.75"/>
<rect x="167.37" y="508.16" width="6.97" height="32.32" fill="#dee1c4" stroke="#a2a9ad" stroke-width="0.75"/>
<rect x="174.34" y="508.16" width="6.97" height="32.32" fill="#dee1c4" stroke="#a2a9ad" stroke-width="0.75"/>
<rect x="181.32" y="508.16" width="6.97" height="32.32" fill="#ddc7ab" stroke="#a2a9ad" stroke-width="0.75"/>
<rect x="188.29" y="508.16" width="6.97" height="32.32" fill="#dab59d" stroke="#a2a9ad" stroke-width="0.75"/>
<rect x="195.27" y="508.16" width="6.97" height="32.32" fill="#dab59d" stroke="#a2a9ad" stroke-width="0.75"/>
<rect x="202.24" y="508.16" width="6.97" height="32.32" fill="#ddc7ab" stroke="#a2a9ad" stroke-width="0.75"/>
<rect x="209.22" y="508.16" width="6.97" height="32.32" fill="#dab59d" stroke="#a2a9ad" stroke-width="0.75"/>
<rect x="216.19" y="508.16" width="6.97" height="32.32" fill="#dcbea4" stroke="#a2a9ad" stroke-width="0.75"/>
<rect x="223.17" y="508.16" width="6.97" height="32.32" fill="#ddc7ab" stroke="#a2a9ad" stroke-width="0.75"/>
<rect x="230.14" y="508.16" width="6.97" height="32.32" fill="#d7a892" stroke="#a2a9ad" stroke-width="0.75"/>
<rect x="237.12" y="508.16" width="6.97" height="32.32" fill="#ddcfb2" stroke="#a2a9ad" stroke-width="0.75"/>
<rect x="244.09" y="508.16" width="6.97" height="32.32" fill="#d7a892" stroke="#a2a9ad" stroke-width="0.75"/>
<rect x="251.07" y="508.16" width="6.97" height="32.32" fill="#dee1c4" stroke="#a2a9ad" stroke-width="0.75"/>
<rect x="258.04" y="508.16" width="6.97" height="32.32" fill="#ddc7ab" stroke="#a2a9ad" stroke-width="0.75"/>
<rect x="265.02" y="508.16" width="6.97" height="32.32" fill="#ddc7ab" stroke="#a2a9ad" stroke-width="0.75"/>
<rect x="271.99" y="508.16" width="6.97" height="32.32" fill="#dcbea4" stroke="#a2a9ad" stroke-width="0.75"/>
<rect x="278.96" y="508.16" width="6.97" height="32.32" fill="#dab59d" stroke="#a2a9ad" stroke-width="0.75"/>
<rect x="285.94" y="508.16" width="6.97" height="32.32" fill="#ddcfb2" stroke="#a2a9ad" stroke-width="0.75"/>
<rect x="292.91" y="508.16" width="6.97" height="32.32" fill="#d1dcc5" stroke="#a2a9ad" stroke-width="0.75"/>
<rect x="299.89" y="508.16" width="6.97" height="32.32" fill="#ddd7b9" stroke="#a2a9ad" stroke-width="0.75"/>
<rect x="306.86" y="508.16" width="6.97" height="32.32" fill="#ddd7b9" stroke="#a2a9ad" stroke-width="0.75"/>
<rect x="313.84" y="508.16" width="6.97" height="32.32" fill="#dab59d" stroke="#a2a9ad" stroke-width="0.75"/>
<rect x="320.81" y="508.16" width="6.97" height="32.32" fill="#dab59d" stroke="#a2a9ad" stroke-width="0.75"/>
<rect x="327.79" y="508.16" width="6.97" height="32.32" fill="#dcbea4" stroke="#a2a9ad" stroke-width="0.75"/>
<rect x="334.76" y="508.16" width="6.97" height="32.32" fill="#ddc7ab" stroke="#a2a9ad" stroke-width="0.75"/>
<rect x="341.74" y="508.16" width="6.97" height="32.32" fill="#ddd7b9" stroke="#a2a9ad" stroke-width="0.75"/>
<rect x="348.71" y="508.16" width="6.97" height="32.32" fill="#d39a86" stroke="#a2a9ad" stroke-width="0.75"/>
<rect x="355.69" y="508.16" width="6.97" height="32.32" fill="#dab59d" stroke="#a2a9ad" stroke-width="0.75"/>
<rect x="362.66" y="508.16" width="6.97" height="32.32" fill="#d1dcc5" stroke="#a2a9ad" stroke-width="0.75"/>
<rect x="369.64" y="508.16" width="6.97" height="32.32" fill="#ddc7ab" stroke="#a2a9ad" stroke-width="0.75"/>
<rect x="376.61" y="508.16" width="6.97" height="32.32" fill="#ddc7ab" stroke="#a2a9ad" stroke-width="0.75"/>
<rect x="383.59" y="508.16" width="6.97" height="32.32" fill="#ddc7ab" stroke="#a2a9ad" stroke-width="0.75"/>
<rect x="390.56" y="508.16" width="6.97" height="32.32" fill="#d1dcc5" stroke="#a2a9ad" stroke-width="0.75"/>
<rect x="397.54" y="508.16" width="6.97" height="32.32" fill="#d7a892" stroke="#a2a9ad" stroke-width="0.75"/>
<rect x="404.51" y="508.16" width="6.97" height="32.32" fill="#ddd7b9" stroke="#a2a9ad" stroke-width="0.75"/>
<rect x="411.48" y="508.16" width="6.97" height="32.32" fill="#dcbea4" stroke="#a2a9ad" stroke-width="0.75"/>
<rect x="418.46" y="508.16" width="6.97" height="32.32" fill="#ddd7b9" stroke="#a2a9ad" stroke-width="0.75"/>
<rect x="425.43" y="508.16" width="6.97" height="32.32" fill="#dee1c4" stroke="#a2a9ad" stroke-width="0.75"/>
<rect x="432.41" y="508.16" width="6.97" height="32.32" fill="#dab59d" stroke="#a2a9ad" stroke-width="0.75"/>
<rect x="439.38" y="508.16" width="6.97" height="32.32" fill="#ddc7ab" stroke="#a2a9ad" stroke-width="0.75"/>
<rect x="446.36" y="508.16" width="6.97" height="32.32" fill="#dab59d" stroke="#a2a9ad" stroke-width="0.75"/>
<rect x="453.33" y="508.16" width="6.97" height="32.32" fill="#ddd7b9" stroke="#a2a9ad" stroke-width="0.75"/>
<rect x="460.31" y="508.16" width="6.97" height="32.32" fill="#ddd7b9" stroke="#a2a9ad" stroke-width="0.75"/>
<rect x="467.28" y="508.16" width="6.97" height="32.32" fill="#dab59d" stroke="#a2a9ad" stroke-width="0.75"/>
<rect x="474.26" y="508.16" width="6.97" height="32.32" fill="#dab59d" stroke="#a2a9ad" stroke-width="0.75"/>
<rect x="481.23" y="508.16" width="6.97" height="32.32" fill="#ddc7ab" stroke="#a2a9ad" stroke-width="0.75"/>
<rect x="488.21" y="508.16" width="6.97" height="32.32" fill="#dee1c4" stroke="#a2a9ad" stroke-width="0.75"/>
<rect x="495.18" y="508.16" width="6.97" height="32.32" fill="#d39a86" stroke="#a2a9ad" stroke-width="0.75"/>
<rect x="502.16" y="508.16" width="6.97" height="32.32" fill="#c66e60" stroke="#a2a9ad" stroke-width="0.75"/>
<rect x="509.13" y="508.16" width="6.97" height="32.32" fill="#dcbea4" stroke="#a2a9ad" stroke-width="0.75"/>
<rect x="516.11" y="508.16" width="6.97" height="32.32" fill="#ddc7ab" stroke="#a2a9ad" stroke-width="0.75"/>
<rect x="523.08" y="508.16" width="6.97" height="32.32" fill="#ddc7ab" stroke="#a2a9ad" stroke-width="0.75"/>
<rect x="530.05" y="508.16" width="6.97" height="32.32" fill="#dab59d" stroke="#a2a9ad" stroke-width="0.75"/>
<rect x="537.03" y="508.16" width="6.97" height="32.32" fill="#ddd7b9" stroke="#a2a9ad" stroke-width="0.75"/>
<rect x="544.00" y="508.16" width="6.97" height="32.32" fill="#ddcfb2" stroke="#a2a9ad" stroke-width="0.75"/>
<rect x="550.98" y="508.16" width="6.97" height="32.32" fill="#dee1c4" stroke="#a2a9ad" stroke-width="0.75"/>
<rect x="557.95" y="508.16" width="6.97" height="32.32" fill="#ddc7ab" stroke="#a2a9ad" stroke-width="0.75"/>
<rect x="564.93" y="508.16" width="6.97" height="32.32" fill="#dab59d" stroke="#a2a9ad" stroke-width="0.75"/>
<rect x="571.90" y="508.16" width="6.97" height="32.32" fill="#dcbea4" stroke="#a2a9ad" stroke-width="0.75"/>
<rect x="578.88" y="508.16" width="6.97" height="32.32" fill="#ddc7ab" stroke="#a2a9ad" stroke-width="0.75"/>
<rect x="585.85" y="508.16" width="6.97" height="32.32" fill="#dab59d" stroke="#a2a9ad" stroke-width="0.75"/>
<rect x="592.83" y="508.16" width="6.97" height="32.32" fill="#d7a892" stroke="#a2a9ad" stroke-width="0.75"/>
<rect x="599.80" y="508.16" width="6.97" height="32.32" fill="#dcbea4" stroke="#a2a9ad" stroke-width="0.75"/>
<rect x="606.78" y="508.16" width="6.97" height="32.32" fill="#e4ebee" stroke="#a2a9ad" stroke-width="0.75"/>
<rect x="613.75" y="508.16" width="6.97" height="32.32" fill="#dab59d" stroke="#a2a9ad" stroke-width="0.75"/>
<rect x="620.73" y="508.16" width="6.97" height="32.32" fill="#ddc7ab" stroke="#a2a9ad" stroke-width="0.75"/>
<rect x="627.70" y="508.16" width="6.97" height="32.32" fill="#cc8474" stroke="#a2a9ad" stroke-width="0.75"/>
<rect x="634.68" y="508.16" width="6.97" height="32.32" fill="#dcbea4" stroke="#a2a9ad" stroke-width="0.75"/>
<rect x="641.65" y="508.16" width="6.97" height="32.32" fill="#ddc7ab" stroke="#a2a9ad" stroke-width="0.75"/>
<rect x="648.63" y="508.16" width="6.97" height="32.32" fill="#d7a892" stroke="#a2a9ad" stroke-width="0.75"/>
<rect x="20.90" y="540.48" width="6.97" height="32.32" fill="#ddcfb2" stroke="#a2a9ad" stroke-width="0.75"/>
<rect x="27.87" y="540.48" width="6.97" height="32.32" fill="#dcbea4" stroke="#a2a9ad" stroke-width="0.75"/>
<rect x="34.85" y="540.48" width="6.97" height="32.32" fill="#dee1c4" stroke="#a2a9ad" stroke-width="0.75"/>
<rect x="41.82" y="540.48" width="6.97" height="32.32" fill="#d7a892" stroke="#a2a9ad" stroke-width="0.75"/>
<rect x="48.80" y="540.48" width="6.97" height="32.32" fill="#dab59d" stroke="#a2a9ad" stroke-width="0.75"/>
<rect x="55.77" y="540.48" width="6.97" height="32.32" fill="#d7a892" stroke="#a2a9ad" stroke-width="0.75"/>
<rect x="62.75" y="540.48" width="6.97" height="32.32" fill="#dcbea4" stroke="#a2a9ad" stroke-width="0.75"/>
<rect x="69.72" y="540.48" width="6.97" height="32.32" fill="#ddd7b9" stroke="#a2a9ad" stroke-width="0.75"/>
<rect x="76.70" y="540.48" width="6.97" height="32.32" fill="#dee1c4" stroke="#a2a9ad" stroke-width="0.75"/>
<rect x="83.67" y="540.48" width="6.97" height="32.32" fill="#dcbea4" stroke="#a2a9ad" stroke-width="0.75"/>
<rect x="90.65" y="540.48" width="6.97" height="32.32" fill="#d7a892" stroke="#a2a9ad" stroke-width="0.75"/>
<rect x="97.62" y="540.48" width="6.97" height="32.32" fill="#d7a892" stroke="#a2a9ad" stroke-width="0.75"/>
<rect x="104.60" y="540.48" width="6.97" height="32.32" fill="#d7a892" stroke="#a2a9ad" stroke-width="0.75"/>
<rect x="111.57" y="540.48" width="6.97" height="32.32" fill="#d39a86" stroke="#a2a9ad" stroke-width="0.75"/>
<rect x="118.55" y="540.48" width="6.97" height="32.32" fill="#dee1c4" stroke="#a2a9ad" stroke-width="0.75"/>
<rect x="125.52" y="540.48" width="6.97" height="32.32" fill="#ddc7ab" stroke="#a2a9ad" stroke-width="0.75"/>
<rect x="132.50" y="540.48" width="6.97" height="32.32" fill="#dab59d" stroke="#a2a9ad" stroke-width="0.75"/>
<rect x="139.47" y="540.48" width="6.97" height="32.32" fill="#ddc7ab" stroke="#a2a9ad" stroke-width="0.75"/>
<rect x="146.45" y="540.48" width="6.97" height="32.32" fill="#ddcfb2" stroke="#a2a9ad" stroke-width="0.75"/>
<rect x="153.42" y="540.48" width="6.97" height="32.32" fill="#dab59d" stroke="#a2a9ad" stroke-width="0.75"/>
<rect x="160.39" y="540.48" width="6.97" height="32.32" fill="#dee1c4" stroke="#a2a9ad" stroke-width="0.75"/>
<rect x="167.37" y="540.48" width="6.97" height="32.32" fill="#ddd7b9" stroke="#a2a9ad" stroke-width="0.75"/>
<rect x="174.34" y="540.48" width="6.97" height="32.32" fill="#d1dcc5" stroke="#a2a9ad" stroke-width="0.75"/>
<rect x="181.32" y="540.48" width="6.97" height="32.32" fill="#ddc7ab" stroke="#a2a9ad" stroke-width="0.75"/>
<rect x="188.29" y="540.48" width="6.97" height="32.32" fill="#d7a892" stroke="#a2a9ad" stroke-width="0.75"/>
<rect x="195.27" y="540.48" width="6.97" height="32.32" fill="#ddd7b9" stroke="#a2a9ad" stroke-width="0.75"/>
<rect x="202.24" y="540.48" width="6.97" height="32.32" fill="#ddc7ab" stroke="#a2a9ad" stroke-width="0.75"/>
<rect x="209.22" y="540.48" width="6.97" height="32.32" fill="#ddcfb2" stroke="#a2a9ad" stroke-width="0.75"/>
<rect x="216.19" y="540.48" width="6.97" height="32.32" fill="#dcbea4" stroke="#a2a9ad" stroke-width="0.75"/>
<rect x="223.17" y="540.48" width="6.97" height="32.32" fill="#ddc7ab" stroke="#a2a9ad" stroke-width="0.75"/>
<rect x="230.14" y="540.48" width="6.97" height="32.32" fill="#d39a86" stroke="#a2a9ad" stroke-width="0.75"/>
<rect x="237.12" y="540.48" width="6.97" height="32.32" fill="#dee1c4" stroke="#a2a9ad" stroke-width="0.75"/>
<rect x="244.09" y="540.48" width="6.97" height="32.32" fill="#ddcfb2" stroke="#a2a9ad" stroke-width="0.75"/>
<rect x="251.07" y="540.48" width="6.97" height="32.32" fill="#ddcfb2" stroke="#a2a9ad" stroke-width="0.75"/>
<rect x="258.04" y="540.48" width="6.97" height="32.32" fill="#ddc7ab" stroke="#a2a9ad" stroke-width="0.75"/>
<rect x="265.02" y="540.48" width="6.97" height="32.32" fill="#dab59d" stroke="#a2a9ad" stroke-width="0.75"/>
<rect x="271.99" y="540.48" width="6.97" height="32.32" fill="#ddcfb2" stroke="#a2a9ad" stroke-width="0.75"/>
<rect x="278.96" y="540.48" width="6.97" height="32.32" fill="#ddc7ab" stroke="#a2a9ad" stroke-width="0.75"/>
<rect x="285.94" y="540.48" width="6.97" height="32.32" fill="#dcbea4" stroke="#a2a9ad" stroke-width="0.75"/>
<rect x="292.91" y="540.48" width="6.97" height="32.32" fill="#ddd7b9" stroke="#a2a9ad" stroke-width="0.75"/>
<rect x="299.89" y="540.48" width="6.97" height="32.32" fill="#ddc7ab" stroke="#a2a9ad" stroke-width="0.75"/>
<rect x="306.86" y="540.48" width="6.97" height="32.32" fill="#dee1c4" stroke="#a2a9ad" stroke-width="0.75"/>
<rect x="313.84" y="540.48" width="6.97" height="32.32" fill="#d39a86" stroke="#a2a9ad" stroke-width="0.75"/>
<rect x="320.81" y="540.48" width="6.97" height="32.32" fill="#dcbea4" stroke="#a2a9ad" stroke-width="0.75"/>
<rect x="327.79" y="540.48" width="6.97" height="32.32" fill="#dab59d" stroke="#a2a9ad" stroke-width="0.75"/>
<rect x="334.76" y="540.48" width="6.97" height="32.32" fill="#dcbea4" stroke="#a2a9ad" stroke-width="0.75"/>
<rect x="341.74" y="540.48" width="6.97" height="32.32" fill="#dee1c4" stroke="#a2a9ad" stroke-width="0.75"/>
<rect x="348.71" y="540.48" width="6.97" height="32.32" fill="#d7a892" stroke="#a2a9ad" stroke-width="0.75"/>
<rect x="355.69" y="540.48" width="6.97" height="32.32" fill="#dee1c4" stroke="#a2a9ad" stroke-width="0.75"/>
<rect x="362.66" y="540.48" width="6.97" height="32.32" fill="#ddc7ab" stroke="#a2a9ad" stroke-width="0.75"/>
<rect x="369.64" y="540.48" width="6.97" height="32.32" fill="#dee1c4" stroke="#a2a9ad" stroke-width="0.75"/>
<rect x="376.61" y="540.48" width="6.97" height="32.32" fill="#ddd7b9" stroke="#a2a9ad" stroke-width="0.75"/>
<rect x="383.59" y="540.48" width="6.97" height="32.32" fill="#ddd7b9" stroke="#a2a9ad" stroke-width="0.75"/>
<rect x="390.56" y="540.48" width="6.97" height="32.32" fill="#dcbea4" stroke="#a2a9ad" stroke-width="0.75"/>
<rect x="397.54" y="540.48" width="6.97" height="32.32" fill="#ddcfb2" stroke="#a2a9ad" stroke-width="0.75"/>
<rect x="404.51" y="540.48" width="6.97" height="32.32" fill="#ddd7b9" stroke="#a2a9ad" stroke-width="0.75"/>
<rect x="411.48" y="540.48" width="6.97" height="32.32" fill="#dcbea4" stroke="#a2a9ad" stroke-width="0.75"/>
<rect x="418.46" y="540.48" width="6.97" height="32.32" fill="#dee1c4" stroke="#a2a9ad" stroke-width="0.75"/>
<rect x="425.43" y="540.48" width="6.97" height="32.32" fill="#dee1c4" stroke="#a2a9ad" stroke-width="0.75"/>
<rect x="432.41" y="540.48" width="6.97" height="32.32" fill="#d7a892" stroke="#a2a9ad" stroke-width="0.75"/>
<rect x="439.38" y="540.48" width="6.97" height="32.32" fill="#ddc7ab" stroke="#a2a9ad" stroke-width="0.75"/>
<rect x="446.36" y="540.48" width="6.97" height="32.32" fill="#dab59d" stroke="#a2a9ad" stroke-width="0.75"/>
<rect x="453.33" y="540.48" width="6.97" height="32.32" fill="#d1dcc5" stroke="#a2a9ad" stroke-width="0.75"/>
<rect x="460.31" y="540.48" width="6.97" height="32.32" fill="#dab59d" stroke="#a2a9ad" stroke-width="0.75"/>
<rect x="467.28" y="540.48" width="6.97" height="32.32" fill="#d7a892" stroke="#a2a9ad" stroke-width="0.75"/>
<rect x="474.26" y="540.48" width="6.97" height="32.32" fill="#dab59d" stroke="#a2a9ad" stroke-width="0.75"/>
<rect x="481.23" y="540.48" width="6.97" height="32.32" fill="#ddd7b9" stroke="#a2a9ad" stroke-width="0.75"/>
<rect x="488.21" y="540.48" width="6.97" height="32.32" fill="#ddd7b9" stroke="#a2a9ad" stroke-width="0.75"/>
<rect x="495.18" y="540.48" width="6.97" height="32.32" fill="#dcbea4" stroke="#a2a9ad" stroke-width="0.75"/>
<rect x="502.16" y="540.48" width="6.97" height="32.32" fill="#d7a892" stroke="#a2a9ad" stroke-width="0.75"/>
<rect x="509.13" y="540.48" width="6.97" height="32.32" fill="#dcbea4" stroke="#a2a9ad" stroke-width="0.75"/>
<rect x="516.11" y="540.48" width="6.97" height="32.32" fill="#ddcfb2" stroke="#a2a9ad" stroke-width="0.75"/>
<rect x="523.08" y="540.48" width="6.97" height="32.32" fill="#ddcfb2" stroke="#a2a9ad" stroke-width="0.75"/>
<rect x="530.05" y="540.48" width="6.97" height="32.32" fill="#cc8474" stroke="#a2a9ad" stroke-width="0.75"/>
<rect x="537.03" y="540.48" width="6.97" height="32.32" fill="#ddd7b9" stroke="#a2a9ad" stroke-width="0.75"/>
<rect x="544.00" y="540.48" width="6.97" height="32.32" fill="#d1dcc5" stroke="#a2a9ad" stroke-width="0.75"/>
<rect x="550.98" y="540.48" width="6.97" height="32.32" fill="#b5c8c6" stroke="#a2a9ad" stroke-width="0.75"/>
<rect x="557.95" y="540.48" width="6.97" height="32.32" fill="#dab59d" stroke="#a2a9ad" stroke-width="0.75"/>
<rect x="564.93" y="540.48" width="6.97" height="32.32" fill="#ddd7b9" stroke="#a2a9ad" stroke-width="0.75"/>
<rect x="571.90" y="540.48" width="6.97" height="32.32" fill="#ddc7ab" stroke="#a2a9ad" stroke-width="0.75"/>
<rect x="578.88" y="540.48" width="6.97" height="32.32" fill="#ddd7b9" stroke="#a2a9ad" stroke-width="0.75"/>
<rect x="585.85" y="540.48" width="6.97" height="32.32" fill="#dcbea4" stroke="#a2a9ad" stroke-width="0.75"/>
<rect x="592.83" y="540.48" width="6.97" height="32.32" fill="#ddcfb2" stroke="#a2a9ad" stroke-width="0.75"/>
<rect x="599.80" y="540.48" width="6.97" height="32.32" fill="#ddcfb2" stroke="#a2a9ad" stroke-width="0.75"/>
<rect x="606.78" y="540.48" width="6.97" height="32.32" fill="#dcbea4" stroke="#a2a9ad" stroke-width="0.75"/>
<rect x="613.75" y="540.48" width="6.97" height="32.32" fill="#d7a892" stroke="#a2a9ad" stroke-width="0.75"/>
<rect x="620.73" y="540.48" width="6.97" height="32.32" fill="#ddcfb2" stroke="#a2a9ad" stroke-width="0.75"/>
<rect x="627.70" y="540.48" width="6.97" height="32.32" fill="#d7a892" stroke="#a2a9ad" stroke-width="0.75"/>
<rect x="634.68" y="540.48" width="6.97" height="32.32" fill="#d7a892" stroke="#a2a9ad" stroke-width="0.75"/>
<rect x="641.65" y="540.48" width="6.97" height="32.32" fill="#dab59d" stroke="#a2a9ad" stroke-width="0.75"/>
<rect x="648.63" y="540.48" width="6.97" height="32.32" fill="#ddcfb2" stroke="#a2a9ad" stroke-width="0.75"/>
<line x1="20.7" y1="409.7" x2="20.7" y2="577.5" stroke="#4a4242" stroke-width="1.5"/>
<line x1="15.3" y1="573.2" x2="658.4" y2="573.2" stroke="#4a4242" stroke-width="1.4"/>
<line x1="17.2" y1="411.2" x2="20.9" y2="411.2" stroke="#4a4242" stroke-width="1.0"/>
<line x1="17.2" y1="443.5" x2="20.9" y2="443.5" stroke="#4a4242" stroke-width="1.0"/>
<line x1="17.2" y1="475.8" x2="20.9" y2="475.8" stroke="#4a4242" stroke-width="1.0"/>
<line x1="17.2" y1="508.2" x2="20.9" y2="508.2" stroke="#4a4242" stroke-width="1.0"/>
<line x1="17.2" y1="540.5" x2="20.9" y2="540.5" stroke="#4a4242" stroke-width="1.0"/>
<line x1="17.2" y1="572.8" x2="20.9" y2="572.8" stroke="#4a4242" stroke-width="1.0"/>
<line x1="27.9" y1="572.8" x2="27.9" y2="575.6" stroke="#4a4242" stroke-width="1.0"/>
<line x1="34.8" y1="572.8" x2="34.8" y2="575.6" stroke="#4a4242" stroke-width="1.0"/>
<line x1="41.8" y1="572.8" x2="41.8" y2="575.6" stroke="#4a4242" stroke-width="1.0"/>
<line x1="48.8" y1="572.8" x2="48.8" y2="575.6" stroke="#4a4242" stroke-width="1.0"/>
<line x1="55.8" y1="572.8" x2="55.8" y2="575.6" stroke="#4a4242" stroke-width="1.0"/>
<line x1="62.7" y1="572.8" x2="62.7" y2="575.6" stroke="#4a4242" stroke-width="1.0"/>
<line x1="69.7" y1="572.8" x2="69.7" y2="575.6" stroke="#4a4242" stroke-width="1.0"/>
<line x1="76.7" y1="572.8" x2="76.7" y2="575.6" stroke="#4a4242" stroke-width="1.0"/>
<line x1="83.7" y1="572.8" x2="83.7" y2="575.6" stroke="#4a4242" stroke-width="1.0"/>
<line x1="90.6" y1="572.8" x2="90.6" y2="575.6" stroke="#4a4242" stroke-width="1.0"/>
<line x1="97.6" y1="572.8" x2="97.6" y2="575.6" stroke="#4a4242" stroke-width="1.0"/>
<line x1="104.6" y1="572.8" x2="104.6" y2="575.6" stroke="#4a4242" stroke-width="1.0"/>
<line x1="111.6" y1="572.8" x2="111.6" y2="575.6" stroke="#4a4242" stroke-width="1.0"/>
<line x1="118.5" y1="572.8" x2="118.5" y2="575.6" stroke="#4a4242" stroke-width="1.0"/>
<line x1="125.5" y1="572.8" x2="125.5" y2="575.6" stroke="#4a4242" stroke-width="1.0"/>
<line x1="132.5" y1="572.8" x2="132.5" y2="575.6" stroke="#4a4242" stroke-width="1.0"/>
<line x1="139.5" y1="572.8" x2="139.5" y2="575.6" stroke="#4a4242" stroke-width="1.0"/>
<line x1="146.4" y1="572.8" x2="146.4" y2="575.6" stroke="#4a4242" stroke-width="1.0"/>
<line x1="153.4" y1="572.8" x2="153.4" y2="575.6" stroke="#4a4242" stroke-width="1.0"/>
<line x1="160.4" y1="572.8" x2="160.4" y2="575.6" stroke="#4a4242" stroke-width="1.0"/>
<line x1="167.4" y1="572.8" x2="167.4" y2="575.6" stroke="#4a4242" stroke-width="1.0"/>
<line x1="174.3" y1="572.8" x2="174.3" y2="575.6" stroke="#4a4242" stroke-width="1.0"/>
<line x1="181.3" y1="572.8" x2="181.3" y2="575.6" stroke="#4a4242" stroke-width="1.0"/>
<line x1="188.3" y1="572.8" x2="188.3" y2="575.6" stroke="#4a4242" stroke-width="1.0"/>
<line x1="195.3" y1="572.8" x2="195.3" y2="575.6" stroke="#4a4242" stroke-width="1.0"/>
<line x1="202.2" y1="572.8" x2="202.2" y2="575.6" stroke="#4a4242" stroke-width="1.0"/>
<line x1="209.2" y1="572.8" x2="209.2" y2="575.6" stroke="#4a4242" stroke-width="1.0"/>
<line x1="216.2" y1="572.8" x2="216.2" y2="575.6" stroke="#4a4242" stroke-width="1.0"/>
<line x1="223.2" y1="572.8" x2="223.2" y2="575.6" stroke="#4a4242" stroke-width="1.0"/>
<line x1="230.1" y1="572.8" x2="230.1" y2="575.6" stroke="#4a4242" stroke-width="1.0"/>
<line x1="237.1" y1="572.8" x2="237.1" y2="575.6" stroke="#4a4242" stroke-width="1.0"/>
<line x1="244.1" y1="572.8" x2="244.1" y2="575.6" stroke="#4a4242" stroke-width="1.0"/>
<line x1="251.1" y1="572.8" x2="251.1" y2="575.6" stroke="#4a4242" stroke-width="1.0"/>
<line x1="258.0" y1="572.8" x2="258.0" y2="575.6" stroke="#4a4242" stroke-width="1.0"/>
<line x1="265.0" y1="572.8" x2="265.0" y2="575.6" stroke="#4a4242" stroke-width="1.0"/>
<line x1="272.0" y1="572.8" x2="272.0" y2="575.6" stroke="#4a4242" stroke-width="1.0"/>
<line x1="279.0" y1="572.8" x2="279.0" y2="575.6" stroke="#4a4242" stroke-width="1.0"/>
<line x1="285.9" y1="572.8" x2="285.9" y2="575.6" stroke="#4a4242" stroke-width="1.0"/>
<line x1="292.9" y1="572.8" x2="292.9" y2="575.6" stroke="#4a4242" stroke-width="1.0"/>
<line x1="299.9" y1="572.8" x2="299.9" y2="575.6" stroke="#4a4242" stroke-width="1.0"/>
<line x1="306.9" y1="572.8" x2="306.9" y2="575.6" stroke="#4a4242" stroke-width="1.0"/>
<line x1="313.8" y1="572.8" x2="313.8" y2="575.6" stroke="#4a4242" stroke-width="1.0"/>
<line x1="320.8" y1="572.8" x2="320.8" y2="575.6" stroke="#4a4242" stroke-width="1.0"/>
<line x1="327.8" y1="572.8" x2="327.8" y2="575.6" stroke="#4a4242" stroke-width="1.0"/>
<line x1="334.8" y1="572.8" x2="334.8" y2="575.6" stroke="#4a4242" stroke-width="1.0"/>
<line x1="341.7" y1="572.8" x2="341.7" y2="575.6" stroke="#4a4242" stroke-width="1.0"/>
<line x1="348.7" y1="572.8" x2="348.7" y2="575.6" stroke="#4a4242" stroke-width="1.0"/>
<line x1="355.7" y1="572.8" x2="355.7" y2="575.6" stroke="#4a4242" stroke-width="1.0"/>
<line x1="362.7" y1="572.8" x2="362.7" y2="575.6" stroke="#4a4242" stroke-width="1.0"/>
<line x1="369.6" y1="572.8" x2="369.6" y2="575.6" stroke="#4a4242" stroke-width="1.0"/>
<line x1="376.6" y1="572.8" x2="376.6" y2="575.6" stroke="#4a4242" stroke-width="1.0"/>
<line x1="383.6" y1="572.8" x2="383.6" y2="575.6" stroke="#4a4242" stroke-width="1.0"/>
<line x1="390.6" y1="572.8" x2="390.6" y2="575.6" stroke="#4a4242" stroke-width="1.0"/>
<line x1="397.5" y1="572.8" x2="397.5" y2="575.6" stroke="#4a4242" stroke-width="1.0"/>
<line x1="404.5" y1="572.8" x2="404.5" y2="575.6" stroke="#4a4242" stroke-width="1.0"/>
<line x1="411.5" y1="572.8" x2="411.5" y2="575.6" stroke="#4a4242" stroke-width="1.0"/>
<line x1="418.5" y1="572.8" x2="418.5" y2="575.6" stroke="#4a4242" stroke-width="1.0"/>
<line x1="425.4" y1="572.8" x2="425.4" y2="575.6" stroke="#4a4242" stroke-width="1.0"/>
<line x1="432.4" y1="572.8" x2="432.4" y2="575.6" stroke="#4a4242" stroke-width="1.0"/>
<line x1="439.4" y1="572.8" x2="439.4" y2="575.6" stroke="#4a4242" stroke-width="1.0"/>
<line x1="446.4" y1="572.8" x2="446.4" y2="575.6" stroke="#4a4242" stroke-width="1.0"/>
<line x1="453.3" y1="572.8" x2="453.3" y2="575.6" stroke="#4a4242" stroke-width="1.0"/>
<line x1="460.3" y1="572.8" x2="460.3" y2="575.6" stroke="#4a4242" stroke-width="1.0"/>
<line x1="467.3" y1="572.8" x2="467.3" y2="575.6" stroke="#4a4242" stroke-width="1.0"/>
<line x1="474.3" y1="572.8" x2="474.3" y2="575.6" stroke="#4a4242" stroke-width="1.0"/>
<line x1="481.2" y1="572.8" x2="481.2" y2="575.6" stroke="#4a4242" stroke-width="1.0"/>
<line x1="488.2" y1="572.8" x2="488.2" y2="575.6" stroke="#4a4242" stroke-width="1.0"/>
<line x1="495.2" y1="572.8" x2="495.2" y2="575.6" stroke="#4a4242" stroke-width="1.0"/>
<line x1="502.2" y1="572.8" x2="502.2" y2="575.6" stroke="#4a4242" stroke-width="1.0"/>
<line x1="509.1" y1="572.8" x2="509.1" y2="575.6" stroke="#4a4242" stroke-width="1.0"/>
<line x1="516.1" y1="572.8" x2="516.1" y2="575.6" stroke="#4a4242" stroke-width="1.0"/>
<line x1="523.1" y1="572.8" x2="523.1" y2="575.6" stroke="#4a4242" stroke-width="1.0"/>
<line x1="530.1" y1="572.8" x2="530.1" y2="575.6" stroke="#4a4242" stroke-width="1.0"/>
<line x1="537.0" y1="572.8" x2="537.0" y2="575.6" stroke="#4a4242" stroke-width="1.0"/>
<line x1="544.0" y1="572.8" x2="544.0" y2="575.6" stroke="#4a4242" stroke-width="1.0"/>
<line x1="551.0" y1="572.8" x2="551.0" y2="575.6" stroke="#4a4242" stroke-width="1.0"/>
<line x1="558.0" y1="572.8" x2="558.0" y2="575.6" stroke="#4a4242" stroke-width="1.0"/>
<line x1="564.9" y1="572.8" x2="564.9" y2="575.6" stroke="#4a4242" stroke-width="1.0"/>
<line x1="571.9" y1="572.8" x2="571.9" y2="575.6" stroke="#4a4242" stroke-width="1.0"/>
<line x1="578.9" y1="572.8" x2="578.9" y2="575.6" stroke="#4a4242" stroke-width="1.0"/>
<line x1="585.9" y1="572.8" x2="585.9" y2="575.6" stroke="#4a4242" stroke-width="1.0"/>
<line x1="592.8" y1="572.8" x2="592.8" y2="575.6" stroke="#4a4242" stroke-width="1.0"/>
<line x1="599.8" y1="572.8" x2="599.8" y2="575.6" stroke="#4a4242" stroke-width="1.0"/>
<line x1="606.8" y1="572.8" x2="606.8" y2="575.6" stroke="#4a4242" stroke-width="1.0"/>
<line x1="613.8" y1="572.8" x2="613.8" y2="575.6" stroke="#4a4242" stroke-width="1.0"/>
<line x1="620.7" y1="572.8" x2="620.7" y2="575.6" stroke="#4a4242" stroke-width="1.0"/>
<line x1="627.7" y1="572.8" x2="627.7" y2="575.6" stroke="#4a4242" stroke-width="1.0"/>
<line x1="634.7" y1="572.8" x2="634.7" y2="575.6" stroke="#4a4242" stroke-width="1.0"/>
<line x1="641.7" y1="572.8" x2="641.7" y2="575.6" stroke="#4a4242" stroke-width="1.0"/>
<line x1="648.6" y1="572.8" x2="648.6" y2="575.6" stroke="#4a4242" stroke-width="1.0"/>
<line x1="655.6" y1="572.8" x2="655.6" y2="575.6" stroke="#4a4242" stroke-width="1.0"/>
<text transform="translate(18.40,428.92) scale(1,1.04)" font-size="9.2" text-anchor="end" fill="#1a1a1a" stroke="#1a1a1a" stroke-width="0.30">2 h</text>
<text transform="translate(18.40,461.24) scale(1,1.04)" font-size="9.2" text-anchor="end" fill="#1a1a1a" stroke="#1a1a1a" stroke-width="0.30">6 h</text>
<text transform="translate(18.40,493.56) scale(1,1.04)" font-size="9.2" text-anchor="end" fill="#1a1a1a" stroke="#1a1a1a" stroke-width="0.30">12 h</text>
<text transform="translate(18.40,525.88) scale(1,1.04)" font-size="9.2" text-anchor="end" fill="#1a1a1a" stroke="#1a1a1a" stroke-width="0.30">24 h</text>
<text transform="translate(18.40,558.20) scale(1,1.04)" font-size="9.2" text-anchor="end" fill="#1a1a1a" stroke="#1a1a1a" stroke-width="0.30">48 h</text>
<g font-size="6.5" fill="#1a1a1a" stroke="#1a1a1a" stroke-width="0.18">
<text transform="translate(22.4,578.3) rotate(90) scale(1,1.04)">WEE1</text>
<text transform="translate(29.3,578.3) rotate(90) scale(1,1.04)">TTK</text>
<text transform="translate(36.3,578.3) rotate(90) scale(1,1.04)">RPS6KB1</text>
<text transform="translate(43.3,578.3) rotate(90) scale(1,1.04)">RPS6KA3</text>
<text transform="translate(50.3,578.3) rotate(90) scale(1,1.04)">RPS6KA2</text>
<text transform="translate(57.2,578.3) rotate(90) scale(1,1.04)">RPS6KA1</text>
<text transform="translate(64.2,578.3) rotate(90) scale(1,1.04)">ROCK2</text>
<text transform="translate(71.2,578.3) rotate(90) scale(1,1.04)">ROCK1</text>
<text transform="translate(78.2,578.3) rotate(90) scale(1,1.04)">RAF1</text>
<text transform="translate(85.1,578.3) rotate(90) scale(1,1.04)">PRKG2</text>
<text transform="translate(92.1,578.3) rotate(90) scale(1,1.04)">PRKG1</text>
<text transform="translate(99.1,578.3) rotate(90) scale(1,1.04)">PRKDC</text>
<text transform="translate(106.1,578.3) rotate(90) scale(1,1.04)">PRKD2</text>
<text transform="translate(113.0,578.3) rotate(90) scale(1,1.04)">PRKD1</text>
<text transform="translate(120.0,578.3) rotate(90) scale(1,1.04)">PRKCZ</text>
<text transform="translate(127.0,578.3) rotate(90) scale(1,1.04)">PRKCT</text>
<text transform="translate(134.0,578.3) rotate(90) scale(1,1.04)">PRKCI</text>
<text transform="translate(140.9,578.3) rotate(90) scale(1,1.04)">PRKCH</text>
<text transform="translate(147.9,578.3) rotate(90) scale(1,1.04)">PRKCG</text>
<text transform="translate(154.9,578.3) rotate(90) scale(1,1.04)">PRKCE</text>
<text transform="translate(161.9,578.3) rotate(90) scale(1,1.04)">PRKCD</text>
<text transform="translate(168.8,578.3) rotate(90) scale(1,1.04)">PRKCB</text>
<text transform="translate(175.8,578.3) rotate(90) scale(1,1.04)">PRKCA</text>
<text transform="translate(182.8,578.3) rotate(90) scale(1,1.04)">PRK</text>
<text transform="translate(189.8,578.3) rotate(90) scale(1,1.04)">PRK</text>
<text transform="translate(196.7,578.3) rotate(90) scale(1,1.04)">PRK</text>
<text transform="translate(203.7,578.3) rotate(90) scale(1,1.04)">PRKAA2</text>
<text transform="translate(210.7,578.3) rotate(90) scale(1,1.04)">PLK4</text>
<text transform="translate(217.7,578.3) rotate(90) scale(1,1.04)">PLK1</text>
<text transform="translate(224.6,578.3) rotate(90) scale(1,1.04)">PKD1</text>
<text transform="translate(231.6,578.3) rotate(90) scale(1,1.04)">PIM1</text>
<text transform="translate(238.6,578.3) rotate(90) scale(1,1.04)">PDK1</text>
<text transform="translate(245.6,578.3) rotate(90) scale(1,1.04)">PAK3</text>
<text transform="translate(252.5,578.3) rotate(90) scale(1,1.04)">PAK2</text>
<text transform="translate(259.5,578.3) rotate(90) scale(1,1.04)">PAK1</text>
<text transform="translate(266.5,578.3) rotate(90) scale(1,1.04)">NLK</text>
<text transform="translate(273.5,578.3) rotate(90) scale(1,1.04)">NEK2</text>
<text transform="translate(280.4,578.3) rotate(90) scale(1,1.04)">MTOR</text>
<text transform="translate(287.4,578.3) rotate(90) scale(1,1.04)">MAPK9</text>
<text transform="translate(294.4,578.3) rotate(90) scale(1,1.04)">MAPK8</text>
<text transform="translate(301.4,578.3) rotate(90) scale(1,1.04)">MAPK7</text>
<text transform="translate(308.3,578.3) rotate(90) scale(1,1.04)">MAPK3</text>
<text transform="translate(315.3,578.3) rotate(90) scale(1,1.04)">MAPK14</text>
<text transform="translate(322.3,578.3) rotate(90) scale(1,1.04)">MAPK13</text>
<text transform="translate(329.3,578.3) rotate(90) scale(1,1.04)">MAPK11</text>
<text transform="translate(336.2,578.3) rotate(90) scale(1,1.04)">MAPK10</text>
<text transform="translate(343.2,578.3) rotate(90) scale(1,1.04)">MAPK1</text>
<text transform="translate(350.2,578.3) rotate(90) scale(1,1.04)">MAP4K4</text>
<text transform="translate(357.2,578.3) rotate(90) scale(1,1.04)">MAP2K6</text>
<text transform="translate(364.1,578.3) rotate(90) scale(1,1.04)">MAP2K5</text>
<text transform="translate(371.1,578.3) rotate(90) scale(1,1.04)">MAP2K4</text>
<text transform="translate(378.1,578.3) rotate(90) scale(1,1.04)">MAP2K2</text>
<text transform="translate(385.1,578.3) rotate(90) scale(1,1.04)">MAP2K1</text>
<text transform="translate(392.0,578.3) rotate(90) scale(1,1.04)">MAK</text>
<text transform="translate(399.0,578.3) rotate(90) scale(1,1.04)">LYN</text>
<text transform="translate(406.0,578.3) rotate(90) scale(1,1.04)">IKBKB</text>
<text transform="translate(413.0,578.3) rotate(90) scale(1,1.04)">HIPK</text>
<text transform="translate(419.9,578.3) rotate(90) scale(1,1.04)">GSK3B</text>
<text transform="translate(426.9,578.3) rotate(90) scale(1,1.04)">GSK3A</text>
<text transform="translate(433.9,578.3) rotate(90) scale(1,1.04)">GRK1</text>
<text transform="translate(440.9,578.3) rotate(90) scale(1,1.04)">EIF2AK2</text>
<text transform="translate(447.8,578.3) rotate(90) scale(1,1.04)">DMPK</text>
<text transform="translate(454.8,578.3) rotate(90) scale(1,1.04)">DAPK1</text>
<text transform="translate(461.8,578.3) rotate(90) scale(1,1.04)">CSNK2A2</text>
<text transform="translate(468.8,578.3) rotate(90) scale(1,1.04)">CSNK2A1</text>
<text transform="translate(475.7,578.3) rotate(90) scale(1,1.04)">CSNK1G2</text>
<text transform="translate(482.7,578.3) rotate(90) scale(1,1.04)">CSNK1D</text>
<text transform="translate(489.7,578.3) rotate(90) scale(1,1.04)">CSNK1A1</text>
<text transform="translate(496.7,578.3) rotate(90) scale(1,1.04)">CLK2</text>
<text transform="translate(503.6,578.3) rotate(90) scale(1,1.04)">CLK1</text>
<text transform="translate(510.6,578.3) rotate(90) scale(1,1.04)">CHUK</text>
<text transform="translate(517.6,578.3) rotate(90) scale(1,1.04)">CHEK1</text>
<text transform="translate(524.6,578.3) rotate(90) scale(1,1.04)">CDK9</text>
<text transform="translate(531.5,578.3) rotate(90) scale(1,1.04)">CDK7</text>
<text transform="translate(538.5,578.3) rotate(90) scale(1,1.04)">CDK5</text>
<text transform="translate(545.5,578.3) rotate(90) scale(1,1.04)">CDK2</text>
<text transform="translate(552.5,578.3) rotate(90) scale(1,1.04)">CDK1</text>
<text transform="translate(559.4,578.3) rotate(90) scale(1,1.04)">CAMK4</text>
<text transform="translate(566.4,578.3) rotate(90) scale(1,1.04)">CAMK2G</text>
<text transform="translate(573.4,578.3) rotate(90) scale(1,1.04)">CAMK2D</text>
<text transform="translate(580.4,578.3) rotate(90) scale(1,1.04)">CAMK2B</text>
<text transform="translate(587.3,578.3) rotate(90) scale(1,1.04)">CAMK2A</text>
<text transform="translate(594.3,578.3) rotate(90) scale(1,1.04)">AURKB</text>
<text transform="translate(601.3,578.3) rotate(90) scale(1,1.04)">AUR</text>
<text transform="translate(608.3,578.3) rotate(90) scale(1,1.04)">ATR</text>
<text transform="translate(615.2,578.3) rotate(90) scale(1,1.04)">ATM</text>
<text transform="translate(622.2,578.3) rotate(90) scale(1,1.04)">ARAF</text>
<text transform="translate(629.2,578.3) rotate(90) scale(1,1.04)">AKT1</text>
<text transform="translate(636.2,578.3) rotate(90) scale(1,1.04)">ADR</text>
<text transform="translate(643.1,578.3) rotate(90) scale(1,1.04)">ACV</text>
<text transform="translate(650.1,578.3) rotate(90) scale(1,1.04)">ABL1</text>
</g>
<linearGradient id="cb" x1="0" y1="0" x2="0" y2="1"><stop offset="0.001" stop-color="#bd5f5c"/><stop offset="0.058" stop-color="#c26e68"/><stop offset="0.152" stop-color="#c98a80"/><stop offset="0.247" stop-color="#d0a592"/><stop offset="0.341" stop-color="#d6c0a8"/><stop offset="0.436" stop-color="#d8d2b4"/><stop offset="0.531" stop-color="#d4dabd"/><stop offset="0.625" stop-color="#bac8b6"/><stop offset="0.720" stop-color="#a2b4b6"/><stop offset="0.815" stop-color="#8ca2b2"/><stop offset="0.909" stop-color="#7890aa"/><stop offset="1.000" stop-color="#6080a4"/></linearGradient>
<rect x="660.80" y="411.20" width="10.90" height="159.60" fill="url(#cb)"/>
<g stroke="#000" stroke-opacity="0.10" stroke-width="0.6">
<line x1="660.8" y1="413.62" x2="671.7" y2="413.62"/>
<line x1="660.8" y1="416.04" x2="671.7" y2="416.04"/>
<line x1="660.8" y1="418.45" x2="671.7" y2="418.45"/>
<line x1="660.8" y1="420.87" x2="671.7" y2="420.87"/>
<line x1="660.8" y1="423.29" x2="671.7" y2="423.29"/>
<line x1="660.8" y1="425.71" x2="671.7" y2="425.71"/>
<line x1="660.8" y1="428.13" x2="671.7" y2="428.13"/>
<line x1="660.8" y1="430.55" x2="671.7" y2="430.55"/>
<line x1="660.8" y1="432.96" x2="671.7" y2="432.96"/>
<line x1="660.8" y1="435.38" x2="671.7" y2="435.38"/>
<line x1="660.8" y1="437.80" x2="671.7" y2="437.80"/>
<line x1="660.8" y1="440.22" x2="671.7" y2="440.22"/>
<line x1="660.8" y1="442.64" x2="671.7" y2="442.64"/>
<line x1="660.8" y1="445.05" x2="671.7" y2="445.05"/>
<line x1="660.8" y1="447.47" x2="671.7" y2="447.47"/>
<line x1="660.8" y1="449.89" x2="671.7" y2="449.89"/>
<line x1="660.8" y1="452.31" x2="671.7" y2="452.31"/>
<line x1="660.8" y1="454.73" x2="671.7" y2="454.73"/>
<line x1="660.8" y1="457.15" x2="671.7" y2="457.15"/>
<line x1="660.8" y1="459.56" x2="671.7" y2="459.56"/>
<line x1="660.8" y1="461.98" x2="671.7" y2="461.98"/>
<line x1="660.8" y1="464.40" x2="671.7" y2="464.40"/>
<line x1="660.8" y1="466.82" x2="671.7" y2="466.82"/>
<line x1="660.8" y1="469.24" x2="671.7" y2="469.24"/>
<line x1="660.8" y1="471.65" x2="671.7" y2="471.65"/>
<line x1="660.8" y1="474.07" x2="671.7" y2="474.07"/>
<line x1="660.8" y1="476.49" x2="671.7" y2="476.49"/>
<line x1="660.8" y1="478.91" x2="671.7" y2="478.91"/>
<line x1="660.8" y1="481.33" x2="671.7" y2="481.33"/>
<line x1="660.8" y1="483.75" x2="671.7" y2="483.75"/>
<line x1="660.8" y1="486.16" x2="671.7" y2="486.16"/>
<line x1="660.8" y1="488.58" x2="671.7" y2="488.58"/>
<line x1="660.8" y1="491.00" x2="671.7" y2="491.00"/>
<line x1="660.8" y1="493.42" x2="671.7" y2="493.42"/>
<line x1="660.8" y1="495.84" x2="671.7" y2="495.84"/>
<line x1="660.8" y1="498.25" x2="671.7" y2="498.25"/>
<line x1="660.8" y1="500.67" x2="671.7" y2="500.67"/>
<line x1="660.8" y1="503.09" x2="671.7" y2="503.09"/>
<line x1="660.8" y1="505.51" x2="671.7" y2="505.51"/>
<line x1="660.8" y1="507.93" x2="671.7" y2="507.93"/>
<line x1="660.8" y1="510.35" x2="671.7" y2="510.35"/>
<line x1="660.8" y1="512.76" x2="671.7" y2="512.76"/>
<line x1="660.8" y1="515.18" x2="671.7" y2="515.18"/>
<line x1="660.8" y1="517.60" x2="671.7" y2="517.60"/>
<line x1="660.8" y1="520.02" x2="671.7" y2="520.02"/>
<line x1="660.8" y1="522.44" x2="671.7" y2="522.44"/>
<line x1="660.8" y1="524.85" x2="671.7" y2="524.85"/>
<line x1="660.8" y1="527.27" x2="671.7" y2="527.27"/>
<line x1="660.8" y1="529.69" x2="671.7" y2="529.69"/>
<line x1="660.8" y1="532.11" x2="671.7" y2="532.11"/>
<line x1="660.8" y1="534.53" x2="671.7" y2="534.53"/>
<line x1="660.8" y1="536.95" x2="671.7" y2="536.95"/>
<line x1="660.8" y1="539.36" x2="671.7" y2="539.36"/>
<line x1="660.8" y1="541.78" x2="671.7" y2="541.78"/>
<line x1="660.8" y1="544.20" x2="671.7" y2="544.20"/>
<line x1="660.8" y1="546.62" x2="671.7" y2="546.62"/>
<line x1="660.8" y1="549.04" x2="671.7" y2="549.04"/>
<line x1="660.8" y1="551.45" x2="671.7" y2="551.45"/>
<line x1="660.8" y1="553.87" x2="671.7" y2="553.87"/>
<line x1="660.8" y1="556.29" x2="671.7" y2="556.29"/>
<line x1="660.8" y1="558.71" x2="671.7" y2="558.71"/>
<line x1="660.8" y1="561.13" x2="671.7" y2="561.13"/>
<line x1="660.8" y1="563.55" x2="671.7" y2="563.55"/>
<line x1="660.8" y1="565.96" x2="671.7" y2="565.96"/>
<line x1="660.8" y1="568.38" x2="671.7" y2="568.38"/>
</g>
<rect x="660.80" y="570.80" width="10.90" height="2.00" fill="#e6eef2"/>
<text transform="translate(673.40,438.08) scale(1,1.04)" font-size="8.6" fill="#1a1a1a" stroke="#1a1a1a" stroke-width="0.30">2</text>
<text transform="translate(673.40,468.28) scale(1,1.04)" font-size="8.6" fill="#1a1a1a" stroke="#1a1a1a" stroke-width="0.30">0</text>
<text transform="translate(673.40,497.78) scale(1,1.04)" font-size="8.6" fill="#1a1a1a" stroke="#1a1a1a" stroke-width="0.30">−2</text>
<text transform="translate(673.40,526.78) scale(1,1.04)" font-size="8.6" fill="#1a1a1a" stroke="#1a1a1a" stroke-width="0.30">−4</text>
<text transform="translate(673.40,556.18) scale(1,1.04)" font-size="8.6" fill="#1a1a1a" stroke="#1a1a1a" stroke-width="0.30">−6</text>
</svg>
</body></html>
